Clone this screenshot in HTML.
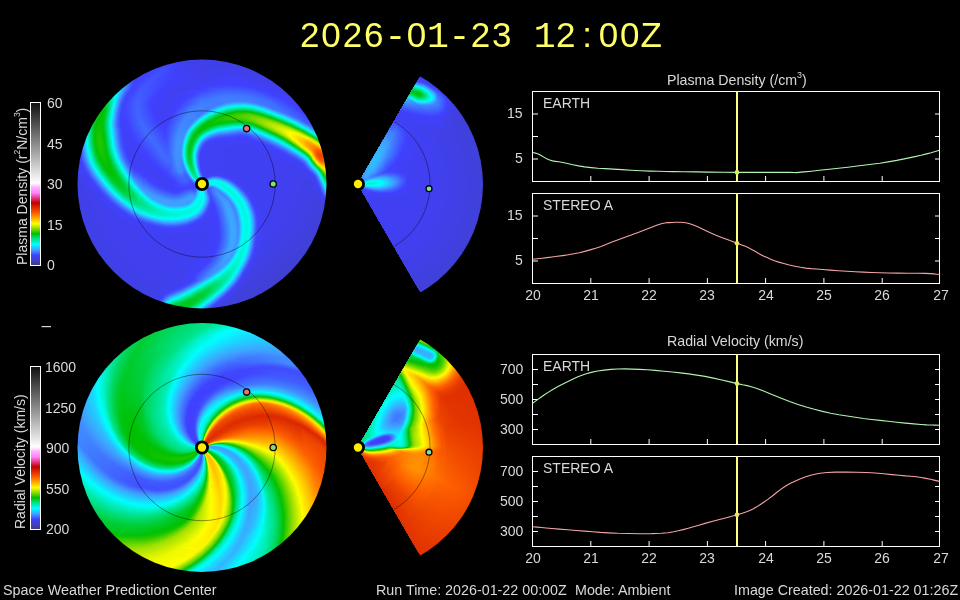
<!DOCTYPE html><html><head><meta charset="utf-8"><style>
*{margin:0;padding:0;box-sizing:border-box}
html,body{width:960px;height:600px;background:#000;overflow:hidden}
body{position:relative;font-family:"Liberation Sans",sans-serif;color:#d8d8d8}
.t{position:absolute;white-space:nowrap;line-height:1;will-change:transform}
.disc{position:absolute;left:0;top:0;width:960px;height:600px}
.rc{position:absolute}
.rc i{position:absolute;border-radius:50%}
.blur{filter:blur(0.4px)}
</style></head><body><div class="t" style="left:298.5px;top:17px;font-size:35px;color:#ffff66"><span style="display:inline-block;width:21.35px;text-align:center">2</span><span style="display:inline-block;width:21.35px;text-align:center">0</span><span style="display:inline-block;width:21.35px;text-align:center">2</span><span style="display:inline-block;width:21.35px;text-align:center">6</span><span style="display:inline-block;width:21.35px;text-align:center;font-family:'Liberation Mono',monospace;font-size:36.5px">-</span><span style="display:inline-block;width:21.35px;text-align:center">0</span><span style="display:inline-block;width:21.35px;text-align:center;font-family:'Liberation Mono',monospace;font-size:36.5px">1</span><span style="display:inline-block;width:21.35px;text-align:center;font-family:'Liberation Mono',monospace;font-size:36.5px">-</span><span style="display:inline-block;width:21.35px;text-align:center">2</span><span style="display:inline-block;width:21.35px;text-align:center">3</span><span style="display:inline-block;width:21.35px;text-align:center">&nbsp;</span><span style="display:inline-block;width:21.35px;text-align:center;font-family:'Liberation Mono',monospace;font-size:36.5px">1</span><span style="display:inline-block;width:21.35px;text-align:center">2</span><span style="display:inline-block;width:21.35px;text-align:center">:</span><span style="display:inline-block;width:21.35px;text-align:center">0</span><span style="display:inline-block;width:21.35px;text-align:center">0</span><span style="display:inline-block;width:21.35px;text-align:center">Z</span></div>
<div class="disc" style="clip-path:circle(124.5px at 202px 184px)"><div class="disc blur" style="border-radius:0"><div class="rc" style="left:76px;top:58px;width:252px;height:252px"><i style="inset:0px;background:conic-gradient(#4040e8 0%,#4040eb 11.67%,#4040ff 16.11%,#4052ff 17.5%,#408aff 18.06%,#34b2ff 18.33%,#13e3ff 18.61%,#00f6dc 18.89%,#00e38c 19.17%,#00c71e 19.44%,#57d100 19.72%,#c6ec00 20%,#ffe900 20.28%,#ff9000 20.83%,#ff6800 21.39%,#ff7600 21.94%,#ffa700 22.5%,#fff500 23.06%,#37cb00 24.17%,#00c30d 24.44%,#00cf3c 24.72%,#00e182 25%,#00f7dd 25.56%,#0debff 25.83%,#4097ff 26.39%,#405fff 26.67%,#4040f6 26.94%,#4040db 27.78%,#4040cf 36.94%,#4040db 47.22%,#4040f3 48.89%,#4042ff 49.17%,#409eff 50%,#0befff 50.56%,#00f8e1 50.83%,#00d142 51.94%,#00cb2d 52.22%,#00c71c 52.78%,#00cc2f 53.61%,#00d555 53.89%,#00f8e2 54.44%,#1fd1ff 54.72%,#408fff 55%,#405bff 55.28%,#4040fa 55.56%,#4040e6 56.67%,#4040e8 75.28%,#4040eb 77.22%,#4040fd 78.61%,#4062ff 79.44%,#409eff 80.28%,#00fffe 81.39%,#00eaa9 82.22%,#00cc32 83.61%,#00c411 84.17%,#00c001 84.72%,#00c104 85.28%,#00cc30 86.11%,#00f7df 87.78%,#00fdf8 88.06%,#0af1ff 88.33%,#3ea2ff 89.44%,#4040fd 91.11%,#4042ff 95.56%,#4040ea 97.78%,#4040e8 100%)"></i><i style="inset:1px;background:conic-gradient(#4040e8 0%,#4040ea 10.83%,#4042ff 15.83%,#4053ff 17.22%,#4063ff 17.5%,#3ca6ff 18.06%,#1dd3ff 18.33%,#00fcf1 18.61%,#00e9a7 18.89%,#00d042 19.17%,#31ca00 19.44%,#a5e200 19.72%,#fffa00 20%,#ff9300 20.56%,#ff6f00 20.83%,#f75400 21.39%,#ff6200 21.94%,#ff7b00 22.22%,#fff700 23.06%,#1bc500 24.17%,#00cc2e 24.44%,#00e9a4 25%,#01fdff 25.56%,#38acff 26.11%,#4051ff 26.67%,#4040f2 26.94%,#4040dd 27.5%,#4040da 28.06%,#4040d0 38.89%,#4040db 47.22%,#4040e8 48.33%,#4040fb 48.89%,#4051ff 49.17%,#4090ff 49.72%,#15e0ff 50.28%,#00fcf1 50.56%,#00d34a 51.67%,#00c922 52.22%,#00c71b 52.78%,#00ca29 53.33%,#00d03e 53.61%,#00da67 53.89%,#00fbed 54.44%,#24caff 54.72%,#408aff 55%,#4058ff 55.28%,#4040f9 55.56%,#4040e6 56.67%,#4040e8 75.28%,#4040ed 77.22%,#4040fd 78.33%,#4061ff 79.17%,#409cff 80%,#11e6ff 80.83%,#00fffe 81.11%,#00d041 83.06%,#00c40f 83.89%,#02c000 84.44%,#00c104 85.28%,#00c820 85.83%,#00fbf0 87.78%,#06f6ff 88.06%,#4096ff 89.44%,#4062ff 90.28%,#4040fa 91.11%,#4048ff 95%,#4040ff 95.83%,#4040eb 97.78%,#4040e8 100%)"></i><i style="inset:2px;background:conic-gradient(#4040e8 0%,#4040eb 10.56%,#4040ff 15.28%,#405eff 17.22%,#409bff 17.78%,#04f8ff 18.33%,#00efbe 18.61%,#00da69 18.89%,#0cc200 19.17%,#e5f600 19.72%,#ffd600 20%,#ff7500 20.56%,#fa5900 20.83%,#f14a00 21.39%,#fb5a00 21.94%,#ff7500 22.22%,#fcfe00 23.06%,#6fd600 23.61%,#34ca00 23.89%,#00c512 24.17%,#00d85e 24.44%,#00f2cb 25%,#00fdf7 25.28%,#18dbff 25.56%,#408fff 26.11%,#4043ff 26.67%,#4040ed 26.94%,#4040da 28.06%,#4040d0 38.89%,#4040db 46.94%,#4040f7 48.61%,#4049ff 48.89%,#39aaff 49.72%,#02fcff 50.28%,#00e9a5 50.83%,#00ce37 51.67%,#00c925 51.94%,#00c61a 52.5%,#00c924 53.06%,#00d553 53.61%,#00edb5 54.17%,#00fefc 54.44%,#2ac0ff 54.72%,#4084ff 55%,#4055ff 55.28%,#4040f8 55.56%,#4040e6 56.67%,#4040e8 75%,#4040ec 76.94%,#4040fd 78.06%,#4061ff 78.89%,#409aff 79.72%,#00fffe 80.83%,#00cf3a 82.78%,#00c30d 83.61%,#03c100 84.17%,#00c105 85.28%,#00ca27 85.83%,#03fbff 87.78%,#409bff 89.17%,#4041ff 90.83%,#404aff 95%,#4042ff 95.83%,#4040eb 97.78%,#4040e8 100%)"></i><i style="inset:3px;background:conic-gradient(#4040e8 0%,#4040ec 10.56%,#4040ff 14.72%,#4059ff 16.94%,#4092ff 17.5%,#0eeaff 18.06%,#00f5d6 18.33%,#00e289 18.61%,#00c71b 18.89%,#55d100 19.17%,#c0eb00 19.44%,#ffec00 19.72%,#ffb800 20%,#ff6000 20.56%,#ed4400 21.11%,#ed4400 21.39%,#fa5800 21.94%,#ff7800 22.22%,#ffdc00 22.78%,#def400 23.06%,#00c000 23.89%,#00e594 24.44%,#00fdf8 25%,#13e3ff 25.28%,#4097ff 25.83%,#4040f9 26.67%,#4040e1 27.22%,#4040dc 27.78%,#4040d1 36.67%,#4040db 46.67%,#4040f4 48.33%,#4042ff 48.61%,#409fff 49.44%,#0aefff 50%,#00f8e1 50.28%,#00d03f 51.39%,#00ca28 51.67%,#00c619 52.22%,#00c81f 52.78%,#00d247 53.33%,#00e596 53.89%,#09f2ff 54.44%,#32b5ff 54.72%,#407dff 55%,#4051ff 55.28%,#4040f7 55.56%,#4040e6 56.67%,#4040e8 75%,#4040fc 77.78%,#4061ff 78.61%,#4099ff 79.44%,#00ffff 80.56%,#00cd35 82.5%,#00c513 83.06%,#04c100 83.89%,#00c000 85%,#00c30b 85.28%,#00cd34 85.83%,#00fefc 87.5%,#409aff 88.89%,#4052ff 90.28%,#4040fc 90.83%,#404cff 95%,#4044ff 95.83%,#4040eb 97.78%,#4040e8 100%)"></i><i style="inset:4px;background:conic-gradient(#4040e9 0%,#4040ec 9.72%,#4042ff 14.44%,#4059ff 16.67%,#408aff 17.22%,#36afff 17.5%,#18dbff 17.78%,#00faea 18.06%,#00e8a3 18.33%,#00d142 18.61%,#30ca00 18.89%,#fbfe00 19.44%,#ff7300 20.28%,#f95700 20.56%,#eb4100 21.11%,#f14b00 21.67%,#fc5c00 21.94%,#ff8200 22.22%,#fff300 22.78%,#b8e800 23.06%,#08c200 23.61%,#00d145 23.89%,#00e593 24.17%,#00f1c5 24.44%,#00fcf2 24.72%,#16deff 25%,#4096ff 25.56%,#4043ff 26.39%,#4040f2 26.67%,#4040dc 27.78%,#4040d2 39.44%,#4040dd 46.67%,#4040e4 47.5%,#4040fd 48.33%,#4053ff 48.61%,#4093ff 49.17%,#14e2ff 49.72%,#00fcf1 50%,#00dc6e 50.83%,#00cc2e 51.39%,#00c618 52.22%,#00ca28 52.78%,#00cf3d 53.06%,#00ecb1 53.89%,#00f8e4 54.17%,#15e0ff 54.44%,#3ba8ff 54.72%,#4074ff 55%,#404cff 55.28%,#4040f6 55.56%,#4040e7 56.67%,#4040e9 74.72%,#4040fb 77.5%,#4051ff 78.06%,#4099ff 79.17%,#01fdff 80.28%,#00d34b 81.94%,#00c71c 82.5%,#02c000 83.33%,#03c100 84.72%,#00c106 85%,#00cb2d 85.56%,#00fcf3 87.22%,#0cedff 87.5%,#409bff 88.61%,#4040ff 90.56%,#404eff 95%,#4040ff 96.11%,#4040ec 97.78%,#4040e9 100%)"></i><i style="inset:5px;background:conic-gradient(#4040e9 0%,#4040ed 9.44%,#4040fe 13.61%,#405bff 16.39%,#4069ff 16.67%,#3ca6ff 17.22%,#00fffe 17.78%,#00da67 18.33%,#08c200 18.61%,#77d800 18.89%,#d5f100 19.17%,#ffe200 19.44%,#ff6800 20.28%,#f75400 20.56%,#ec4200 21.11%,#f45000 21.67%,#ff6700 21.94%,#ffd100 22.5%,#e7f700 22.78%,#1bc500 23.33%,#00d042 23.61%,#00e48f 23.89%,#00f2cb 24.17%,#00fdf9 24.44%,#16deff 24.72%,#409aff 25.28%,#4045ff 26.11%,#4040f8 26.39%,#4040e5 26.94%,#4040dd 27.78%,#4040d3 37.78%,#4040dd 46.39%,#4040fa 48.06%,#4068ff 48.61%,#37adff 49.17%,#01feff 49.72%,#00e9a4 50.28%,#00ce37 51.11%,#00c924 51.39%,#00c618 51.94%,#00c923 52.5%,#00cd35 52.78%,#00e8a1 53.61%,#00feff 54.17%,#4099ff 54.72%,#4047ff 55.28%,#4040f5 55.56%,#4040e7 56.67%,#4040e9 75%,#4042ff 77.5%,#4099ff 78.89%,#02fbff 80%,#00cc2f 81.94%,#01c000 82.78%,#04c100 84.44%,#00c411 85%,#00d040 85.56%,#00faeb 86.94%,#09f2ff 87.22%,#4099ff 88.33%,#4042ff 90.28%,#404fff 95%,#4040ff 96.11%,#4040ec 97.78%,#4040e9 100%)"></i><i style="inset:6px;background:conic-gradient(#4040e9 0%,#4040ed 8.61%,#4040fe 13.06%,#405dff 16.11%,#4065ff 16.39%,#409fff 16.94%,#08f3ff 17.5%,#00f3ce 17.78%,#00e186 18.06%,#00c71d 18.33%,#4dcf00 18.61%,#b3e600 18.89%,#fff900 19.17%,#ffa000 19.72%,#ff6500 20.28%,#f04800 21.11%,#fb5a00 21.67%,#ff7e00 21.94%,#fff000 22.5%,#b0e500 22.78%,#3ccc00 23.06%,#00cd33 23.33%,#00e48f 23.61%,#03fbff 24.17%,#4094ff 25%,#405dff 25.56%,#4040f8 26.11%,#4040de 27.5%,#4040d4 37.5%,#4040dd 46.11%,#4040f8 47.78%,#4048ff 48.06%,#3ea3ff 48.89%,#09f1ff 49.44%,#00f7de 49.72%,#00d040 50.83%,#00c81e 51.39%,#00c619 51.94%,#00cc2f 52.5%,#00d249 52.78%,#00faec 53.89%,#11e5ff 54.17%,#408aff 54.72%,#4042ff 55.28%,#4040ec 55.83%,#4040e7 56.67%,#4040ea 75%,#4040fe 77.22%,#405bff 77.78%,#4097ff 78.61%,#04f9ff 79.72%,#00cb2d 81.67%,#04c100 82.5%,#0cc200 83.06%,#04c100 84.17%,#00c410 84.72%,#00cf3b 85.28%,#05f8ff 86.94%,#4096ff 88.06%,#406aff 88.89%,#4044ff 90%,#4050ff 94.44%,#4040fc 96.39%,#4040e9 100%)"></i><i style="inset:7px;background:conic-gradient(#4040ea 0%,#4040ee 8.61%,#4041ff 12.78%,#4063ff 16.11%,#4098ff 16.67%,#10e7ff 17.22%,#00f7e0 17.5%,#00e79c 17.78%,#00d041 18.06%,#2ac800 18.33%,#e6f700 18.89%,#ffdc00 19.17%,#ff9100 19.72%,#ff6800 20.28%,#f75400 20.83%,#fb5a00 21.39%,#ff7100 21.67%,#ffd600 22.22%,#daf300 22.5%,#67d500 22.78%,#00c514 23.06%,#00e286 23.33%,#00f3ce 23.61%,#06f7ff 23.89%,#36afff 24.44%,#408eff 24.72%,#4049ff 25.56%,#4040fa 25.83%,#4040df 27.5%,#4040d5 36.67%,#4040dc 45.56%,#4040f6 47.5%,#4044ff 47.78%,#409aff 48.61%,#11e6ff 49.17%,#00fbee 49.44%,#00d34c 50.56%,#00c923 51.11%,#00c61a 51.67%,#00cb2a 52.22%,#00d041 52.5%,#00f6dc 53.61%,#07f5ff 53.89%,#3da4ff 54.44%,#4057ff 55%,#4040fc 55.28%,#4040ec 55.83%,#4040e8 56.67%,#4040ea 75%,#4040fc 76.94%,#4057ff 77.5%,#4094ff 78.33%,#05f8ff 79.44%,#00cb2c 81.39%,#00c105 81.94%,#06c100 82.22%,#0fc300 83.06%,#03c100 83.89%,#00c410 84.44%,#00ce39 85%,#01fdff 86.67%,#38abff 87.5%,#4095ff 87.78%,#4066ff 88.61%,#4043ff 89.72%,#4051ff 94.17%,#4040fc 96.39%,#4040ea 100%)"></i><i style="inset:8px;background:conic-gradient(#4040ea 0%,#4040ef 8.33%,#4040ff 12.22%,#4061ff 15.83%,#4093ff 16.39%,#17ddff 16.94%,#00fbf0 17.22%,#00d860 17.78%,#06c100 18.06%,#c5ec00 18.61%,#fff200 18.89%,#ffc400 19.17%,#ff8a00 19.72%,#ff6600 20.56%,#ff6500 21.11%,#ff7400 21.39%,#ff9400 21.67%,#feff00 22.22%,#92dd00 22.5%,#12c400 22.78%,#00dc6e 23.06%,#00f1c7 23.33%,#07f5ff 23.61%,#3ca6ff 24.17%,#406dff 24.72%,#4040fa 25.56%,#4040e0 27.5%,#4040d6 38.33%,#4040df 45.83%,#4041ff 47.5%,#4090ff 48.33%,#19daff 48.89%,#00fefc 49.17%,#00e9a4 49.72%,#00cf3b 50.56%,#00c71c 51.39%,#00ca27 51.94%,#00cf3b 52.22%,#00e9a5 53.06%,#00fefb 53.61%,#18dbff 53.89%,#408fff 54.44%,#404dff 55%,#4040f9 55.28%,#4040e8 56.67%,#4040ea 74.72%,#4040fb 76.67%,#4053ff 77.22%,#3aa9ff 78.33%,#05f7ff 79.17%,#00fae9 79.44%,#00cb2d 81.11%,#00c104 81.67%,#13c400 82.5%,#05c100 83.61%,#00c410 84.17%,#00ce38 84.72%,#00fefb 86.39%,#4095ff 87.5%,#4062ff 88.33%,#4041ff 89.44%,#4052ff 93.61%,#4040fc 96.39%,#4040ea 100%)"></i><i style="inset:9px;background:conic-gradient(#4040ea 0%,#4040ef 7.5%,#4040ff 11.67%,#4063ff 15.56%,#36afff 16.39%,#00fefc 16.94%,#00df7c 17.5%,#00c619 17.78%,#47ce00 18.06%,#a5e200 18.33%,#f3fb00 18.61%,#ff9a00 19.44%,#ff8800 19.72%,#ff7700 20.56%,#ff8400 21.11%,#ff9900 21.39%,#fff300 21.94%,#b4e700 22.22%,#3acc00 22.5%,#00d24a 22.78%,#00ecb1 23.06%,#01feff 23.33%,#40a0ff 23.89%,#4054ff 24.72%,#4040f9 25.28%,#4040e1 27.22%,#4040d7 38.33%,#4040df 45.56%,#4040fd 47.22%,#406bff 47.78%,#38abff 48.33%,#05f7ff 48.89%,#00d145 50.28%,#00c924 50.83%,#00c81e 51.39%,#00cd35 51.94%,#00d451 52.22%,#00fbee 53.33%,#10e7ff 53.61%,#409dff 54.17%,#4044ff 55%,#4040f6 55.28%,#4040e8 56.39%,#4040ea 73.61%,#4040f9 76.39%,#404eff 76.94%,#3ea3ff 78.06%,#07f5ff 78.89%,#00faea 79.17%,#00cb2e 80.83%,#00c103 81.39%,#16c400 82.22%,#09c200 83.33%,#00c410 83.89%,#00ce38 84.44%,#00fdf7 86.11%,#10e7ff 86.39%,#4097ff 87.22%,#406dff 87.78%,#4053ff 88.33%,#4040ff 89.17%,#4054ff 93.06%,#4041ff 96.11%,#4040ee 97.78%,#4040ea 100%)"></i><i style="inset:10px;background:conic-gradient(#4040ea 0%,#4040ef 7.22%,#4040fe 11.11%,#4065ff 15.28%,#4073ff 15.56%,#39abff 16.11%,#05f8ff 16.67%,#00e48f 17.22%,#00ce38 17.5%,#29c800 17.78%,#d5f100 18.33%,#ffeb00 18.61%,#ffa900 19.17%,#ff9600 19.44%,#ff8600 20%,#ff9200 20.56%,#ffad00 21.11%,#fff200 21.67%,#c6ec00 21.94%,#5cd200 22.22%,#00c822 22.5%,#00e594 22.78%,#00fae9 23.06%,#1ed3ff 23.33%,#3ea3ff 23.61%,#407eff 23.89%,#4041ff 24.72%,#4040e2 26.94%,#4040d8 36.94%,#4040de 45%,#4040e7 46.11%,#4040fc 46.94%,#4066ff 47.5%,#3da4ff 48.06%,#0cedff 48.61%,#00f9e7 48.89%,#00d44f 50%,#00ca2a 50.56%,#00c821 51.11%,#00cc32 51.67%,#00d249 51.94%,#00f8e2 53.06%,#08f3ff 53.33%,#3aa9ff 53.89%,#4069ff 54.44%,#4040fd 55%,#4040ee 55.56%,#4040e9 56.67%,#4040eb 74.44%,#4040fd 76.39%,#405aff 76.94%,#409dff 77.78%,#09f1ff 78.61%,#00fbee 78.89%,#00cc30 80.56%,#00c103 81.11%,#0bc200 81.39%,#19c500 82.22%,#02c000 83.33%,#00c40e 83.61%,#00d554 84.44%,#00fdf5 85.83%,#0eeaff 86.11%,#4099ff 86.94%,#405dff 87.78%,#4040ff 88.61%,#4055ff 92.5%,#4040ff 96.11%,#4040ee 97.78%,#4040ea 100%)"></i><i style="inset:11px;background:conic-gradient(#4040eb 0%,#4040fe 10.56%,#4067ff 15%,#4072ff 15.28%,#3ba7ff 15.83%,#0af0ff 16.39%,#00f6db 16.67%,#00e89f 16.94%,#00d451 17.22%,#0bc200 17.5%,#b8e800 18.06%,#feff00 18.33%,#ffb900 18.89%,#ff9400 19.44%,#ff9000 20%,#ff9e00 20.28%,#fffd00 21.39%,#c1eb00 21.67%,#6dd600 21.94%,#00c104 22.22%,#00de77 22.5%,#00f3cf 22.78%,#12e4ff 23.06%,#38adff 23.33%,#4081ff 23.61%,#4062ff 23.89%,#4040fe 24.44%,#4040e3 26.67%,#4040d9 36.94%,#4040df 45%,#4040fb 46.67%,#404cff 46.94%,#409fff 47.78%,#11e5ff 48.33%,#00fcf3 48.61%,#00e8a1 49.17%,#00d041 50%,#00c923 50.83%,#00cc2f 51.39%,#00d144 51.67%,#02fdff 53.06%,#4092ff 53.89%,#405aff 54.44%,#4040f8 55%,#4040e9 56.39%,#4040eb 73.33%,#4040fb 76.11%,#4054ff 76.67%,#4096ff 77.5%,#0decff 78.33%,#00fcf3 78.61%,#00c618 80.56%,#00c104 80.83%,#0bc200 81.11%,#1bc500 82.22%,#00c20a 83.33%,#00d554 84.17%,#00fcf3 85.56%,#0cedff 85.83%,#409cff 86.67%,#405dff 87.5%,#4040fd 88.33%,#4057ff 91.94%,#4040fe 96.11%,#4040eb 100%)"></i><i style="inset:12px;background:conic-gradient(#4040eb 0%,#4040fe 10%,#4068ff 14.72%,#4071ff 15%,#3da5ff 15.56%,#0eeaff 16.11%,#00f9e5 16.39%,#00ebac 16.67%,#00da68 16.94%,#00c30e 17.22%,#48ce00 17.5%,#e3f600 18.06%,#ffea00 18.33%,#ffb100 18.89%,#ffa200 19.17%,#ff9700 19.44%,#ffa200 20%,#fff600 20.83%,#ade400 21.39%,#66d400 21.67%,#0dc300 21.94%,#00d861 22.22%,#05f8ff 22.78%,#2cbdff 23.06%,#408dff 23.33%,#404cff 23.89%,#4040fd 24.17%,#4040e4 26.39%,#4040da 36.94%,#4040e0 44.72%,#4040fa 46.39%,#405fff 46.94%,#4098ff 47.5%,#17dcff 48.06%,#00fefc 48.33%,#00ebab 48.89%,#00d24a 49.72%,#00cb2c 50.28%,#00ca26 50.83%,#00d03f 51.39%,#00d75b 51.67%,#00fdf7 52.78%,#14e2ff 53.06%,#409dff 53.61%,#4063ff 54.17%,#4040fd 54.72%,#4040e9 56.39%,#4040eb 73.89%,#4040f9 75.83%,#4041ff 76.11%,#4060ff 76.67%,#3aa9ff 77.5%,#12e4ff 78.06%,#00fefb 78.33%,#00d553 79.72%,#00c105 80.56%,#1dc600 81.67%,#0cc200 82.78%,#00c103 83.06%,#00c619 83.33%,#00fcf1 85.28%,#0beeff 85.56%,#409eff 86.39%,#405fff 87.22%,#4040fc 88.06%,#4058ff 91.67%,#4040fd 96.11%,#4040eb 100%)"></i><i style="inset:13px;background:conic-gradient(#4040eb 0%,#4040fe 9.44%,#406aff 14.44%,#4070ff 14.72%,#3fa2ff 15.28%,#11e5ff 15.83%,#00fbee 16.11%,#00df7b 16.67%,#00c926 16.94%,#31ca00 17.22%,#c9ed00 17.78%,#fff900 18.06%,#ffab00 18.89%,#ffa000 19.44%,#ffb800 20%,#fffc00 20.56%,#05c100 21.67%,#00d658 21.94%,#00fcf2 22.5%,#20cfff 22.78%,#409eff 23.06%,#4053ff 23.61%,#4040fd 23.89%,#4040e5 26.11%,#4040db 36.67%,#4040e0 44.44%,#4040fa 46.11%,#4048ff 46.39%,#4094ff 47.22%,#04f9ff 48.06%,#00d554 49.44%,#00cd33 50%,#00ca2a 50.56%,#00cf3c 51.11%,#00d555 51.39%,#00faec 52.5%,#0debff 52.78%,#3ca6ff 53.33%,#4054ff 54.17%,#4040f8 54.72%,#4040ea 56.11%,#4040eb 73.33%,#4040fe 75.83%,#405aff 76.39%,#3fa1ff 77.22%,#03fbff 78.06%,#00ce37 79.72%,#00c207 80.28%,#1ec600 81.39%,#19c500 82.22%,#03c100 82.78%,#00cb2d 83.33%,#00fbef 85%,#0af0ff 85.28%,#409fff 86.11%,#4060ff 86.94%,#4040fc 87.78%,#4059ff 91.11%,#4040ff 95.83%,#4040eb 100%)"></i><i style="inset:14px;background:conic-gradient(#4040ec 0%,#4040fe 8.89%,#406bff 14.17%,#4070ff 14.44%,#3fa1ff 15%,#14e1ff 15.56%,#00fcf4 15.83%,#00e288 16.39%,#00ce3a 16.67%,#19c500 16.94%,#b1e600 17.5%,#eef900 17.78%,#ffe700 18.06%,#ffba00 18.61%,#ffa900 19.17%,#ffb700 19.72%,#fff800 20.28%,#c5ec00 20.56%,#27c800 21.11%,#00c619 21.39%,#00f9e5 22.22%,#17ddff 22.5%,#37adff 22.78%,#405dff 23.33%,#4044ff 23.61%,#4040f6 23.89%,#4040e5 26.11%,#4040dc 38.06%,#4040e0 44.17%,#4040f8 45.83%,#405bff 46.39%,#4090ff 46.94%,#36afff 47.22%,#09f2ff 47.78%,#00f9e4 48.06%,#00d75d 49.17%,#00ce38 49.72%,#00cb2e 50.28%,#00cf3b 50.83%,#00d450 51.11%,#00f8e1 52.22%,#07f4ff 52.5%,#36afff 53.06%,#408fff 53.33%,#405bff 53.89%,#4040fb 54.44%,#4040ea 56.39%,#4040ec 73.61%,#4040fb 75.56%,#4055ff 76.11%,#4097ff 76.94%,#09f2ff 77.78%,#00faea 78.06%,#00cf3b 79.44%,#00c209 80%,#08c200 80.28%,#1bc500 80.83%,#1ec600 81.67%,#00c30a 82.78%,#00fbee 84.72%,#09f2ff 85%,#3fa1ff 85.83%,#4062ff 86.67%,#4040fc 87.5%,#405bff 90.83%,#4040fe 95.83%,#4040ec 100%)"></i><i style="inset:15px;background:conic-gradient(#4040ec 0%,#4040ff 8.33%,#4070ff 14.17%,#409fff 14.72%,#16deff 15.28%,#00fefa 15.56%,#00e492 16.11%,#00d34b 16.39%,#06c100 16.67%,#9bdf00 17.22%,#d7f200 17.5%,#fff700 17.78%,#ffb900 18.61%,#ffb000 19.17%,#ffbb00 19.44%,#fff100 20%,#d2f000 20.28%,#21c700 20.83%,#00ce38 21.11%,#00df7d 21.39%,#00f9e5 21.94%,#10e7ff 22.22%,#408eff 22.78%,#404dff 23.33%,#4040fa 23.61%,#4040e6 25.56%,#4040dd 36.94%,#4040e1 43.89%,#4040f8 45.56%,#4045ff 45.83%,#408cff 46.67%,#38acff 46.94%,#0cedff 47.5%,#00fbee 47.78%,#00e9a4 48.33%,#00d44f 49.17%,#00cd32 50%,#00cf3a 50.56%,#00d34d 50.83%,#00ebaf 51.67%,#01fdff 52.22%,#4097ff 53.06%,#4062ff 53.61%,#4040fe 54.17%,#4040ee 55%,#4040ea 56.39%,#4040ec 73.61%,#4041ff 75.56%,#408fff 76.67%,#39abff 76.94%,#0fe8ff 77.5%,#00fcf4 77.78%,#00d040 79.17%,#00c30c 79.72%,#05c100 80%,#1ac500 80.56%,#1fc600 81.39%,#00c104 82.5%,#00ce3a 83.06%,#00faec 84.44%,#08f4ff 84.72%,#3ea4ff 85.56%,#4063ff 86.39%,#4040fd 87.22%,#405cff 90.56%,#4040ff 95.56%,#4040ec 100%)"></i><i style="inset:16px;background:conic-gradient(#4040ed 0%,#4040ff 7.78%,#4070ff 13.89%,#409fff 14.44%,#00fffd 15.28%,#00e69a 15.83%,#00c30c 16.39%,#85db00 16.94%,#f8fd00 17.5%,#ffc200 18.33%,#ffbd00 19.17%,#ffeb00 19.72%,#e1f500 20%,#96de00 20.28%,#35cb00 20.56%,#00cc2f 20.83%,#00e38c 21.11%,#00f0c1 21.39%,#00fbef 21.67%,#11e6ff 21.94%,#4098ff 22.5%,#4041ff 23.33%,#4040e8 24.72%,#4040de 35.56%,#4040e1 43.61%,#4040f7 45.28%,#4043ff 45.56%,#4057ff 45.83%,#3ca7ff 46.67%,#10e7ff 47.22%,#00fcf4 47.5%,#00ebac 48.06%,#00d659 48.89%,#00cf3d 49.44%,#00cd36 50%,#00d34c 50.56%,#00d965 50.83%,#00fdf6 51.94%,#13e3ff 52.22%,#409fff 52.78%,#4053ff 53.61%,#4040f9 54.17%,#4040eb 55.83%,#4040ec 72.5%,#4040fd 75.28%,#405aff 75.83%,#40a0ff 76.67%,#00ffff 77.5%,#00d247 78.89%,#03c100 79.72%,#18c500 80.28%,#20c600 81.11%,#18c500 81.67%,#00c000 82.22%,#00cc31 82.78%,#00fae9 84.17%,#06f5ff 84.44%,#3ca6ff 85.28%,#4065ff 86.11%,#4040fe 86.94%,#405dff 90.28%,#4040ff 95.28%,#4040ed 100%)"></i><i style="inset:17px;background:conic-gradient(#4040ed 0%,#4040ff 7.22%,#406bff 11.67%,#4071ff 13.61%,#409eff 14.17%,#01fdff 15%,#00e8a1 15.56%,#00c71a 16.11%,#2dc900 16.39%,#b0e500 16.94%,#e3f600 17.22%,#fff400 17.5%,#ffcf00 18.06%,#ffc100 18.61%,#ffd000 19.17%,#ffe800 19.44%,#edf900 19.72%,#a8e300 20%,#4fd000 20.28%,#00c515 20.56%,#00e07f 20.83%,#00f1c7 21.11%,#00fffd 21.39%,#16deff 21.67%,#409aff 22.22%,#405fff 22.78%,#4040f9 23.33%,#4040e8 24.72%,#4040de 36.39%,#4040e1 43.33%,#4040f6 45%,#4041ff 45.28%,#4053ff 45.56%,#3da4ff 46.39%,#13e2ff 46.94%,#00fefb 47.22%,#00edb4 47.78%,#00d962 48.61%,#00d145 49.17%,#00cf3b 49.72%,#00d34c 50.28%,#00d962 50.56%,#00fbed 51.67%,#0debff 51.94%,#3ba8ff 52.5%,#4059ff 53.33%,#4040fb 53.89%,#4040eb 56.11%,#4040ed 73.06%,#4040fb 75%,#4053ff 75.56%,#4098ff 76.39%,#07f4ff 77.22%,#00f9e5 77.5%,#00cc30 78.89%,#00c001 79.44%,#0dc300 79.72%,#20c600 80.83%,#19c500 81.39%,#03c100 81.94%,#00ca2a 82.5%,#04f9ff 84.17%,#3aa9ff 85%,#4068ff 85.83%,#4040ff 86.67%,#405eff 90%,#4041ff 95%,#4040ed 100%)"></i><i style="inset:18px;background:conic-gradient(#4040ee 0%,#4040ff 6.67%,#406cff 11.39%,#4072ff 13.33%,#409fff 13.89%,#02fbff 14.72%,#00e9a6 15.28%,#00ca27 15.83%,#20c600 16.11%,#9fe000 16.67%,#fcfe00 17.22%,#ffda00 17.78%,#ffc900 18.33%,#ffc900 18.61%,#ffe700 19.17%,#f7fc00 19.44%,#b9e800 19.72%,#08c200 20.28%,#00edb5 20.83%,#00fdf9 21.11%,#1cd5ff 21.39%,#409aff 21.94%,#4065ff 22.5%,#4040fd 23.06%,#4040e9 24.44%,#4040df 37.5%,#4040e3 43.61%,#4040fd 45%,#4067ff 45.56%,#40a0ff 46.11%,#01fdff 46.94%,#00e79d 47.78%,#00db6a 48.33%,#00d34a 48.89%,#00d03f 49.44%,#00d34d 50%,#00d861 50.28%,#00f9e4 51.39%,#08f3ff 51.67%,#36b0ff 52.22%,#4091ff 52.5%,#405eff 53.06%,#4040fe 53.61%,#4040eb 55.83%,#4040ed 73.06%,#4041ff 75%,#405fff 75.56%,#3aa9ff 76.39%,#10e8ff 76.94%,#00fcf1 77.22%,#00ce39 78.61%,#00c206 79.17%,#09c200 79.44%,#1ac500 80%,#1ec600 80.83%,#05c100 81.67%,#00c30e 81.94%,#00d143 82.5%,#00fefd 83.89%,#38abff 84.72%,#4093ff 85%,#4059ff 85.83%,#4041ff 86.39%,#405fff 90%,#4041ff 94.72%,#4040ee 100%)"></i><i style="inset:19px;background:conic-gradient(#4040ee 0%,#4040ff 6.11%,#406cff 10.83%,#4074ff 13.06%,#40a0ff 13.61%,#04f9ff 14.44%,#00eaab 15%,#00de76 15.28%,#00cc31 15.56%,#13c400 15.83%,#8fdd00 16.39%,#edf900 16.94%,#fff600 17.22%,#ffd300 18.06%,#ffd600 18.61%,#ffe700 18.89%,#fcfe00 19.17%,#c4ec00 19.44%,#7cd900 19.72%,#23c700 20%,#00d041 20.28%,#00e79d 20.56%,#00f9e5 20.83%,#16dfff 21.11%,#34b2ff 21.39%,#407cff 21.94%,#4042ff 22.78%,#4040f8 23.06%,#4040e8 24.72%,#4040e0 38.89%,#4040e4 43.33%,#4040fc 44.72%,#404dff 45%,#409bff 45.83%,#03faff 46.67%,#00e9a5 47.5%,#00d860 48.33%,#00d247 49.17%,#00d44f 49.72%,#00d861 50%,#00e698 50.56%,#03faff 51.39%,#4098ff 52.22%,#4064ff 52.78%,#4042ff 53.33%,#4040eb 55.56%,#4040ed 72.78%,#4040fe 74.72%,#4059ff 75.28%,#40a0ff 76.11%,#00ffff 76.94%,#00d143 78.33%,#00c30d 78.89%,#05c100 79.17%,#18c500 79.72%,#1dc600 80.56%,#06c100 81.39%,#00c30b 81.67%,#00d03e 82.22%,#00fbf0 83.61%,#0eebff 83.89%,#4096ff 84.72%,#405cff 85.56%,#4043ff 86.11%,#4042ff 87.22%,#405fff 89.72%,#4041ff 94.44%,#4040ee 100%)"></i><i style="inset:20px;background:conic-gradient(#4040ef 0%,#4040ff 5.56%,#406eff 10.56%,#4073ff 12.5%,#4077ff 12.78%,#3fa1ff 13.33%,#04f9ff 14.17%,#00f6dc 14.44%,#00df7d 15%,#0ac200 15.56%,#b3e600 16.39%,#ffff00 16.94%,#ffd900 17.78%,#ffd900 18.06%,#ffdd00 18.33%,#feff00 18.89%,#ceef00 19.17%,#8ddc00 19.44%,#3acc00 19.72%,#00c923 20%,#00e186 20.28%,#00f3cf 20.56%,#0af0ff 20.83%,#4096ff 21.39%,#4078ff 21.67%,#4045ff 22.5%,#4040fa 22.78%,#4040e9 24.44%,#4040e1 37.5%,#4040e4 43.06%,#4040fa 44.44%,#4061ff 45%,#4099ff 45.56%,#08f4ff 46.39%,#00f9e8 46.67%,#00ebab 47.22%,#00db6c 48.06%,#00d75c 48.33%,#00d34c 49.17%,#00d862 49.72%,#00edb4 50.56%,#00fffe 51.11%,#409fff 51.94%,#4055ff 52.78%,#4040fb 53.33%,#4040ec 55.56%,#4040ed 72.5%,#4040fc 74.44%,#4054ff 75%,#4095ff 75.83%,#09f2ff 76.67%,#00f9e4 76.94%,#00cc2e 78.33%,#00c000 78.89%,#0dc300 79.17%,#1cc600 80.28%,#00c209 81.39%,#00cf3a 81.94%,#00f8e3 83.33%,#06f6ff 83.61%,#409bff 84.44%,#405eff 85.28%,#4040fc 86.11%,#4040ff 86.94%,#4060ff 89.44%,#4040ff 94.17%,#4040ef 100%)"></i><i style="inset:21px;background:conic-gradient(#4040f0 0%,#4040ff 5%,#406eff 10%,#4073ff 12.22%,#407bff 12.5%,#3da4ff 13.06%,#04f9ff 13.89%,#00e081 14.72%,#00c000 15.28%,#a7e200 16.11%,#effa00 16.67%,#fff800 16.94%,#ffe000 17.78%,#feff00 18.61%,#d5f100 18.89%,#9bdf00 19.17%,#00c20a 19.72%,#00db6a 20%,#00fefc 20.56%,#21cfff 20.83%,#3ea3ff 21.11%,#4062ff 21.67%,#4040fb 22.5%,#4040ea 24.17%,#4040e1 36.67%,#4040e4 42.78%,#4040f9 44.17%,#4047ff 44.44%,#4092ff 45.28%,#0af0ff 46.11%,#00fbef 46.39%,#00ecb3 46.94%,#00de76 47.78%,#00d75d 48.33%,#00d554 48.89%,#00d657 49.17%,#00df7c 49.72%,#00ecb1 50.28%,#00fdf8 50.83%,#12e5ff 51.11%,#3ca6ff 51.67%,#405aff 52.5%,#4040fd 53.06%,#4040ec 55.28%,#4040ee 72.22%,#4040fa 74.17%,#4042ff 74.44%,#4073ff 75.28%,#3aa9ff 75.83%,#10e8ff 76.39%,#00fcf4 76.67%,#00ce37 78.06%,#00c207 78.61%,#08c200 78.89%,#1ac500 80%,#00c208 81.11%,#00ce38 81.67%,#00fffe 83.33%,#3da4ff 84.17%,#4061ff 85%,#4040fd 85.83%,#4061ff 89.44%,#4040ff 93.89%,#4040f0 100%)"></i><i style="inset:22px;background:conic-gradient(#4040f1 0%,#4040ff 4.44%,#4070ff 9.72%,#4074ff 11.94%,#3aa8ff 12.78%,#03fbff 13.61%,#00e184 14.44%,#00c206 15%,#33ca00 15.28%,#9bdf00 15.83%,#e4f600 16.39%,#fbfe00 16.67%,#ffe900 17.5%,#fff000 18.06%,#fbfe00 18.33%,#d6f200 18.61%,#a3e100 18.89%,#0dc300 19.44%,#00e8a2 20%,#00f9e5 20.28%,#15e0ff 20.56%,#34b1ff 20.83%,#406aff 21.39%,#4044ff 21.94%,#4040fb 22.22%,#4040ea 24.17%,#4040e2 35.83%,#4040e4 42.5%,#4040f7 43.89%,#4043ff 44.17%,#408fff 45%,#38acff 45.28%,#0debff 45.83%,#00fdf5 46.11%,#00e8a1 46.94%,#00e07e 47.5%,#00d75a 48.61%,#00e07e 49.44%,#00ebaf 50%,#00fcf3 50.56%,#0fe9ff 50.83%,#39abff 51.39%,#408eff 51.67%,#405fff 52.22%,#4040ff 52.78%,#4040f0 53.61%,#4040ec 55.28%,#4040ee 71.94%,#4040ff 74.17%,#4059ff 74.72%,#409dff 75.56%,#01fdff 76.39%,#00d042 77.78%,#00c30d 78.33%,#03c100 78.61%,#18c500 79.72%,#00c207 80.83%,#00cd35 81.39%,#00fdf5 83.06%,#0fe9ff 83.33%,#4092ff 84.17%,#4065ff 84.72%,#4040fe 85.56%,#4040ff 86.67%,#4062ff 89.17%,#4040ff 93.61%,#4040f1 100%)"></i><i style="inset:23px;background:conic-gradient(#4040f2 0%,#4040ff 3.89%,#4072ff 9.44%,#4076ff 11.67%,#37adff 12.5%,#01fdff 13.33%,#00e185 14.17%,#00c30d 14.72%,#2cc900 15%,#b8e800 15.83%,#f0fa00 16.39%,#fffe00 16.67%,#ffef00 17.22%,#fff700 17.78%,#f7fc00 18.06%,#a9e300 18.61%,#1fc600 19.17%,#00ce38 19.44%,#00e38e 19.72%,#00f4d1 20%,#0af1ff 20.28%,#4098ff 20.83%,#405bff 21.39%,#4040fb 21.94%,#4040eb 23.89%,#4040e3 38.61%,#4040e7 42.78%,#4040ff 43.89%,#3ba7ff 45%,#00fef9 45.83%,#00efbe 46.39%,#00e594 46.94%,#00de79 47.5%,#00d966 48.33%,#00dc71 48.89%,#00e595 49.44%,#00fbf0 50.28%,#0cedff 50.56%,#4094ff 51.39%,#4051ff 52.22%,#4040fa 52.78%,#4040ec 54.44%,#4040ee 71.11%,#4040fd 73.89%,#4066ff 74.72%,#4096ff 75.28%,#09f1ff 76.11%,#00f9e8 76.39%,#00cb2e 77.78%,#00c002 78.33%,#09c200 78.61%,#15c400 79.44%,#00c207 80.56%,#00cd33 81.11%,#00fbef 82.78%,#0af0ff 83.06%,#409cff 83.89%,#4059ff 84.72%,#4041ff 85.28%,#4040fd 86.39%,#4062ff 89.17%,#4041ff 93.06%,#4040f2 100%)"></i><i style="inset:24px;background:conic-gradient(#4040f3 0%,#4040ff 3.33%,#4071ff 8.61%,#4077ff 11.11%,#409fff 11.94%,#00fefd 13.06%,#00e184 13.89%,#00c410 14.44%,#26c800 14.72%,#afe500 15.56%,#e4f600 16.11%,#fffd00 16.67%,#fffd00 17.5%,#f1fb00 17.78%,#ade400 18.33%,#2cc900 18.89%,#00c924 19.17%,#00df7c 19.44%,#00fefc 20%,#1fd1ff 20.28%,#3ba7ff 20.56%,#4064ff 21.11%,#4040fe 21.67%,#4040eb 23.61%,#4040e4 36.67%,#4040e6 42.22%,#4040fc 43.61%,#4066ff 44.17%,#3fa2ff 44.72%,#01fdff 45.56%,#00f1c6 46.11%,#00e79d 46.67%,#00de79 47.5%,#00dc6f 48.06%,#00e186 48.89%,#00ecb0 49.44%,#00fbee 50%,#0befff 50.28%,#4097ff 51.11%,#4055ff 51.94%,#4040fb 52.5%,#4040ec 55%,#4040ee 71.67%,#4040fc 73.61%,#4062ff 74.44%,#3aa8ff 75.28%,#12e5ff 75.83%,#00fdf5 76.11%,#00ce38 77.5%,#00c208 78.06%,#05c100 78.33%,#13c400 79.17%,#00c207 80.28%,#00cc31 80.83%,#00faea 82.5%,#06f5ff 82.78%,#3ca5ff 83.61%,#4060ff 84.44%,#4040fb 85.28%,#4040ff 86.39%,#4063ff 88.89%,#4040ff 92.78%,#4040f3 100%)"></i><i style="inset:25px;background:conic-gradient(#4040f4 0%,#4040ff 2.78%,#4074ff 8.61%,#4077ff 10.83%,#3ba7ff 11.67%,#0eeaff 12.5%,#00fdf6 12.78%,#00ebab 13.33%,#00e183 13.61%,#00c513 14.17%,#23c700 14.44%,#81da00 15%,#c4ec00 15.56%,#ebf800 16.11%,#ffff00 16.94%,#ecf900 17.5%,#d1f000 17.78%,#ace400 18.06%,#36cb00 18.61%,#00c514 18.89%,#00da67 19.17%,#00faea 19.72%,#15e0ff 20%,#32b4ff 20.28%,#406fff 20.83%,#4045ff 21.39%,#4040fa 21.67%,#4040ec 23.61%,#4040e4 37.78%,#4040e7 42.22%,#4040fa 43.33%,#4060ff 43.89%,#4099ff 44.44%,#04f8ff 45.28%,#00e9a3 46.39%,#00de79 47.78%,#00e080 48.33%,#00e79c 48.89%,#00fbee 49.72%,#0af1ff 50%,#409bff 50.83%,#4058ff 51.67%,#4040fd 52.22%,#4040ed 54.44%,#4040ee 71.39%,#4040fb 73.33%,#405cff 74.17%,#409fff 75%,#03fbff 75.83%,#00d145 77.22%,#00ca26 77.5%,#01c000 78.06%,#11c300 78.89%,#00c207 80%,#00cc30 80.56%,#04f9ff 82.5%,#4094ff 83.61%,#4057ff 84.44%,#4040fd 85%,#4042ff 86.39%,#4063ff 88.89%,#4040fe 92.5%,#4040ef 97.22%,#4040f4 100%)"></i><i style="inset:26px;background:conic-gradient(#4040f5 0%,#4040ff 2.22%,#4071ff 7.5%,#4079ff 10.28%,#409eff 11.11%,#09f2ff 12.22%,#00fbef 12.5%,#00e080 13.33%,#00c513 13.89%,#20c600 14.17%,#7bd900 14.72%,#bde900 15.28%,#e2f600 15.83%,#f6fc00 16.67%,#e3f600 17.22%,#aae300 17.78%,#7ad800 18.06%,#00c207 18.61%,#00e79e 19.17%,#00f6da 19.44%,#0ceeff 19.72%,#409cff 20.28%,#4060ff 20.83%,#4040fd 21.39%,#4040ec 23.33%,#4040e5 35.83%,#4040e7 41.67%,#4040f9 43.06%,#4045ff 43.33%,#4095ff 44.17%,#09f2ff 45%,#00fbee 45.28%,#00eaa8 46.11%,#00e185 47.22%,#00e182 47.78%,#00e9a3 48.61%,#00fbef 49.44%,#09f1ff 49.72%,#409dff 50.56%,#405aff 51.39%,#4040fe 51.94%,#4040ed 54.44%,#4040ef 71.11%,#4040ff 73.33%,#406aff 74.17%,#4099ff 74.72%,#0af1ff 75.56%,#00fae9 75.83%,#00cc31 77.22%,#00c105 77.78%,#06c100 78.06%,#0fc300 78.89%,#00c106 79.72%,#00d24a 80.56%,#02fcff 82.22%,#4099ff 83.33%,#4042ff 84.72%,#4040f6 85.28%,#4040ff 86.11%,#4064ff 88.61%,#4040ff 91.94%,#4040f0 96.94%,#4040f5 100%)"></i><i style="inset:27px;background:conic-gradient(#4040f7 0%,#4041ff 1.94%,#4075ff 7.5%,#407bff 10%,#3ba7ff 10.83%,#03fbff 11.94%,#00de7a 13.06%,#00c411 13.61%,#1fc600 13.89%,#4dcf00 14.17%,#9bdf00 14.72%,#cbee00 15.28%,#ecf900 16.11%,#e8f700 16.67%,#dcf300 16.94%,#a7e200 17.5%,#7bd900 17.78%,#02c000 18.33%,#00e492 18.89%,#03fbff 19.44%,#3ba8ff 20%,#4069ff 20.56%,#4043ff 21.11%,#4040f9 21.39%,#4040ed 23.06%,#4040e6 36.67%,#4040e7 41.39%,#4040f7 42.78%,#4043ff 43.06%,#408eff 43.89%,#38acff 44.17%,#0eebff 44.72%,#00fcf4 45%,#00f0c0 45.56%,#00e8a1 46.11%,#00e28a 47.22%,#00e79b 48.06%,#00efbd 48.61%,#00fcf1 49.17%,#0af0ff 49.44%,#409fff 50.28%,#406fff 50.83%,#4041ff 51.67%,#4040ed 54.17%,#4040ef 71.11%,#4040fe 73.06%,#4055ff 73.61%,#4090ff 74.44%,#38abff 74.72%,#11e6ff 75.28%,#00fdf6 75.56%,#00cf3d 76.94%,#00c820 77.22%,#02c000 77.78%,#0dc300 78.33%,#06c100 79.17%,#00c515 79.72%,#00d247 80.28%,#01feff 81.94%,#409eff 83.06%,#4063ff 83.89%,#4040fd 84.72%,#4042ff 86.11%,#4064ff 88.61%,#4040ff 91.67%,#4040f0 96.67%,#4040f7 100%)"></i><i style="inset:28px;background:conic-gradient(#4040f9 0%,#4041ff 1.39%,#4077ff 7.22%,#407bff 9.44%,#3fa1ff 10.28%,#0cedff 11.39%,#00fdf8 11.67%,#00e698 12.5%,#00c40e 13.33%,#20c600 13.61%,#74d700 14.17%,#b1e600 14.72%,#d4f100 15.28%,#e4f600 16.11%,#d4f100 16.67%,#a2e100 17.22%,#78d800 17.5%,#07c100 18.06%,#00e287 18.61%,#00fdf7 19.17%,#19dbff 19.44%,#33b3ff 19.72%,#4073ff 20.28%,#4049ff 20.83%,#4040fc 21.11%,#4040ed 22.78%,#4040e6 38.61%,#4040ea 41.67%,#4041ff 42.78%,#406bff 43.33%,#3ba8ff 43.89%,#00fefd 44.72%,#00edb5 45.56%,#00e79f 46.11%,#00e593 46.94%,#00e699 47.5%,#00ecb1 48.06%,#00fdf7 48.89%,#0ceeff 49.17%,#409fff 50%,#405eff 50.83%,#4040fa 51.67%,#4040ed 53.61%,#4040ef 69.72%,#4040fd 72.78%,#4061ff 73.61%,#3da4ff 74.44%,#01fdff 75.28%,#00cb2b 76.94%,#00c104 77.5%,#05c100 77.78%,#0bc200 78.61%,#00c103 79.17%,#00c513 79.44%,#00d143 80%,#00fefd 81.67%,#3fa1ff 82.78%,#4067ff 83.61%,#4041ff 84.44%,#4040f6 85%,#4040fe 85.83%,#4065ff 88.61%,#4040ff 91.39%,#4040f0 96.39%,#4040f9 100%)"></i><i style="inset:29px;background:conic-gradient(#4040fb 0%,#4075ff 6.39%,#4080ff 9.17%,#38acff 10%,#04f9ff 11.11%,#00faeb 11.39%,#00e48f 12.22%,#00c209 13.06%,#23c700 13.33%,#71d700 13.89%,#ade400 14.44%,#ceef00 15%,#ddf400 15.83%,#cdef00 16.39%,#9ddf00 16.94%,#44ce00 17.5%,#0bc200 17.78%,#00e07f 18.33%,#00faeb 18.89%,#12e5ff 19.17%,#409bff 19.72%,#4063ff 20.28%,#4041ff 20.83%,#4040ee 22.5%,#4040e7 36.94%,#4040e9 41.11%,#4040fe 42.5%,#4066ff 43.06%,#40a0ff 43.61%,#03fbff 44.44%,#00eebb 45.28%,#00e9a5 45.83%,#00e69a 46.67%,#00eaaa 47.5%,#00fefc 48.61%,#409fff 49.72%,#4077ff 50.28%,#4040ff 51.39%,#4040ee 53.61%,#4040ef 70.56%,#4040fc 72.5%,#405fff 73.33%,#409fff 74.17%,#08f4ff 75%,#00f9e6 75.28%,#00ce36 76.67%,#02c000 77.5%,#0ac200 78.06%,#00c002 78.89%,#00c410 79.17%,#00cf3e 79.72%,#00fdf9 81.39%,#0eeaff 81.67%,#3ea3ff 82.5%,#405cff 83.61%,#4040fc 84.44%,#4041ff 85.83%,#4065ff 88.33%,#4040fd 91.39%,#4040f0 96.11%,#4040fb 100%)"></i><i style="inset:30px;background:conic-gradient(#4040fd 0%,#4075ff 5.83%,#407dff 8.61%,#3ba7ff 9.44%,#0af0ff 10.56%,#00fdf9 10.83%,#00e184 11.94%,#00c102 12.78%,#71d700 13.61%,#a9e300 14.17%,#d1f000 15%,#d6f200 15.56%,#c6ec00 16.11%,#98de00 16.67%,#71d700 16.94%,#0cc200 17.5%,#00cd33 17.78%,#00de78 18.06%,#00f8e1 18.61%,#0beeff 18.89%,#3da4ff 19.44%,#4056ff 20.28%,#4040fb 20.83%,#4040ee 22.5%,#4040e8 38.33%,#4040ea 41.11%,#4040fd 42.22%,#4063ff 42.78%,#409bff 43.33%,#06f6ff 44.17%,#00ecb3 45.28%,#00e89f 46.39%,#00edb4 47.22%,#03fbff 48.33%,#409eff 49.44%,#4086ff 49.72%,#4040ff 51.39%,#4040ee 53.61%,#4040ef 70.28%,#4040fb 72.22%,#405aff 73.06%,#4097ff 73.89%,#0decff 74.72%,#00fcf1 75%,#00ca26 76.67%,#00c104 77.22%,#04c100 77.5%,#00c001 78.61%,#00c40e 78.89%,#00ce39 79.44%,#00fdf5 81.11%,#0cedff 81.39%,#3ca5ff 82.22%,#405fff 83.33%,#4040fe 84.17%,#4040fe 85.56%,#4066ff 88.33%,#4040fe 91.11%,#4040f1 95.83%,#4040fd 100%)"></i><i style="inset:31px;background:conic-gradient(#4041ff 0%,#4075ff 5.28%,#4083ff 8.33%,#3fa1ff 8.89%,#02fcff 10.28%,#00e596 11.39%,#06c100 12.5%,#70d600 13.33%,#b7e700 14.17%,#cfef00 15%,#c1eb00 15.83%,#93dd00 16.39%,#0cc200 17.22%,#00eaa7 18.06%,#06f6ff 18.61%,#38acff 19.17%,#408dff 19.44%,#405cff 20%,#4040fe 20.56%,#4040ee 22.22%,#4040e8 36.94%,#4040ea 40.56%,#4040fd 41.94%,#4061ff 42.5%,#4097ff 43.06%,#0af0ff 43.89%,#00fcf3 44.17%,#00eeba 45%,#00e9a7 45.83%,#00ecb1 46.67%,#00fcf3 47.78%,#07f5ff 48.06%,#409bff 49.17%,#4040fe 51.39%,#4040ee 53.61%,#4040f0 70%,#4040fa 71.94%,#4041ff 72.22%,#4068ff 73.06%,#38acff 73.89%,#12e5ff 74.44%,#00fefa 74.72%,#00cc2f 76.39%,#00c30a 76.94%,#04c100 77.5%,#00c000 78.33%,#00c71d 78.89%,#00d451 79.44%,#00fbf0 80.83%,#0af1ff 81.11%,#3aa8ff 81.94%,#4093ff 82.22%,#4061ff 83.06%,#4041ff 83.89%,#4040f7 84.72%,#4040ff 85.56%,#4066ff 88.06%,#4040fd 91.11%,#4040f1 95.56%,#4041ff 100%)"></i><i style="inset:32px;background:conic-gradient(#4046ff 0%,#4078ff 5.28%,#407eff 7.78%,#39abff 8.61%,#07f4ff 9.72%,#00fcf3 10%,#00e289 11.11%,#00c616 11.94%,#0ec300 12.22%,#8cdc00 13.33%,#bfea00 14.17%,#caee00 15%,#bbe900 15.56%,#8ddc00 16.11%,#0bc200 16.94%,#00e9a3 17.78%,#02fcff 18.33%,#4095ff 19.17%,#4051ff 20%,#4040fa 20.56%,#4040ee 22.22%,#4040e9 38.61%,#4040eb 40.56%,#4040fc 41.67%,#405fff 42.22%,#4093ff 42.78%,#00fdf9 43.89%,#00efbf 44.72%,#00ebad 45.83%,#00f0c2 46.67%,#00fefb 47.5%,#4098ff 48.89%,#4040fd 51.39%,#4040ee 53.89%,#4040f0 70%,#4040ff 71.94%,#4066ff 72.78%,#3ba7ff 73.61%,#03fbff 74.44%,#00ce3a 76.11%,#00c411 76.67%,#01c000 77.22%,#00c001 78.06%,#00c71a 78.61%,#00d34c 79.17%,#00faea 80.56%,#07f5ff 80.83%,#4096ff 81.94%,#4056ff 83.06%,#4040fc 83.89%,#4042ff 85.56%,#4067ff 88.06%,#4040ff 90.83%,#4040f1 95.28%,#4046ff 100%)"></i><i style="inset:33px;background:conic-gradient(#404aff 0%,#4076ff 4.44%,#4081ff 7.5%,#3ea2ff 8.06%,#00fefc 9.44%,#00de78 10.83%,#00c30a 11.67%,#18c500 11.94%,#72d700 12.78%,#a1e000 13.33%,#c1eb00 14.17%,#c0ea00 15%,#a3e100 15.56%,#65d400 16.11%,#09c200 16.67%,#00e8a0 17.5%,#00fefd 18.06%,#17dcff 18.33%,#409cff 18.89%,#4056ff 19.72%,#4040fd 20.28%,#4040ee 22.22%,#4040e9 37.22%,#4040eb 40.28%,#4040fc 41.39%,#405eff 41.94%,#4090ff 42.5%,#00ffff 43.61%,#00f0c3 44.44%,#00ecb1 45.56%,#00f2ca 46.39%,#02fcff 47.22%,#4093ff 48.61%,#4040fc 51.39%,#4040ef 53.33%,#4040f0 68.61%,#4040fe 71.67%,#4062ff 72.5%,#3fa1ff 73.33%,#07f4ff 74.17%,#00fae8 74.44%,#00cb2a 76.11%,#00c30a 76.67%,#00c000 77.22%,#00c209 78.06%,#00cb2c 78.61%,#03fbff 80.56%,#4099ff 81.67%,#4064ff 82.5%,#4040fd 83.61%,#4040fe 85.28%,#4067ff 88.06%,#4040fe 90.83%,#4040f1 95%,#404aff 100%)"></i><i style="inset:34px;background:conic-gradient(#404fff 0%,#407aff 4.44%,#407fff 6.94%,#3aa9ff 7.78%,#04f8ff 8.89%,#00e186 10.28%,#00c81f 11.11%,#03c100 11.39%,#5bd200 12.22%,#9ddf00 13.06%,#bfea00 14.17%,#bae900 14.72%,#9ee000 15.28%,#60d300 15.83%,#07c100 16.39%,#00e79e 17.22%,#00fdf9 17.78%,#14e1ff 18.06%,#3fa1ff 18.61%,#406eff 19.17%,#4040ff 20%,#4040ef 21.94%,#4040ea 35.56%,#4040eb 39.72%,#4040fc 41.11%,#405dff 41.67%,#39aaff 42.5%,#02fcff 43.33%,#00f2c9 44.17%,#00eeb7 45%,#00f0c4 45.83%,#00fdf5 46.67%,#07f5ff 46.94%,#3ea3ff 48.06%,#4042ff 51.11%,#4040ef 53.61%,#4040f0 69.17%,#4040fd 71.39%,#4060ff 72.22%,#409eff 73.06%,#0befff 73.89%,#00fbef 74.17%,#00cd32 75.83%,#00c410 76.39%,#00c002 77.22%,#00c209 77.78%,#00ca27 78.33%,#00fffd 80.28%,#409dff 81.39%,#4059ff 82.5%,#4040fe 83.33%,#4040f6 84.17%,#4040ff 85.28%,#4067ff 87.78%,#4040fd 90.83%,#4040f1 94.72%,#4040ff 98.61%,#404fff 100%)"></i><i style="inset:35px;background:conic-gradient(#4054ff 0%,#4079ff 3.89%,#407fff 6.67%,#409dff 7.22%,#00fef9 8.61%,#00dd75 10%,#00c40f 10.83%,#0fc300 11.11%,#5fd300 11.94%,#9bdf00 12.78%,#b0e500 13.33%,#b9e800 14.17%,#97de00 15%,#5bd200 15.56%,#05c100 16.11%,#00e79d 16.94%,#00fcf5 17.5%,#12e4ff 17.78%,#3ca6ff 18.33%,#4073ff 18.89%,#4050ff 19.44%,#4040fb 20%,#4040ef 21.94%,#4040ea 37.78%,#4040ec 39.72%,#4040fb 40.83%,#405bff 41.39%,#3ba8ff 42.22%,#04f8ff 43.06%,#00f3cd 43.89%,#00efbc 44.72%,#00f2c9 45.56%,#00fefb 46.39%,#409cff 47.78%,#4040fe 51.11%,#4040ef 53.61%,#4040f0 69.17%,#4040fc 71.11%,#404fff 71.67%,#4098ff 72.78%,#10e8ff 73.61%,#00fdf8 73.89%,#00d555 75.28%,#00c925 75.83%,#00c30c 76.39%,#00c104 76.94%,#00c209 77.5%,#00c924 78.06%,#00fdf8 80%,#0debff 80.28%,#3fa1ff 81.11%,#4069ff 81.94%,#4040fe 83.06%,#4040f5 83.89%,#4042ff 85.28%,#4068ff 87.78%,#4040ff 90.56%,#4040f1 94.44%,#4040fe 98.06%,#4054ff 100%)"></i><i style="inset:36px;background:conic-gradient(#4059ff 0%,#4079ff 3.33%,#4080ff 6.39%,#3fa2ff 6.94%,#06f7ff 8.06%,#00fbed 8.33%,#00e183 9.44%,#00c002 10.56%,#64d400 11.67%,#97de00 12.5%,#afe500 13.33%,#ade400 14.17%,#76d800 15%,#01c000 15.83%,#00db6c 16.39%,#00fcf3 17.22%,#10e7ff 17.5%,#3aaaff 18.06%,#408fff 18.33%,#4053ff 19.17%,#4040fd 19.72%,#4040ef 21.67%,#4040eb 36.39%,#4040ec 39.44%,#4040fb 40.56%,#405aff 41.11%,#3ca6ff 41.94%,#07f5ff 42.78%,#00fcf2 43.06%,#00f2c8 43.89%,#00f0c1 44.72%,#00f3cf 45.28%,#02fbff 46.11%,#4097ff 47.5%,#4087ff 48.61%,#4040fc 51.11%,#4040ef 53.61%,#4040f0 68.89%,#4040fc 70.83%,#4059ff 71.67%,#4094ff 72.5%,#38acff 72.78%,#00ffff 73.61%,#00d85e 75%,#00cb2c 75.56%,#00c410 76.11%,#00c207 76.94%,#00c512 77.5%,#00cd36 78.06%,#00fcf2 79.72%,#0af0ff 80%,#3ca7ff 80.83%,#406cff 81.67%,#4040ff 82.78%,#4040f5 83.89%,#4040fe 85%,#4068ff 87.78%,#4040ff 90.56%,#4040f1 93.89%,#4040ff 97.78%,#4059ff 100%)"></i><i style="inset:37px;background:conic-gradient(#405eff 0%,#407cff 3.33%,#4084ff 6.11%,#3ba7ff 6.67%,#01feff 7.78%,#00dd73 9.17%,#00c412 10%,#0bc200 10.28%,#67d500 11.39%,#95de00 12.22%,#abe400 13.61%,#87db00 14.44%,#4fd000 15%,#00c103 15.56%,#00db6d 16.11%,#00f1c7 16.67%,#00fbf0 16.94%,#0eeaff 17.22%,#4093ff 18.06%,#4067ff 18.61%,#4040ff 19.44%,#4040f0 21.39%,#4040ec 34.17%,#4040ec 38.89%,#4040fb 40.28%,#4059ff 40.83%,#3ea4ff 41.67%,#08f3ff 42.5%,#00fdf5 42.78%,#00f5d4 43.33%,#00f1c5 44.17%,#00f4d3 45%,#00fcf4 45.56%,#06f6ff 45.83%,#3da5ff 46.94%,#4097ff 47.22%,#4082ff 48.61%,#4040fe 50.83%,#4040ef 53.61%,#4040f1 68.61%,#4040fb 70.56%,#4041ff 70.83%,#4067ff 71.67%,#3aa9ff 72.5%,#03fbff 73.33%,#00cd33 75.28%,#00c516 75.83%,#00c209 76.67%,#00c411 77.22%,#00cc31 77.78%,#00faeb 79.44%,#07f5ff 79.72%,#4095ff 80.83%,#4060ff 81.67%,#4041ff 82.5%,#4040f4 83.61%,#4041ff 85%,#4068ff 87.5%,#4062ff 88.61%,#4040fe 90.56%,#4040f1 93.61%,#4040ff 97.5%,#405eff 100%)"></i><i style="inset:38px;background:conic-gradient(#4063ff 0%,#407dff 3.06%,#4080ff 5.56%,#38acff 6.39%,#0cedff 7.22%,#00fdf8 7.5%,#00c104 9.72%,#2ec900 10.28%,#87db00 11.67%,#a5e100 13.06%,#9bdf00 13.61%,#7dd900 14.17%,#00c209 15.28%,#00dc70 15.83%,#00fbef 16.67%,#0debff 16.94%,#4096ff 17.78%,#406aff 18.33%,#404cff 18.89%,#4040fb 19.44%,#4040f0 21.39%,#4040ec 36.67%,#4040ed 38.89%,#4040fa 40%,#4056ff 40.56%,#3fa1ff 41.39%,#0af1ff 42.22%,#00fdf8 42.5%,#00f5d7 43.06%,#00f2c8 43.89%,#00f3ce 44.44%,#00fefa 45.28%,#40a0ff 46.67%,#408aff 48.06%,#4041ff 50.56%,#4040f0 53.33%,#4040f1 68.33%,#4040fb 70.28%,#4056ff 71.11%,#3ea3ff 72.22%,#08f4ff 73.06%,#00faeb 73.33%,#00ce39 75%,#00c61a 75.56%,#00c30c 76.39%,#00c512 76.94%,#00cb2e 77.5%,#03faff 79.44%,#409aff 80.56%,#4057ff 81.67%,#4040fd 82.5%,#4040f5 83.61%,#4042ff 85%,#4069ff 87.5%,#4040fd 90.56%,#4040f1 93.33%,#4041ff 97.22%,#4063ff 100%)"></i><i style="inset:39px;background:conic-gradient(#4068ff 0%,#407eff 2.78%,#407fff 5.28%,#409fff 5.83%,#08f3ff 6.94%,#00fbf0 7.22%,#00c514 9.17%,#08c200 9.44%,#4acf00 10.28%,#8ddc00 11.67%,#98de00 13.06%,#72d700 13.89%,#19c500 14.72%,#00c411 15%,#00dd74 15.56%,#00f1c7 16.11%,#00fbef 16.39%,#0decff 16.67%,#4098ff 17.5%,#405cff 18.33%,#4040fc 19.17%,#4040f0 21.11%,#4040ed 34.44%,#4040ed 38.61%,#4040f9 39.72%,#4055ff 40.28%,#409fff 41.11%,#0beeff 41.94%,#00fefa 42.22%,#00f6da 42.78%,#00f2cc 43.61%,#00f4d2 44.17%,#00ffff 45%,#4099ff 46.39%,#408bff 47.78%,#4040fd 50.56%,#4040f0 52.78%,#4040f0 66.94%,#4040ff 70.28%,#4061ff 71.11%,#409fff 71.94%,#0af0ff 72.78%,#00fcf1 73.06%,#00d03f 74.72%,#00c616 75.56%,#00c40f 76.39%,#00c71d 76.94%,#00d041 77.5%,#00fffd 79.17%,#409dff 80.28%,#4059ff 81.39%,#4040fe 82.22%,#4040f4 83.33%,#4040fe 84.72%,#4069ff 87.5%,#4040fd 90.56%,#4040f1 93.06%,#4040fe 96.67%,#4068ff 100%)"></i><i style="inset:40px;background:conic-gradient(#406dff 0%,#407fff 2.5%,#4081ff 5%,#3ea3ff 5.56%,#04f9ff 6.67%,#00e490 7.78%,#00c20a 8.89%,#5ed300 10.28%,#81da00 11.11%,#92dd00 12.5%,#84da00 13.06%,#65d400 13.61%,#0ec300 14.44%,#00c71a 14.72%,#00df7a 15.28%,#00fbef 16.11%,#0cedff 16.39%,#409aff 17.22%,#405fff 18.06%,#4040fd 18.89%,#4040f0 20.83%,#4040ed 37.22%,#4040f0 38.89%,#4042ff 39.72%,#409bff 40.83%,#00fefd 41.94%,#00f6dc 42.5%,#00f3ce 43.33%,#00f5d5 43.89%,#03fbff 44.72%,#4099ff 46.11%,#408dff 47.5%,#4040ff 50.28%,#4040f0 53.61%,#4040f1 67.78%,#4040fe 70%,#4070ff 71.11%,#409cff 71.67%,#0fe9ff 72.5%,#00fdf6 72.78%,#00d860 74.17%,#00cd33 74.72%,#00c412 75.83%,#00c515 76.39%,#00cb2a 76.94%,#00d658 77.5%,#00fdf6 78.89%,#0decff 79.17%,#3fa1ff 80%,#405cff 81.11%,#4040ff 81.94%,#4040f4 83.06%,#4040ff 84.72%,#4069ff 87.5%,#4041ff 90.28%,#4040f2 92.78%,#4040fe 96.39%,#406dff 100%)"></i><i style="inset:41px;background:conic-gradient(#4072ff 0%,#4084ff 4.72%,#3ba8ff 5.28%,#00feff 6.39%,#00e28a 7.5%,#00c001 8.61%,#42cd00 9.44%,#6bd500 10.28%,#88db00 11.67%,#80da00 12.5%,#56d100 13.33%,#01c000 14.17%,#00e081 15%,#00fcf1 15.83%,#0decff 16.11%,#409cff 16.94%,#4061ff 17.78%,#4040fe 18.61%,#4040f0 20.83%,#4040ed 36.94%,#4040f0 38.61%,#4040ff 39.44%,#4064ff 40%,#4099ff 40.56%,#00feff 41.67%,#00f7de 42.22%,#00f4d0 43.06%,#00f5d7 43.61%,#05f8ff 44.44%,#3fa2ff 45.56%,#408eff 47.22%,#4041ff 50%,#4040f0 53.33%,#4040f1 67.5%,#4040fe 69.72%,#4050ff 70.28%,#4096ff 71.39%,#00fffe 72.5%,#00da67 73.89%,#00ce39 74.44%,#00c81f 75%,#00c515 75.83%,#00c71e 76.39%,#00cf3b 76.94%,#00fbed 78.61%,#09f2ff 78.89%,#3ca6ff 79.72%,#406dff 80.56%,#4041ff 81.67%,#4040f4 83.06%,#4042ff 84.72%,#406aff 87.5%,#4040ff 90.28%,#4040f2 92.78%,#4040fe 96.11%,#4072ff 100%)"></i><i style="inset:42px;background:conic-gradient(#4076ff 0%,#407eff 4.17%,#38acff 5%,#00fefa 6.11%,#05c100 8.33%,#45ce00 9.17%,#71d700 10.28%,#80da00 11.39%,#7bd900 11.94%,#59d200 12.78%,#12c400 13.61%,#00c40e 13.89%,#00fcf4 15.56%,#0debff 15.83%,#409cff 16.67%,#4062ff 17.5%,#4041ff 18.33%,#4040f1 20.56%,#4040ee 36.11%,#4040f0 38.33%,#4040fe 39.17%,#4060ff 39.72%,#4094ff 40.28%,#02fcff 41.39%,#00f7e0 41.94%,#00f4d2 42.78%,#00f6da 43.33%,#00fdf5 43.89%,#06f5ff 44.17%,#409dff 45.28%,#4096ff 46.67%,#4040fd 50%,#4040f0 53.61%,#4040f1 67.22%,#4040fe 69.44%,#405cff 70.28%,#4095ff 71.11%,#39abff 71.39%,#02fcff 72.22%,#00cf3e 74.17%,#00c71d 75%,#00c618 75.56%,#00c81f 76.11%,#00cf3a 76.67%,#04f9ff 78.61%,#4094ff 79.72%,#4061ff 80.56%,#4040fd 81.67%,#4040f4 82.78%,#4040fe 84.44%,#406aff 87.5%,#4040ff 90.28%,#4040f2 92.5%,#4040ff 95.83%,#4076ff 100%)"></i><i style="inset:43px;background:conic-gradient(#4079ff 0%,#407dff 3.89%,#409cff 4.44%,#0af0ff 5.56%,#00fcf4 5.83%,#00df7e 6.94%,#00c514 7.78%,#09c200 8.06%,#47ce00 8.89%,#72d700 10.28%,#76d800 11.11%,#64d400 11.94%,#35cb00 12.78%,#01c000 13.33%,#00fdf8 15.28%,#0fe9ff 15.56%,#409dff 16.39%,#4056ff 17.5%,#4040fc 18.33%,#4040f1 20.56%,#4040ee 36.67%,#4040fd 38.89%,#405dff 39.44%,#408fff 40%,#04f9ff 41.11%,#00f6d9 41.94%,#00f4d4 42.5%,#00f6db 43.06%,#00fdf7 43.61%,#08f3ff 43.89%,#409aff 45%,#4097ff 46.39%,#4040fe 49.72%,#4040f0 53.33%,#4040f1 66.94%,#4040fe 69.17%,#405cff 70%,#4091ff 70.83%,#3aa9ff 71.11%,#07f5ff 71.94%,#00f9e8 72.22%,#00d146 73.89%,#00ca29 74.44%,#00c71b 75.28%,#00c821 75.83%,#00ce39 76.39%,#00da69 76.94%,#00fffe 78.33%,#4099ff 79.44%,#4063ff 80.28%,#4040fe 81.39%,#4040f4 82.78%,#4040ff 84.44%,#406aff 87.22%,#4040fe 90.28%,#4040f3 92.5%,#4040ff 95.56%,#4079ff 100%)"></i><i style="inset:44px;background:conic-gradient(#407dff 0%,#407cff 3.61%,#40a0ff 4.17%,#07f5ff 5.28%,#00fbee 5.56%,#00e697 6.39%,#00c410 7.5%,#0cc200 7.78%,#54d100 8.89%,#6ed600 10.28%,#54d100 11.67%,#09c200 12.78%,#00c513 13.06%,#00fffe 15%,#11e5ff 15.28%,#409cff 16.11%,#4057ff 17.22%,#4040fc 18.06%,#4040f1 20.28%,#4040ee 35.83%,#4040fc 38.61%,#4059ff 39.17%,#3ba7ff 40%,#06f6ff 40.83%,#00f6db 41.67%,#00f5d5 42.22%,#00f7dc 42.78%,#00fdf8 43.33%,#09f2ff 43.61%,#4097ff 44.72%,#4099ff 46.11%,#4040ff 49.44%,#4040f1 53.06%,#4040f1 66.67%,#4040fe 68.89%,#405aff 69.72%,#3da4ff 70.83%,#0af1ff 71.67%,#00fbf0 71.94%,#00d34c 73.61%,#00c926 74.44%,#00c820 75.28%,#00cb2c 75.83%,#00d34d 76.39%,#00fdf8 78.06%,#0eebff 78.33%,#40a0ff 79.17%,#4066ff 80%,#4040fe 81.11%,#4040f3 82.5%,#4041ff 84.44%,#406aff 87.22%,#4040fe 90.28%,#4040f3 92.22%,#4040ff 95.28%,#407dff 100%)"></i><i style="inset:45px;background:conic-gradient(#407fff 0%,#407eff 3.33%,#3fa1ff 3.89%,#04f9ff 5%,#00e492 6.11%,#00c30c 7.22%,#25c700 7.78%,#52d000 8.61%,#64d400 10%,#4fd000 11.11%,#0dc300 12.22%,#00c30c 12.5%,#03faff 14.72%,#409bff 15.83%,#4058ff 16.94%,#4040fd 17.78%,#4040f1 20%,#4040ef 34.17%,#4040f0 37.22%,#4040fb 38.33%,#4057ff 38.89%,#3ea3ff 39.72%,#09f2ff 40.56%,#00fdf8 40.83%,#00f7dd 41.39%,#00f5d7 41.94%,#00f7dd 42.5%,#00fef9 43.06%,#09f2ff 43.33%,#4096ff 44.44%,#409fff 45.28%,#4096ff 46.11%,#4041ff 49.17%,#4040f1 52.78%,#4040f2 66.39%,#4040fd 68.61%,#4067ff 69.72%,#3ea3ff 70.56%,#0beeff 71.39%,#00fdf5 71.67%,#00e79c 72.5%,#00d03f 73.61%,#00c925 74.44%,#00c923 75%,#00cb2e 75.56%,#00d34d 76.11%,#00fcf2 77.78%,#0befff 78.06%,#3da4ff 78.89%,#4069ff 79.72%,#4040ff 80.83%,#4040f4 82.22%,#4040fe 84.17%,#406aff 87.22%,#4040fd 90.28%,#4040f3 92.22%,#4040ff 95%,#407fff 100%)"></i><i style="inset:46px;background:conic-gradient(#4081ff 0%,#4080ff 3.06%,#3ca5ff 3.61%,#01fdff 4.72%,#00e38e 5.83%,#00c30a 6.94%,#37cb00 7.78%,#56d100 8.61%,#58d200 10%,#3ecc00 10.83%,#00c20a 11.94%,#00fcf1 14.17%,#08f3ff 14.44%,#4099ff 15.56%,#4058ff 16.67%,#4040fd 17.5%,#4040f1 20.83%,#4040ef 36.39%,#4040fa 38.06%,#4054ff 38.61%,#409dff 39.44%,#0beeff 40.28%,#00fefb 40.56%,#00f7df 41.11%,#00f5d8 41.67%,#00f7de 42.22%,#00fef9 42.78%,#09f2ff 43.06%,#4096ff 44.17%,#40a0ff 45%,#4099ff 45.83%,#4041ff 48.89%,#4040f1 52.78%,#4040f2 66.11%,#4040fe 68.33%,#405aff 69.17%,#3fa1ff 70.28%,#0fe9ff 71.11%,#00fef9 71.39%,#00dc70 72.78%,#00d248 73.33%,#00cc31 73.89%,#00ca26 74.72%,#00cc30 75.28%,#00d34d 75.83%,#00fbed 77.5%,#07f5ff 77.78%,#4094ff 78.89%,#405fff 79.72%,#4041ff 80.56%,#4040f3 82.22%,#4040ff 84.17%,#406bff 87.22%,#4040fd 90.28%,#4040f3 91.94%,#4040ff 94.72%,#4081ff 100%)"></i><i style="inset:47px;background:conic-gradient(#4083ff 0%,#4081ff 2.78%,#3ba7ff 3.33%,#00fefc 4.44%,#00c208 6.67%,#11c300 6.94%,#42cd00 7.78%,#58d200 8.89%,#44ce00 10%,#0bc200 11.11%,#00c922 11.67%,#00fefc 13.89%,#0eeaff 14.17%,#4096ff 15.28%,#4058ff 16.39%,#4040fe 17.22%,#4040f1 20.56%,#4040f0 36.11%,#4040fa 37.78%,#4052ff 38.33%,#4099ff 39.17%,#00ffff 40.28%,#00f8e1 40.83%,#00f6d9 41.39%,#00f7de 41.94%,#00fdf9 42.5%,#09f2ff 42.78%,#4096ff 43.89%,#3fa1ff 44.72%,#409bff 45.56%,#404fff 48.06%,#4040fd 48.89%,#4040f1 53.06%,#4040f2 65.83%,#4040fe 68.06%,#4059ff 68.89%,#409eff 70%,#00ffff 71.11%,#00d85f 72.78%,#00ce36 73.61%,#00cb2c 74.44%,#00cd33 75%,#00d44e 75.56%,#05f8ff 77.5%,#4098ff 78.61%,#4062ff 79.44%,#4040fd 80.56%,#4040f3 81.94%,#4041ff 84.17%,#406bff 87.22%,#4041ff 90%,#4040f4 91.94%,#4040ff 94.44%,#4079ff 98.33%,#4083ff 100%)"></i><i style="inset:48px;background:conic-gradient(#4083ff 0%,#4079ff 2.22%,#39aaff 3.06%,#00fdf9 4.17%,#00c206 6.39%,#25c700 6.94%,#4ed000 8.06%,#50d000 8.89%,#37cb00 9.72%,#09c200 10.56%,#00c922 11.11%,#00fbef 13.33%,#06f7ff 13.61%,#3da5ff 14.72%,#4063ff 15.83%,#4040fe 16.94%,#4040f2 19.17%,#4040f0 35%,#4042ff 37.78%,#4062ff 38.33%,#4094ff 38.89%,#02fbff 40%,#00f8e3 40.56%,#00f6da 41.11%,#00f7df 41.67%,#00fdf8 42.22%,#08f3ff 42.5%,#4095ff 43.61%,#3fa2ff 44.44%,#409dff 45.28%,#4040fe 48.61%,#4040f1 53.06%,#4040f2 65.56%,#4040fe 67.78%,#4068ff 68.89%,#409fff 69.72%,#01feff 70.83%,#00e594 71.94%,#00d555 72.78%,#00cf3d 73.33%,#00cc30 74.17%,#00ce37 74.72%,#00d450 75.28%,#02fcff 77.22%,#409dff 78.33%,#4058ff 79.44%,#4040fd 80.28%,#4040f3 81.94%,#4040fe 83.89%,#406bff 86.94%,#4041ff 90%,#4040f4 91.67%,#4040ff 94.17%,#4079ff 98.06%,#4083ff 100%)"></i><i style="inset:49px;background:conic-gradient(#4083ff 0%,#4078ff 1.94%,#38acff 2.78%,#0af0ff 3.61%,#00fcf5 3.89%,#00c106 6.11%,#32ca00 6.94%,#49cf00 7.78%,#49cf00 8.61%,#38cb00 9.17%,#08c200 10%,#00c923 10.56%,#00fffe 13.06%,#0debff 13.33%,#409fff 14.44%,#4062ff 15.56%,#4040fe 16.67%,#4040f2 19.17%,#4040f0 34.72%,#4041ff 37.5%,#4060ff 38.06%,#4090ff 38.61%,#05f8ff 39.72%,#00f6db 40.83%,#00f7df 41.39%,#00fdf7 41.94%,#07f4ff 42.22%,#4095ff 43.33%,#3ea3ff 44.17%,#409fff 45%,#4040ff 48.33%,#4040f1 52.78%,#4040f2 65.28%,#4040ff 67.5%,#405aff 68.33%,#409dff 69.44%,#04faff 70.56%,#00d75c 72.5%,#00d041 73.06%,#00cd35 74.17%,#00d144 74.72%,#00d965 75.28%,#01feff 76.94%,#409fff 78.06%,#4068ff 78.89%,#4040ff 80%,#4040f3 81.67%,#4040fe 83.89%,#406bff 86.94%,#4041ff 90%,#4040f5 91.67%,#4041ff 93.89%,#407aff 97.78%,#4083ff 100%)"></i><i style="inset:50px;background:conic-gradient(#4083ff 0%,#4077ff 1.67%,#37aeff 2.5%,#08f3ff 3.33%,#00fbef 3.61%,#00c105 5.83%,#3acc00 6.94%,#48ce00 7.78%,#43cd00 8.33%,#00c209 9.72%,#00e288 11.11%,#00fdf7 12.5%,#08f3ff 12.78%,#4098ff 14.17%,#4060ff 15.28%,#4040fe 16.39%,#4040f2 18.89%,#4040f0 34.44%,#4041ff 37.22%,#405fff 37.78%,#3aa8ff 38.61%,#07f4ff 39.44%,#00fdf6 39.72%,#00f7df 40.28%,#00f6dc 40.83%,#00fdf6 41.67%,#06f6ff 41.94%,#4096ff 43.06%,#3da4ff 44.17%,#409cff 45%,#4041ff 48.06%,#4040f1 52.5%,#4040f2 65%,#4040ff 67.22%,#4068ff 68.33%,#409eff 69.17%,#05f8ff 70.28%,#00d861 72.22%,#00d041 73.06%,#00cf3b 73.61%,#00d03f 74.17%,#00d555 74.72%,#00ebac 75.83%,#00fffe 76.67%,#3ea3ff 77.78%,#405dff 78.89%,#4041ff 79.72%,#4040f3 81.67%,#4040ff 83.89%,#406bff 86.94%,#4040ff 90%,#4040f5 91.39%,#4041ff 93.61%,#407dff 97.78%,#4083ff 100%)"></i><i style="inset:51px;background:conic-gradient(#4081ff 0%,#4078ff 1.39%,#409cff 1.94%,#05f7ff 3.06%,#00fbee 3.33%,#00c104 5.56%,#2dc900 6.39%,#3dcc00 6.94%,#3bcc00 8.06%,#01c000 9.17%,#00e185 10.56%,#05f8ff 12.22%,#3fa1ff 13.61%,#405dff 15%,#4040fe 16.11%,#4040f2 18.61%,#4040f1 34.17%,#4042ff 36.94%,#405eff 37.5%,#3ca5ff 38.33%,#09f1ff 39.17%,#00fefa 39.44%,#00f8e1 40%,#00f7dc 40.56%,#05f7ff 41.67%,#4098ff 42.78%,#3da5ff 43.89%,#409eff 44.72%,#4040fd 48.06%,#4040f2 50.83%,#4040f2 63.61%,#4041ff 66.94%,#405cff 67.78%,#409fff 68.89%,#05f7ff 70%,#00e8a2 71.11%,#00d659 72.22%,#00d03e 73.33%,#00d658 74.44%,#00ebac 75.56%,#00fefd 76.39%,#0eeaff 76.67%,#3ca5ff 77.5%,#4060ff 78.61%,#4040fd 79.72%,#4040f3 81.39%,#4041ff 83.89%,#406bff 86.94%,#4040ff 90%,#4040f6 91.39%,#4041ff 93.33%,#407eff 97.5%,#4081ff 100%)"></i><i style="inset:52px;background:conic-gradient(#4080ff 0%,#407aff 1.11%,#40a0ff 1.67%,#05f8ff 2.78%,#00c103 5.28%,#2bc900 6.11%,#3dcc00 6.94%,#35cb00 7.78%,#00c30a 8.89%,#00e07f 10%,#03fbff 11.67%,#4099ff 13.33%,#405aff 14.72%,#4040fe 15.83%,#4040f2 19.72%,#4040f1 34.44%,#4040fc 36.39%,#405fff 37.22%,#3ea3ff 38.06%,#00fffd 39.17%,#00f8e3 39.72%,#00f7dd 40.28%,#00f9e6 40.83%,#04faff 41.39%,#409aff 42.5%,#40a1ff 44.44%,#4040fe 47.78%,#4040f2 50.28%,#4040f2 62.78%,#4040ff 66.67%,#406aff 67.78%,#409eff 68.61%,#06f5ff 69.72%,#00fbf0 70%,#00e9a7 70.83%,#00d861 71.94%,#00d34c 72.5%,#00d146 73.33%,#00d75c 74.17%,#00ebac 75.28%,#00fefc 76.11%,#0eeaff 76.39%,#4093ff 77.5%,#4061ff 78.33%,#4040fd 79.44%,#4040f3 81.11%,#4040fe 83.61%,#406bff 86.94%,#4040ff 90%,#4040fe 92.78%,#4081ff 97.5%,#4080ff 100%)"></i><i style="inset:53px;background:conic-gradient(#407dff 0%,#407cff 0.83%,#3fa1ff 1.39%,#01feff 2.5%,#00c002 5%,#29c800 5.83%,#38cb00 6.94%,#24c700 7.78%,#02c000 8.33%,#00e38c 9.72%,#01feff 11.11%,#409eff 12.78%,#4060ff 14.17%,#4040fd 15.56%,#4040f2 18.06%,#4040f1 32.78%,#4040fd 36.11%,#4060ff 36.94%,#3fa2ff 37.78%,#00feff 38.89%,#00f8e4 39.44%,#00f7de 40%,#00f9e5 40.56%,#02fbff 41.11%,#409dff 42.22%,#3ea2ff 44.17%,#4041ff 47.5%,#4040f2 51.11%,#4040f2 63.89%,#4040fc 66.11%,#4052ff 66.94%,#3fa1ff 68.33%,#06f7ff 69.44%,#00fbf1 69.72%,#00eaa8 70.56%,#00d965 71.67%,#00d34b 72.78%,#00d85f 73.89%,#00ebad 75%,#00fefb 75.83%,#0debff 76.11%,#4095ff 77.22%,#4057ff 78.33%,#4040fe 79.17%,#4040f3 81.11%,#4040ff 83.61%,#406cff 86.94%,#4040ff 90%,#4040fe 92.5%,#4082ff 97.22%,#407dff 100%)"></i><i style="inset:54px;background:conic-gradient(#407bff 0%,#407fff 0.56%,#3da5ff 1.11%,#00fefc 2.22%,#00cb2e 4.17%,#00c000 4.72%,#2dc900 5.83%,#30ca00 6.94%,#00c206 8.06%,#00f2cb 10%,#00fefa 10.56%,#0af0ff 10.83%,#3fa2ff 12.22%,#405cff 13.89%,#4040fc 15.28%,#4040f2 17.78%,#4040f1 33.06%,#4040fe 35.83%,#4062ff 36.67%,#3fa2ff 37.5%,#02fcff 38.61%,#00f9e6 39.17%,#00f7de 39.72%,#00f8e4 40.28%,#01feff 40.83%,#40a0ff 41.94%,#4096ff 42.22%,#3ba7ff 43.33%,#40a0ff 44.17%,#4040fe 47.5%,#4040f2 51.39%,#4040f2 63.89%,#4040fc 65.83%,#405eff 66.94%,#40a1ff 68.06%,#07f5ff 69.17%,#00fbf0 69.44%,#00e698 70.56%,#00db6d 71.39%,#00d450 72.78%,#00d65a 73.33%,#00dd74 73.89%,#00ebae 74.72%,#00fefb 75.56%,#0debff 75.83%,#4096ff 76.94%,#4064ff 77.78%,#4040ff 78.89%,#4040f3 80.83%,#4041ff 83.61%,#406cff 86.67%,#4040ff 90%,#4040fe 92.22%,#4084ff 97.22%,#407bff 100%)"></i><i style="inset:55px;background:conic-gradient(#4077ff 0%,#3aa9ff 0.83%,#00fdf8 1.94%,#00d145 3.61%,#01c000 4.44%,#24c700 5.28%,#30ca00 6.11%,#22c700 6.94%,#07c100 7.5%,#00c40e 7.78%,#00e185 8.89%,#00fbef 10%,#05f7ff 10.28%,#3da5ff 11.67%,#4060ff 13.33%,#4040fe 14.72%,#4040f2 17.5%,#4040f1 32.5%,#4040ff 35.56%,#4064ff 36.39%,#3ea2ff 37.22%,#03fbff 38.33%,#00f7df 39.44%,#00f8e4 40%,#00fffe 40.56%,#3ea3ff 41.67%,#4095ff 41.94%,#3ba8ff 43.06%,#3fa2ff 43.89%,#4040ff 47.22%,#4040f2 52.22%,#4040f2 63.61%,#4042ff 65.83%,#406eff 66.94%,#3ea4ff 67.78%,#06f7ff 68.89%,#00fcf1 69.17%,#00f0c1 69.72%,#00e07f 70.83%,#00d860 71.67%,#00d658 72.5%,#00d85e 73.06%,#00de79 73.61%,#00ecb0 74.44%,#00fefb 75.28%,#0debff 75.56%,#4097ff 76.67%,#4059ff 77.78%,#4040ff 78.61%,#4040f3 80.56%,#4040fe 83.33%,#406cff 86.67%,#4040fe 90%,#4040fe 91.94%,#4085ff 96.94%,#4077ff 100%)"></i><i style="inset:56px;background:conic-gradient(#4085ff 0%,#38abff 0.56%,#09f1ff 1.39%,#00fbf0 1.67%,#00ca27 3.61%,#02c000 4.17%,#11c300 4.44%,#27c800 5.28%,#29c800 6.11%,#00c000 7.22%,#00fdf8 9.72%,#0befff 10%,#409bff 11.39%,#4063ff 12.78%,#4040fd 14.44%,#4040f2 18.61%,#4040f2 33.06%,#4040fb 35%,#4057ff 35.83%,#3da4ff 36.94%,#04faff 38.06%,#00f7df 39.17%,#00f8e3 39.72%,#00fefc 40.28%,#4092ff 41.67%,#3ba8ff 42.78%,#3da4ff 43.61%,#404eff 46.39%,#4040fd 47.22%,#4040f2 49.72%,#4040f2 62.22%,#4042ff 65.56%,#405fff 66.39%,#3ea3ff 67.5%,#06f6ff 68.61%,#00e491 70.28%,#00dc6e 71.11%,#00d75d 71.94%,#00d966 72.78%,#00df7d 73.33%,#00ecb2 74.17%,#00fefc 75%,#0debff 75.28%,#4098ff 76.39%,#405bff 77.5%,#4040fc 78.61%,#4040f3 80.56%,#4040ff 83.33%,#406cff 86.67%,#4040fe 90%,#4040fe 91.67%,#4085ff 96.67%,#4088ff 98.06%,#4078ff 99.72%,#4085ff 100%)"></i><i style="inset:57px;background:conic-gradient(#409cff 0%,#05f8ff 1.11%,#00faec 1.39%,#00c922 3.33%,#04c100 3.89%,#1ac500 4.44%,#25c700 5.83%,#00c208 6.94%,#01feff 9.44%,#409fff 10.83%,#4066ff 12.22%,#4040ff 13.89%,#4040f2 18.06%,#4040f2 32.78%,#4040fc 34.72%,#405aff 35.56%,#3ca6ff 36.67%,#04f9ff 37.78%,#00fdf5 38.06%,#00f8e2 38.61%,#00f7e0 39.17%,#00fef9 40%,#17ddff 40.56%,#4091ff 41.39%,#3ba8ff 42.5%,#3ca6ff 43.33%,#4040fe 46.94%,#4040f2 50.83%,#4040f2 62.78%,#4040fd 65%,#4061ff 66.11%,#3ca5ff 67.22%,#05f7ff 68.33%,#00e492 70%,#00db6c 71.11%,#00d965 71.94%,#00db6c 72.5%,#00e490 73.33%,#00fefc 74.72%,#4097ff 76.11%,#4068ff 76.94%,#4040fd 78.33%,#4040f3 80.28%,#4040ff 83.33%,#406cff 86.67%,#4040fe 90%,#4040fe 91.39%,#4086ff 96.39%,#4088ff 97.78%,#4078ff 99.44%,#409cff 100%)"></i><i style="inset:58px;background:conic-gradient(#32b5ff 0%,#02fbff 0.83%,#00ce36 2.78%,#00c30b 3.33%,#04c100 3.61%,#1ec600 4.44%,#1ec600 5.56%,#01c000 6.39%,#00ca26 6.94%,#04f9ff 9.17%,#3ba8ff 10.28%,#407dff 11.11%,#4058ff 12.22%,#4040fd 13.61%,#4040f3 16.67%,#4040f2 31.11%,#4040fd 34.44%,#405cff 35.28%,#4093ff 36.11%,#10e8ff 37.22%,#00fdf5 37.78%,#00f7e0 38.89%,#07f5ff 40%,#4095ff 41.11%,#3aa9ff 42.5%,#3ea3ff 43.33%,#4054ff 45.83%,#4040fc 46.94%,#4040f2 60.83%,#4040fd 64.72%,#4061ff 65.83%,#3da5ff 66.94%,#04f8ff 68.06%,#00e596 69.72%,#00db6b 71.39%,#00dd73 72.22%,#00e594 73.06%,#00fffe 74.44%,#4099ff 75.83%,#405cff 77.22%,#4040fd 78.33%,#4040f3 80.28%,#4040fe 83.06%,#406cff 86.67%,#4040fe 90%,#4041ff 91.39%,#4086ff 96.11%,#4089ff 97.5%,#407aff 99.17%,#3fa1ff 99.72%,#32b5ff 100%)"></i><i style="inset:59px;background:conic-gradient(#1ed3ff 0%,#00fefa 0.56%,#00d34c 2.22%,#00c209 3.06%,#1dc600 4.44%,#18c500 5.28%,#00c207 6.11%,#00d249 6.94%,#00fbef 8.61%,#07f5ff 8.89%,#3ea3ff 10%,#4076ff 10.83%,#4053ff 11.94%,#4040fe 13.06%,#4040f2 18.61%,#4040f2 32.22%,#4040fe 34.17%,#405fff 35%,#4096ff 35.83%,#0fe9ff 36.94%,#00fdf5 37.5%,#00f7e0 38.61%,#05f8ff 39.72%,#4099ff 40.83%,#4094ff 41.11%,#3aa9ff 42.22%,#3da5ff 43.06%,#404fff 45.83%,#4040fd 46.67%,#4040f2 51.67%,#4040f3 62.22%,#4040fd 64.44%,#4062ff 65.56%,#3ca6ff 66.67%,#05f7ff 67.78%,#00e697 69.44%,#00e07e 70.28%,#00dc71 71.39%,#00e698 72.78%,#01feff 74.17%,#38abff 75.28%,#4087ff 75.83%,#4040fd 78.33%,#4040f3 80.28%,#4040fe 83.06%,#406cff 86.39%,#4066ff 87.5%,#4042ff 89.72%,#4041ff 91.11%,#4087ff 95.83%,#407fff 98.89%,#3da4ff 99.44%,#1ed3ff 100%)"></i><i style="inset:60px;background:conic-gradient(#09f1ff 0%,#00fcf3 0.28%,#00d246 1.94%,#00c206 2.78%,#15c400 3.61%,#1ac500 4.44%,#00c102 5.56%,#00c411 5.83%,#00ce39 6.39%,#00fcf4 8.33%,#09f2ff 8.61%,#40a0ff 9.72%,#4072ff 10.56%,#404fff 11.67%,#4040fd 12.78%,#4040f3 16.11%,#4040f2 31.11%,#4040ff 33.89%,#4061ff 34.72%,#4098ff 35.56%,#0eeaff 36.67%,#00fdf5 37.22%,#00f7e0 38.33%,#04faff 39.44%,#409dff 40.56%,#4091ff 40.83%,#3aa9ff 41.94%,#3ba7ff 42.78%,#4040ff 46.39%,#4040f2 51.11%,#4040f3 61.94%,#4040fe 64.17%,#4063ff 65.28%,#3ca6ff 66.39%,#04f9ff 67.5%,#00edb5 68.61%,#00e490 69.44%,#00de7a 71.11%,#00e080 71.67%,#00e79e 72.5%,#02fcff 73.89%,#4099ff 75.28%,#4041ff 78.06%,#4040f3 80%,#4040ff 83.06%,#406cff 86.39%,#4040fe 90.56%,#4087ff 95.56%,#4082ff 98.61%,#39abff 99.17%,#09f1ff 100%)"></i><i style="inset:61px;background:conic-gradient(#00faec 0%,#00d03f 1.67%,#00c514 2.22%,#07c100 2.78%,#17c500 3.89%,#01c000 5%,#00c30c 5.28%,#00d146 6.11%,#00fdf8 8.06%,#0befff 8.33%,#409dff 9.44%,#406fff 10.28%,#4052ff 11.11%,#4040fe 12.22%,#4040f3 15.56%,#4040f2 30.83%,#4040ff 33.61%,#4062ff 34.44%,#409bff 35.28%,#0debff 36.39%,#00fcf4 36.94%,#00f7e0 38.06%,#00f9e7 38.61%,#02fcff 39.17%,#3fa1ff 40.28%,#408eff 40.56%,#3ba8ff 41.67%,#3aa9ff 42.5%,#404eff 45.56%,#4040fd 46.39%,#4040f3 48.89%,#4040f2 60.28%,#4040ff 63.89%,#4058ff 64.72%,#4094ff 65.83%,#05f7ff 67.22%,#00fcf1 67.5%,#00e79d 68.89%,#00e07f 70.56%,#00e596 71.94%,#04f9ff 73.61%,#4097ff 75%,#4040ff 78.06%,#4040f3 80%,#4041ff 83.06%,#406cff 86.39%,#4040fe 90.28%,#4088ff 95.28%,#407fff 98.06%,#409aff 98.61%,#06f6ff 99.72%,#00faec 100%)"></i><i style="inset:62px;background:conic-gradient(#00f1c5 0%,#00ce38 1.39%,#00c410 1.94%,#00c102 2.22%,#13c400 3.33%,#02c000 4.44%,#00c617 5%,#00d553 5.83%,#00fefd 7.78%,#0debff 8.06%,#409cff 9.17%,#4062ff 10.28%,#4040fe 11.67%,#4040f3 15%,#4040f2 30.28%,#4040ff 33.33%,#4064ff 34.17%,#409cff 35%,#02fcff 36.39%,#00f8e3 37.22%,#00f7e0 37.78%,#00f9e7 38.33%,#01feff 38.89%,#3da5ff 40%,#408cff 40.28%,#3ba7ff 41.39%,#3ca7ff 42.5%,#4040fe 46.11%,#4040f2 50%,#4040f3 60.83%,#4040fd 63.33%,#405bff 64.44%,#4096ff 65.56%,#05f8ff 66.94%,#00e8a1 68.61%,#00e186 70%,#00e287 70.83%,#00e79d 71.67%,#00fcf3 73.06%,#05f7ff 73.33%,#4097ff 74.72%,#4043ff 77.78%,#4040f3 80%,#4040fe 82.78%,#406cff 86.39%,#4040fe 90%,#4089ff 95%,#4080ff 97.78%,#409dff 98.33%,#01feff 99.44%,#00f1c5 100%)"></i><i style="inset:63px;background:conic-gradient(#00e8a0 0%,#00cc31 1.11%,#00c000 1.94%,#10c300 3.06%,#03c100 3.89%,#00ce36 5%,#02fcff 7.5%,#409aff 8.89%,#406cff 9.72%,#404eff 10.56%,#4040fd 11.39%,#4040f3 14.17%,#4040f2 31.11%,#4040ff 33.06%,#4063ff 33.89%,#409eff 34.72%,#01fdff 36.11%,#00fae9 36.67%,#00f7e0 37.5%,#00f9e6 38.06%,#00fffe 38.61%,#4090ff 40%,#3aa9ff 41.39%,#3aa8ff 42.22%,#4041ff 45.83%,#4040f2 50.28%,#4040f3 60.56%,#4040fe 63.06%,#405dff 64.17%,#4097ff 65.28%,#05f7ff 66.67%,#00e8a2 68.33%,#00e289 70%,#00e9a3 71.39%,#00fdf8 72.78%,#4097ff 74.44%,#4040ff 77.78%,#4040f3 80%,#4040ff 82.78%,#406cff 86.39%,#4041ff 90%,#4089ff 94.72%,#4081ff 97.5%,#3ea3ff 98.06%,#0debff 98.89%,#00fdf9 99.17%,#00e8a0 100%)"></i><i style="inset:64px;background:conic-gradient(#00df7c 0%,#00ca2a 0.83%,#00c209 1.39%,#0dc300 2.5%,#04c100 3.33%,#00cc31 4.44%,#00fcf3 6.94%,#07f5ff 7.22%,#4098ff 8.61%,#404dff 10.28%,#4041ff 10.83%,#4040f3 14.17%,#4040f3 30.83%,#4040ff 32.78%,#4064ff 33.61%,#409eff 34.44%,#01feff 35.83%,#00f9e8 36.39%,#00f7df 37.22%,#00f9e5 37.78%,#00fefc 38.33%,#17ddff 38.89%,#4094ff 39.72%,#408eff 40%,#39abff 41.39%,#3ca6ff 42.22%,#4040fe 45.83%,#4040f3 48.33%,#4040f2 58.61%,#4040ff 62.78%,#4061ff 63.89%,#409bff 65%,#05f7ff 66.39%,#00e9a6 68.06%,#00e48f 69.44%,#00e8a0 70.83%,#00edb6 71.39%,#00fffd 72.5%,#3da5ff 73.89%,#4040fe 77.78%,#4040f3 79.72%,#4040fe 82.5%,#406cff 86.39%,#4041ff 89.72%,#4089ff 94.44%,#4081ff 97.22%,#3da5ff 97.78%,#0befff 98.61%,#00fcf2 98.89%,#00df7c 100%)"></i><i style="inset:65px;background:conic-gradient(#00d554 0%,#00c924 0.56%,#00c105 1.11%,#0bc200 2.22%,#00c103 3.06%,#00d03f 4.17%,#00ffff 6.67%,#18dbff 7.22%,#4096ff 8.33%,#4060ff 9.44%,#4040ff 10.56%,#4040f3 13.61%,#4040f2 27.78%,#4040ff 32.5%,#4063ff 33.33%,#409eff 34.17%,#01feff 35.56%,#00f7df 36.67%,#00f9e5 37.5%,#00fefb 38.06%,#15e0ff 38.61%,#4099ff 39.44%,#408cff 39.72%,#3ba7ff 40.83%,#3ba8ff 41.94%,#4040ff 45.56%,#4040f2 49.44%,#4040f3 59.72%,#4040fd 62.22%,#405aff 63.33%,#409eff 64.72%,#04f8ff 66.11%,#00eaa8 67.78%,#00e593 69.44%,#00e9a6 70.56%,#00fbf0 71.94%,#03faff 72.22%,#3fa2ff 73.61%,#4041ff 77.5%,#4040f3 79.72%,#4040fe 82.5%,#406cff 86.11%,#4044ff 89.72%,#408aff 94.17%,#4082ff 96.94%,#39abff 97.5%,#06f6ff 98.33%,#00fae9 98.61%,#00d554 100%)"></i><i style="inset:66px;background:conic-gradient(#00cd32 0%,#00c103 0.83%,#09c200 1.67%,#00c001 2.5%,#00ca27 3.33%,#00fdf6 6.11%,#07f5ff 6.39%,#3fa2ff 7.78%,#405fff 9.17%,#4040ff 10.28%,#4040f2 16.94%,#4040f3 30.28%,#4040ff 32.22%,#4063ff 33.06%,#409eff 33.89%,#01feff 35.28%,#00f7df 36.39%,#00f8e4 37.22%,#00fef9 37.78%,#13e3ff 38.33%,#409dff 39.17%,#4089ff 39.44%,#3ca5ff 40.56%,#3aaaff 41.67%,#4040fe 45.56%,#4040f3 48.06%,#4040f2 57.78%,#4040ff 61.94%,#4068ff 63.33%,#3ea3ff 64.44%,#04f9ff 65.83%,#00edb5 67.22%,#00e698 68.89%,#00ebad 70.28%,#00fdf7 71.67%,#409eff 73.33%,#4043ff 77.22%,#4040f4 79.44%,#4040fd 82.22%,#406cff 86.11%,#4045ff 89.44%,#408aff 93.89%,#4083ff 96.67%,#36aeff 97.22%,#02fcff 98.06%,#00cd32 100%)"></i><i style="inset:67px;background:conic-gradient(#00c619 0%,#00c001 0.56%,#00c207 2.22%,#00cd33 3.06%,#03faff 5.83%,#409dff 7.5%,#4068ff 8.61%,#4040ff 10%,#4040f2 17.78%,#4040f3 30%,#4040ff 31.94%,#4063ff 32.78%,#409dff 33.61%,#01fdff 35%,#00f7df 36.11%,#00f8e4 36.94%,#00fdf8 37.5%,#11e6ff 38.06%,#3fa2ff 38.89%,#408aff 39.17%,#3ba8ff 40.56%,#3ba8ff 41.67%,#4041ff 45.28%,#4040f2 49.17%,#4040f3 58.89%,#4040fd 61.39%,#4058ff 62.5%,#4098ff 63.89%,#03fbff 65.56%,#00ebae 67.22%,#00e79d 68.89%,#00ecb3 70%,#00ffff 71.39%,#409fff 73.06%,#4040ff 77.22%,#4040f3 79.44%,#4040fe 82.22%,#406cff 86.11%,#4047ff 89.44%,#408aff 93.61%,#4086ff 96.39%,#409aff 96.67%,#11e5ff 97.5%,#00fffe 97.78%,#00d144 99.44%,#00c619 100%)"></i><i style="inset:68px;background:conic-gradient(#00c207 0%,#02c000 1.39%,#00c40f 1.94%,#00d040 2.78%,#01feff 5.28%,#3da4ff 6.94%,#405dff 8.61%,#4040fc 10%,#4040f3 12.78%,#4040f2 28.89%,#4040ff 31.67%,#4062ff 32.5%,#409dff 33.33%,#01fdff 34.72%,#00f8e2 35.56%,#00f7df 36.11%,#00f8e3 36.67%,#04f9ff 37.5%,#408fff 38.89%,#3aaaff 40.56%,#3aa9ff 41.39%,#4040fe 45.28%,#4040f3 47.5%,#4040f2 56.39%,#4040ff 61.11%,#4066ff 62.5%,#409cff 63.61%,#01fdff 65.28%,#00eeba 66.67%,#00e8a1 68.33%,#00ecb1 69.44%,#04f9ff 71.11%,#3ca6ff 72.5%,#40a0ff 72.78%,#4040fe 77.22%,#4040f4 79.44%,#4040ff 82.22%,#406cff 86.11%,#4048ff 89.17%,#408bff 93.33%,#4088ff 96.11%,#409fff 96.39%,#0eeaff 97.22%,#00fdf6 97.5%,#00cf3d 99.17%,#00c207 100%)"></i><i style="inset:69px;background:conic-gradient(#01c000 0%,#00c103 1.11%,#00c618 1.67%,#00ce39 2.22%,#00fffe 4.72%,#09f1ff 5%,#409aff 6.67%,#405aff 8.33%,#4040fc 9.72%,#4040f3 12.5%,#4040f2 28.61%,#4040ff 31.39%,#4062ff 32.22%,#409bff 33.06%,#0decff 34.17%,#00fcf4 34.72%,#00f8e3 35.28%,#00f7df 36.11%,#03fbff 37.22%,#39abff 38.33%,#4089ff 38.89%,#3aa8ff 40.28%,#3ba7ff 41.39%,#404eff 44.44%,#4040fd 45.28%,#4040f2 56.94%,#4041ff 60.83%,#4060ff 61.94%,#3ea3ff 63.33%,#00fffe 65%,#00efbc 66.39%,#00e9a6 67.78%,#00edb7 69.17%,#00fefc 70.56%,#3fa2ff 72.22%,#408fff 73.61%,#4040ff 76.94%,#4040f3 79.17%,#4041ff 82.22%,#406cff 85.83%,#404cff 89.17%,#408bff 93.06%,#408bff 95.83%,#40a1ff 96.11%,#0aefff 96.94%,#00fcf2 97.22%,#00ce38 98.89%,#00c411 99.44%,#01c000 100%)"></i><i style="inset:70px;background:conic-gradient(#02c000 0%,#00c001 0.56%,#00c821 1.39%,#00fdf9 4.17%,#08f4ff 4.44%,#409dff 6.11%,#4068ff 7.5%,#4040ff 9.17%,#4040f3 11.94%,#4040f2 27.5%,#4040ff 31.11%,#4062ff 31.94%,#409bff 32.78%,#0decff 33.89%,#00fcf5 34.44%,#00f8e3 35%,#00f7df 35.83%,#02fcff 36.94%,#36afff 38.06%,#4087ff 38.61%,#3ba7ff 40%,#3aa9ff 41.11%,#4040ff 45%,#4040f2 49.44%,#4040f3 58.06%,#4040fe 60.28%,#4065ff 61.67%,#4099ff 62.78%,#00fefb 64.72%,#00efbd 66.11%,#00eaaa 67.78%,#00efbc 68.89%,#03faff 70.28%,#3ea3ff 71.94%,#4090ff 73.33%,#4041ff 76.67%,#4040f4 79.17%,#4040fe 81.94%,#406cff 85.83%,#404cff 88.89%,#408bff 92.78%,#408bff 95.56%,#3da4ff 95.83%,#09f2ff 96.67%,#00faeb 96.94%,#00cd33 98.61%,#00c40f 99.17%,#02c000 100%)"></i><i style="inset:71px;background:conic-gradient(#00c001 0%,#00cb2c 1.11%,#00fcf2 3.61%,#05f7ff 3.89%,#409eff 5.56%,#406aff 6.94%,#4040fe 8.89%,#4040f3 11.94%,#4040f2 27.78%,#4040ff 30.83%,#4062ff 31.67%,#409aff 32.5%,#03faff 33.89%,#00f8e3 34.72%,#00f7df 35.28%,#00f9e8 36.11%,#01feff 36.67%,#409cff 38.06%,#4086ff 38.33%,#3ca6ff 39.72%,#39aaff 40.83%,#4040fe 45%,#4040f3 47.22%,#4040f2 55.83%,#4041ff 60%,#405fff 61.11%,#409fff 62.5%,#04f8ff 64.17%,#00f1c6 65.56%,#00ebae 67.22%,#00eeb9 68.33%,#00fefa 69.72%,#3da5ff 71.39%,#4096ff 72.78%,#4043ff 76.39%,#4040f4 78.89%,#4040ff 81.94%,#406bff 85.56%,#4050ff 88.89%,#408cff 92.5%,#408aff 95%,#408eff 95.28%,#3da4ff 95.56%,#06f7ff 96.39%,#00f9e8 96.67%,#00cc2f 98.33%,#00c105 99.17%,#00c001 100%)"></i><i style="inset:72px;background:conic-gradient(#00c30b 0%,#00ce38 0.83%,#02fbff 3.33%,#409fff 5%,#406cff 6.39%,#4046ff 8.06%,#4040f3 11.11%,#4040f2 20.83%,#4040f3 28.89%,#4040ff 30.56%,#4062ff 31.39%,#409aff 32.22%,#04faff 33.61%,#00f8e4 34.44%,#00f7df 35%,#00f9e7 35.83%,#00fffe 36.39%,#40a1ff 37.78%,#408aff 38.06%,#3ba8ff 39.72%,#3ba8ff 40.83%,#4041ff 44.72%,#4040f2 49.17%,#4040f3 57.22%,#4040fe 59.44%,#4064ff 60.83%,#3da5ff 62.22%,#01fdff 63.89%,#00f1c7 65.28%,#00ecb3 66.67%,#00efbf 68.06%,#00ffff 69.44%,#3da5ff 71.11%,#4097ff 72.5%,#4044ff 76.11%,#4040f4 78.61%,#4040fe 81.67%,#406bff 85.56%,#4051ff 88.61%,#408cff 92.22%,#408dff 95%,#3ca6ff 95.28%,#05f7ff 96.11%,#00d144 97.78%,#00c619 98.33%,#00c002 99.17%,#00c30b 100%)"></i><i style="inset:73px;background:conic-gradient(#00c71d 0%,#00fffe 2.78%,#0befff 3.06%,#3fa1ff 4.44%,#406cff 5.83%,#4040fe 8.06%,#4040f3 11.39%,#4040f2 26.94%,#4040ff 30.28%,#4063ff 31.11%,#409aff 31.94%,#04f9ff 33.33%,#00f7df 34.72%,#00f9e6 35.56%,#00fefd 36.11%,#3da4ff 37.5%,#4088ff 38.06%,#3ba7ff 39.44%,#3aa9ff 40.56%,#4040ff 44.72%,#4040f3 46.94%,#4040f2 54.17%,#4040ff 59.17%,#405dff 60.28%,#409cff 61.67%,#00fffe 63.61%,#00f1c7 65%,#00edb6 66.67%,#00f1c4 67.78%,#04f9ff 69.17%,#39aaff 70.56%,#3ca5ff 70.83%,#4097ff 72.22%,#4041ff 76.11%,#4040f4 78.61%,#4040fd 81.39%,#406bff 85.56%,#4053ff 88.33%,#408fff 92.22%,#408eff 94.72%,#3ca5ff 95%,#03faff 95.83%,#00d041 97.5%,#00c617 98.06%,#00c106 98.61%,#00c104 99.17%,#00c71d 100%)"></i><i style="inset:74px;background:conic-gradient(#00ce39 0%,#00fef9 2.22%,#09f2ff 2.5%,#3ea3ff 3.89%,#406bff 5.28%,#4040ff 7.5%,#4040f3 10.56%,#4040f2 20.28%,#4040f3 28.33%,#4041ff 30%,#4063ff 30.83%,#409aff 31.67%,#04f8ff 33.06%,#00f7df 34.44%,#00f9e6 35.28%,#00fefb 35.83%,#12e4ff 36.39%,#3ba8ff 37.22%,#4086ff 37.78%,#3ca5ff 39.17%,#3ba7ff 40.56%,#4040fe 44.72%,#4040f2 53.06%,#4040fe 58.61%,#4062ff 60%,#3ea2ff 61.39%,#00fef9 63.33%,#00f3ce 64.44%,#00eeb9 66.11%,#00f0c2 67.22%,#00fefb 68.61%,#3ca5ff 70.28%,#4098ff 71.94%,#4042ff 75.83%,#4040f4 78.33%,#4040fe 81.39%,#4069ff 85%,#4056ff 88.33%,#408fff 91.94%,#408dff 94.44%,#3ca6ff 94.72%,#04f9ff 95.56%,#00cf3e 97.22%,#00c617 97.78%,#00c207 98.33%,#00c207 98.89%,#00c616 99.44%,#00ce39 100%)"></i><i style="inset:75px;background:conic-gradient(#00d75c 0%,#00fcf3 1.67%,#06f6ff 1.94%,#1ed2ff 2.5%,#3da5ff 3.33%,#4075ff 4.44%,#4041ff 6.94%,#4040f3 10.28%,#4040f2 20%,#4040f3 28.06%,#4041ff 29.72%,#4064ff 30.56%,#409aff 31.39%,#05f8ff 32.78%,#00f7df 34.17%,#00f9e5 35%,#00fef9 35.56%,#10e7ff 36.11%,#39abff 36.94%,#4084ff 37.5%,#3da4ff 38.89%,#3aa8ff 40.28%,#4041ff 44.44%,#4040f2 48.33%,#4040fd 58.06%,#405dff 59.44%,#4099ff 60.83%,#02fbff 62.78%,#00f2c8 64.44%,#00efbd 65.83%,#00f2c8 66.94%,#01fdff 68.33%,#3ca6ff 70%,#4099ff 71.67%,#4043ff 75.56%,#4040f4 78.33%,#4040ff 81.39%,#406aff 85%,#4057ff 88.06%,#4090ff 91.67%,#408dff 94.17%,#3da4ff 94.44%,#03faff 95.28%,#00cf3e 96.94%,#00c30c 97.78%,#00c410 98.89%,#00cb2d 99.44%,#00d75c 100%)"></i><i style="inset:76px;background:conic-gradient(#00e184 0%,#02fcff 1.39%,#3ca6ff 2.78%,#4063ff 4.44%,#4043ff 6.11%,#4040f9 7.5%,#4040f2 26.94%,#4042ff 29.44%,#4064ff 30.28%,#409aff 31.11%,#0fe8ff 32.22%,#00fdf9 32.78%,#00f9e5 33.33%,#00f7df 34.17%,#04f9ff 35.56%,#36afff 36.67%,#4085ff 37.22%,#3ca6ff 38.89%,#3aa9ff 40%,#4040ff 44.44%,#4040f2 49.72%,#4040fe 57.78%,#4062ff 59.17%,#40a0ff 60.56%,#00ffff 62.5%,#00f3ce 63.89%,#00f0c0 65.56%,#00f3cd 66.67%,#00fdf8 67.78%,#3ca6ff 69.72%,#4099ff 71.39%,#4040ff 75.56%,#4040f4 78.06%,#4040fe 81.11%,#406bff 85.28%,#4059ff 87.78%,#4090ff 91.39%,#408cff 93.89%,#3da5ff 94.17%,#05f8ff 95%,#00cf3d 96.67%,#00c617 97.22%,#00c209 97.78%,#00c30c 98.33%,#00c922 98.89%,#00e184 100%)"></i><i style="inset:77px;background:conic-gradient(#00eaa7 0%,#00fdf7 0.83%,#0af1ff 1.11%,#409aff 2.5%,#4064ff 3.89%,#4042ff 5.56%,#4040f7 7.5%,#4040f2 26.67%,#4042ff 29.17%,#4064ff 30%,#409bff 30.83%,#10e8ff 31.94%,#00fdf9 32.5%,#00f9e5 33.06%,#00f7df 33.89%,#03faff 35.28%,#409dff 36.67%,#4089ff 36.94%,#3ba8ff 38.89%,#3ba7ff 40%,#4040fe 44.44%,#4040f2 49.44%,#4040fd 57.22%,#405dff 58.61%,#3ca5ff 60.28%,#00fefb 62.22%,#00f3cf 63.61%,#00f0c3 65%,#00f3cd 66.11%,#00feff 67.5%,#3ba8ff 69.17%,#409aff 71.11%,#4041ff 75.28%,#4040f4 77.78%,#4040ff 81.11%,#406aff 85%,#405dff 87.78%,#4093ff 91.39%,#408dff 93.61%,#3fa2ff 93.89%,#05f8ff 94.72%,#00d03e 96.39%,#00c618 96.94%,#00c30b 97.5%,#00c40f 98.06%,#00ca27 98.61%,#00eaa7 100%)"></i><i style="inset:78px;background:conic-gradient(#00f3cc 0%,#02fbff 0.56%,#409dff 1.94%,#4076ff 2.78%,#404fff 4.17%,#4040fe 5.28%,#4040f2 11.39%,#4040f3 26.67%,#4040fc 28.61%,#4057ff 29.44%,#409bff 30.56%,#0fe8ff 31.67%,#00fef9 32.22%,#00f9e5 32.78%,#00f7df 33.61%,#02fbff 35%,#40a0ff 36.39%,#4086ff 36.94%,#3ea4ff 38.33%,#3ba8ff 39.72%,#4041ff 44.17%,#4040f2 50.56%,#4041ff 56.94%,#4063ff 58.33%,#409eff 59.72%,#03fbff 61.67%,#00f5d4 63.06%,#00f1c7 64.44%,#00f4d2 65.83%,#00fef9 66.94%,#3da5ff 68.89%,#409aff 70.83%,#4041ff 75%,#4040f4 77.78%,#4040fe 80.83%,#4069ff 84.72%,#405eff 87.5%,#4093ff 91.11%,#408eff 93.33%,#3ea2ff 93.61%,#07f5ff 94.44%,#00f9e7 94.72%,#00d040 96.11%,#00c619 96.67%,#00c30c 97.22%,#00c411 97.78%,#00cb2c 98.33%,#00f3cc 100%)"></i><i style="inset:79px;background:conic-gradient(#00fcf2 0%,#09f2ff 0.28%,#3fa2ff 1.39%,#405cff 3.06%,#4040fe 4.72%,#4040f2 11.11%,#4040f3 26.39%,#4040fc 28.33%,#4057ff 29.17%,#409cff 30.28%,#10e8ff 31.39%,#00fdf9 31.94%,#00f9e6 32.5%,#00f7df 33.33%,#00f8e3 33.89%,#02fcff 34.72%,#3ea3ff 36.11%,#4084ff 36.67%,#3ca6ff 38.33%,#3ca6ff 39.72%,#4040ff 44.17%,#4040f2 50%,#4040fe 56.39%,#405fff 57.78%,#3da5ff 59.44%,#00ffff 61.39%,#00f4d4 62.78%,#00f2c9 64.44%,#00f5d8 65.56%,#01feff 66.67%,#3da5ff 68.61%,#409aff 70.56%,#4042ff 74.72%,#4040f4 77.5%,#4040ff 80.83%,#406aff 84.72%,#405fff 87.22%,#4093ff 90.83%,#408eff 93.06%,#40a0ff 93.33%,#07f4ff 94.17%,#00fae9 94.44%,#00d042 95.83%,#00c71b 96.39%,#00c30e 96.94%,#00c513 97.5%,#00cc30 98.06%,#00fcf2 100%)"></i><i style="inset:80px;background:conic-gradient(#0eebff 0%,#409aff 1.11%,#406fff 1.94%,#404eff 3.06%,#4040fe 4.17%,#4040f2 11.11%,#4040f3 26.11%,#4040fc 28.06%,#4057ff 28.89%,#409bff 30%,#05f7ff 31.39%,#00f9e6 32.22%,#00f7df 33.06%,#00fae9 33.89%,#01feff 34.44%,#3ca6ff 35.83%,#4083ff 36.39%,#3fa1ff 37.78%,#3aa9ff 39.17%,#409aff 40.28%,#4040fe 44.17%,#4040f2 50.28%,#4040fe 55.83%,#405dff 57.22%,#409fff 58.89%,#00fefc 61.11%,#00f4d4 62.5%,#00f2cb 63.89%,#00f5d7 65%,#00fefb 66.11%,#3ba7ff 68.06%,#409bff 70.28%,#4040fe 74.72%,#4040f4 77.22%,#4040fe 80.56%,#4069ff 84.44%,#4061ff 86.94%,#4094ff 90.56%,#408fff 92.78%,#40a0ff 93.06%,#09f1ff 93.89%,#00faeb 94.17%,#00d964 95.28%,#00cb2d 95.83%,#00c40f 96.67%,#00c515 97.22%,#00cc31 97.78%,#00fefb 99.72%,#0eebff 100%)"></i><i style="inset:81px;background:conic-gradient(#22cdff 0%,#3ea3ff 0.56%,#4068ff 1.67%,#4040ff 3.33%,#4040f2 10%,#4040f3 25.83%,#4040fd 27.78%,#4058ff 28.61%,#409bff 29.72%,#06f7ff 31.11%,#00f9e6 31.94%,#00f7df 32.78%,#00fae9 33.61%,#00ffff 34.17%,#3aa8ff 35.56%,#4082ff 36.11%,#3ea3ff 37.78%,#3aa9ff 38.89%,#4096ff 40.28%,#4040ff 43.89%,#4040f2 48.61%,#4040fe 55.28%,#4063ff 56.94%,#409aff 58.33%,#02fcff 60.56%,#00f5d8 61.94%,#00f3ce 63.06%,#00f5d6 64.44%,#00fdf6 65.56%,#02fcff 65.83%,#3ea3ff 67.78%,#409bff 70%,#4040ff 74.44%,#4040f4 77.22%,#4040fe 80.28%,#4069ff 84.44%,#4063ff 86.67%,#4094ff 90.28%,#408fff 92.5%,#409eff 92.78%,#09f1ff 93.61%,#00fbed 93.89%,#00d247 95.28%,#00c81e 95.83%,#00c410 96.39%,#00c516 96.94%,#00cd32 97.5%,#01feff 99.44%,#22cdff 100%)"></i><i style="inset:82px;background:conic-gradient(#33b3ff 0%,#409eff 0.28%,#4062ff 1.39%,#4040ff 2.78%,#4040f2 9.44%,#4040f2 25.28%,#4040fd 27.5%,#4058ff 28.33%,#409aff 29.44%,#06f6ff 30.83%,#00f9e6 31.67%,#00f7df 32.5%,#00f9e8 33.33%,#00fffe 33.89%,#39abff 35.28%,#4084ff 35.83%,#3fa2ff 37.5%,#3aa8ff 38.61%,#4098ff 40%,#4040fe 43.89%,#4040f2 48.61%,#4040fd 54.72%,#4061ff 56.39%,#3ea2ff 58.06%,#00fffe 60.28%,#00f5d7 61.67%,#00f3d0 63.06%,#00f6da 64.17%,#00fefd 65.28%,#3ea4ff 67.5%,#409bff 69.72%,#4041ff 74.17%,#4040f4 76.94%,#4040fe 80.28%,#4068ff 84.17%,#4067ff 86.67%,#4093ff 89.72%,#4090ff 92.22%,#409eff 92.5%,#0beeff 93.33%,#00fbef 93.61%,#00cc32 95.28%,#00c516 95.83%,#00c412 96.39%,#00cd33 97.22%,#03faff 99.17%,#33b3ff 100%)"></i><i style="inset:83px;background:conic-gradient(#409aff 0%,#405eff 1.11%,#4041ff 2.22%,#4040f2 9.17%,#4040f2 25%,#4040fd 27.22%,#4058ff 28.06%,#409bff 29.17%,#11e5ff 30.28%,#00fefb 30.83%,#00f9e7 31.39%,#00f7df 32.22%,#00f9e8 33.06%,#00fefd 33.61%,#37adff 35%,#4087ff 35.56%,#3da4ff 37.5%,#3ba7ff 38.61%,#409aff 39.72%,#4041ff 43.61%,#4040f2 48.33%,#4040fd 54.17%,#4060ff 55.83%,#409eff 57.5%,#03fbff 59.72%,#00f6db 61.11%,#00f4d1 62.5%,#00f6d9 63.61%,#00fdf8 64.72%,#0af1ff 65.28%,#3ea3ff 66.94%,#409fff 69.17%,#4042ff 73.89%,#4040f4 76.67%,#4040fe 80%,#4067ff 83.89%,#4067ff 86.39%,#4095ff 89.72%,#4090ff 91.94%,#409eff 92.22%,#0cedff 93.06%,#00fcf1 93.33%,#00cd34 95%,#00c617 95.56%,#00c513 96.11%,#00cc32 96.94%,#04f9ff 98.89%,#409aff 100%)"></i><i style="inset:84px;background:conic-gradient(#4086ff 0%,#405bff 0.83%,#4040fe 1.94%,#4040f2 10%,#4040f3 24.72%,#4040fd 26.94%,#4059ff 27.78%,#409aff 28.89%,#00fefd 30.56%,#00f9e8 31.11%,#00f7df 31.94%,#00f9e7 32.78%,#00fefb 33.33%,#10e7ff 33.89%,#409dff 35%,#4082ff 35.56%,#409fff 36.94%,#3ba7ff 38.33%,#4096ff 39.72%,#4040ff 43.61%,#4040f2 48.06%,#4040fd 53.61%,#405eff 55.28%,#409bff 56.94%,#00fffe 59.44%,#00f6da 60.83%,#00f4d3 62.22%,#00f6dc 63.33%,#00fffd 64.44%,#3fa2ff 66.67%,#409eff 68.89%,#4042ff 73.61%,#4040f4 76.39%,#4040ff 80%,#4067ff 83.89%,#4068ff 86.11%,#4093ff 89.17%,#4090ff 91.67%,#409cff 91.94%,#0decff 92.78%,#00fcf2 93.06%,#00ce37 94.72%,#00c619 95.28%,#00c513 95.83%,#00c821 96.39%,#00d248 96.94%,#03fbff 98.61%,#36aeff 99.44%,#4086ff 100%)"></i><i style="inset:85px;background:conic-gradient(#4074ff 0%,#404fff 0.83%,#4040fd 1.67%,#4040f3 5%,#4040f2 23.33%,#4040fe 26.67%,#4059ff 27.5%,#409aff 28.61%,#00fffe 30.28%,#00f9e8 30.83%,#00f7df 31.67%,#00f9e6 32.5%,#00fef9 33.06%,#0fe9ff 33.61%,#40a0ff 34.72%,#4081ff 35.28%,#3fa1ff 36.94%,#3ba7ff 38.06%,#4098ff 39.44%,#4040fe 43.61%,#4040f2 48.33%,#4040fd 53.06%,#4056ff 54.44%,#4099ff 56.39%,#02fcff 58.89%,#00f7dd 60.28%,#00f5d4 61.39%,#00f6da 62.78%,#00fdf8 63.89%,#02fcff 64.17%,#3ea2ff 66.39%,#409eff 68.61%,#4043ff 73.33%,#4040f4 76.39%,#4040fe 79.72%,#4066ff 83.61%,#406aff 85.83%,#4094ff 88.89%,#408fff 91.39%,#409dff 91.67%,#0eeaff 92.5%,#00fdf5 92.78%,#00ce39 94.44%,#00c71b 95%,#00c514 95.56%,#00c820 96.11%,#00d146 96.67%,#01fdff 98.33%,#36afff 99.17%,#4074ff 100%)"></i><i style="inset:86px;background:conic-gradient(#4065ff 0%,#4040ff 1.11%,#4040f2 8.89%,#4040f3 24.17%,#4040ff 26.39%,#405aff 27.22%,#409aff 28.33%,#00ffff 30%,#00fae9 30.56%,#00f7df 31.39%,#00f9e5 32.22%,#00fdf7 32.78%,#0decff 33.33%,#3ea3ff 34.44%,#407fff 35%,#40a0ff 36.67%,#3ca6ff 38.06%,#4095ff 39.44%,#4041ff 43.33%,#4040f2 48.33%,#4041ff 52.78%,#4065ff 54.44%,#3ea2ff 56.11%,#00fefc 58.61%,#00f6db 60%,#00f5d5 61.39%,#00f7dd 62.5%,#00fefc 63.61%,#3fa1ff 65.83%,#409dff 68.33%,#4040ff 73.33%,#4040f4 76.11%,#4040fe 79.44%,#4065ff 83.33%,#406aff 85.56%,#4094ff 88.61%,#408fff 91.11%,#409bff 91.39%,#0eeaff 92.22%,#00fdf5 92.5%,#00cf3c 94.17%,#00c71d 94.72%,#00c515 95.28%,#00c820 95.83%,#00d144 96.39%,#00fffe 98.06%,#409bff 99.17%,#4065ff 100%)"></i><i style="inset:87px;background:conic-gradient(#405aff 0%,#4040ff 0.83%,#4040f3 3.33%,#4040f2 20.56%,#4041ff 26.11%,#4069ff 27.22%,#409bff 28.06%,#00feff 29.72%,#00faea 30.28%,#00f7df 31.11%,#00f8e4 31.94%,#02fdff 32.78%,#3ba7ff 34.17%,#4082ff 34.72%,#409eff 36.39%,#3ca6ff 37.78%,#4096ff 39.17%,#4040ff 43.33%,#4040f2 48.06%,#4041ff 52.22%,#405dff 53.61%,#3fa1ff 55.56%,#00ffff 58.06%,#00f7de 59.44%,#00f5d6 60.83%,#00f7e0 62.22%,#01fdff 63.33%,#3fa1ff 65.56%,#409dff 68.06%,#4041ff 73.06%,#4040f4 75.83%,#4040ff 79.44%,#4063ff 83.06%,#406aff 85.28%,#4094ff 88.33%,#408fff 90.83%,#409cff 91.11%,#10e7ff 91.94%,#00fefa 92.22%,#00d03f 93.89%,#00c81f 94.44%,#00c617 95%,#00c820 95.56%,#00d042 96.11%,#00fdf9 97.78%,#409eff 98.89%,#405aff 100%)"></i><i style="inset:88px;background:conic-gradient(#4050ff 0%,#4040fc 0.83%,#4040f2 21.94%,#4040fd 25.56%,#405eff 26.67%,#409cff 27.78%,#01feff 29.44%,#00f8e4 30.28%,#00f7df 31.11%,#00fae9 31.94%,#00ffff 32.5%,#4099ff 34.17%,#4082ff 34.72%,#40a0ff 36.39%,#3da4ff 37.78%,#4093ff 39.17%,#4042ff 43.06%,#4040f3 47.5%,#4041ff 51.67%,#4064ff 53.33%,#409fff 55%,#02fcff 57.5%,#00f7e0 58.89%,#00f5d6 60.28%,#00f7df 61.67%,#00fefb 62.78%,#3fa2ff 65.28%,#409cff 67.78%,#4041ff 72.78%,#4040f4 75.56%,#4040ff 79.17%,#406cff 85%,#4092ff 87.78%,#408eff 90.56%,#34b2ff 91.11%,#10e7ff 91.67%,#00fefa 91.94%,#00d143 93.61%,#00c821 94.17%,#00c618 94.72%,#00c820 95.28%,#00d040 95.83%,#00fcf4 97.5%,#0cedff 97.78%,#3fa2ff 98.61%,#4050ff 100%)"></i><i style="inset:89px;background:conic-gradient(#4049ff 0%,#4040fc 0.56%,#4040f2 4.72%,#4040f3 22.78%,#4040fe 25.28%,#4061ff 26.39%,#409eff 27.5%,#01feff 29.17%,#00f7df 30.56%,#00f8e2 31.39%,#00fefc 32.22%,#10e7ff 32.78%,#409fff 33.89%,#4081ff 34.44%,#409fff 36.11%,#3da4ff 37.5%,#4094ff 38.89%,#4041ff 43.06%,#4040f3 47.22%,#4040ff 51.11%,#4063ff 52.78%,#409eff 54.44%,#03faff 56.94%,#00f7de 58.61%,#00f5d7 60%,#00f8e2 61.39%,#01feff 62.5%,#3fa2ff 64.72%,#409eff 67.22%,#4042ff 72.5%,#4040f4 75.28%,#4040ff 78.89%,#406aff 84.44%,#4093ff 87.78%,#408dff 90.28%,#36afff 90.83%,#00ffff 91.67%,#00d247 93.33%,#00c924 93.89%,#00c619 94.44%,#00c820 95%,#00cf3e 95.56%,#00fbee 97.22%,#09f2ff 97.5%,#3ca6ff 98.33%,#406cff 99.17%,#4049ff 100%)"></i><i style="inset:90px;background:conic-gradient(#4043ff 0%,#4040f3 2.5%,#4040f2 15.28%,#4040f3 23.06%,#4040ff 25%,#4064ff 26.11%,#3fa1ff 27.22%,#01feff 28.89%,#00f7df 30.28%,#00f8e2 31.11%,#00fef9 31.94%,#0eeaff 32.5%,#3da4ff 33.61%,#4080ff 34.17%,#409dff 35.83%,#3da4ff 37.22%,#4096ff 38.61%,#4040ff 43.06%,#4040f3 46.94%,#4040ff 50.56%,#4064ff 52.22%,#409eff 53.89%,#00fffe 56.67%,#00f7df 58.06%,#00f5d8 59.44%,#00f7e0 60.83%,#00fefb 61.94%,#40a1ff 64.44%,#409eff 66.94%,#4042ff 72.22%,#4040f5 75%,#4040fe 78.61%,#406aff 84.17%,#4091ff 87.22%,#408dff 90%,#36afff 90.56%,#02fdff 91.39%,#00d34b 93.06%,#00ca27 93.61%,#00c71c 94.17%,#00c821 94.72%,#00cf3d 95.28%,#00fae9 96.94%,#06f6ff 97.22%,#4095ff 98.33%,#4061ff 99.17%,#4043ff 100%)"></i><i style="inset:91px;background:conic-gradient(#4040fe 0%,#4040f2 3.61%,#4040f3 21.94%,#4040fd 24.44%,#405cff 25.56%,#3da4ff 26.94%,#01feff 28.61%,#00f9e5 29.44%,#00f7df 30.28%,#00f9e6 31.11%,#03fbff 31.94%,#39aaff 33.33%,#4086ff 33.89%,#409fff 35.83%,#3ea2ff 37.22%,#4092ff 38.61%,#4042ff 42.78%,#4040f3 46.67%,#4040ff 50%,#4062ff 51.67%,#409cff 53.33%,#00feff 56.11%,#00f8e1 57.5%,#00f6d9 59.17%,#00f8e4 60.56%,#01feff 61.67%,#3fa1ff 64.17%,#409dff 66.67%,#4040ff 72.22%,#4040f5 74.72%,#4040fe 78.33%,#4068ff 83.61%,#4091ff 86.94%,#408cff 89.72%,#38acff 90.28%,#03faff 91.11%,#00cf3b 93.06%,#00c822 93.61%,#00c71e 94.17%,#00cb2b 94.72%,#00d450 95.28%,#02fcff 96.94%,#409aff 98.06%,#4064ff 98.89%,#4040fe 100%)"></i><i style="inset:92px;background:conic-gradient(#4040fb 0%,#4040f2 20.56%,#4040fe 24.17%,#405fff 25.28%,#4098ff 26.39%,#00ffff 28.33%,#00f9e5 29.17%,#00f7df 30%,#00f9e5 30.83%,#01fdff 31.67%,#409eff 33.33%,#4083ff 33.89%,#409dff 35.56%,#40a1ff 37.22%,#4041ff 42.78%,#4040f3 46.39%,#4040ff 49.44%,#405bff 50.83%,#409cff 52.78%,#01fdff 55.56%,#00f8e2 56.94%,#00f6da 58.61%,#00f8e3 60%,#00fefd 61.11%,#3fa2ff 63.61%,#409cff 66.39%,#4043ff 71.67%,#4040f5 74.44%,#4040ff 78.06%,#4091ff 86.67%,#408bff 89.44%,#38acff 90%,#06f6ff 90.83%,#00fae9 91.11%,#00d03f 92.78%,#00c925 93.33%,#00c820 93.89%,#00cb2b 94.44%,#00d44e 95%,#00fefc 96.67%,#409fff 97.78%,#405bff 98.89%,#4040fb 100%)"></i><i style="inset:93px;background:conic-gradient(#4040fa 0%,#4040f2 20.56%,#4041ff 23.89%,#4063ff 25%,#409bff 26.11%,#00fffe 28.06%,#00f9e5 28.89%,#00f7df 29.72%,#00f8e4 30.56%,#00ffff 31.39%,#3ea3ff 33.06%,#4082ff 33.61%,#409fff 35.56%,#409eff 37.22%,#4040ff 42.78%,#4040f3 46.11%,#4043ff 49.17%,#4069ff 50.83%,#409aff 52.22%,#13e2ff 54.17%,#00fefb 55.28%,#00f7e0 56.67%,#00f6db 58.33%,#00f8e2 59.44%,#02fcff 60.83%,#40a0ff 63.33%,#409bff 66.11%,#4040ff 71.67%,#4040f5 74.17%,#4040ff 77.78%,#408fff 86.11%,#408aff 89.17%,#3aa9ff 89.72%,#07f5ff 90.56%,#00faec 90.83%,#00d146 92.5%,#00ca29 93.06%,#00c822 93.61%,#00cb2b 94.17%,#00d34a 94.72%,#00fdf5 96.39%,#0cedff 96.67%,#3da4ff 97.5%,#406dff 98.33%,#4049ff 99.17%,#4040fa 100%)"></i><i style="inset:94px;background:conic-gradient(#4040f8 0%,#4040f2 20.28%,#4040fe 23.33%,#405cff 24.44%,#40a0ff 25.83%,#00fefc 27.78%,#00f8e4 28.61%,#00f7de 29.44%,#00f8e4 30.28%,#00fefd 31.11%,#3aa8ff 32.78%,#4086ff 33.33%,#409eff 35.28%,#40a0ff 36.67%,#4042ff 42.5%,#4040f4 45.83%,#4040fe 48.33%,#4060ff 50%,#3ea3ff 51.94%,#00fefd 54.72%,#00f8e2 56.11%,#00f6db 57.78%,#00f9e6 59.17%,#00feff 60.28%,#40a0ff 63.06%,#409eff 65.56%,#4040ff 71.39%,#4040f5 73.89%,#4040ff 77.5%,#408fff 85.83%,#4089ff 88.89%,#3ba8ff 89.44%,#0af0ff 90.28%,#00fcf2 90.56%,#00d34b 92.22%,#00cb2d 92.78%,#00c924 93.33%,#00cb2b 93.89%,#00d247 94.44%,#00faec 96.11%,#07f4ff 96.39%,#38abff 97.22%,#4062ff 98.33%,#4045ff 99.17%,#4040f8 100%)"></i><i style="inset:95px;background:conic-gradient(#4040f7 0%,#4040f2 20%,#4040ff 23.06%,#4061ff 24.17%,#3da4ff 25.56%,#04f9ff 27.22%,#00f8e4 28.33%,#00f7de 29.17%,#00f8e3 30%,#00fefb 30.83%,#0debff 31.39%,#409cff 32.78%,#4083ff 33.33%,#409cff 35%,#40a0ff 36.39%,#4092ff 37.78%,#4041ff 42.5%,#4040f4 45.56%,#4040fd 47.78%,#405eff 49.44%,#3fa1ff 51.39%,#00ffff 54.17%,#00f8e3 55.56%,#00f6dc 56.94%,#00f8e2 58.33%,#00fffd 59.72%,#409fff 62.5%,#409eff 65.28%,#4040ff 71.11%,#4040f6 73.61%,#4040ff 77.22%,#408dff 85.28%,#4087ff 88.61%,#3ba7ff 89.17%,#0befff 90%,#00fdf5 90.28%,#00d552 91.94%,#00cc32 92.5%,#00ca27 93.06%,#00cb2b 93.61%,#00d144 94.17%,#02fdff 96.11%,#409dff 97.22%,#4068ff 98.06%,#4040ff 99.17%,#4040f7 100%)"></i><i style="inset:96px;background:conic-gradient(#4040f6 0%,#4040f2 19.44%,#4040fe 22.5%,#405aff 23.61%,#409aff 25%,#03faff 26.94%,#00f7df 28.61%,#00f8e3 29.72%,#00fef9 30.56%,#0beeff 31.11%,#3fa1ff 32.5%,#4082ff 33.06%,#409aff 34.72%,#409eff 36.39%,#4040ff 42.5%,#4040f4 45.28%,#4040ff 47.5%,#4065ff 49.17%,#409eff 50.83%,#01feff 53.61%,#00f8e4 55%,#00f7dc 56.39%,#00f8e1 57.78%,#00fefb 59.17%,#409dff 62.22%,#409eff 65%,#4041ff 70.83%,#4040f6 73.06%,#4040ff 76.67%,#408cff 84.72%,#4086ff 88.33%,#3da5ff 88.89%,#0eeaff 89.72%,#00fefa 90%,#00e9a3 90.83%,#00d145 91.94%,#00cc2e 92.5%,#00ca2a 93.06%,#00cd34 93.61%,#00d554 94.17%,#00fdf6 95.83%,#0cedff 96.11%,#3ca6ff 96.94%,#4060ff 98.06%,#4043ff 98.89%,#4040f6 100%)"></i><i style="inset:97px;background:conic-gradient(#4040f6 0%,#4040f3 19.17%,#4040ff 22.22%,#405fff 23.33%,#409fff 24.72%,#02fcff 26.67%,#00f7de 28.33%,#00f8e3 29.44%,#00fdf8 30.28%,#13e3ff 31.11%,#3ca6ff 32.22%,#4086ff 32.78%,#409dff 36.11%,#4042ff 42.22%,#4040f5 45%,#4040ff 46.94%,#405aff 48.33%,#409cff 50.28%,#12e4ff 52.22%,#00fefb 53.33%,#00f8e2 54.72%,#00f7dd 56.39%,#01fdff 58.89%,#409fff 61.67%,#409fff 64.72%,#4041ff 70.56%,#4040f6 72.78%,#4040ff 76.39%,#4053ff 79.17%,#408aff 83.89%,#408fff 86.11%,#4085ff 88.06%,#3ca6ff 88.61%,#0fe8ff 89.44%,#00fffe 89.72%,#00d34b 91.67%,#00cd32 92.22%,#00cb2c 92.78%,#00cd34 93.33%,#00d44f 93.89%,#05f8ff 95.83%,#409bff 96.94%,#405aff 98.06%,#4041ff 98.89%,#4040f6 100%)"></i><i style="inset:98px;background:conic-gradient(#4040f5 0%,#4040f3 18.61%,#4040fe 21.67%,#4062ff 23.06%,#3da5ff 24.44%,#01feff 26.39%,#00f9e7 27.22%,#00f7de 28.33%,#00f9e7 29.44%,#01fdff 30.28%,#409bff 32.22%,#4083ff 32.78%,#4099ff 34.44%,#409bff 36.11%,#4041ff 42.22%,#4040f5 44.72%,#4040fe 46.39%,#4060ff 48.06%,#3ea2ff 50%,#00fffe 52.78%,#00f8e4 54.17%,#00f7de 55.56%,#00f8e4 56.94%,#00ffff 58.33%,#4099ff 61.39%,#3ca6ff 63.06%,#409fff 64.44%,#4041ff 70.28%,#4040ff 75.83%,#4054ff 78.89%,#4088ff 83.06%,#408fff 85.56%,#4083ff 87.78%,#3da4ff 88.33%,#01feff 89.44%,#00d552 91.39%,#00ce38 91.94%,#00cc2f 92.5%,#00cd34 93.06%,#00d34b 93.61%,#00e9a7 94.72%,#00fefa 95.56%,#3ca6ff 96.67%,#4062ff 97.78%,#4040fe 98.89%,#4040f5 100%)"></i><i style="inset:99px;background:conic-gradient(#4040f5 0%,#4040f3 18.33%,#4040ff 21.39%,#405eff 22.5%,#409aff 23.89%,#00fffe 26.11%,#00f9e6 26.94%,#00f7de 28.06%,#00f9e6 29.17%,#00ffff 30%,#40a1ff 31.94%,#4082ff 32.5%,#409aff 34.44%,#4099ff 36.11%,#4040ff 42.22%,#4040f6 44.44%,#4040fe 45.83%,#4050ff 46.94%,#409eff 49.44%,#02fdff 52.22%,#00f9e5 53.61%,#00f7de 55%,#00f8e3 56.39%,#00fefc 57.78%,#409aff 61.11%,#3ca5ff 62.78%,#40a0ff 64.17%,#4040ff 70.28%,#4040ff 75.28%,#4056ff 78.89%,#408aff 83.06%,#4082ff 87.5%,#3ca6ff 88.06%,#03fbff 89.17%,#00d659 91.11%,#00cf3c 91.67%,#00cd32 92.5%,#00cf3c 93.06%,#00d659 93.61%,#00fbed 95.28%,#06f6ff 95.56%,#409eff 96.67%,#405dff 97.78%,#4042ff 98.61%,#4040f5 100%)"></i><i style="inset:100px;background:conic-gradient(#4040f5 0%,#4040f3 17.78%,#4040fe 20.83%,#4062ff 22.22%,#3fa1ff 23.61%,#04f9ff 25.56%,#00f9e6 26.67%,#00f7de 27.78%,#00f9e6 28.89%,#00fffe 29.72%,#3ca6ff 31.67%,#4084ff 32.5%,#4098ff 34.17%,#4099ff 35.83%,#4040fe 42.22%,#4041ff 45.56%,#404fff 46.39%,#3da4ff 49.17%,#00fffe 51.94%,#00f8e4 53.33%,#00f7df 54.72%,#00f9e5 56.11%,#01feff 57.5%,#409aff 60.56%,#40a1ff 63.89%,#4042ff 70%,#4040ff 74.72%,#405aff 79.17%,#408aff 83.06%,#4080ff 87.22%,#3da4ff 87.78%,#03faff 88.89%,#00d44f 91.11%,#00cd36 92.22%,#00cf3d 92.78%,#00d555 93.33%,#00ebac 94.44%,#00fefb 95.28%,#3aaaff 96.39%,#405aff 97.78%,#4042ff 98.61%,#4040f5 100%)"></i><i style="inset:101px;background:conic-gradient(#4040f5 0%,#4040f3 17.22%,#4041ff 20.56%,#4069ff 21.94%,#3ca5ff 23.33%,#03fbff 25.28%,#00f9e5 26.39%,#00f7de 27.5%,#00f9e6 28.61%,#00fefc 29.44%,#409cff 31.67%,#4082ff 32.22%,#4096ff 33.89%,#4098ff 35.56%,#4041ff 41.94%,#4041ff 45%,#4060ff 46.67%,#409fff 48.61%,#02fcff 51.39%,#00f9e6 52.78%,#00f7df 54.17%,#00f9e5 55.56%,#00fffd 56.94%,#4096ff 60.28%,#3da5ff 61.94%,#3fa1ff 63.61%,#4040fe 70.28%,#404aff 76.11%,#405eff 79.44%,#4089ff 83.33%,#407dff 86.67%,#3ca5ff 87.5%,#06f7ff 88.61%,#00fbef 88.89%,#00d555 90.83%,#00ce39 91.94%,#00d552 93.06%,#00e8a2 94.17%,#00fbee 95%,#05f7ff 95.28%,#3ea3ff 96.39%,#4058ff 97.78%,#4040ff 98.61%,#4040f5 100%)"></i><i style="inset:102px;background:conic-gradient(#4040f5 0%,#4040f3 16.94%,#4041ff 20%,#406dff 21.67%,#409fff 22.78%,#01fdff 25%,#00f7df 26.94%,#00f8e2 28.06%,#00fefc 29.17%,#13e3ff 30%,#3fa1ff 31.39%,#4085ff 31.94%,#4098ff 34.17%,#4096ff 35.56%,#4042ff 41.67%,#4040ff 44.44%,#4066ff 46.39%,#409cff 48.06%,#00feff 51.11%,#00f9e6 52.5%,#00f7e0 53.89%,#00f9e6 55.28%,#01fdff 56.67%,#4097ff 60%,#3ca5ff 61.94%,#40a0ff 63.61%,#4040fe 70.28%,#404aff 75.56%,#4061ff 79.72%,#4085ff 83.33%,#407aff 86.39%,#3ba7ff 87.22%,#05f8ff 88.33%,#00d75c 90.56%,#00cf3d 91.67%,#00d246 92.5%,#00d85f 93.06%,#00fefa 95%,#409cff 96.39%,#4060ff 97.5%,#4040ff 98.61%,#4040f5 100%)"></i><i style="inset:103px;background:conic-gradient(#4040f5 0%,#4040f3 16.11%,#4040fe 19.44%,#4062ff 20.83%,#3da5ff 22.5%,#00fffe 24.72%,#00fae9 25.56%,#00f7df 26.67%,#00f8e3 27.78%,#00fefb 28.89%,#11e5ff 29.72%,#3da5ff 31.11%,#4083ff 31.94%,#4096ff 33.89%,#4094ff 35.56%,#4040ff 41.94%,#4041ff 43.89%,#4057ff 45.28%,#3fa2ff 47.78%,#00fffd 50.83%,#00f9e5 52.22%,#00f8e0 53.61%,#00f9e7 55%,#02fcff 56.39%,#409aff 59.44%,#40a0ff 63.33%,#4040fe 70.28%,#4042ff 73.33%,#407eff 83.33%,#4078ff 86.11%,#3ca6ff 86.94%,#07f4ff 88.06%,#00fcf3 88.33%,#00d862 90.28%,#00d34b 90.83%,#00d041 91.67%,#00d75d 92.78%,#04f8ff 95%,#3aa9ff 96.11%,#405fff 97.5%,#4040ff 98.61%,#4040f5 100%)"></i><i style="inset:104px;background:conic-gradient(#4040f5 0%,#4040f3 15.83%,#4040ff 18.89%,#4067ff 20.56%,#3fa1ff 21.94%,#10e8ff 23.61%,#00fefc 24.44%,#00f8e4 25.56%,#00f7e0 26.67%,#03faff 28.89%,#3aa8ff 30.83%,#4082ff 31.67%,#4095ff 33.61%,#4093ff 35.28%,#4046ff 41.11%,#4041ff 43.33%,#4064ff 45.28%,#409fff 47.22%,#02fcff 50.28%,#00f9e8 51.67%,#00f8e1 53.06%,#00f9e5 54.44%,#00fefc 55.83%,#12e4ff 56.94%,#4098ff 59.17%,#3ca5ff 61.39%,#40a1ff 63.06%,#4040ff 70.28%,#4041ff 72.5%,#4076ff 83.06%,#4073ff 85.56%,#39aaff 86.67%,#07f4ff 87.78%,#00fdf5 88.06%,#00da6a 90%,#00d452 90.56%,#00d146 91.39%,#00d451 92.22%,#00db6a 92.78%,#00fefa 94.72%,#3fa2ff 96.11%,#405cff 97.5%,#4040ff 98.61%,#4040f5 100%)"></i><i style="inset:105px;background:conic-gradient(#4040f5 0%,#4040f3 15%,#4040fe 18.33%,#405eff 19.72%,#409dff 21.39%,#01feff 23.89%,#00f9e7 25%,#00f8e1 26.11%,#00f9e5 27.22%,#00fefc 28.33%,#10e7ff 29.17%,#409eff 30.83%,#4086ff 31.39%,#4093ff 35%,#4049ff 40.83%,#4040fe 42.5%,#4064ff 44.72%,#409dff 46.67%,#00ffff 50%,#00f9e8 51.39%,#00f8e1 52.78%,#00f9e6 54.17%,#00fefc 55.56%,#11e5ff 56.67%,#409aff 58.89%,#3ca5ff 61.11%,#409fff 63.06%,#4040ff 70.28%,#4063ff 79.17%,#406dff 85.28%,#3aa9ff 86.39%,#08f4ff 87.5%,#00fdf5 87.78%,#00e8a1 88.89%,#00d963 90%,#00d34b 91.11%,#00d553 91.94%,#00da69 92.5%,#03faff 94.72%,#409eff 96.11%,#405cff 97.5%,#4040ff 98.61%,#4040f5 100%)"></i><i style="inset:106px;background:conic-gradient(#4040f6 0%,#4040f3 14.44%,#4040fe 17.78%,#4063ff 19.44%,#4099ff 20.83%,#16deff 22.5%,#00fffd 23.61%,#00f9e7 24.72%,#00f8e1 25.83%,#00f9e7 26.94%,#00fffe 28.06%,#3fa1ff 30.56%,#4083ff 31.39%,#4093ff 33.33%,#4090ff 35%,#4040fe 41.94%,#405eff 43.89%,#3ea3ff 46.39%,#00fffd 49.72%,#00f9e7 51.11%,#00f8e2 52.78%,#02fcff 55.56%,#409eff 58.61%,#409fff 62.78%,#4040fe 70.56%,#4064ff 78.89%,#4065ff 84.44%,#409dff 85.83%,#09f2ff 87.22%,#00fdf8 87.5%,#00e9a7 88.61%,#00da6a 89.72%,#00d657 90.28%,#00d44f 91.11%,#00da68 92.22%,#00e9a5 93.33%,#00fdf8 94.44%,#4098ff 96.11%,#405aff 97.5%,#4040ff 98.61%,#4040f6 100%)"></i><i style="inset:107px;background:conic-gradient(#4040f6 0%,#4040f3 13.89%,#4040fe 17.22%,#405cff 18.61%,#3fa2ff 20.56%,#01fdff 23.06%,#00fae9 24.17%,#00f8e3 25.56%,#00fae9 26.67%,#01feff 27.78%,#3fa2ff 30.28%,#4083ff 31.11%,#4092ff 33.06%,#408fff 34.72%,#4041ff 41.39%,#4064ff 43.61%,#3ea3ff 45.83%,#01feff 49.17%,#00f8e3 51.94%,#00f9e7 53.61%,#00fefb 55%,#0fe9ff 56.11%,#409fff 58.61%,#409cff 62.78%,#4040fe 70.56%,#4065ff 78.89%,#4061ff 84.17%,#40a0ff 85.56%,#07f5ff 86.94%,#00fdf6 87.22%,#00eaaa 88.33%,#00dc71 89.44%,#00d75e 90%,#00d555 90.83%,#00d85f 91.67%,#00dd74 92.22%,#00ecb0 93.33%,#02fcff 94.44%,#3ca7ff 95.83%,#405bff 97.5%,#4040ff 98.61%,#4040f6 100%)"></i><i style="inset:108px;background:conic-gradient(#4040f6 0%,#4040f3 13.33%,#4040ff 16.67%,#4061ff 18.33%,#40a0ff 20%,#14e1ff 21.67%,#00fffe 22.78%,#00fae9 23.89%,#00f8e4 25.28%,#02fcff 27.5%,#3ea3ff 30%,#4083ff 30.83%,#4091ff 32.78%,#408dff 34.72%,#4043ff 41.11%,#4064ff 43.06%,#3fa1ff 45.28%,#00fffe 48.89%,#00fae9 50.28%,#00f8e3 51.94%,#00faea 53.61%,#01fdff 55%,#40a0ff 58.33%,#409cff 62.5%,#4040ff 70.56%,#4064ff 78.61%,#4060ff 83.61%,#3fa1ff 85.28%,#08f3ff 86.67%,#00fef9 86.94%,#00ebae 88.06%,#00de78 89.17%,#00d65a 90.56%,#00dd74 91.94%,#00eaa9 93.06%,#00fdf5 94.17%,#06f6ff 94.44%,#3fa2ff 95.83%,#4062ff 97.22%,#4041ff 98.61%,#4040f6 100%)"></i><i style="inset:109px;background:conic-gradient(#4040f7 0%,#4040f3 12.5%,#4040ff 16.11%,#4064ff 17.78%,#409eff 19.44%,#01fdff 22.22%,#00faeb 23.33%,#00f9e5 24.72%,#00fffe 26.94%,#3ea2ff 29.72%,#4084ff 30.56%,#4090ff 32.5%,#408cff 34.44%,#4045ff 40.83%,#4068ff 42.78%,#409eff 44.72%,#02fdff 48.33%,#00fae9 50%,#00f8e4 51.67%,#01feff 54.72%,#40a0ff 58.33%,#409aff 62.22%,#4040ff 70.56%,#4063ff 78.33%,#4062ff 83.33%,#409cff 84.72%,#06f6ff 86.39%,#00fdf7 86.67%,#00e289 88.61%,#00d966 89.72%,#00d860 90.56%,#00db6b 91.39%,#00e28a 92.22%,#00fefc 94.17%,#3ea3ff 95.83%,#4065ff 97.22%,#4043ff 98.61%,#4040f7 100%)"></i><i style="inset:110px;background:conic-gradient(#4040f7 0%,#4040f3 11.67%,#4040ff 15.56%,#4062ff 17.22%,#409dff 18.89%,#18dbff 20.56%,#00fffe 21.94%,#00faeb 23.06%,#00f9e6 24.44%,#01feff 26.67%,#3ea3ff 29.44%,#4085ff 30.28%,#408aff 34.17%,#4048ff 40.28%,#4060ff 41.94%,#3fa2ff 44.44%,#01feff 48.06%,#00faea 49.72%,#00f9e5 51.39%,#01feff 54.44%,#409cff 58.33%,#4099ff 61.94%,#4040ff 70.56%,#4060ff 78.06%,#4060ff 82.78%,#409eff 84.44%,#05f7ff 86.11%,#00fdf6 86.39%,#00e38c 88.33%,#00db6c 89.44%,#00da66 90.28%,#00dc6e 91.11%,#00e593 92.22%,#02fcff 94.17%,#40a0ff 95.83%,#4065ff 97.22%,#4044ff 98.61%,#4040f7 100%)"></i><i style="inset:111px;background:conic-gradient(#4040f8 0%,#4040f3 10.83%,#4040fe 14.72%,#405eff 16.39%,#409aff 18.33%,#01fdff 21.39%,#00f9e7 23.61%,#00fefc 26.11%,#11e6ff 27.22%,#3ea3ff 29.17%,#4086ff 30%,#4088ff 33.89%,#404aff 40%,#4062ff 41.67%,#409bff 43.89%,#01fdff 47.78%,#00f9e7 50.83%,#00fefc 53.89%,#14e1ff 55.56%,#4097ff 58.33%,#4090ff 62.22%,#4041ff 70.56%,#405cff 77.78%,#405fff 82.22%,#409cff 83.89%,#03faff 85.83%,#00e491 88.06%,#00dd73 89.17%,#00db6c 90%,#00dd72 90.83%,#00e491 91.94%,#00fdf5 93.89%,#04f9ff 94.17%,#3ea2ff 95.83%,#4061ff 97.5%,#4042ff 98.89%,#4040f8 100%)"></i><i style="inset:112px;background:conic-gradient(#4040f9 0%,#4040f3 10%,#4042ff 14.44%,#4065ff 16.11%,#409cff 17.78%,#16deff 19.72%,#00ffff 21.11%,#00fae9 23.61%,#00ffff 25.83%,#3ea3ff 28.89%,#4085ff 29.72%,#4088ff 33.33%,#404aff 39.72%,#4064ff 41.39%,#409cff 43.61%,#00ffff 47.78%,#00fae9 50.83%,#01feff 53.89%,#3ea4ff 57.78%,#408dff 58.61%,#4087ff 62.22%,#4041ff 70.83%,#405eff 81.67%,#3fa2ff 83.61%,#00fffe 85.56%,#00e593 87.78%,#00dd73 89.72%,#00de77 90.56%,#00e490 91.67%,#00efbd 92.78%,#00fefb 93.89%,#3fa2ff 95.83%,#406aff 97.22%,#4044ff 98.89%,#4040f9 100%)"></i><i style="inset:113px;background:conic-gradient(#4040fc 0%,#4040f3 8.89%,#4041ff 13.61%,#4064ff 15.56%,#40a0ff 17.5%,#14e1ff 19.44%,#00fefd 20.83%,#00faea 23.33%,#00ffff 25.56%,#3ca6ff 28.61%,#4081ff 29.72%,#4080ff 33.61%,#404aff 39.44%,#406aff 41.39%,#3fa1ff 43.61%,#00ffff 47.78%,#00faeb 50.83%,#01fdff 53.89%,#409eff 58.06%,#4082ff 59.17%,#407bff 62.5%,#4040ff 70.83%,#4057ff 80.56%,#3ea3ff 83.06%,#05f7ff 85%,#00fef9 85.28%,#00e697 87.5%,#00e080 88.61%,#00de79 89.72%,#00e698 91.67%,#00fffd 93.89%,#409bff 96.11%,#405aff 98.06%,#4040fc 100%)"></i><i style="inset:114px;background:conic-gradient(#4040fe 0%,#4040f2 7.78%,#4040fe 12.78%,#4060ff 14.72%,#3fa2ff 16.94%,#02fdff 20.28%,#00faeb 23.06%,#00ffff 25.28%,#3ea2ff 28.61%,#4076ff 30%,#4076ff 33.61%,#404bff 39.17%,#406aff 41.11%,#409fff 43.33%,#01feff 47.78%,#00fbed 50.83%,#00fffe 53.61%,#15dfff 55.56%,#3ea3ff 58.06%,#4075ff 60%,#4040ff 70.56%,#4054ff 79.72%,#4073ff 81.11%,#3ea3ff 82.5%,#00fffd 84.72%,#00efbe 86.11%,#00e699 87.22%,#00e07f 89.44%,#00e287 90.56%,#00e89f 91.67%,#01feff 93.89%,#409dff 96.11%,#405eff 98.06%,#4040fe 100%)"></i><i style="inset:115px;background:conic-gradient(#4044ff 0%,#4040f3 6.94%,#4040ff 12.22%,#405eff 14.17%,#409bff 16.39%,#02fdff 20%,#00faed 22.5%,#00fffe 25%,#12e5ff 26.39%,#3ea3ff 28.61%,#406bff 30.56%,#4069ff 33.89%,#404cff 38.61%,#4068ff 40.56%,#40a0ff 43.06%,#03faff 47.5%,#00fbf0 50.83%,#01feff 53.61%,#15e0ff 55.56%,#3fa1ff 58.33%,#4069ff 60.83%,#4040ff 70.28%,#404dff 78.33%,#406eff 80%,#40a0ff 81.67%,#02fcff 84.17%,#00e79c 86.94%,#00e185 89.17%,#00e89f 91.39%,#01feff 93.89%,#409bff 96.39%,#4067ff 98.06%,#4044ff 100%)"></i><i style="inset:116px;background:conic-gradient(#404bff 0%,#4040fe 1.11%,#4040f3 6.67%,#4040ff 11.39%,#4063ff 13.61%,#409dff 15.83%,#02fcff 19.72%,#00fbee 22.5%,#00ffff 25%,#15dfff 26.67%,#40a0ff 28.89%,#405fff 31.39%,#404bff 37.78%,#4069ff 40%,#409dff 42.5%,#05f8ff 47.22%,#00fcf3 50.56%,#00ffff 53.33%,#14e1ff 55.56%,#40a0ff 58.61%,#405dff 61.94%,#4040fe 69.72%,#4046ff 76.67%,#4050ff 77.5%,#4079ff 79.72%,#3da4ff 81.11%,#01fdff 83.61%,#00e9a3 86.39%,#00e28a 88.89%,#00e491 90.28%,#00e9a6 91.39%,#00feff 93.89%,#3fa2ff 96.39%,#406aff 98.33%,#404bff 100%)"></i><i style="inset:117px;background:conic-gradient(#4057ff 0%,#4040ff 1.94%,#4040f4 6.94%,#4040ff 10.56%,#405eff 12.78%,#3fa2ff 15.56%,#03fbff 19.44%,#00fbf0 22.5%,#00ffff 25%,#13e3ff 26.67%,#3ea3ff 29.17%,#4055ff 32.5%,#4049ff 36.67%,#4062ff 38.89%,#409cff 41.94%,#13e3ff 45.56%,#00fffe 48.06%,#00fdf6 50.56%,#03fbff 53.61%,#16deff 55.83%,#3fa2ff 58.89%,#4052ff 63.33%,#4040ff 68.61%,#4040ff 74.72%,#404dff 76.11%,#406eff 78.06%,#409eff 80%,#03fbff 83.06%,#00e9a6 86.11%,#00e48f 88.61%,#00e9a5 91.11%,#00fefb 93.89%,#409dff 96.94%,#4057ff 100%)"></i><i style="inset:118px;background:conic-gradient(#406cff 0%,#4041ff 3.89%,#4041ff 9.44%,#4061ff 11.94%,#409dff 14.72%,#04f9ff 19.17%,#00fcf1 22.22%,#00fffd 25%,#12e4ff 26.94%,#409fff 30%,#405eff 33.06%,#4045ff 35.28%,#4063ff 38.06%,#409eff 41.39%,#13e3ff 45.28%,#00fffe 48.33%,#00ffff 52.78%,#09f2ff 54.44%,#40a0ff 59.44%,#4060ff 63.06%,#4041ff 66.11%,#4040ff 73.06%,#4051ff 75%,#409dff 79.17%,#01feff 82.5%,#00ebac 85.56%,#00e594 88.33%,#00eaa9 91.11%,#00fefc 94.17%,#3fa1ff 97.5%,#406cff 100%)"></i><i style="inset:119px;background:conic-gradient(#408aff 0%,#405eff 3.06%,#4040ff 8.06%,#405eff 10.83%,#40a0ff 14.17%,#04f9ff 18.89%,#00fcf2 22.22%,#00fffe 25.28%,#13e3ff 27.5%,#409fff 30.83%,#4070ff 33.06%,#4052ff 35.28%,#409eff 40.56%,#0eeaff 45.56%,#01fdff 48.33%,#00ffff 51.67%,#11e6ff 55.56%,#3fa2ff 60%,#4060ff 64.17%,#4040fe 67.78%,#4040ff 71.11%,#405dff 74.44%,#409fff 78.06%,#01feff 81.94%,#00ecb2 85.28%,#00e79b 88.33%,#00ecaf 91.39%,#02fcff 95%,#3da5ff 98.61%,#408aff 100%)"></i><i style="inset:120px;background:conic-gradient(#34b2ff 0%,#3fa1ff 1.11%,#406dff 5.28%,#4059ff 8.61%,#409eff 13.06%,#05f8ff 18.61%,#00fcf4 22.22%,#00fffe 25.56%,#11e6ff 28.06%,#409fff 32.22%,#4068ff 35.56%,#409fff 39.44%,#10e8ff 45%,#03fbff 48.06%,#02fdff 51.67%,#10e8ff 55.56%,#409eff 61.11%,#4064ff 65.28%,#4044ff 69.17%,#4065ff 73.06%,#3fa1ff 76.94%,#01feff 81.39%,#00eeb7 85%,#00e8a2 88.33%,#00edb5 91.94%,#00fefd 95.83%,#34b2ff 100%)"></i><i style="inset:121px;background:conic-gradient(#14e1ff 0%,#40a1ff 5.56%,#4081ff 9.72%,#3ea3ff 11.94%,#04f9ff 18.33%,#00fdf5 22.5%,#00fffe 26.11%,#12e5ff 29.17%,#3fa2ff 33.89%,#4089ff 35.83%,#3fa1ff 37.78%,#0decff 45%,#04f9ff 52.22%,#13e3ff 56.39%,#3fa1ff 62.22%,#405aff 68.89%,#40a0ff 75.28%,#01fdff 80.56%,#00eeba 85%,#00eaa7 88.89%,#00efbc 93.06%,#00ffff 97.78%,#14e1ff 100%)"></i><i style="inset:122px;background:conic-gradient(#00fcf3 0%,#00ffff 1.11%,#20cfff 6.94%,#2dbcff 11.39%,#01feff 18.89%,#00ffff 26.94%,#14e1ff 31.39%,#3ba8ff 36.67%,#0cedff 44.72%,#06f6ff 52.5%,#1ad9ff 58.33%,#409fff 64.17%,#4079ff 67.78%,#3fa1ff 72.5%,#00feff 79.72%,#00f0c2 84.72%,#00ecb0 88.89%,#00eebb 93.89%,#00fcf3 100%)"></i><i style="inset:123px;background:conic-gradient(#00f3cf 0%,#00ffff 10.28%,#0af0ff 14.72%,#00ffff 18.61%,#00ffff 28.33%,#29c3ff 39.44%,#13e3ff 45.83%,#10e8ff 51.67%,#1cd5ff 57.5%,#3ea2ff 64.72%,#2ebbff 70%,#00fffd 78.33%,#00f3ce 83.61%,#00eeba 88.06%,#00eeba 93.89%,#00f3cf 100%)"></i><i style="inset:124px;background:conic-gradient(#00f0c2 0%,#00f4d4 11.67%,#00fefa 23.61%,#00ffff 31.39%,#1ed3ff 49.17%,#17ddff 61.67%,#00fffe 73.61%,#00f1c5 86.94%,#00f0c2 100%)"></i><i style="inset:125px;background:conic-gradient(#00f1c6 0%,#00faec 50%,#00f1c6 100%)"></i></div></div></div>
<div class="disc" style="clip-path:polygon(358px 184px, 433px 54.1px, 495px 54.1px, 495px 313.9px, 433px 313.9px)"><div class="rc" style="left:233.5px;top:59.5px;width:249.0px;height:249.0px"><i style="inset:0px;background:conic-gradient(from 26.0deg,#4040e7 0%,#4040fe 4.74%,#4040d9 8.59%,#4040d9 35.56%)"></i><i style="inset:1px;background:conic-gradient(from 26.0deg,#4040ea 0%,#4041ff 5.23%,#4040e2 7.11%,#4040da 8.59%,#4040d9 35.56%)"></i><i style="inset:1.99px;background:conic-gradient(from 26.0deg,#4040ee 0%,#4040ff 3.36%,#404fff 4.64%,#4042ff 5.53%,#4040e2 7.21%,#4040db 8.69%,#4040da 35.56%)"></i><i style="inset:2.99px;background:conic-gradient(from 26.0deg,#4040f2 0%,#4040ff 2.47%,#4057ff 4.64%,#4040ff 5.83%,#4040e4 7.21%,#4040db 8.79%,#4040db 35.56%)"></i><i style="inset:3.98px;background:conic-gradient(from 26.0deg,#4040f6 0%,#4044ff 1.88%,#405dff 2.77%,#4067ff 3.85%,#405dff 5.04%,#4040fe 6.02%,#4040e4 7.31%,#4040dc 8.89%,#4040db 35.56%)"></i><i style="inset:4.98px;background:conic-gradient(from 26.0deg,#4040fb 0%,#404bff 1.58%,#4075ff 2.57%,#4082ff 3.85%,#4066ff 4.44%,#4063ff 5.14%,#4040ff 6.12%,#4040e4 7.41%,#4040dd 8.89%,#4040dc 35.56%)"></i><i style="inset:5.98px;background:conic-gradient(from 26.0deg,#4042ff 0%,#4052ff 1.28%,#4094ff 2.47%,#40a0ff 3.36%,#409aff 4.05%,#406fff 4.54%,#4067ff 5.23%,#4040fd 6.32%,#4040e5 7.51%,#4040dd 8.99%,#4040dd 35.56%)"></i><i style="inset:6.97px;background:conic-gradient(from 26.0deg,#404aff 0%,#405cff 1.09%,#40a0ff 1.98%,#35b0ff 2.27%,#29c3ff 3.16%,#32b5ff 4.05%,#4076ff 4.64%,#406bff 5.33%,#4040ff 6.32%,#4040e6 7.51%,#4040de 8.99%,#4040dd 35.56%)"></i><i style="inset:7.97px;background:conic-gradient(from 26.0deg,#4052ff 0%,#4064ff 0.79%,#409cff 1.48%,#1bd7ff 2.27%,#11e7ff 2.96%,#22cdff 4.05%,#3ca6ff 4.44%,#407cff 4.74%,#4070ff 5.33%,#4040ff 6.42%,#4040e6 7.6%,#4040de 9.09%,#4040de 35.56%)"></i><i style="inset:8.96px;background:conic-gradient(from 26.0deg,#405aff 0%,#4069ff 0.49%,#409cff 1.09%,#00ffff 2.27%,#00fbf0 2.96%,#00ffff 3.46%,#19dbff 4.15%,#4086ff 4.74%,#4040fe 6.52%,#4040e7 7.6%,#4040df 9.09%,#4040df 35.56%)"></i><i style="inset:9.96px;background:conic-gradient(from 26.0deg,#4063ff 0%,#4074ff 0.4%,#409dff 0.69%,#01fdff 1.68%,#00f6db 2.07%,#00f1c4 2.67%,#00f4d3 3.26%,#00fffd 3.85%,#15e0ff 4.25%,#3da4ff 4.64%,#4085ff 4.84%,#4040fd 6.62%,#4040e7 7.7%,#4040e0 9.19%,#4040df 35.56%)"></i><i style="inset:10.96px;background:conic-gradient(from 26.0deg,#406bff 0%,#4073ff 0.2%,#3ea3ff 0.49%,#18dcff 0.89%,#00fffe 1.28%,#00edb4 1.98%,#00e79c 2.47%,#00eaa8 3.06%,#00fdf6 3.95%,#17ddff 4.35%,#38acff 4.64%,#4088ff 4.84%,#4078ff 5.43%,#4040fe 6.62%,#4040e7 7.7%,#4040e0 9.19%,#4040e0 35.56%)"></i><i style="inset:11.95px;background:conic-gradient(from 26.0deg,#4074ff 0%,#4078ff 0.1%,#409bff 0.3%,#04f9ff 0.79%,#00e48f 1.88%,#00dc72 2.47%,#00e594 3.16%,#00fefa 4.05%,#15e0ff 4.35%,#409cff 4.74%,#408aff 4.84%,#407aff 5.43%,#4040ff 6.62%,#4040e8 7.7%,#4040e1 9.19%,#4040e0 35.56%)"></i><i style="inset:12.95px;background:conic-gradient(from 26.0deg,#407cff 0%,#409eff 0.2%,#04faff 0.59%,#00edb7 0.99%,#00d85f 1.88%,#00d34c 2.17%,#00d249 2.47%,#00d85f 2.86%,#00e8a3 3.46%,#00fdf8 4.05%,#06f7ff 4.15%,#409bff 4.74%,#408aff 4.84%,#407bff 5.43%,#4040fd 6.72%,#4040e8 7.8%,#4040e1 9.28%,#4040e1 35.56%)"></i><i style="inset:13.94px;background:conic-gradient(from 26.0deg,#4084ff 0%,#409bff 0.1%,#00fffd 0.49%,#00ebad 0.79%,#00e38a 0.99%,#00cf3e 1.78%,#00ca28 2.27%,#00cc30 2.57%,#00d34a 2.86%,#00fffe 4.05%,#09f2ff 4.15%,#3ba7ff 4.64%,#408aff 4.84%,#407bff 5.43%,#4040fd 6.72%,#4040e8 7.8%,#4040e2 9.28%,#4040e2 35.56%)"></i><i style="inset:14.94px;background:conic-gradient(from 26.0deg,#4092ff 0%,#38abff 0.1%,#01fdff 0.4%,#00e9a4 0.69%,#00d451 1.09%,#00c81f 1.78%,#00c514 2.27%,#00c922 2.57%,#00d44e 2.96%,#00fdf6 3.95%,#07f5ff 4.05%,#409dff 4.64%,#408dff 4.74%,#4040fe 6.72%,#4040e9 7.8%,#4040e2 9.28%,#4040e2 35.56%)"></i><i style="inset:15.94px;background:conic-gradient(from 26.0deg,#409dff 0%,#0af0ff 0.3%,#00fbee 0.4%,#00d553 0.89%,#00cc31 1.09%,#00c20a 2.07%,#00c411 2.37%,#00ca28 2.67%,#00d452 2.96%,#03faff 3.95%,#39abff 4.44%,#4088ff 4.74%,#4040fd 6.72%,#4040e9 7.8%,#4040e3 9.28%,#4040e3 35.56%)"></i><i style="inset:16.93px;background:conic-gradient(from 26.0deg,#3ea3ff 0%,#04f8ff 0.3%,#00d143 0.89%,#00c822 1.09%,#00c20a 2.07%,#00c515 2.37%,#00cc32 2.67%,#00fcf2 3.75%,#05f7ff 3.85%,#3aa9ff 4.35%,#408cff 4.54%,#4040fd 6.72%,#4040ea 7.8%,#4040e4 9.28%,#4040e3 35.56%)"></i><i style="inset:17.93px;background:conic-gradient(from 26.0deg,#3da5ff 0%,#04faff 0.3%,#00d143 0.89%,#00c922 1.09%,#00c515 1.88%,#00ca27 2.37%,#00d248 2.67%,#00fef9 3.65%,#07f5ff 3.75%,#3da5ff 4.25%,#408aff 4.44%,#4040ff 6.62%,#4040ea 7.8%,#4040e4 9.28%,#4040e4 35.56%)"></i><i style="inset:18.92px;background:conic-gradient(from 26.0deg,#3fa2ff 0%,#07f4ff 0.3%,#00faea 0.4%,#00d554 0.89%,#00cb2c 1.19%,#00cb2d 1.88%,#00d246 2.37%,#00eaa8 3.06%,#01feff 3.56%,#40a0ff 4.15%,#4089ff 4.35%,#4040fe 6.62%,#4040ea 7.8%,#4040e5 9.28%,#4040e4 35.56%)"></i><i style="inset:19.92px;background:conic-gradient(from 26.0deg,#409eff 0%,#00fefb 0.4%,#00dd74 0.89%,#00d34c 1.19%,#00d862 2.17%,#00e79e 2.77%,#00ffff 3.36%,#3ba7ff 3.95%,#408aff 4.15%,#4040ff 6.52%,#4040ec 7.7%,#4040e5 9.28%,#4040e5 35.56%)"></i><i style="inset:20.92px;background:conic-gradient(from 26.0deg,#409eff 0%,#3ca6ff 0.1%,#00fdf6 0.49%,#00e699 0.89%,#00df7d 1.19%,#00e698 2.27%,#00f1c6 2.77%,#00ffff 3.16%,#409cff 3.85%,#4088ff 4.05%,#4040fe 6.52%,#4040e6 9.28%,#4040e5 35.56%)"></i><i style="inset:21.91px;background:conic-gradient(from 26.0deg,#409eff 0%,#39aaff 0.2%,#00ffff 0.59%,#00f1c4 0.89%,#00eaab 1.19%,#00efbf 2.17%,#00fefd 2.86%,#409fff 3.65%,#4088ff 3.85%,#4040fe 6.42%,#4040e6 9.28%,#4040e6 35.56%)"></i><i style="inset:22.91px;background:conic-gradient(from 26.0deg,#409cff 0%,#39aaff 0.3%,#02fcff 0.79%,#00f7de 1.19%,#00f9e6 1.88%,#00fefc 2.37%,#17ddff 2.86%,#409dff 3.46%,#4088ff 3.65%,#4040fe 6.32%,#4040e7 9.28%,#4040e6 35.56%)"></i><i style="inset:23.9px;background:conic-gradient(from 26.0deg,#4099ff 0%,#36aeff 0.49%,#16dfff 0.89%,#0beeff 1.19%,#13e3ff 2.17%,#1fd0ff 2.57%,#409fff 3.16%,#4087ff 3.46%,#4040ff 6.12%,#4040e7 9.19%,#4040e7 35.56%)"></i><i style="inset:24.9px;background:conic-gradient(from 26.0deg,#4096ff 0%,#29c2ff 1.09%,#29c2ff 1.88%,#40a0ff 2.77%,#4088ff 3.16%,#4040fe 6.02%,#4040e7 9.19%,#4040e7 35.56%)"></i><i style="inset:25.9px;background:conic-gradient(from 26.0deg,#4091ff 0%,#3aa9ff 0.69%,#37adff 1.28%,#4040fe 5.83%,#4040e8 9.09%,#4040e8 35.56%)"></i><i style="inset:26.89px;background:conic-gradient(from 26.0deg,#408bff 0%,#3ea2ff 0.69%,#3ca6ff 1.28%,#4040fe 5.63%,#4040e8 9.09%,#4040e8 35.56%)"></i><i style="inset:27.89px;background:conic-gradient(from 26.0deg,#4085ff 0%,#409bff 0.69%,#409dff 1.38%,#4040fe 5.43%,#4040e9 8.99%,#4040e8 35.56%)"></i><i style="inset:28.88px;background:conic-gradient(from 26.0deg,#407fff 0%,#4093ff 0.69%,#4095ff 1.38%,#4040fe 5.23%,#4040e9 8.99%,#4040e9 35.56%)"></i><i style="inset:29.88px;background:conic-gradient(from 26.0deg,#4078ff 0%,#408cff 1.38%,#4040ff 4.94%,#4040ea 8.89%,#4040e9 35.56%)"></i><i style="inset:30.88px;background:conic-gradient(from 26.0deg,#4071ff 0%,#4083ff 1.38%,#4040ff 4.74%,#4040ea 8.79%,#4040ea 35.56%)"></i><i style="inset:31.87px;background:conic-gradient(from 26.0deg,#406aff 0%,#407aff 1.38%,#4040fe 4.54%,#4040ea 8.69%,#4040ea 35.56%)"></i><i style="inset:32.87px;background:conic-gradient(from 26.0deg,#4063ff 0%,#4072ff 1.38%,#4040ff 4.25%,#4040eb 8.59%,#4040ea 35.56%)"></i><i style="inset:33.86px;background:conic-gradient(from 26.0deg,#405cff 0%,#4069ff 1.38%,#4040ff 3.95%,#4040eb 8.4%,#4040eb 35.56%)"></i><i style="inset:34.86px;background:conic-gradient(from 26.0deg,#4056ff 0%,#4061ff 1.38%,#4040ff 3.65%,#4040ec 8.3%,#4040eb 35.56%)"></i><i style="inset:35.86px;background:conic-gradient(from 26.0deg,#4050ff 0%,#405aff 1.19%,#4040ff 3.36%,#4040ec 8.2%,#4040ec 35.56%)"></i><i style="inset:36.85px;background:conic-gradient(from 26.0deg,#404bff 0%,#4053ff 1.19%,#4040ff 3.06%,#4040ec 8%,#4040ec 35.56%)"></i><i style="inset:37.85px;background:conic-gradient(from 26.0deg,#4046ff 0%,#404dff 1.19%,#4040ff 2.67%,#4040ed 7.7%,#4040ec 35.56%)"></i><i style="inset:38.84px;background:conic-gradient(from 26.0deg,#4041ff 0%,#4040ed 7.41%,#4040ed 35.56%)"></i><i style="inset:39.84px;background:conic-gradient(from 26.0deg,#4040fd 0%,#4040ed 7.21%,#4040ed 35.56%)"></i><i style="inset:40.84px;background:conic-gradient(from 26.0deg,#4040fb 0%,#4040ee 7.21%,#4040ed 35.56%)"></i><i style="inset:41.83px;background:conic-gradient(from 26.0deg,#4040f9 0%,#4040ee 7.31%,#4040ed 35.56%)"></i><i style="inset:42.83px;background:conic-gradient(from 26.0deg,#4040f7 0%,#4040ee 35.56%)"></i><i style="inset:43.82px;background:conic-gradient(from 26.0deg,#4040f6 0%,#4040ee 35.56%)"></i><i style="inset:44.82px;background:conic-gradient(from 26.0deg,#4040f4 0%,#4040ee 35.56%)"></i><i style="inset:45.82px;background:conic-gradient(from 26.0deg,#4040f4 0%,#4040ef 35.56%)"></i><i style="inset:46.81px;background:conic-gradient(from 26.0deg,#4040f6 0%,#4040ef 35.56%)"></i><i style="inset:47.81px;background:conic-gradient(from 26.0deg,#4040f7 0%,#4040ef 35.56%)"></i><i style="inset:48.8px;background:conic-gradient(from 26.0deg,#4040f9 0%,#4040ef 35.56%)"></i><i style="inset:49.8px;background:conic-gradient(from 26.0deg,#4040fb 0%,#4040f0 8.89%,#4040f0 35.56%)"></i><i style="inset:50.8px;background:conic-gradient(from 26.0deg,#4040fd 0%,#4040f0 8.89%,#4040f0 35.56%)"></i><i style="inset:51.79px;background:conic-gradient(from 26.0deg,#4041ff 0%,#404bff 1.98%,#4040f0 8.99%,#4040f0 35.56%)"></i><i style="inset:52.79px;background:conic-gradient(from 26.0deg,#4045ff 0%,#4050ff 1.98%,#4040ff 4.54%,#4040f1 9.09%,#4040f0 35.56%)"></i><i style="inset:53.78px;background:conic-gradient(from 26.0deg,#4049ff 0%,#4055ff 1.98%,#4040ff 4.84%,#4040f1 9.19%,#4040f0 35.56%)"></i><i style="inset:54.78px;background:conic-gradient(from 26.0deg,#404dff 0%,#405bff 2.07%,#4040ff 5.14%,#4040f1 9.38%,#4040f1 35.56%)"></i><i style="inset:55.78px;background:conic-gradient(from 26.0deg,#4052ff 0%,#4060ff 2.07%,#4040fe 5.43%,#4040f1 9.58%,#4040f1 35.56%)"></i><i style="inset:56.77px;background:conic-gradient(from 26.0deg,#4056ff 0%,#4065ff 2.37%,#4040ff 5.63%,#4040f1 9.68%,#4040f1 35.56%)"></i><i style="inset:57.77px;background:conic-gradient(from 26.0deg,#405aff 0%,#406aff 2.47%,#4040fe 5.83%,#4040f1 9.88%,#4040f1 35.56%)"></i><i style="inset:58.76px;background:conic-gradient(from 26.0deg,#405eff 0%,#406fff 2.47%,#4040fe 6.02%,#4040f2 9.98%,#4040f1 35.56%)"></i><i style="inset:59.76px;background:conic-gradient(from 26.0deg,#4062ff 0%,#4074ff 2.47%,#4040ff 6.12%,#4040f2 10.17%,#4040f1 35.56%)"></i><i style="inset:60.76px;background:conic-gradient(from 26.0deg,#4065ff 0%,#4078ff 2.47%,#4040ff 6.22%,#4040f2 10.27%,#4040f1 35.56%)"></i><i style="inset:61.75px;background:conic-gradient(from 26.0deg,#4068ff 0%,#407bff 1.38%,#407bff 2.57%,#4040fe 6.42%,#4040f2 10.47%,#4040f2 35.56%)"></i><i style="inset:62.75px;background:conic-gradient(from 26.0deg,#406bff 0%,#407eff 1.38%,#407eff 2.57%,#4040ff 6.52%,#4040f2 10.67%,#4040f2 35.56%)"></i><i style="inset:63.74px;background:conic-gradient(from 26.0deg,#406eff 0%,#4080ff 1.38%,#4080ff 2.57%,#4040fe 6.72%,#4040f2 10.86%,#4040f2 35.56%)"></i><i style="inset:64.74px;background:conic-gradient(from 26.0deg,#4071ff 0%,#4083ff 1.38%,#4083ff 2.57%,#4040ff 6.81%,#4040f2 10.96%,#4040f2 35.56%)"></i><i style="inset:65.74px;background:conic-gradient(from 26.0deg,#4074ff 0%,#4086ff 1.38%,#4086ff 2.57%,#4040fe 7.01%,#4040f2 11.26%,#4040f2 35.56%)"></i><i style="inset:66.73px;background:conic-gradient(from 26.0deg,#4077ff 0%,#4089ff 1.48%,#4088ff 2.67%,#4040ff 7.11%,#4040f3 11.36%,#4040f2 35.56%)"></i><i style="inset:67.73px;background:conic-gradient(from 26.0deg,#407aff 0%,#408cff 1.38%,#408bff 2.67%,#4040fe 7.31%,#4040f3 11.56%,#4040f2 35.56%)"></i><i style="inset:68.72px;background:conic-gradient(from 26.0deg,#407dff 0%,#408fff 1.38%,#408eff 2.67%,#4040ff 7.41%,#4040f3 11.75%,#4040f2 35.56%)"></i><i style="inset:69.72px;background:conic-gradient(from 26.0deg,#4080ff 0%,#4092ff 1.38%,#4091ff 2.67%,#4040ff 7.6%,#4040f3 11.95%,#4040f2 35.56%)"></i><i style="inset:70.72px;background:conic-gradient(from 26.0deg,#4084ff 0%,#4095ff 1.48%,#4093ff 2.77%,#4040ff 7.7%,#4040f3 12.15%,#4040f2 35.56%)"></i><i style="inset:71.71px;background:conic-gradient(from 26.0deg,#4087ff 0%,#4099ff 1.48%,#4096ff 2.77%,#4040ff 7.9%,#4040f3 12.35%,#4040f2 35.56%)"></i><i style="inset:72.71px;background:conic-gradient(from 26.0deg,#408aff 0%,#409cff 1.48%,#4099ff 2.77%,#4040ff 8.1%,#4040f3 12.44%,#4040f2 35.56%)"></i><i style="inset:73.7px;background:conic-gradient(from 26.0deg,#408dff 0%,#409dff 1.48%,#409aff 2.86%,#4040ff 8.2%,#4040f3 12.35%,#4040fd 16.69%,#4040f3 21.33%,#4040f2 35.56%)"></i><i style="inset:74.7px;background:conic-gradient(from 26.0deg,#4091ff 0%,#3fa1ff 1.48%,#409dff 2.86%,#4040ff 8.4%,#4040f3 12.25%,#4040ff 17.58%,#4040f3 21.43%,#4040f2 35.56%)"></i><i style="inset:75.7px;background:conic-gradient(from 26.0deg,#4093ff 0%,#3da4ff 1.48%,#40a0ff 2.86%,#4040ff 8.59%,#4040f3 12.25%,#4041ff 18.17%,#4040f3 21.63%,#4040f2 35.56%)"></i><i style="inset:76.69px;background:conic-gradient(from 26.0deg,#4095ff 0%,#3ca5ff 1.48%,#3fa1ff 2.96%,#4040ff 8.69%,#4040f4 12.15%,#404dff 16.69%,#4040ff 18.67%,#4040f3 21.83%,#4040f2 35.56%)"></i><i style="inset:77.69px;background:conic-gradient(from 26.0deg,#4099ff 0%,#3ba8ff 1.48%,#3ea4ff 2.96%,#4040ff 8.89%,#4040f4 12.15%,#4040ff 14.32%,#4054ff 16.69%,#4040ff 19.06%,#4040f3 22.12%,#4040f2 35.56%)"></i><i style="inset:78.68px;background:conic-gradient(from 26.0deg,#409cff 0%,#38abff 1.58%,#3ca6ff 3.06%,#4040ff 8.99%,#4040f4 12.05%,#4040ff 14.02%,#405aff 16.69%,#4040ff 19.36%,#4040f3 22.32%,#4040f2 35.56%)"></i><i style="inset:79.68px;background:conic-gradient(from 26.0deg,#409eff 0%,#37adff 1.58%,#3ba7ff 3.06%,#4040ff 9.19%,#4040f5 11.95%,#4040ff 13.73%,#4061ff 16.69%,#4040ff 19.65%,#4040f3 22.52%,#4040f2 35.56%)"></i><i style="inset:80.68px;background:conic-gradient(from 26.0deg,#409fff 0%,#37aeff 1.58%,#3ba8ff 3.16%,#4040ff 9.38%,#4040f5 11.95%,#4040ff 13.53%,#4068ff 16.69%,#4040ff 19.95%,#4040f3 22.81%,#4040f2 35.56%)"></i><i style="inset:81.67px;background:conic-gradient(from 26.0deg,#3fa2ff 0%,#35b1ff 1.58%,#39abff 3.16%,#4040ff 9.48%,#4040f6 11.85%,#4040ff 13.33%,#4070ff 16.69%,#4068ff 17.88%,#4040fe 20.25%,#4040f3 23.01%,#4040f2 35.56%)"></i><i style="inset:82.67px;background:conic-gradient(from 26.0deg,#3da4ff 0%,#33b3ff 1.58%,#38adff 3.16%,#4040ff 9.68%,#4040f6 11.85%,#4041ff 13.14%,#406dff 15.51%,#4077ff 16.69%,#406dff 17.98%,#4040ff 20.44%,#4040f3 23.21%,#4040f2 35.56%)"></i><i style="inset:83.66px;background:conic-gradient(from 26.0deg,#3da5ff 0%,#33b3ff 1.68%,#37adff 3.26%,#4040ff 9.88%,#4040f7 11.75%,#4041ff 12.94%,#4074ff 15.51%,#407fff 16.79%,#4074ff 18.07%,#4040ff 20.64%,#4040f3 23.41%,#4040f2 35.56%)"></i><i style="inset:84.66px;background:conic-gradient(from 26.0deg,#3ca6ff 0%,#32b5ff 1.68%,#36afff 3.26%,#40a0ff 4.35%,#405dff 7.8%,#4040ff 9.98%,#4040ff 12.74%,#4079ff 15.41%,#4086ff 16.79%,#407bff 18.07%,#4040ff 20.94%,#4040f3 23.7%,#4040f2 35.56%)"></i><i style="inset:85.66px;background:conic-gradient(from 26.0deg,#3ba8ff 0%,#31b7ff 1.68%,#35b1ff 3.26%,#409fff 4.54%,#405cff 8%,#4040ff 10.17%,#4040ff 12.54%,#4081ff 15.41%,#408fff 16.79%,#4082ff 18.17%,#4040ff 21.14%,#4040f3 23.9%,#4040f2 35.56%)"></i><i style="inset:86.65px;background:conic-gradient(from 26.0deg,#3aa9ff 0%,#30b7ff 1.68%,#35b1ff 3.36%,#409fff 4.64%,#405dff 8.1%,#4040ff 10.37%,#4040ff 12.35%,#4087ff 15.41%,#4096ff 16.89%,#4089ff 18.17%,#4040ff 21.33%,#4040f3 24.1%,#4040f2 35.56%)"></i><i style="inset:87.65px;background:conic-gradient(from 26.0deg,#39aaff 0%,#30b8ff 1.78%,#34b1ff 3.46%,#40a0ff 4.74%,#405cff 8.3%,#4040ff 10.57%,#4041ff 12.25%,#408fff 15.41%,#409eff 16.89%,#408fff 18.27%,#4040ff 21.53%,#4040f3 24.3%,#4040f2 35.56%)"></i><i style="inset:88.64px;background:conic-gradient(from 26.0deg,#39abff 0%,#2fbaff 1.78%,#33b3ff 3.46%,#409fff 4.94%,#405dff 8.4%,#4040ff 10.77%,#4042ff 12.15%,#4097ff 15.51%,#3ca5ff 16.89%,#4096ff 18.27%,#4040ff 21.73%,#4040f3 24.49%,#4040f2 35.56%)"></i><i style="inset:89.64px;background:conic-gradient(from 26.0deg,#38abff 0%,#2ebaff 1.78%,#33b3ff 3.56%,#409fff 5.04%,#405eff 8.49%,#4040ff 10.96%,#4046ff 12.15%,#409eff 15.41%,#36aeff 16.89%,#409eff 18.37%,#4040ff 21.93%,#4040f3 24.69%,#4040f2 35.56%)"></i><i style="inset:90.64px;background:conic-gradient(from 26.0deg,#38acff 0%,#2ebbff 1.88%,#33b4ff 3.65%,#409fff 5.14%,#405eff 8.69%,#4040ff 11.16%,#404fff 12.44%,#3ca6ff 15.51%,#32b4ff 16.89%,#3fa2ff 18.47%,#4040ff 22.12%,#4040f3 24.89%,#4040f2 35.56%)"></i><i style="inset:91.63px;background:conic-gradient(from 26.0deg,#38acff 0%,#2ebbff 1.88%,#32b5ff 3.65%,#40a0ff 5.23%,#405dff 8.89%,#4040ff 11.36%,#4059ff 12.64%,#37adff 15.41%,#2bbfff 16.89%,#38acff 18.47%,#4041ff 22.32%,#4040f3 25.09%,#4040f2 35.56%)"></i><i style="inset:92.63px;background:conic-gradient(from 26.0deg,#38acff 0%,#2dbcff 1.88%,#32b5ff 3.75%,#409fff 5.43%,#4060ff 8.89%,#4042ff 11.36%,#405eff 12.64%,#409fff 14.62%,#33b4ff 15.41%,#27c4ff 17.09%,#35b0ff 18.57%,#40a0ff 19.16%,#405fff 21.14%,#4040ff 22.62%,#4040f3 25.38%,#4040f2 35.56%)"></i><i style="inset:93.62px;background:conic-gradient(from 26.0deg,#38acff 0%,#2dbcff 1.98%,#32b5ff 3.85%,#409fff 5.53%,#4044ff 11.36%,#409fff 14.42%,#2dbcff 15.41%,#21ceff 17.19%,#2ac1ff 18.27%,#40a0ff 19.46%,#405eff 21.43%,#4040ff 22.81%,#4040f3 25.58%,#4040f2 35.56%)"></i><i style="inset:94.62px;background:conic-gradient(from 26.0deg,#38acff 0%,#2dbcff 1.98%,#31b6ff 3.95%,#40a0ff 5.63%,#4047ff 11.26%,#409dff 14.12%,#29c2ff 15.31%,#1cd6ff 17.19%,#26c7ff 18.37%,#409eff 19.75%,#4061ff 21.53%,#4040ff 23.01%,#4040f3 25.78%,#4040f2 35.56%)"></i><i style="inset:95.62px;background:conic-gradient(from 26.0deg,#38acff 0%,#2dbdff 1.98%,#31b7ff 3.95%,#40a0ff 5.73%,#4049ff 11.26%,#409fff 14.02%,#26c7ff 15.31%,#17dcff 17.19%,#23ccff 18.47%,#409eff 19.95%,#4061ff 21.73%,#4040ff 23.21%,#4040f3 25.98%,#4040f2 35.56%)"></i><i style="inset:96.61px;background:conic-gradient(from 26.0deg,#38acff 0%,#2dbdff 2.07%,#31b7ff 4.05%,#40a0ff 5.93%,#404dff 11.16%,#409dff 13.73%,#1fd1ff 15.31%,#11e6ff 17.19%,#1dd4ff 18.57%,#3fa1ff 20.15%,#4062ff 21.93%,#4041ff 23.41%,#4040f3 26.17%,#4040f2 35.56%)"></i><i style="inset:97.61px;background:conic-gradient(from 26.0deg,#39abff 0%,#2dbcff 2.07%,#30b7ff 4.15%,#40a0ff 6.02%,#4050ff 11.16%,#40a0ff 13.63%,#1dd4ff 15.21%,#0eeaff 17.28%,#1bd7ff 18.67%,#3fa1ff 20.35%,#405fff 22.22%,#4040ff 23.7%,#4040f3 26.47%,#4040f2 35.56%)"></i><i style="inset:98.6px;background:conic-gradient(from 26.0deg,#39abff 0%,#2dbcff 2.17%,#31b7ff 4.25%,#409fff 6.22%,#4054ff 11.16%,#40a0ff 13.43%,#17ddff 15.21%,#07f5ff 17.19%,#14e1ff 18.67%,#409fff 20.64%,#4063ff 22.32%,#4041ff 23.9%,#4040f3 26.77%,#4040f2 35.56%)"></i><i style="inset:99.6px;background:conic-gradient(from 26.0deg,#39aaff 0%,#2dbcff 2.17%,#31b7ff 4.35%,#409fff 6.42%,#4057ff 11.06%,#409fff 13.23%,#12e4ff 15.21%,#03faff 17.28%,#13e3ff 18.86%,#409fff 20.84%,#4060ff 22.62%,#4041ff 24.1%,#4040f3 26.96%,#4040f2 35.56%)"></i><i style="inset:100.6px;background:conic-gradient(from 26.0deg,#3aa9ff 0%,#2dbcff 2.27%,#30b8ff 4.35%,#409fff 6.52%,#405bff 11.06%,#409eff 13.04%,#0decff 15.31%,#00feff 16.4%,#00ffff 17.68%,#12e5ff 19.06%,#409fff 21.04%,#4061ff 22.81%,#4040ff 24.4%,#4040f3 27.26%,#4040f2 35.56%)"></i><i style="inset:101.59px;background:conic-gradient(from 26.0deg,#3aa9ff 0%,#2ebbff 2.27%,#30b7ff 4.44%,#40a0ff 6.62%,#4060ff 10.96%,#3fa1ff 12.94%,#07f5ff 15.41%,#00fdf5 17.09%,#00ffff 18.17%,#15e0ff 19.46%,#409fff 21.23%,#4061ff 23.01%,#4041ff 24.59%,#4040f3 27.46%,#4040f2 35.56%)"></i><i style="inset:102.59px;background:conic-gradient(from 26.0deg,#3ba8ff 0%,#2ebaff 2.37%,#31b7ff 4.54%,#40a0ff 6.81%,#4063ff 10.96%,#40a0ff 12.74%,#02fcff 15.51%,#00fbf0 17.09%,#00ffff 18.47%,#15e0ff 19.65%,#409eff 21.43%,#4061ff 23.21%,#4040ff 24.89%,#4040f4 27.75%,#4040f2 35.56%)"></i><i style="inset:103.58px;background:conic-gradient(from 26.0deg,#3ba7ff 0%,#2fb9ff 2.37%,#31b6ff 4.54%,#40a0ff 6.91%,#4068ff 10.96%,#409fff 12.54%,#01fdff 15.31%,#00faea 17.09%,#00ffff 18.77%,#409eff 21.63%,#4062ff 23.41%,#4041ff 25.09%,#4040f2 35.56%)"></i><i style="inset:104.58px;background:conic-gradient(from 26.0deg,#3da5ff 0%,#30b8ff 2.47%,#32b5ff 4.74%,#40a0ff 7.11%,#406cff 10.96%,#40a0ff 12.44%,#00ffff 15.21%,#00f9e5 17.09%,#00ffff 18.96%,#40a0ff 21.73%,#4064ff 23.51%,#4041ff 25.28%,#4040f2 35.56%)"></i><i style="inset:105.58px;background:conic-gradient(from 26.0deg,#3da4ff 0%,#31b6ff 2.47%,#32b5ff 4.74%,#409fff 7.21%,#4070ff 10.86%,#409fff 12.25%,#00ffff 15.01%,#00f9e8 16%,#00f8e1 17.09%,#00f9e8 18.17%,#00fffe 19.16%,#40a0ff 21.93%,#4062ff 23.8%,#4040ff 25.58%,#4040f2 35.56%)"></i><i style="inset:106.57px;background:conic-gradient(from 26.0deg,#3ea2ff 0%,#32b4ff 2.57%,#33b3ff 4.94%,#4074ff 10.86%,#40a0ff 12.15%,#01feff 14.81%,#00f8e4 16%,#00f7dd 17.09%,#00f9e6 18.27%,#00ffff 19.36%,#3fa1ff 22.02%,#4064ff 23.9%,#4040ff 25.78%,#4040f2 35.56%)"></i><i style="inset:107.57px;background:conic-gradient(from 26.0deg,#40a0ff 0%,#34b2ff 2.47%,#34b3ff 4.84%,#407aff 10.77%,#40a0ff 11.95%,#00ffff 14.72%,#00f8e2 15.9%,#00f6da 17.09%,#00f8e2 18.27%,#00fffe 19.46%,#40a0ff 22.22%,#4062ff 24.2%,#4040ff 26.07%,#4040f2 35.56%)"></i><i style="inset:108.56px;background:conic-gradient(from 26.0deg,#409eff 0%,#35b0ff 4.94%,#407dff 10.77%,#3fa2ff 11.85%,#01fdff 14.52%,#00f8e1 15.8%,#00f5d7 17.09%,#00f8e0 18.37%,#00fffd 19.56%,#409fff 22.42%,#4062ff 24.4%,#4041ff 26.27%,#4040f2 35.56%)"></i><i style="inset:109.56px;background:conic-gradient(from 26.0deg,#409cff 0%,#35b0ff 4.94%,#4082ff 10.77%,#40a0ff 11.65%,#01feff 14.42%,#00f7df 15.8%,#00f5d5 17.09%,#00f7de 18.37%,#00feff 19.75%,#40a1ff 22.52%,#4065ff 24.49%,#4042ff 26.47%,#4040f2 35.56%)"></i><i style="inset:110.56px;background:conic-gradient(from 26.0deg,#4099ff 0%,#37adff 5.14%,#4087ff 10.67%,#40a1ff 11.46%,#00feff 14.32%,#00f7de 15.7%,#00f4d4 17.09%,#00f7de 18.47%,#00ffff 19.85%,#409eff 22.81%,#4064ff 24.79%,#4043ff 26.67%,#4040f2 35.56%)"></i><i style="inset:111.55px;background:conic-gradient(from 26.0deg,#4097ff 0%,#38acff 5.04%,#408dff 10.67%,#3fa2ff 11.36%,#01feff 14.22%,#00f7dd 15.7%,#00f4d4 17.09%,#00f7de 18.57%,#00ffff 19.95%,#3fa1ff 22.91%,#4067ff 24.89%,#4044ff 26.86%,#4040f3 35.56%)"></i><i style="inset:112.55px;background:conic-gradient(from 26.0deg,#4095ff 0%,#39aaff 5.23%,#4092ff 10.57%,#40a0ff 11.06%,#00fffe 14.22%,#00f7de 15.7%,#00f5d4 17.19%,#00f7de 18.57%,#00ffff 20.05%,#409fff 23.21%,#4068ff 25.19%,#4046ff 27.16%,#4040f3 35.56%)"></i><i style="inset:113.54px;background:conic-gradient(from 26.0deg,#4092ff 0%,#3aa9ff 5.23%,#4094ff 10.37%,#00ffff 14.12%,#00f7e0 15.6%,#00f5d6 17.09%,#00f7e0 18.67%,#00fffe 20.15%,#409fff 23.51%,#406aff 25.48%,#4048ff 27.46%,#4040f3 35.56%)"></i><i style="inset:114.54px;background:conic-gradient(from 26.0deg,#4090ff 0%,#3da4ff 5.14%,#4093ff 10.17%,#00fffe 14.22%,#00f8e2 15.7%,#00f6da 17.19%,#00f8e2 18.67%,#00fffe 20.15%,#3fa1ff 23.7%,#406aff 25.88%,#4049ff 27.85%,#4040ff 28.74%,#4040f3 35.56%)"></i><i style="inset:115.54px;background:conic-gradient(from 26.0deg,#408bff 0%,#409cff 4.94%,#4090ff 9.78%,#3fa2ff 10.47%,#01feff 14.22%,#00f9e7 15.7%,#00f7df 17.19%,#00f9e6 18.67%,#00fffe 20.15%,#40a0ff 24%,#404dff 28.15%,#4040ff 29.43%,#4040f4 35.56%)"></i><i style="inset:116.53px;background:conic-gradient(from 26.0deg,#4083ff 0%,#4090ff 4.64%,#4089ff 9.09%,#40a0ff 10.07%,#00feff 14.32%,#00f8e4 17.28%,#00fffe 20.15%,#409fff 24.49%,#4050ff 28.64%,#4040ff 30.22%,#4040f4 35.56%)"></i><i style="inset:117.53px;background:conic-gradient(from 26.0deg,#407aff 0%,#4081ff 8.3%,#3fa1ff 9.78%,#00feff 14.52%,#00faeb 17.38%,#00ffff 20.15%,#3fa1ff 24.99%,#4054ff 29.23%,#4040ff 31.31%,#4040f5 35.56%)"></i><i style="inset:118.52px;background:conic-gradient(from 26.0deg,#406fff 0%,#4076ff 7.01%,#40a0ff 9.28%,#02fbff 14.62%,#00fcf2 17.48%,#00ffff 19.95%,#14e1ff 22.32%,#40a0ff 25.78%,#405bff 29.93%,#4040ff 32.89%,#4040f7 35.56%)"></i><i style="inset:119.52px;background:conic-gradient(from 26.0deg,#4064ff 0%,#406aff 5.04%,#40a1ff 8.69%,#15dfff 12.44%,#03fbff 14.91%,#00ffff 19.85%,#12e4ff 22.52%,#409fff 26.96%,#4060ff 31.41%,#4040ff 35.56%)"></i><i style="inset:120.52px;background:conic-gradient(from 26.0deg,#405aff 0%,#4060ff 2.17%,#40a0ff 7.41%,#0debff 13.43%,#00feff 17.98%,#0fe9ff 22.32%,#40a0ff 28.15%,#404eff 35.56%)"></i><i style="inset:121.51px;background:conic-gradient(from 26.0deg,#405bff 0%,#40a0ff 7.9%,#28c4ff 12.15%,#19d9ff 17.78%,#28c4ff 23.41%,#40a0ff 27.65%,#405bff 35.56%)"></i><i style="inset:122.51px;background:conic-gradient(from 26.0deg,#405dff 0%,#4090ff 11.36%,#409cff 17.78%,#4090ff 24.2%,#405dff 35.56%)"></i><i style="inset:123.5px;background:conic-gradient(from 26.0deg,#4055ff 0%,#4062ff 17.78%,#4055ff 35.56%)"></i></div></div>
<div class="disc" style="clip-path:circle(124.5px at 202px 447.5px)"><div class="disc blur" style="border-radius:0"><div class="rc" style="left:76px;top:321.5px;width:252px;height:252px"><i style="inset:0px;background:conic-gradient(#00e081 0%,#00e594 1.94%,#00fefd 4.72%,#40a0ff 11.39%,#408bff 12.5%,#408bff 13.61%,#4050ff 14.72%,#404eff 15%,#4060ff 17.5%,#409aff 20%,#3fa2ff 20.28%,#05f8ff 21.67%,#00f4d3 21.94%,#00e287 22.22%,#00c922 22.5%,#50d000 22.78%,#c3eb00 23.06%,#ffe000 23.33%,#f55000 24.17%,#df2f00 24.44%,#dd2b00 24.72%,#ef4700 25.83%,#f65200 28.33%,#ff7900 30.56%,#fffb00 35%,#94de00 37.22%,#61d300 38.06%,#09c200 39.17%,#00d554 40.28%,#00eeb8 42.5%,#01feff 45.83%,#32b5ff 48.61%,#19d9ff 50.28%,#01fdff 51.11%,#00f8e3 51.67%,#00e081 52.22%,#08c200 52.78%,#45ce00 53.06%,#9adf00 53.61%,#e6f700 54.17%,#feff00 54.44%,#ebf900 57.22%,#a1e000 60%,#00c105 63.06%,#00c71d 63.61%,#00cd33 65.28%,#00ecaf 69.72%,#01fdff 71.94%,#40a0ff 75%,#4081ff 76.11%,#408fff 78.89%,#3ea2ff 80%,#18dbff 83.33%,#01fdff 84.44%,#00d862 89.44%,#00cd33 92.78%,#00e081 100%)"></i><i style="inset:1px;background:conic-gradient(#00e183 0%,#00e592 1.67%,#00fcf4 4.17%,#01feff 4.72%,#3fa1ff 11.11%,#408bff 12.22%,#408bff 13.33%,#404dff 14.72%,#4063ff 17.5%,#409eff 20%,#09f2ff 21.39%,#00fbed 21.67%,#00d146 22.22%,#28c800 22.5%,#9fe000 22.78%,#fff900 23.06%,#ff6000 23.89%,#da2700 24.44%,#ee4600 25.56%,#f75400 28.33%,#ff7c00 30.56%,#fdfe00 35%,#9bdf00 36.94%,#55d100 38.06%,#12c400 38.89%,#00c105 39.17%,#00d34c 40%,#00df7c 40.83%,#00efbf 42.5%,#04f9ff 45.83%,#32b4ff 48.33%,#1bd7ff 50%,#00fdf8 51.11%,#00fae9 51.39%,#00f1c6 51.67%,#00e594 51.94%,#00c513 52.5%,#2fc900 52.78%,#fcfe00 54.17%,#fdfe00 54.44%,#edf900 56.94%,#9ddf00 60%,#01c000 62.78%,#00c71c 63.33%,#00ce38 65.28%,#00edb4 69.72%,#00fffd 71.67%,#05f8ff 71.94%,#3ea3ff 74.72%,#4081ff 75.83%,#408dff 78.61%,#3fa1ff 79.72%,#19daff 83.06%,#02fcff 84.17%,#00d862 89.17%,#00cd33 92.5%,#00e183 100%)"></i><i style="inset:2px;background:conic-gradient(#00e185 0%,#00e491 1.39%,#01feff 4.44%,#3ea2ff 10.83%,#408cff 11.94%,#408aff 13.33%,#404dff 14.44%,#4061ff 17.22%,#409cff 19.72%,#01fdff 21.39%,#00da69 21.94%,#00c001 22.22%,#e4f600 22.78%,#ffd300 23.06%,#f44f00 23.89%,#e03000 24.17%,#dc2b00 24.44%,#ef4700 25.56%,#f65200 28.06%,#ff7900 30.28%,#fffc00 34.72%,#a1e000 36.67%,#5ed300 37.78%,#04c100 38.89%,#00d657 40%,#00eebb 42.22%,#02fbff 45.56%,#31b6ff 48.06%,#18dbff 50%,#00fefd 50.83%,#00f6d9 51.39%,#00dc71 51.94%,#00cb2d 52.22%,#16c400 52.5%,#4dcf00 52.78%,#a2e100 53.33%,#ecf900 53.89%,#feff00 54.17%,#eaf800 56.94%,#a0e000 59.72%,#00c208 62.78%,#00c619 63.06%,#00cd35 65%,#00ecb1 69.44%,#03fbff 71.67%,#409dff 74.72%,#4081ff 75.83%,#408cff 78.33%,#40a0ff 79.44%,#19d9ff 82.78%,#03faff 83.89%,#00d862 88.89%,#00cd33 92.22%,#00e185 100%)"></i><i style="inset:3px;background:conic-gradient(#00e286 0%,#00e490 1.11%,#00ffff 4.17%,#409eff 10.83%,#408bff 11.94%,#408bff 13.06%,#4050ff 14.17%,#404eff 14.44%,#4060ff 16.94%,#409aff 19.44%,#3fa2ff 19.72%,#05f8ff 21.11%,#00f5d5 21.39%,#00e289 21.67%,#00c925 21.94%,#4dcf00 22.22%,#c0ea00 22.5%,#ffe400 22.78%,#fd5d00 23.61%,#da2700 24.17%,#ee4600 25.28%,#f75400 28.06%,#ff7c00 30.28%,#fcfe00 34.72%,#98de00 36.67%,#64d400 37.5%,#0dc300 38.61%,#00c20a 38.89%,#00d861 40%,#00eeb7 41.94%,#01feff 45.28%,#31b6ff 48.06%,#19d9ff 49.72%,#02fcff 50.56%,#00f9e5 51.11%,#00e288 51.67%,#00c104 52.22%,#3dcc00 52.5%,#ffff00 53.89%,#ecf900 56.67%,#9bdf00 59.72%,#00c002 62.5%,#00c71d 63.06%,#00cc32 64.72%,#00ebae 69.17%,#00feff 71.39%,#3fa1ff 74.44%,#4081ff 75.56%,#408bff 78.06%,#3ea3ff 79.44%,#1ad8ff 82.5%,#00fefc 83.89%,#00d962 88.61%,#00cd33 91.94%,#00e286 100%)"></i><i style="inset:4px;background:conic-gradient(#00e288 0%,#00e48f 0.83%,#00fffe 3.89%,#40a0ff 10.56%,#408bff 11.67%,#408bff 12.78%,#404dff 14.17%,#4063ff 16.94%,#409eff 19.44%,#09f2ff 20.83%,#00fbef 21.11%,#00d248 21.67%,#25c700 21.94%,#9bdf00 22.22%,#fffb00 22.5%,#ff6f00 23.33%,#e03100 23.89%,#dc2a00 24.17%,#ef4700 25.28%,#f65200 27.78%,#ff7900 30%,#fffd00 34.44%,#9fe000 36.39%,#5ad200 37.5%,#00c001 38.61%,#00d75b 39.72%,#00efbe 41.94%,#04f9ff 45.28%,#32b4ff 47.78%,#1bd7ff 49.44%,#00fdf9 50.56%,#00f2cc 51.11%,#00d861 51.67%,#00c71e 51.94%,#23c700 52.22%,#80da00 52.78%,#f2fb00 53.61%,#feff00 53.89%,#e9f800 56.67%,#9fe000 59.44%,#05c100 62.22%,#00c30c 62.5%,#00c71b 62.78%,#00ce36 64.72%,#00ecb3 69.17%,#04f9ff 71.39%,#3da4ff 74.17%,#4080ff 75.28%,#408eff 78.06%,#3fa2ff 79.17%,#17ddff 82.5%,#00fffe 83.61%,#00d962 88.33%,#00cd33 91.67%,#00e288 100%)"></i><i style="inset:5px;background:conic-gradient(#00e28a 0%,#00e38e 0.56%,#00fffe 3.61%,#3fa1ff 10.28%,#408bff 11.39%,#4088ff 12.78%,#404dff 13.89%,#4061ff 16.67%,#409cff 19.17%,#01fdff 20.83%,#00db6b 21.39%,#00c104 21.67%,#e1f500 22.22%,#ffd700 22.5%,#fc5b00 23.33%,#d92600 23.89%,#ee4600 25%,#f85400 27.78%,#ff7c00 30%,#fffa00 34.17%,#d2f000 35.28%,#95de00 36.39%,#61d300 37.22%,#08c200 38.33%,#00d555 39.44%,#00eeba 41.67%,#03fbff 45%,#32b5ff 47.5%,#18dbff 49.44%,#00fffe 50.28%,#00f7de 50.83%,#00df7b 51.39%,#00ce38 51.67%,#0ac200 51.94%,#45ce00 52.22%,#98de00 52.78%,#ffff00 53.61%,#ecf900 56.39%,#a2e100 59.17%,#00c105 62.22%,#00c71d 62.78%,#00cd33 64.44%,#00ecb0 68.89%,#02fcff 71.11%,#409eff 74.17%,#4081ff 75.28%,#408cff 77.78%,#3fa1ff 78.89%,#18dbff 82.22%,#00ffff 83.33%,#00d963 88.06%,#00cd33 91.39%,#00e28a 100%)"></i><i style="inset:6px;background:conic-gradient(#00e38c 0%,#00e697 0.56%,#00fdf6 3.06%,#01fdff 3.61%,#3fa2ff 10%,#408cff 11.11%,#408aff 12.5%,#404fff 13.61%,#404eff 13.89%,#4060ff 16.39%,#409aff 18.89%,#3fa2ff 19.17%,#04f9ff 20.56%,#00f5d5 20.83%,#00e28a 21.11%,#00c926 21.39%,#4bcf00 21.67%,#bde900 21.94%,#ffe700 22.22%,#ff6a00 23.06%,#e13100 23.61%,#dc2a00 23.89%,#ef4700 25%,#f65300 27.5%,#ff7a00 29.72%,#ffff00 34.17%,#9bdf00 36.11%,#55d100 37.22%,#11c300 38.06%,#00c106 38.33%,#00d34d 39.17%,#00df7d 40%,#00edb6 41.39%,#01fdff 44.72%,#31b6ff 47.5%,#19daff 49.17%,#02fcff 50%,#00f9e5 50.56%,#00efbe 50.83%,#00e38e 51.11%,#00c30e 51.67%,#32ca00 51.94%,#afe500 52.78%,#f8fd00 53.33%,#feff00 53.61%,#edf900 56.11%,#9ddf00 59.17%,#01c000 61.94%,#00c71c 62.5%,#00cc31 64.17%,#00ebae 68.61%,#00ffff 70.83%,#3fa1ff 73.89%,#4080ff 75%,#408aff 77.5%,#3da4ff 78.89%,#19daff 81.94%,#02fdff 83.06%,#00d962 87.78%,#00cc32 91.11%,#00e38c 100%)"></i><i style="inset:7px;background:conic-gradient(#00e38d 0%,#00ffff 3.33%,#3ea3ff 9.72%,#4089ff 11.11%,#4089ff 12.22%,#404dff 13.61%,#4063ff 16.39%,#409fff 18.89%,#07f5ff 20.28%,#00faec 20.56%,#00d247 21.11%,#24c700 21.39%,#fffd00 21.94%,#ff7b00 22.78%,#d92600 23.61%,#ed4500 24.72%,#ff6100 28.33%,#ff8500 30%,#fffb00 33.89%,#a2e100 35.83%,#5dd300 36.94%,#04c100 38.06%,#00d657 39.17%,#00efbc 41.39%,#01feff 44.44%,#33b4ff 47.22%,#00fdf7 50%,#00f3ce 50.56%,#00da67 51.11%,#00c925 51.39%,#1bc500 51.67%,#50d000 51.94%,#a2e100 52.5%,#eaf800 53.06%,#fffe00 53.33%,#ebf800 56.11%,#a1e000 58.89%,#00c209 61.94%,#00c619 62.22%,#00cd35 64.17%,#00edb4 68.61%,#00fefd 70.56%,#05f8ff 70.83%,#3ea3ff 73.61%,#407fff 74.72%,#408cff 77.5%,#3fa1ff 78.61%,#1ad8ff 81.67%,#03faff 82.78%,#00d862 87.5%,#00cc31 90.83%,#00e38d 100%)"></i><i style="inset:8px;background:conic-gradient(#00e594 0%,#00fbf0 2.5%,#01fdff 3.33%,#409eff 9.72%,#4088ff 10.83%,#4083ff 12.22%,#404cff 13.33%,#4061ff 16.11%,#4081ff 17.5%,#409eff 18.61%,#0af1ff 20%,#00fefa 20.28%,#00da67 20.83%,#00c001 21.11%,#def400 21.67%,#ffd900 21.94%,#ff6500 22.78%,#e13100 23.33%,#db2900 23.61%,#ee4600 24.72%,#f65300 27.22%,#ff6400 28.33%,#ff8200 29.72%,#fdfe00 33.89%,#97de00 35.83%,#0dc300 37.78%,#00c20a 38.06%,#00d450 38.89%,#00e07e 39.72%,#00edb7 41.11%,#00ffff 44.17%,#33b4ff 46.94%,#17ddff 48.89%,#00fefb 49.72%,#00f7dd 50.28%,#00df7d 50.83%,#05c100 51.39%,#42cd00 51.67%,#ffff00 53.06%,#edf900 55.83%,#9cdf00 58.89%,#00c102 61.67%,#00c71c 62.22%,#00cd32 63.89%,#03faff 70.56%,#3da4ff 73.33%,#407eff 74.72%,#4087ff 76.94%,#409fff 78.33%,#1cd6ff 81.39%,#00fffd 82.78%,#00d862 87.22%,#00cc2f 90.56%,#00e594 100%)"></i><i style="inset:9px;background:conic-gradient(#00e79d 0%,#00fbed 2.22%,#00ffff 3.06%,#409eff 9.44%,#4088ff 10.56%,#4086ff 11.94%,#404dff 13.06%,#404dff 13.33%,#4060ff 15.83%,#409cff 18.33%,#3da4ff 18.61%,#00ffff 20%,#00f3ce 20.28%,#00e185 20.56%,#00c821 20.83%,#4ccf00 21.11%,#bce900 21.39%,#ffe900 21.67%,#ff7400 22.5%,#da2700 23.33%,#ed4300 24.44%,#ff6100 28.06%,#ff8700 29.72%,#fffd00 33.61%,#9ee000 35.56%,#59d200 36.67%,#00c000 37.78%,#00d658 38.89%,#00ecb2 40.83%,#04f9ff 44.17%,#32b5ff 46.94%,#18dbff 48.61%,#00ffff 49.44%,#00f8e0 50%,#00efbd 50.28%,#00e38e 50.56%,#00c412 51.11%,#2cc900 51.39%,#84da00 51.94%,#f1fa00 52.78%,#ffff00 53.33%,#eaf800 55.83%,#9fe000 58.61%,#04c100 61.39%,#00c30c 61.67%,#00c71b 61.94%,#00ce38 63.89%,#00eeba 68.33%,#02fcff 70.28%,#3ca6ff 73.06%,#407dff 74.44%,#4087ff 76.94%,#3fa1ff 78.33%,#19d9ff 81.39%,#01feff 82.5%,#00d861 86.94%,#00cc2e 90.28%,#00e38c 99.44%,#00e79d 100%)"></i><i style="inset:10px;background:conic-gradient(#00e9a5 0%,#00fcf3 2.22%,#02fcff 3.06%,#409fff 9.17%,#4089ff 10.28%,#4084ff 11.67%,#404cff 13.06%,#4063ff 15.83%,#4083ff 17.22%,#3fa1ff 18.33%,#03fbff 19.72%,#00f8e4 20%,#00e79c 20.28%,#00d041 20.56%,#27c800 20.83%,#feff00 21.39%,#ffcb00 21.67%,#ff6000 22.5%,#e13200 23.06%,#db2800 23.33%,#ee4500 24.44%,#f75300 26.94%,#ff6500 28.06%,#ff8400 29.44%,#fff900 33.33%,#fafd00 33.61%,#a4e100 35.28%,#60d300 36.39%,#09c200 37.5%,#00d451 38.61%,#00e07f 39.44%,#00eeb8 40.83%,#03faff 43.89%,#33b3ff 46.67%,#1ad9ff 48.33%,#03fbff 49.17%,#00f3cd 50%,#00da69 50.56%,#00ca29 50.83%,#16c400 51.11%,#4ed000 51.39%,#e3f600 52.5%,#fffc00 52.78%,#ffff00 53.33%,#edf900 55.56%,#a3e100 58.33%,#00c106 61.39%,#00c71d 61.94%,#00cd35 63.61%,#00eeb8 68.06%,#01feff 70%,#409fff 73.06%,#407dff 74.44%,#4085ff 76.67%,#409eff 78.06%,#1bd6ff 81.11%,#03fbff 82.22%,#00d861 86.67%,#00cb2d 90%,#00e38c 99.17%,#00e9a5 100%)"></i><i style="inset:11px;background:conic-gradient(#00ebad 0%,#00fbf1 1.94%,#01feff 2.78%,#409fff 8.89%,#4085ff 10.28%,#4083ff 11.39%,#404bff 12.78%,#4061ff 15.56%,#4081ff 16.94%,#40a0ff 18.06%,#06f7ff 19.44%,#00fcf2 19.72%,#00ecb2 20%,#00d861 20.28%,#03c100 20.56%,#dcf400 21.11%,#ffda00 21.39%,#ff6d00 22.22%,#da2800 23.06%,#ec4200 24.17%,#ff6200 27.78%,#ff8800 29.44%,#ffff00 33.33%,#9adf00 35.28%,#12c400 37.22%,#00c104 37.5%,#00d65a 38.61%,#00ecb3 40.56%,#03fbff 43.61%,#34b2ff 46.39%,#16deff 48.33%,#00fdf8 49.17%,#00f6d8 49.72%,#00e07e 50.28%,#01c000 50.83%,#3ccc00 51.11%,#67d500 51.39%,#f9fd00 52.5%,#fffe00 53.06%,#e9f800 55.56%,#9ee000 58.33%,#00c000 61.11%,#00c71b 61.67%,#00ce3a 63.61%,#00f0c0 68.06%,#00fffe 69.72%,#40a1ff 72.78%,#407bff 74.17%,#4084ff 76.39%,#3fa1ff 78.06%,#1dd4ff 80.83%,#05f8ff 81.94%,#00d860 86.39%,#00cb2c 89.72%,#00e38b 98.89%,#00ebad 100%)"></i><i style="inset:12px;background:conic-gradient(#00edb4 0%,#00fbed 1.67%,#00fffe 2.5%,#40a0ff 8.61%,#4084ff 10%,#4081ff 11.39%,#404cff 12.5%,#4060ff 15.28%,#407eff 16.67%,#3ca6ff 18.06%,#09f2ff 19.17%,#00fdf7 19.44%,#00f1c8 19.72%,#00e080 20%,#00c71d 20.28%,#4ed000 20.56%,#bae900 20.83%,#ffec00 21.11%,#ffbd00 21.39%,#fd5d00 22.22%,#db2800 23.06%,#ed4400 24.17%,#ff6000 27.5%,#ff8500 29.17%,#fffb00 33.06%,#a1e000 35%,#5cd200 36.11%,#05c100 37.22%,#00d553 38.33%,#00e080 39.17%,#00eeb8 40.56%,#02fcff 43.33%,#33b4ff 46.11%,#17dcff 48.06%,#00fefc 48.89%,#00f6dc 49.44%,#00efbd 49.72%,#00e48e 50%,#00c515 50.56%,#27c800 50.83%,#59d200 51.11%,#ebf800 52.22%,#fffb00 52.5%,#fffe00 53.06%,#ecf900 55.28%,#a1e000 58.06%,#30ca00 60%,#00c209 61.11%,#00c618 61.39%,#00ce37 63.33%,#04f9ff 69.72%,#3ea2ff 72.5%,#407aff 73.89%,#4084ff 76.39%,#3ea4ff 78.06%,#1fd2ff 80.56%,#00ffff 81.94%,#00d860 86.11%,#00cb2b 89.44%,#00e38b 98.61%,#00edb4 100%)"></i><i style="inset:13px;background:conic-gradient(#00efbc 0%,#00faea 1.39%,#01fdff 2.5%,#40a0ff 8.33%,#4085ff 9.72%,#4080ff 11.11%,#404bff 12.5%,#405fff 15%,#407cff 16.39%,#3ea3ff 17.78%,#0cedff 18.89%,#00fefc 19.17%,#00f7dd 19.44%,#00e596 19.72%,#00cf3c 20%,#29c800 20.28%,#fbfe00 20.83%,#ffcc00 21.11%,#ff6800 21.94%,#db2800 22.78%,#ed4500 24.17%,#ff6300 27.5%,#fdfe00 33.06%,#96de00 35%,#00c208 37.22%,#00d34c 38.06%,#00e287 39.17%,#00edb3 40.28%,#00fefc 42.78%,#34b2ff 46.11%,#19daff 47.78%,#01feff 48.61%,#00f2cc 49.44%,#00db6a 50%,#00cb2b 50.28%,#12c400 50.56%,#4bcf00 50.83%,#fffe00 52.22%,#eefa00 55%,#a5e100 57.78%,#00c104 60.83%,#00c71c 61.39%,#00cd34 63.06%,#03fbff 69.44%,#3da4ff 72.22%,#4079ff 73.89%,#4082ff 76.11%,#3fa1ff 77.78%,#20cfff 80.28%,#02fcff 81.67%,#00d85f 85.83%,#00cb2a 89.17%,#00e38d 98.61%,#00efbc 100%)"></i><i style="inset:14px;background:conic-gradient(#00f0c3 0%,#00ffff 2.22%,#40a1ff 8.06%,#4085ff 9.44%,#407fff 10.83%,#404bff 12.22%,#4060ff 15%,#4080ff 16.39%,#3fa1ff 17.5%,#02fcff 18.89%,#00fae9 19.17%,#00ebac 19.44%,#00d75b 19.72%,#07c100 20%,#daf300 20.56%,#ffdc00 20.83%,#ffb000 21.11%,#fb5a00 21.94%,#da2700 22.78%,#ec4300 23.89%,#ff6000 27.22%,#ff8700 28.89%,#fffd00 32.78%,#9ddf00 34.72%,#58d200 35.83%,#01c000 36.94%,#00c516 37.22%,#00d143 37.78%,#00e081 38.89%,#00fefc 42.5%,#35b1ff 45.83%,#15e0ff 47.78%,#04faff 48.33%,#00f4d4 49.17%,#00e07f 49.72%,#00c103 50.28%,#37cb00 50.56%,#8bdc00 51.11%,#f2fb00 51.94%,#fffa00 52.22%,#ecf900 55%,#a0e000 57.78%,#2bc900 59.72%,#02c000 60.56%,#00c30d 60.83%,#00ce39 63.06%,#01fdff 69.17%,#409dff 72.22%,#4078ff 73.61%,#4081ff 75.83%,#409eff 77.5%,#22cdff 80%,#04f9ff 81.39%,#00d85f 85.56%,#00ca29 88.89%,#00e38c 98.33%,#00f0c3 100%)"></i><i style="inset:15px;background:conic-gradient(#00f2ca 0%,#03fbff 2.22%,#3fa1ff 7.78%,#4081ff 9.44%,#407bff 10.83%,#404bff 11.94%,#405fff 14.72%,#407eff 16.11%,#3aa8ff 17.5%,#05f7ff 18.61%,#00fbef 18.89%,#00f0c1 19.17%,#00de79 19.44%,#00c618 19.72%,#4fd000 20%,#b9e800 20.28%,#ffee00 20.56%,#ffbe00 20.83%,#ff6300 21.67%,#db2900 22.5%,#ed4400 23.89%,#ff6400 27.22%,#fff900 32.5%,#fafe00 32.78%,#a3e100 34.44%,#5fd300 35.56%,#0ac200 36.67%,#00c30c 36.94%,#00d34d 37.78%,#00e287 38.89%,#00fefb 42.22%,#34b2ff 45.56%,#17deff 47.5%,#06f6ff 48.06%,#00fef9 48.33%,#00f5d8 48.89%,#00efbb 49.17%,#00e48e 49.44%,#00c618 50%,#23c700 50.28%,#57d100 50.56%,#a2e100 51.11%,#fffa00 51.94%,#eefa00 54.72%,#a3e100 57.5%,#2fc900 59.44%,#00c207 60.56%,#00c71c 61.11%,#00ce36 62.78%,#00ffff 68.89%,#409fff 71.94%,#4077ff 73.33%,#4081ff 75.83%,#3fa1ff 77.5%,#1fd1ff 80%,#00fffe 81.39%,#00e69b 83.61%,#00d656 85.56%,#00ca28 88.61%,#00e38c 98.06%,#00f2ca 100%)"></i><i style="inset:16px;background:conic-gradient(#00f4d0 0%,#01fdff 1.94%,#3fa2ff 7.5%,#4081ff 9.17%,#407cff 10.56%,#404bff 11.94%,#405eff 14.44%,#407bff 15.83%,#3ca5ff 17.22%,#09f1ff 18.33%,#00fdf5 18.61%,#00f5d5 18.89%,#00e490 19.17%,#00ce37 19.44%,#2cc900 19.72%,#f8fd00 20.28%,#ffcd00 20.56%,#ffa500 20.83%,#ff6e00 21.39%,#da2700 22.5%,#ec4200 23.61%,#ff6100 26.94%,#fffe00 32.5%,#99df00 34.44%,#00c103 36.67%,#00d146 37.5%,#00e182 38.61%,#00fefa 41.94%,#34b1ff 45.56%,#09f2ff 47.78%,#00fffe 48.06%,#00f2ca 48.89%,#00db6b 49.44%,#00cb2e 49.72%,#0fc300 50%,#47ce00 50.28%,#b7e800 51.11%,#fafd00 51.67%,#fff900 51.94%,#f0fa00 54.44%,#9fe000 57.5%,#34ca00 59.17%,#00c002 60.28%,#00c71b 60.83%,#00cf3c 62.78%,#00fefd 68.61%,#05f8ff 68.89%,#40a1ff 71.67%,#4076ff 73.33%,#407fff 75.56%,#409eff 77.22%,#21ceff 79.72%,#01feff 81.11%,#00f2ca 82.5%,#00e69b 83.33%,#00d556 85.28%,#00ca27 88.33%,#00e38b 97.78%,#00f4d0 100%)"></i><i style="inset:17px;background:conic-gradient(#00f5d6 0%,#00ffff 1.67%,#3fa2ff 7.22%,#4081ff 8.89%,#407aff 10.28%,#404aff 11.67%,#4060ff 14.44%,#4080ff 15.83%,#3ea3ff 16.94%,#0decff 18.06%,#00fefc 18.33%,#00f8e1 18.61%,#00e9a5 18.89%,#00d555 19.17%,#0bc200 19.44%,#d8f200 20%,#ffdd00 20.28%,#ffaf00 20.56%,#fe5f00 21.39%,#dc2a00 22.22%,#dc2a00 22.5%,#ec4300 23.61%,#fe5f00 26.67%,#ff9d00 29.17%,#fffa00 32.22%,#a0e000 34.17%,#5bd200 35.28%,#06c100 36.39%,#00c410 36.67%,#00cf3c 37.22%,#00df7c 38.33%,#00fefa 41.67%,#35b0ff 45.28%,#14e1ff 47.22%,#02fcff 47.78%,#00f3cf 48.61%,#00ebac 48.89%,#00e07f 49.17%,#00c106 49.72%,#87db00 50.56%,#edf900 51.39%,#fff700 51.67%,#eef900 54.44%,#a2e100 57.22%,#2ac800 59.17%,#00c30a 60.28%,#00ce39 62.5%,#03faff 68.61%,#3ea3ff 71.39%,#4075ff 73.06%,#407dff 75.28%,#3fa1ff 77.22%,#23ccff 79.44%,#03fbff 80.83%,#00f3cd 82.22%,#00e69b 83.06%,#00d555 85%,#00ca26 88.06%,#00e38b 97.5%,#00f5d6 100%)"></i><i style="inset:18px;background:conic-gradient(#00f7dc 0%,#03fbff 1.67%,#3ea3ff 6.94%,#407eff 8.89%,#4076ff 10.28%,#4049ff 11.39%,#405fff 14.17%,#407dff 15.56%,#39aaff 16.94%,#02fcff 18.06%,#00f9e7 18.33%,#00eeba 18.61%,#00dd73 18.89%,#00c513 19.17%,#51d000 19.44%,#b8e800 19.72%,#fff000 20%,#ff9c00 20.56%,#ff6900 21.11%,#da2700 22.22%,#eb4100 23.33%,#ff6200 26.67%,#feff00 32.22%,#95de00 34.17%,#00c206 36.39%,#00d247 37.22%,#00e183 38.33%,#00ffff 41.67%,#35b0ff 45%,#16dfff 46.94%,#05f8ff 47.5%,#00fdf6 47.78%,#00eeba 48.61%,#00e38e 48.89%,#00c71b 49.44%,#1fc600 49.72%,#54d100 50%,#fffe00 51.39%,#f0fa00 54.17%,#a5e200 56.94%,#8cdc00 57.5%,#2ec900 58.89%,#00c105 60%,#00c71b 60.56%,#00cd36 62.22%,#02fcff 68.33%,#3da4ff 71.11%,#4074ff 72.78%,#4083ff 75.56%,#3da4ff 77.22%,#24c9ff 79.17%,#05f8ff 80.56%,#00f4d0 81.94%,#00e69b 82.78%,#00d554 84.72%,#00c925 87.78%,#00e28a 97.22%,#00f7dc 100%)"></i><i style="inset:19px;background:conic-gradient(#00f8e2 0%,#02fdff 1.39%,#409eff 6.94%,#407dff 8.61%,#4077ff 10%,#404aff 11.39%,#405eff 13.89%,#407bff 15.28%,#3ba7ff 16.67%,#06f6ff 17.78%,#00f3ce 18.33%,#00e38b 18.61%,#00cc31 18.89%,#2fc900 19.17%,#f5fc00 19.72%,#ffcf00 20%,#ffa400 20.28%,#fc5c00 21.11%,#dc2a00 21.94%,#dc2900 22.22%,#ec4200 23.33%,#ff5f00 26.39%,#fffc00 31.94%,#9cdf00 33.89%,#03c100 36.11%,#00c514 36.39%,#00d03f 36.94%,#00df7d 38.06%,#00ffff 41.39%,#35b0ff 45%,#08f3ff 47.22%,#00fefb 47.5%,#00f1c7 48.33%,#00db6b 48.89%,#00cc30 49.17%,#0bc200 49.44%,#43cd00 49.72%,#91dd00 50.28%,#f4fb00 51.11%,#fff600 51.39%,#edf900 54.17%,#a1e000 56.94%,#34ca00 58.61%,#00c000 59.72%,#00c619 60.28%,#00cf3b 62.22%,#01feff 68.06%,#409dff 71.11%,#4073ff 72.78%,#407cff 75%,#3fa1ff 76.94%,#21ceff 79.17%,#00ffff 80.56%,#00f4d2 81.67%,#00e79b 82.5%,#00d553 84.44%,#00ce3a 85.56%,#00c924 87.5%,#00d555 92.78%,#00e28a 96.94%,#00f8e2 100%)"></i><i style="inset:20px;background:conic-gradient(#00f9e5 0%,#00ffff 1.11%,#409eff 6.67%,#407dff 8.33%,#4076ff 9.72%,#4049ff 11.11%,#4060ff 13.89%,#407fff 15.28%,#3da5ff 16.39%,#29c2ff 16.94%,#0af0ff 17.5%,#00fdf5 17.78%,#00f6d9 18.06%,#00e89f 18.33%,#00d44f 18.61%,#0fc300 18.89%,#d6f200 19.44%,#ffdf00 19.72%,#ffb000 20%,#ff6400 20.83%,#da2600 21.94%,#eb4000 23.06%,#ff6300 26.39%,#fbfe00 31.94%,#a2e100 33.61%,#0bc200 35.83%,#00c30a 36.11%,#00d248 36.94%,#00e184 38.06%,#00fffe 41.11%,#36afff 44.72%,#13e3ff 46.67%,#01feff 47.22%,#00f2cb 48.06%,#00eaab 48.33%,#00e07f 48.61%,#00c209 49.17%,#84da00 50%,#fff900 51.11%,#f0fa00 53.89%,#a4e100 56.67%,#9bdf00 56.94%,#29c800 58.61%,#00c208 59.72%,#00ce38 61.94%,#00fffe 67.78%,#409fff 70.83%,#4072ff 72.5%,#407aff 74.72%,#409fff 76.67%,#23cbff 78.89%,#02fcff 80.28%,#00f5d5 81.39%,#00e79b 82.22%,#00d553 84.17%,#00ce38 85.28%,#00c923 87.22%,#00d553 92.5%,#00e289 96.67%,#00f9e5 100%)"></i><i style="inset:21px;background:conic-gradient(#00f9e8 0%,#03faff 1.11%,#409fff 6.39%,#407eff 8.06%,#4070ff 9.72%,#4048ff 10.83%,#405eff 13.61%,#407cff 15%,#38adff 16.39%,#00fefc 17.5%,#00f7df 17.78%,#00ecb3 18.06%,#00db6c 18.33%,#00c40e 18.61%,#53d100 18.89%,#b7e800 19.17%,#fff300 19.44%,#ff9b00 20%,#ff6d00 20.56%,#dd2b00 21.67%,#db2900 21.94%,#eb4100 23.06%,#ff6000 26.11%,#fffe00 31.67%,#98de00 33.61%,#00c001 35.83%,#00d041 36.67%,#00e07f 37.78%,#00fefd 40.83%,#36aeff 44.44%,#31b6ff 45%,#04f9ff 46.94%,#00eeb9 48.06%,#00e38e 48.33%,#00c71d 48.89%,#1cc600 49.17%,#51d000 49.44%,#bce900 50.28%,#fbfe00 50.83%,#fff500 51.11%,#f1fb00 53.61%,#a0e000 56.67%,#2ec900 58.33%,#00c103 59.44%,#00c61a 60%,#00cf3e 61.94%,#04f9ff 67.78%,#3fa1ff 70.56%,#4071ff 72.22%,#407fff 75%,#3fa2ff 76.67%,#25c8ff 78.61%,#04faff 80%,#00f5d8 81.11%,#00e79b 81.94%,#00d452 83.89%,#00ce37 85%,#00c922 86.94%,#00d451 92.22%,#00e38c 96.67%,#00f9e8 100%)"></i><i style="inset:22px;background:conic-gradient(#00faec 0%,#02fcff 0.83%,#409fff 6.11%,#407aff 8.06%,#4072ff 9.44%,#4049ff 10.83%,#405dff 13.33%,#407aff 14.72%,#3aa9ff 16.11%,#24caff 16.67%,#03fbff 17.22%,#00f1c6 17.78%,#00e185 18.06%,#00cb2c 18.33%,#32ca00 18.61%,#f3fb00 19.17%,#ffd000 19.44%,#ffa200 19.72%,#ff5f00 20.56%,#da2600 21.67%,#ea3f00 22.78%,#ff6300 26.11%,#fffa00 31.39%,#9ee000 33.33%,#08c200 35.56%,#00c30e 35.83%,#00de78 37.5%,#00fefa 40.56%,#36afff 44.17%,#33b3ff 44.72%,#07f5ff 46.67%,#00fdf9 46.94%,#00f0c2 47.78%,#00db6b 48.33%,#09c200 48.89%,#3fcd00 49.17%,#8edc00 49.72%,#effa00 50.56%,#fff500 50.83%,#effa00 53.61%,#a3e100 56.39%,#34ca00 58.06%,#01c000 59.17%,#00c617 59.72%,#00cf3b 61.67%,#03fbff 67.5%,#3ea3ff 70.28%,#407dff 71.39%,#4070ff 72.22%,#4079ff 74.44%,#409fff 76.39%,#27c6ff 78.33%,#00fefd 80%,#00f2cb 81.11%,#00e79c 81.67%,#00d451 83.61%,#00cd35 84.72%,#00c821 86.67%,#00d450 91.94%,#00e38b 96.39%,#00faec 100%)"></i><i style="inset:23px;background:conic-gradient(#00fcf1 0%,#01feff 0.56%,#40a0ff 5.83%,#407aff 7.78%,#4071ff 9.17%,#4048ff 10.56%,#405fff 13.33%,#407fff 14.72%,#3ba7ff 15.83%,#28c4ff 16.39%,#07f4ff 16.94%,#00f4d0 17.5%,#00e699 17.78%,#00d249 18.06%,#13c400 18.33%,#d4f100 18.89%,#ffe100 19.17%,#ffb100 19.44%,#ff6800 20.28%,#dd2b00 21.39%,#db2800 21.67%,#ea4000 22.78%,#ff6000 25.83%,#feff00 31.39%,#94de00 33.33%,#00c105 35.56%,#00d143 36.39%,#00e080 37.5%,#02fcff 40.56%,#37aeff 44.17%,#0af0ff 46.39%,#00fffe 46.67%,#00f1c7 47.5%,#00eaa9 47.78%,#00e07f 48.06%,#00c30b 48.61%,#5ed300 49.17%,#fffd00 50.56%,#fff400 50.83%,#f1fb00 53.33%,#a6e200 56.11%,#8cdc00 56.67%,#28c800 58.06%,#00c206 59.17%,#00ce37 61.39%,#01fdff 67.22%,#3da5ff 70%,#406eff 71.94%,#4077ff 74.17%,#3fa2ff 76.39%,#28c3ff 78.06%,#00feff 79.72%,#00f3ce 80.83%,#00e79e 81.39%,#00d451 83.33%,#00cd34 84.44%,#00c820 86.39%,#00d34e 91.67%,#00e38a 96.11%,#00fcf1 100%)"></i><i style="inset:24px;background:conic-gradient(#00fdf6 0%,#40a0ff 5.56%,#407aff 7.5%,#4071ff 8.89%,#4048ff 10.28%,#405eff 13.06%,#407cff 14.44%,#3da4ff 15.56%,#2bbfff 16.11%,#0cedff 16.67%,#00fdf6 16.94%,#00ebac 17.5%,#00d965 17.78%,#00c209 18.06%,#b7e700 18.61%,#fff500 18.89%,#ff9a00 19.44%,#fd5d00 20.28%,#da2600 21.39%,#e93e00 22.5%,#fe5e00 25.56%,#fffc00 31.11%,#9adf00 33.06%,#04c100 35.28%,#00de79 37.22%,#00eeb8 38.89%,#01fdff 40.28%,#37adff 43.89%,#32b5ff 44.44%,#03fbff 46.39%,#00edb7 47.5%,#00e38d 47.78%,#00c81f 48.33%,#19c500 48.61%,#75d700 49.17%,#f6fc00 50.28%,#fff300 50.56%,#fffe00 51.94%,#effa00 53.33%,#a2e100 56.11%,#2ec900 57.78%,#00c002 58.89%,#00c619 59.44%,#00cf3d 61.39%,#00ffff 66.94%,#409eff 70%,#4079ff 71.11%,#406eff 71.94%,#4078ff 74.17%,#409fff 76.11%,#2ac1ff 77.78%,#02fcff 79.44%,#00f4d2 80.56%,#00e8a0 81.11%,#00d450 83.06%,#00cd32 84.17%,#00c81f 86.11%,#00d34c 91.39%,#00e28a 95.83%,#00fdf6 100%)"></i><i style="inset:25px;background:conic-gradient(#00fefc 0%,#40a0ff 5.28%,#407aff 7.22%,#406dff 8.89%,#4048ff 10.28%,#405dff 12.78%,#4079ff 14.17%,#38abff 15.56%,#23ccff 16.11%,#00fffe 16.67%,#00efbe 17.22%,#00e07f 17.5%,#00ca26 17.78%,#35cb00 18.06%,#f0fa00 18.61%,#ffd200 18.89%,#ffa200 19.17%,#ff6300 20%,#dd2c00 21.11%,#db2800 21.39%,#ff6100 25.56%,#fbfe00 31.11%,#a1e000 32.78%,#00c208 35.28%,#00e081 37.22%,#00edb4 38.61%,#00fffd 40%,#37aeff 43.61%,#34b2ff 44.17%,#06f7ff 46.11%,#00fdf6 46.39%,#00efbe 47.22%,#00db6b 47.78%,#06c100 48.33%,#68d500 48.89%,#eaf800 50%,#fff800 50.28%,#fffe00 51.94%,#f1fa00 53.06%,#a5e200 55.83%,#9bdf00 56.11%,#23c700 57.78%,#00c209 58.89%,#00ce3a 61.11%,#00fffd 66.67%,#05f8ff 66.94%,#40a0ff 69.72%,#4079ff 70.83%,#406cff 71.67%,#4076ff 73.89%,#3ea2ff 76.11%,#27c6ff 77.78%,#04f9ff 79.17%,#00f5d7 80.28%,#00e492 81.11%,#00d44f 82.78%,#00cb2c 84.17%,#00c81e 85.83%,#00d34e 91.39%,#00e289 95.56%,#00fefc 100%)"></i><i style="inset:26px;background:conic-gradient(#01fdff 0%,#3fa1ff 5%,#4076ff 7.22%,#406dff 8.61%,#4048ff 10%,#405bff 12.5%,#407eff 14.17%,#3aa9ff 15.28%,#27c6ff 15.83%,#05f8ff 16.39%,#00f2c8 16.94%,#00e492 17.22%,#00d143 17.5%,#18c500 17.78%,#d3f100 18.33%,#ffe300 18.61%,#ffb200 18.89%,#ff7e00 19.44%,#fb5a00 20%,#da2600 21.11%,#fe5e00 25.28%,#fffd00 30.83%,#96de00 32.78%,#01c000 35%,#00cf3d 35.83%,#00df7a 36.94%,#04f9ff 40%,#37adff 43.61%,#00fefc 46.11%,#00eaa8 47.22%,#00df7e 47.5%,#00c30d 48.06%,#5bd200 48.61%,#a1e000 49.17%,#fdfe00 50%,#fff200 50.28%,#f3fb00 52.78%,#a0e000 55.83%,#27c800 57.5%,#00c105 58.61%,#00d03f 61.11%,#03faff 66.67%,#3fa2ff 69.44%,#406bff 71.39%,#4074ff 73.61%,#40a0ff 75.83%,#29c2ff 77.5%,#00fffd 79.17%,#00f6da 80%,#00e492 80.83%,#00d44f 82.5%,#00cb2b 83.89%,#00c71d 85.56%,#00d34c 91.11%,#00e289 95.28%,#01fdff 100%)"></i><i style="inset:27px;background:conic-gradient(#05f8ff 0%,#3fa1ff 4.72%,#4076ff 6.94%,#406cff 8.33%,#4047ff 9.72%,#404fff 11.39%,#407bff 13.89%,#3ca6ff 15%,#2ac1ff 15.56%,#0af1ff 16.11%,#00fbf0 16.39%,#00e9a4 16.94%,#00d75d 17.22%,#00c104 17.5%,#b6e700 18.06%,#fff700 18.33%,#ff9800 18.89%,#ff7200 19.44%,#da2800 21.11%,#ff6200 25.28%,#fff900 30.56%,#9ddf00 32.5%,#09c200 34.72%,#00c30c 35%,#00e082 36.94%,#00edb5 38.33%,#03faff 39.72%,#38acff 43.33%,#32b5ff 43.89%,#01fdff 45.83%,#00edb4 46.94%,#00e38c 47.22%,#00c820 47.78%,#17c500 48.06%,#4bcf00 48.33%,#95de00 48.89%,#f1fb00 49.72%,#fff400 50%,#f5fc00 52.5%,#a4e100 55.56%,#1ec600 57.5%,#00c001 58.33%,#00c617 58.89%,#00cf3c 60.83%,#02fcff 66.39%,#3ea4ff 69.17%,#4075ff 70.56%,#406bff 71.39%,#4075ff 73.61%,#3ea3ff 75.83%,#2bc0ff 77.22%,#01feff 78.89%,#00f7dd 79.72%,#00e492 80.56%,#00d44e 82.22%,#00ca29 83.61%,#00c71c 85.28%,#00d34a 90.83%,#00e288 95%,#00ffff 99.72%,#05f8ff 100%)"></i><i style="inset:28px;background:conic-gradient(#08f3ff 0%,#3fa2ff 4.44%,#4076ff 6.67%,#4068ff 8.33%,#4047ff 9.72%,#404dff 11.11%,#4079ff 13.61%,#3ea3ff 14.72%,#21ceff 15.56%,#0fe9ff 15.83%,#00fef9 16.11%,#00edb6 16.67%,#00de77 16.94%,#00c820 17.22%,#38cb00 17.5%,#eefa00 18.06%,#ffd400 18.33%,#ffa300 18.61%,#ff6600 19.44%,#da2700 20.83%,#f55100 24.17%,#ffa200 27.5%,#ffff00 30.56%,#60d300 33.33%,#00c103 34.72%,#00df7b 36.67%,#00ecb0 38.06%,#01fdff 39.44%,#24c9ff 41.39%,#38acff 43.06%,#34b1ff 43.61%,#05f8ff 45.56%,#00eeba 46.67%,#00db6a 47.22%,#04c100 47.78%,#67d500 48.33%,#fffc00 49.72%,#fff100 50%,#f3fb00 52.5%,#9fe000 55.56%,#21c700 57.22%,#00c208 58.33%,#00ce39 60.56%,#01feff 66.11%,#409cff 69.17%,#4075ff 70.28%,#4069ff 71.11%,#4073ff 73.33%,#40a0ff 75.56%,#2cbdff 76.94%,#03fbff 78.61%,#00f7e0 79.44%,#00e593 80.28%,#00d34e 81.94%,#00cb2c 83.06%,#00c71b 84.72%,#00d248 90.56%,#00e38c 95%,#00fffd 99.44%,#08f3ff 100%)"></i><i style="inset:29px;background:conic-gradient(#0befff 0%,#3fa2ff 4.17%,#4077ff 6.39%,#4068ff 8.06%,#4047ff 9.44%,#404cff 10.83%,#407dff 13.61%,#39aaff 14.72%,#25c8ff 15.28%,#02fcff 15.83%,#00f0c0 16.39%,#00e38b 16.67%,#00cf3d 16.94%,#1cc600 17.22%,#d2f000 17.78%,#ffe500 18.06%,#ff9000 18.61%,#fd5c00 19.44%,#da2700 20.83%,#f65300 24.17%,#ff9f00 27.22%,#fffb00 30.28%,#99df00 32.22%,#05c100 34.44%,#00c40f 34.72%,#00dd74 36.39%,#00eeb8 38.06%,#00fefc 39.17%,#24caff 41.11%,#38acff 43.06%,#08f3ff 45.28%,#00fefa 45.56%,#00e9a6 46.67%,#00df7d 46.94%,#00c40e 47.5%,#27c800 47.78%,#58d200 48.06%,#9fe000 48.61%,#f8fd00 49.44%,#fff000 49.72%,#f5fc00 52.22%,#a2e100 55.28%,#28c800 56.94%,#00c104 58.06%,#00d03f 60.56%,#00ffff 65.83%,#409eff 68.89%,#4077ff 70%,#4068ff 70.83%,#4079ff 73.61%,#3ea4ff 75.56%,#28c3ff 76.94%,#05f8ff 78.33%,#00f8e2 79.17%,#00e593 80%,#00d34d 81.67%,#00cb2b 82.78%,#00c71a 84.44%,#00d247 90.28%,#00e38b 94.72%,#00fefb 99.17%,#0befff 100%)"></i><i style="inset:30px;background:conic-gradient(#0eeaff 0%,#409dff 4.17%,#4072ff 6.39%,#4068ff 7.78%,#4046ff 9.17%,#404eff 10.83%,#407aff 13.33%,#3ba7ff 14.44%,#28c3ff 15%,#07f4ff 15.56%,#00faea 15.83%,#00e79d 16.39%,#01c000 16.94%,#b5e700 17.5%,#fff900 17.78%,#ff9500 18.33%,#f85500 19.44%,#da2700 20.56%,#f85500 24.17%,#fcfe00 30.28%,#a0e000 31.94%,#00c206 34.44%,#00df7d 36.39%,#00ecb1 37.78%,#00fdf7 38.89%,#06f7ff 39.17%,#27c5ff 41.11%,#39abff 42.78%,#33b4ff 43.33%,#00ffff 45.28%,#00ecb1 46.39%,#00e38a 46.67%,#00c821 47.22%,#15c400 47.5%,#48ce00 47.78%,#93dd00 48.33%,#edf900 49.17%,#fff800 49.44%,#fff000 49.72%,#f8fd00 51.94%,#a6e200 55%,#9cdf00 55.28%,#1dc600 56.94%,#00c000 57.78%,#00cf3b 60.28%,#00dc72 61.94%,#00f1c4 63.89%,#04f9ff 65.83%,#40a0ff 68.61%,#4070ff 70%,#4067ff 70.83%,#4072ff 73.06%,#3fa1ff 75.28%,#2ac0ff 76.67%,#00fffe 78.33%,#00f4d0 79.17%,#00e593 79.72%,#00d34d 81.39%,#00ca2a 82.5%,#00c619 84.17%,#00d145 90%,#00da67 91.67%,#00e28a 94.44%,#00fdf8 98.89%,#0eeaff 100%)"></i><i style="inset:31px;background:conic-gradient(#11e5ff 0%,#409eff 3.89%,#4046ff 9.17%,#404cff 10.56%,#4078ff 13.06%,#3da4ff 14.17%,#20d0ff 15%,#0decff 15.28%,#00fcf4 15.56%,#00ebae 16.11%,#00dc6f 16.39%,#00c71b 16.67%,#3ccc00 16.94%,#ecf900 17.5%,#ffd600 17.78%,#ffa500 18.06%,#ff8900 18.33%,#f44e00 19.44%,#da2700 20.56%,#f65300 23.89%,#fffd00 30%,#95de00 31.94%,#02c000 34.17%,#00c512 34.44%,#00dd76 36.11%,#00ebad 37.5%,#03faff 38.89%,#27c5ff 40.83%,#39aaff 42.5%,#35b0ff 43.06%,#04faff 45%,#00edb6 46.11%,#00e697 46.39%,#03c100 47.22%,#65d400 47.78%,#ffff00 49.17%,#ffee00 49.44%,#fafd00 51.67%,#a1e000 55%,#21c700 56.67%,#00c207 57.78%,#00d041 60.28%,#00f3cc 63.89%,#03fbff 65.56%,#3ea2ff 68.33%,#4071ff 69.72%,#4066ff 70.56%,#4073ff 73.06%,#3da4ff 75.28%,#2dbdff 76.39%,#01fdff 78.06%,#00f5d5 78.89%,#00e593 79.44%,#00d34d 81.11%,#00ca28 82.22%,#00c618 83.89%,#00d143 89.72%,#00d966 91.39%,#00e289 94.17%,#00ffff 98.89%,#11e5ff 100%)"></i><i style="inset:32px;background:conic-gradient(#15e0ff 0%,#409eff 3.61%,#4046ff 8.89%,#404aff 10.28%,#407dff 13.06%,#38acff 14.17%,#24caff 14.72%,#00fffd 15.28%,#00eeb8 15.83%,#00e185 16.11%,#00ce36 16.39%,#20c600 16.67%,#d0f000 17.22%,#ffe700 17.5%,#ff8e00 18.06%,#ef4800 19.44%,#da2800 20.28%,#f85500 23.89%,#fff900 29.72%,#f9fd00 30%,#9cdf00 31.67%,#0ac200 33.89%,#00c20a 34.17%,#00df7e 36.11%,#00edb4 37.5%,#00ffff 38.61%,#27c6ff 40.56%,#39abff 42.5%,#07f5ff 44.72%,#00fdf7 45%,#00e9a4 46.11%,#00df7b 46.39%,#00c40f 46.94%,#25c700 47.22%,#56d100 47.5%,#9cdf00 48.06%,#f4fb00 48.89%,#fff300 49.17%,#f8fd00 51.67%,#a4e100 54.72%,#99df00 55%,#18c500 56.67%,#00c103 57.5%,#00d03e 60%,#02fcff 65.28%,#3da5ff 68.06%,#4073ff 69.44%,#4065ff 70.28%,#4076ff 73.06%,#3fa2ff 75%,#2fbaff 76.11%,#03fbff 77.78%,#00f6da 78.61%,#00e594 79.17%,#00d34c 80.83%,#00ca27 81.94%,#00c617 83.61%,#00d041 89.44%,#00d965 91.11%,#00e288 93.89%,#00f6d9 97.5%,#00fefc 98.61%,#15e0ff 100%)"></i><i style="inset:33px;background:conic-gradient(#18dcff 0%,#409fff 3.33%,#4045ff 8.61%,#404dff 10.28%,#407aff 12.78%,#3aa9ff 13.89%,#27c5ff 14.44%,#05f8ff 15%,#00f8e4 15.28%,#00e596 15.83%,#00d44f 16.11%,#06c100 16.39%,#b5e700 16.94%,#fffb00 17.22%,#ff9600 17.78%,#ff6300 18.61%,#eb4200 19.44%,#da2700 20.28%,#fa5800 23.89%,#ffff00 29.72%,#5ed300 32.5%,#00c001 33.89%,#00de77 35.83%,#00ebad 37.22%,#00fefa 38.33%,#26c7ff 40.28%,#39aaff 42.22%,#33b3ff 42.78%,#0af1ff 44.44%,#00fffd 44.72%,#00ebac 45.83%,#00e289 46.11%,#00c821 46.67%,#13c400 46.94%,#70d600 47.5%,#fffb00 48.89%,#ffed00 49.17%,#fafd00 51.39%,#a0e000 54.72%,#1bc500 56.39%,#00c000 57.22%,#00cf3b 59.72%,#01feff 65%,#409dff 68.06%,#406cff 69.44%,#4064ff 70.28%,#4073ff 72.78%,#409fff 74.72%,#30b7ff 75.83%,#05f8ff 77.5%,#00f7df 78.33%,#00e697 78.89%,#00d34c 80.56%,#00c925 81.67%,#00c516 83.33%,#00d040 89.17%,#00d964 90.83%,#00e287 93.61%,#00f5d6 97.22%,#00fefa 98.33%,#18dcff 100%)"></i><i style="inset:34px;background:conic-gradient(#1bd7ff 0%,#409fff 3.06%,#4073ff 5.28%,#4046ff 8.61%,#404bff 10%,#4077ff 12.5%,#3ca5ff 13.61%,#1fd2ff 14.44%,#0befff 14.72%,#00fbee 15%,#00e9a6 15.56%,#00da66 15.83%,#00c515 16.11%,#3fcd00 16.39%,#eaf800 16.94%,#ffd700 17.22%,#ffa600 17.5%,#ff8700 17.78%,#fc5b00 18.61%,#e83c00 19.44%,#db2900 20.28%,#f85500 23.61%,#fffa00 29.44%,#98de00 31.39%,#07c100 33.61%,#00e07f 35.83%,#00eaa9 36.94%,#05f8ff 38.33%,#2ac1ff 40.28%,#3aa9ff 41.94%,#36afff 42.5%,#03fbff 44.44%,#00e595 45.83%,#02c000 46.67%,#63d400 47.22%,#c2eb00 48.06%,#fbfe00 48.61%,#ffef00 48.89%,#fffe00 50.83%,#f2fb00 51.67%,#a3e100 54.44%,#22c700 56.11%,#03c100 56.94%,#00d041 59.72%,#00fffe 64.72%,#409fff 67.78%,#406dff 69.17%,#4063ff 70%,#4070ff 72.5%,#3ea3ff 74.72%,#2cbeff 75.83%,#00fffe 77.5%,#00f8e4 78.06%,#00e69a 78.61%,#00d34c 80.28%,#00c81e 81.67%,#00c514 83.06%,#00d03e 88.89%,#00d963 90.56%,#00e38c 93.61%,#00f4d3 96.94%,#01fdff 98.33%,#1bd7ff 100%)"></i><i style="inset:35px;background:conic-gradient(#1ed2ff 0%,#409fff 2.78%,#4073ff 5%,#4045ff 8.33%,#4049ff 9.72%,#407cff 12.5%,#3fa2ff 13.33%,#23cbff 14.17%,#11e6ff 14.44%,#00fdf8 14.72%,#00ecb0 15.28%,#00df7d 15.56%,#00cc30 15.83%,#25c700 16.11%,#cfef00 16.67%,#ffea00 16.94%,#ff8b00 17.5%,#fe5f00 18.33%,#e43700 19.44%,#d92600 20%,#fa5800 23.61%,#fdfe00 29.44%,#0fc300 33.33%,#00c104 33.61%,#00de78 35.56%,#00ecb1 36.94%,#02fcff 38.06%,#29c1ff 40%,#3aa9ff 41.94%,#06f6ff 44.17%,#00fdf5 44.44%,#00e8a2 45.56%,#00de79 45.83%,#00c410 46.39%,#23c700 46.67%,#7ad800 47.22%,#f0fa00 48.33%,#ffec00 48.89%,#fffd00 50.56%,#eef900 51.67%,#9ddf00 54.44%,#16c400 56.11%,#00c103 56.94%,#00cf3d 59.44%,#00dd75 61.11%,#00f3cd 63.06%,#04f9ff 64.72%,#3fa1ff 67.5%,#4068ff 69.17%,#4062ff 70%,#406dff 72.22%,#40a0ff 74.44%,#2ebbff 75.56%,#01fdff 77.22%,#00f9e8 77.78%,#00e79e 78.33%,#00e28a 78.61%,#00d34c 80%,#00c71d 81.39%,#00c513 82.78%,#00cf3c 88.61%,#00f3d0 96.67%,#00fffe 98.06%,#1ed2ff 100%)"></i><i style="inset:36px;background:conic-gradient(#21ceff 0%,#40a0ff 2.5%,#406fff 5%,#4045ff 8.06%,#4048ff 9.44%,#4079ff 12.22%,#39aaff 13.33%,#26c7ff 13.89%,#02fcff 14.44%,#00e48e 15.28%,#0bc200 15.83%,#fffc00 16.67%,#ff9700 17.22%,#ff8000 17.5%,#ff6300 18.06%,#e13200 19.44%,#db2800 20%,#fc5b00 23.61%,#fffc00 29.17%,#94de00 31.11%,#04c100 33.33%,#00e080 35.56%,#00eaaa 36.67%,#00fefc 37.78%,#0af0ff 38.06%,#29c3ff 39.72%,#3aa9ff 41.67%,#34b2ff 42.22%,#00fefb 44.17%,#00eaa8 45.28%,#00e287 45.56%,#00c821 46.11%,#12c400 46.39%,#43cd00 46.67%,#8fdd00 47.22%,#fffd00 48.33%,#ffeb00 48.61%,#fffe00 50.56%,#a2e100 54.17%,#1cc600 55.83%,#00c000 56.67%,#00ce3a 59.17%,#00dc72 60.83%,#00f5d5 63.06%,#03fbff 64.44%,#3ea4ff 67.22%,#4067ff 68.89%,#4061ff 69.72%,#4070ff 72.22%,#3ea4ff 74.44%,#30b7ff 75.28%,#03fbff 76.94%,#00faea 77.5%,#00e8a1 78.06%,#00e28a 78.33%,#00d34b 79.72%,#00c71b 81.11%,#00c512 82.5%,#00cf3b 88.33%,#00f3cd 96.39%,#00fefc 97.78%,#21ceff 100%)"></i><i style="inset:37px;background:conic-gradient(#24c9ff 0%,#40a0ff 2.22%,#406bff 5%,#4044ff 7.78%,#4047ff 9.17%,#4080ff 12.22%,#3ba7ff 13.06%,#1dd3ff 13.89%,#08f2ff 14.17%,#00fae9 14.44%,#00e79e 15%,#00c40f 15.56%,#43cd00 15.83%,#e8f800 16.39%,#ffd900 16.67%,#ff8400 17.22%,#fc5c00 18.06%,#de2d00 19.44%,#d92600 19.72%,#fe5e00 23.61%,#fff800 28.89%,#fafd00 29.17%,#9adf00 30.83%,#0cc200 33.06%,#00c208 33.33%,#00de79 35.28%,#00e9a5 36.39%,#00fdf6 37.5%,#07f5ff 37.78%,#2cbdff 39.72%,#3ba8ff 41.39%,#36afff 41.94%,#02fdff 43.89%,#00e593 45.28%,#01c000 46.11%,#61d300 46.67%,#84da00 46.94%,#f7fc00 48.06%,#fff200 48.33%,#ffeb00 48.61%,#fafd00 50.83%,#a5e200 53.89%,#9adf00 54.17%,#12c400 55.83%,#00c105 56.67%,#00d040 59.17%,#00de78 60.83%,#00f4d3 62.78%,#01fdff 64.17%,#409cff 67.22%,#4069ff 68.61%,#4060ff 69.44%,#406dff 71.94%,#3fa1ff 74.17%,#32b4ff 75%,#05f8ff 76.67%,#00fbed 77.22%,#00e28a 78.06%,#00d34b 79.44%,#00c61a 80.83%,#00c411 82.22%,#00ce39 88.06%,#00d85f 89.72%,#00e289 92.78%,#00f2cb 96.11%,#00fefa 97.5%,#24c9ff 100%)"></i><i style="inset:38px;background:conic-gradient(#27c5ff 0%,#40a1ff 1.94%,#406bff 4.72%,#4046ff 7.5%,#4047ff 8.89%,#407cff 11.94%,#3ea3ff 12.78%,#21cdff 13.61%,#0fe9ff 13.89%,#00fcf4 14.17%,#00eaa8 14.72%,#00dd74 15%,#00ca29 15.28%,#29c800 15.56%,#ceef00 16.11%,#ffec00 16.39%,#ff8800 16.94%,#ff5f00 17.78%,#db2900 19.44%,#fc5b00 23.33%,#fffe00 28.89%,#01c000 33.06%,#00e081 35.28%,#00ebad 36.39%,#03faff 37.5%,#2cbdff 39.44%,#3ba8ff 41.39%,#05f7ff 43.61%,#00e79f 45%,#00c410 45.83%,#21c700 46.11%,#79d800 46.67%,#ecf900 47.78%,#fff900 48.06%,#ffe900 48.33%,#fffe00 50.28%,#f0fa00 51.11%,#a0e000 53.89%,#15c400 55.56%,#00c103 56.39%,#00cf3c 58.89%,#00dd75 60.56%,#00f3d0 62.5%,#00ffff 63.89%,#409eff 66.94%,#4064ff 68.61%,#405fff 69.44%,#406aff 71.67%,#409eff 73.89%,#34b1ff 74.72%,#00fffd 76.67%,#00f4d4 77.22%,#00e38a 77.78%,#00d34b 79.17%,#00c618 80.56%,#00c410 81.94%,#00ce37 87.78%,#00d75e 89.44%,#00e289 92.5%,#00f2c8 95.83%,#01fdff 97.5%,#27c5ff 100%)"></i><i style="inset:39px;background:conic-gradient(#2ac0ff 0%,#3fa1ff 1.67%,#406bff 4.44%,#4044ff 7.5%,#4047ff 8.89%,#4078ff 11.67%,#409fff 12.5%,#25c9ff 13.33%,#00ffff 13.89%,#00e287 14.72%,#00d040 15%,#10c300 15.28%,#fffe00 16.11%,#ff9800 16.67%,#ff7e00 16.94%,#ff6300 17.5%,#d92600 19.44%,#fe5e00 23.33%,#fffa00 28.61%,#96de00 30.56%,#08c200 32.78%,#00df7b 35%,#00e9a6 36.11%,#00fffe 37.22%,#0cedff 37.5%,#2cbeff 39.17%,#3ba7ff 41.11%,#3ba8ff 41.39%,#00fefa 43.61%,#00e9a4 44.72%,#00e185 45%,#00c821 45.56%,#11c300 45.83%,#6dd600 46.39%,#8edc00 46.67%,#fdfe00 47.78%,#ffee00 48.06%,#ffff00 50.28%,#a4e100 53.61%,#96de00 53.89%,#1dc600 55.28%,#07c100 55.83%,#00ce39 58.61%,#00dc72 60.28%,#00f6d9 62.5%,#00fffe 63.61%,#40a1ff 66.67%,#4063ff 68.33%,#405eff 69.17%,#406dff 71.67%,#3fa2ff 73.89%,#2fb9ff 74.72%,#01feff 76.39%,#00f6da 76.94%,#00e38b 77.5%,#00d34a 78.89%,#00c616 80.28%,#00c40f 81.67%,#00cd36 87.5%,#00d75d 89.17%,#00f1c6 95.56%,#00ffff 97.22%,#2ac0ff 100%)"></i><i style="inset:40px;background:conic-gradient(#2dbcff 0%,#3fa2ff 1.39%,#4067ff 4.44%,#4044ff 7.22%,#4046ff 8.61%,#4076ff 11.39%,#3ba8ff 12.5%,#1cd5ff 13.33%,#06f6ff 13.61%,#00f8e3 13.89%,#00e596 14.44%,#00c209 15%,#e7f700 15.83%,#ffdb00 16.11%,#ff8100 16.67%,#fd5c00 17.5%,#da2800 19.44%,#fc5c00 23.06%,#feff00 28.61%,#00c102 32.78%,#00e182 35%,#00e8a2 35.83%,#00fdf7 36.94%,#09f2ff 37.22%,#2fb9ff 39.17%,#3ba7ff 41.11%,#01feff 43.33%,#00e491 44.72%,#01c000 45.56%,#61d300 46.11%,#a2e100 46.67%,#f3fb00 47.5%,#ffe800 48.06%,#fcfe00 50.28%,#a7e200 53.33%,#9ee000 53.61%,#10c300 55.28%,#00c105 56.11%,#00d03f 58.61%,#00de78 60.28%,#00f5d6 62.22%,#04faff 63.61%,#3ea3ff 66.39%,#4066ff 68.06%,#405dff 68.89%,#406aff 71.39%,#40a0ff 73.61%,#32b5ff 74.44%,#03fbff 76.11%,#00f7e0 76.67%,#00e38b 77.22%,#00cf3d 78.89%,#00c515 80%,#00c30e 81.39%,#00cd34 87.22%,#00d75b 88.89%,#00f2ca 95.56%,#00fefc 96.94%,#2dbcff 100%)"></i><i style="inset:41px;background:conic-gradient(#30b7ff 0%,#409dff 1.39%,#4067ff 4.17%,#4044ff 6.94%,#4046ff 8.61%,#407bff 11.39%,#3da4ff 12.22%,#20cfff 13.06%,#0decff 13.33%,#00fbef 13.61%,#00e8a0 14.17%,#00db6b 14.44%,#00c922 14.72%,#2ec900 15%,#ceef00 15.56%,#ffee00 15.83%,#ff8a00 16.39%,#ff7800 16.67%,#de2d00 18.89%,#dc2a00 19.44%,#fe5f00 23.06%,#fffc00 28.33%,#93dd00 30.28%,#05c100 32.5%,#00df7c 34.72%,#00eaa9 35.83%,#05f8ff 36.94%,#2fb9ff 38.89%,#3ca6ff 40.83%,#04f9ff 43.06%,#00e69b 44.44%,#00dd75 44.72%,#00c410 45.28%,#20c600 45.56%,#78d800 46.11%,#fffc00 47.5%,#ffea00 47.78%,#ffe900 48.06%,#ffff00 50%,#a3e100 53.33%,#16c400 55%,#00c103 55.83%,#00cf3c 58.33%,#00dd75 60%,#00f7de 62.22%,#02fbff 63.33%,#409bff 66.39%,#405fff 68.06%,#405cff 68.89%,#4067ff 71.11%,#3ea3ff 73.61%,#05f8ff 75.83%,#00f9e6 76.39%,#00e38b 76.94%,#00cf3d 78.61%,#00c513 79.72%,#00c30d 81.11%,#00cd32 86.94%,#00d85f 88.89%,#00f1c6 95.28%,#00fefa 96.67%,#30b7ff 100%)"></i><i style="inset:42px;background:conic-gradient(#34b3ff 0%,#409dff 1.11%,#4067ff 3.89%,#4045ff 6.67%,#4045ff 8.33%,#4078ff 11.11%,#40a0ff 11.94%,#14e2ff 13.06%,#00fefa 13.33%,#00eaab 13.89%,#00e07f 14.17%,#00ce38 14.44%,#15c400 14.72%,#feff00 15.56%,#ff9a00 16.11%,#ff7b00 16.39%,#dc2a00 18.89%,#dd2b00 19.44%,#fc5c00 22.78%,#fbfe00 28.33%,#0dc300 32.22%,#00c105 32.5%,#00dd75 34.44%,#00e8a3 35.56%,#01feff 36.67%,#0eeaff 36.94%,#2ebaff 38.61%,#3ca6ff 40.56%,#3ca6ff 40.83%,#00fdf8 43.06%,#00e183 44.44%,#00c821 45%,#10c300 45.28%,#6cd600 45.83%,#8cdc00 46.11%,#fafd00 47.22%,#fff100 47.5%,#ffe700 47.78%,#fcfe00 50%,#a6e200 53.06%,#9bdf00 53.33%,#0cc200 55%,#00c001 55.56%,#00d042 58.33%,#00df7c 60%,#00f6dc 61.94%,#01fdff 63.06%,#409dff 66.11%,#4060ff 67.78%,#405aff 68.61%,#4064ff 70.83%,#3fa1ff 73.33%,#00fefc 75.83%,#00fbed 76.11%,#00e38d 76.67%,#00d24a 78.06%,#00c412 79.44%,#00c30c 80.83%,#00c410 82.78%,#00cd35 86.94%,#00d75e 88.61%,#00f0c4 95%,#01fdff 96.67%,#34b3ff 100%)"></i><i style="inset:43px;background:conic-gradient(#37aeff 0%,#4064ff 3.89%,#4043ff 6.67%,#4045ff 8.06%,#4076ff 10.83%,#3aaaff 11.94%,#1bd7ff 12.78%,#04f9ff 13.06%,#00e38e 13.89%,#00c103 14.44%,#e5f700 15.28%,#ffdd00 15.56%,#ff7e00 16.11%,#fd5c00 16.94%,#da2700 18.89%,#de2d00 19.44%,#fe5f00 22.78%,#fffd00 28.06%,#03c100 32.22%,#00df7d 34.44%,#00e79e 35.28%,#00fdf9 36.39%,#0af0ff 36.67%,#32b5ff 38.61%,#3ca5ff 40.56%,#00fffe 42.78%,#00e48f 44.17%,#01c000 45%,#2fc900 45.28%,#5ed300 45.56%,#a0e000 46.11%,#f0fa00 46.94%,#fff800 47.22%,#ffe600 47.5%,#ffff00 49.72%,#a1e000 53.06%,#0fc300 54.72%,#01c000 55.28%,#00d03e 58.06%,#00de78 59.72%,#00f6d9 61.67%,#00ffff 62.78%,#40a0ff 65.83%,#4062ff 67.5%,#4059ff 68.33%,#4067ff 70.83%,#3da5ff 73.33%,#00ffff 75.56%,#00fcf2 75.83%,#00e491 76.39%,#00cf3c 78.06%,#00c410 79.17%,#00c30b 80.56%,#00c40f 82.5%,#00cd33 86.67%,#00d75d 88.33%,#00f0c1 94.72%,#00ffff 96.39%,#37aeff 100%)"></i><i style="inset:44px;background:conic-gradient(#3aa9ff 0%,#406cff 3.06%,#404bff 5.56%,#4045ff 8.06%,#407bff 10.83%,#3ca5ff 11.67%,#1fd1ff 12.5%,#0beeff 12.78%,#00faea 13.06%,#00e698 13.61%,#00c71c 14.17%,#33ca00 14.44%,#cdef00 15%,#ffef00 15.28%,#ff8b00 15.83%,#ff7500 16.11%,#dc2a00 18.61%,#df2f00 19.44%,#fd5c00 22.5%,#fff900 27.78%,#f8fd00 28.06%,#0ac200 31.94%,#00c208 32.22%,#00de76 34.17%,#00e9a5 35.28%,#00fcf1 36.11%,#06f6ff 36.39%,#12e4ff 36.67%,#32b5ff 38.33%,#3da5ff 40.28%,#03faff 42.5%,#00e697 43.89%,#00dd72 44.17%,#00c410 44.72%,#20c600 45%,#77d800 45.56%,#fffe00 46.94%,#ffe700 47.5%,#fcfe00 49.72%,#a5e200 52.78%,#96de00 53.06%,#17c500 54.44%,#00c104 55.28%,#00cf3b 57.78%,#00dd75 59.44%,#00f8e2 61.67%,#05f8ff 62.78%,#3fa2ff 65.56%,#405aff 67.5%,#4059ff 68.33%,#4064ff 70.56%,#3fa2ff 73.06%,#02fcff 75.28%,#00fdf5 75.56%,#00e595 76.11%,#00cf3b 77.78%,#00c40f 78.89%,#00c20a 80.28%,#00c30e 82.22%,#00cc31 86.39%,#00d75c 88.06%,#00efbf 94.44%,#00fefc 96.11%,#3aa9ff 100%)"></i><i style="inset:45px;background:conic-gradient(#3da4ff 0%,#4068ff 3.06%,#404bff 5.28%,#4044ff 7.78%,#4077ff 10.56%,#3fa1ff 11.39%,#12e4ff 12.5%,#00fdf6 12.78%,#00e9a4 13.33%,#00dd75 13.61%,#00cc30 13.89%,#1bc500 14.17%,#fcfe00 15%,#ffce00 15.28%,#ff7800 15.83%,#da2700 18.61%,#ff6000 22.5%,#ffff00 27.78%,#00c000 31.94%,#00e07e 34.17%,#00e89f 35%,#02fcff 36.11%,#10e7ff 36.39%,#31b6ff 38.06%,#3da4ff 40%,#3da5ff 40.28%,#06f6ff 42.22%,#00fdf6 42.5%,#00e081 43.89%,#00c820 44.44%,#10c300 44.72%,#6cd600 45.28%,#8cdc00 45.56%,#f6fc00 46.67%,#fff400 46.94%,#ffe400 47.22%,#ffff00 49.44%,#9fe000 52.78%,#09c200 54.44%,#00c102 55%,#00c926 56.94%,#00d041 57.78%,#00df7b 59.44%,#00f7df 61.39%,#03faff 62.5%,#3da4ff 65.28%,#405cff 67.22%,#4057ff 68.06%,#4061ff 70.28%,#40a0ff 72.78%,#04f9ff 75%,#00fdf8 75.28%,#00e69a 75.83%,#00e082 76.11%,#00cf3b 77.5%,#00c30d 78.61%,#00c209 80%,#00c30c 81.94%,#00cc2f 86.11%,#00d75b 87.78%,#00efbd 94.17%,#00fefa 95.83%,#3da4ff 100%)"></i><i style="inset:46px;background:conic-gradient(#409fff 0%,#4068ff 2.78%,#4047ff 5.28%,#4043ff 7.5%,#4075ff 10.28%,#39abff 11.39%,#1ad9ff 12.22%,#02fcff 12.5%,#00e185 13.33%,#03c100 13.89%,#4fd000 14.17%,#e4f600 14.72%,#ffdf00 15%,#ff7c00 15.56%,#fc5c00 16.39%,#da2700 18.61%,#fd5d00 22.22%,#fffb00 27.5%,#07c100 31.67%,#00e69a 34.72%,#00fefa 35.83%,#0cedff 36.11%,#34b1ff 38.06%,#3ea4ff 40%,#00fefd 42.22%,#00e38c 43.61%,#01c000 44.44%,#81da00 45.28%,#fffa00 46.67%,#ffe600 47.22%,#fffe00 49.17%,#a3e100 52.5%,#10c300 54.17%,#05c100 54.44%,#00cb2b 56.94%,#00de78 59.17%,#00f6db 61.11%,#02fcff 62.22%,#409dff 65.28%,#405eff 66.94%,#4056ff 67.78%,#4064ff 70.28%,#3da4ff 72.78%,#06f6ff 74.72%,#00fefb 75%,#00f5d5 75.28%,#00e89f 75.56%,#00e082 75.83%,#00c514 78.06%,#00c208 79.44%,#00c30b 81.67%,#00cb2d 85.83%,#00d659 87.5%,#00eebb 93.89%,#00fdf7 95.56%,#409fff 100%)"></i><i style="inset:47px;background:conic-gradient(#409bff 0%,#4068ff 2.5%,#4047ff 5%,#4044ff 7.5%,#407aff 10.28%,#3ca7ff 11.11%,#1ed3ff 11.94%,#09f1ff 12.22%,#00f9e5 12.5%,#00e491 13.06%,#00c515 13.61%,#37cb00 13.89%,#85db00 14.17%,#ccef00 14.44%,#fff100 14.72%,#ff8c00 15.28%,#ff7200 15.56%,#da2700 18.33%,#ef4700 21.11%,#ff6000 22.22%,#fff700 27.22%,#fcfe00 27.5%,#00c103 31.67%,#00e080 33.89%,#00e8a1 34.72%,#00fcf1 35.56%,#08f4ff 35.83%,#15e0ff 36.11%,#35b1ff 37.78%,#3ea3ff 39.72%,#02fbff 41.94%,#00e593 43.33%,#00dc6f 43.61%,#00c40f 44.17%,#1fc600 44.44%,#77d800 45%,#fdfe00 46.39%,#ffe400 46.94%,#ffff00 49.17%,#b7e800 51.67%,#9cdf00 52.5%,#19c500 53.89%,#01c000 54.44%,#00c820 56.39%,#00ce3a 57.22%,#00e07f 59.17%,#00f9e5 61.11%,#01fdff 61.94%,#409fff 65%,#4056ff 66.94%,#4055ff 67.5%,#4061ff 70%,#3fa1ff 72.5%,#00fffe 74.72%,#00e082 75.56%,#00c512 77.78%,#00c207 79.44%,#00c209 81.39%,#00cb2b 85.56%,#00d658 87.22%,#00efbe 93.89%,#00feff 95.56%,#409bff 100%)"></i><i style="inset:48px;background:conic-gradient(#4096ff 0%,#4047ff 4.72%,#4042ff 7.22%,#4076ff 10%,#3fa2ff 10.83%,#11e6ff 11.94%,#00fcf2 12.22%,#00e79c 12.78%,#00ca28 13.33%,#20c600 13.61%,#b6e700 14.17%,#fafd00 14.44%,#ffd000 14.72%,#ff7400 15.28%,#da2600 18.33%,#fd5d00 21.94%,#fffd00 27.22%,#05c100 31.39%,#00e79b 34.44%,#03fbff 35.56%,#12e4ff 35.83%,#34b1ff 37.5%,#3ea3ff 39.44%,#3da4ff 39.72%,#05f8ff 41.67%,#00fcf4 41.94%,#00e07e 43.33%,#00c81f 43.89%,#10c300 44.17%,#6ad500 44.72%,#8bdc00 45%,#f3fb00 46.11%,#ffe500 46.94%,#fffe00 48.89%,#f4fb00 49.44%,#a2e100 52.22%,#09c200 53.89%,#00c104 54.44%,#00c923 56.39%,#00d040 57.22%,#00df7b 58.89%,#00f8e2 60.83%,#00ffff 61.67%,#3fa2ff 64.72%,#4054ff 66.94%,#405dff 69.72%,#3ca5ff 72.5%,#01fdff 74.44%,#00f8e4 74.72%,#00eaaa 75%,#00e182 75.28%,#00c208 77.78%,#00c106 79.17%,#00c208 81.11%,#00ca2a 85.28%,#00d657 86.94%,#00eeba 93.61%,#00fffd 95.28%,#4096ff 100%)"></i><i style="inset:49px;background:conic-gradient(#4091ff 0%,#4047ff 4.44%,#4042ff 6.94%,#4074ff 9.72%,#409dff 10.56%,#19dbff 11.67%,#00ffff 11.94%,#00df7c 12.78%,#09c200 13.33%,#e3f600 14.17%,#ffe100 14.44%,#ff7d00 15%,#ff6c00 15.28%,#da2700 18.06%,#f75300 21.39%,#f9fd00 27.22%,#00c105 31.39%,#00e9a7 34.44%,#00fefb 35.28%,#18dbff 35.83%,#33b3ff 37.22%,#3fa2ff 39.44%,#07f4ff 41.39%,#00fefb 41.67%,#00e289 43.06%,#01c000 43.89%,#81da00 44.72%,#fffc00 46.11%,#ffe300 46.67%,#feff00 48.89%,#a5e200 51.94%,#97de00 52.22%,#12c400 53.61%,#00c102 54.17%,#00ca29 56.39%,#00de78 58.61%,#00faeb 60.83%,#04f8ff 61.67%,#3da4ff 64.44%,#4053ff 66.67%,#4061ff 69.72%,#3ea3ff 72.22%,#03faff 74.17%,#00faec 74.44%,#00e182 75%,#00c207 77.5%,#00c105 78.89%,#00c206 80.83%,#00ca28 85%,#00d656 86.67%,#00eeb8 93.33%,#00fefa 95%,#3fa1ff 99.17%,#4091ff 100%)"></i><i style="inset:50px;background:conic-gradient(#408bff 0%,#4043ff 4.44%,#4042ff 6.94%,#407aff 9.72%,#3ba8ff 10.56%,#1cd5ff 11.39%,#08f4ff 11.67%,#00f8e1 11.94%,#00e289 12.5%,#00c30d 13.06%,#3ccc00 13.33%,#ccee00 13.89%,#fff300 14.17%,#ff8e00 14.72%,#ff6e00 15%,#d92600 18.06%,#fd5d00 21.67%,#fffe00 26.94%,#02c000 31.11%,#00c40e 31.39%,#00e79d 34.17%,#00fcf2 35%,#09f2ff 35.28%,#17ddff 35.56%,#37adff 37.22%,#3fa2ff 39.17%,#01fdff 41.39%,#00e48f 42.78%,#00c40e 43.61%,#1fc600 43.89%,#77d800 44.44%,#94de00 44.72%,#fafd00 45.83%,#fff200 46.11%,#ffe100 46.39%,#fbfe00 48.89%,#a1e000 51.94%,#03c100 53.61%,#00c002 53.89%,#00c925 56.11%,#00e07e 58.61%,#00f9e8 60.56%,#03faff 61.39%,#409cff 64.44%,#4052ff 66.39%,#4051ff 66.67%,#405eff 69.44%,#40a0ff 71.94%,#05f7ff 73.89%,#00fcf4 74.17%,#00e183 74.72%,#00c105 77.22%,#00c104 78.61%,#00c105 80.56%,#00c926 84.72%,#00d555 86.39%,#00edb6 93.06%,#00fdf8 94.72%,#3fa2ff 98.89%,#408bff 100%)"></i><i style="inset:51px;background:conic-gradient(#4086ff 0%,#4043ff 4.17%,#4041ff 6.67%,#4076ff 9.44%,#3ea3ff 10.28%,#0fe8ff 11.39%,#00fbee 11.67%,#00e595 12.22%,#00c820 12.78%,#25c700 13.06%,#f8fd00 13.89%,#ffd200 14.17%,#ff7000 14.72%,#da2800 18.06%,#fb5a00 21.39%,#fffa00 26.67%,#00c207 31.11%,#00e698 33.89%,#04f9ff 35%,#15e1ff 35.28%,#37adff 36.94%,#3fa1ff 38.89%,#3ea3ff 39.17%,#04f9ff 41.11%,#00fcf2 41.39%,#00df7a 42.78%,#00c71d 43.33%,#11c300 43.61%,#8bdc00 44.44%,#f1fa00 45.56%,#fff800 45.83%,#ffe200 46.39%,#feff00 48.61%,#a4e100 51.67%,#92dd00 51.94%,#0ac200 53.33%,#00c001 53.61%,#00c822 55.83%,#00df7b 58.33%,#00f8e4 60.28%,#02fcff 61.11%,#409fff 64.17%,#4050ff 66.39%,#405aff 69.17%,#409eff 71.67%,#00fefb 73.89%,#00e183 74.44%,#00c103 76.94%,#00c102 78.33%,#00c104 80.28%,#00c924 84.44%,#00d554 86.11%,#00edb3 92.78%,#01feff 94.72%,#3ea2ff 98.61%,#4086ff 100%)"></i><i style="inset:52px;background:conic-gradient(#4081ff 0%,#4043ff 3.89%,#4043ff 6.67%,#407fff 9.44%,#409eff 10%,#17dcff 11.11%,#00fefc 11.39%,#00dc71 12.22%,#00cd32 12.5%,#0fc300 12.78%,#e1f500 13.61%,#ffe300 13.89%,#ffb000 14.17%,#ff7f00 14.44%,#ff6900 14.72%,#d92600 17.78%,#f95700 21.11%,#fdfe00 26.67%,#00c001 30.83%,#00e8a2 33.89%,#00fefd 34.72%,#1ad8ff 35.28%,#36aeff 36.67%,#40a0ff 38.89%,#06f6ff 40.83%,#00fef9 41.11%,#00e185 42.5%,#02c000 43.33%,#81da00 44.17%,#fffe00 45.56%,#ffe000 46.11%,#fffe00 48.33%,#a7e200 51.39%,#9ddf00 51.67%,#00c001 53.33%,#00ca27 55.83%,#00e182 58.33%,#00fbee 60.28%,#01fdff 60.83%,#3fa1ff 63.89%,#404eff 66.11%,#4058ff 68.89%,#3ea4ff 71.67%,#00ffff 73.61%,#00e185 74.17%,#00c002 76.67%,#00c001 78.06%,#00c102 80%,#00c922 84.17%,#00d552 85.83%,#00ecb1 92.5%,#00fffe 94.44%,#3ea3ff 98.33%,#4081ff 100%)"></i><i style="inset:53px;background:conic-gradient(#407cff 0%,#4043ff 3.61%,#4041ff 6.39%,#407aff 9.17%,#39aaff 10%,#1bd7ff 10.83%,#06f6ff 11.11%,#00e182 11.94%,#00c208 12.5%,#caee00 13.33%,#fff700 13.61%,#ff9200 14.17%,#ff6c00 14.44%,#ff6300 14.72%,#da2700 17.78%,#fb5a00 21.11%,#fffb00 26.39%,#07c100 30.56%,#00c209 30.83%,#00e69a 33.61%,#00fcf4 34.44%,#0befff 34.72%,#19daff 35%,#3aaaff 36.67%,#40a0ff 38.61%,#00feff 40.83%,#00e38c 42.22%,#00c40f 43.06%,#1dc600 43.33%,#74d700 43.89%,#93dd00 44.17%,#f6fc00 45.28%,#fff500 45.56%,#ffe100 46.11%,#feff00 48.33%,#a4e100 51.39%,#04c100 53.06%,#00c103 53.33%,#00c924 55.56%,#00e07f 58.06%,#00faeb 60%,#00ffff 60.56%,#3ea3ff 63.61%,#404eff 65.83%,#404dff 66.11%,#405cff 68.89%,#40a1ff 71.39%,#02fdff 73.33%,#00e38c 73.89%,#00de76 74.17%,#00c001 76.39%,#00c000 77.78%,#00c001 79.72%,#00c821 83.89%,#00d656 85.83%,#00edb5 92.5%,#00fefc 94.17%,#3da4ff 98.06%,#407cff 100%)"></i><i style="inset:54px;background:conic-gradient(#4076ff 0%,#4042ff 3.33%,#4041ff 6.11%,#4079ff 8.89%,#3ba8ff 9.72%,#0decff 10.83%,#00faea 11.11%,#00e593 11.67%,#00c821 12.22%,#21c700 12.5%,#edf900 13.33%,#ffdb00 13.61%,#ff7a00 14.17%,#fe5f00 14.72%,#db2900 17.78%,#fd5c00 21.11%,#fffe00 26.39%,#00c001 30.56%,#00e697 33.33%,#00fbed 34.17%,#07f5ff 34.44%,#17ddff 34.72%,#39abff 36.39%,#40a0ff 38.33%,#02fbff 40.56%,#00df7b 42.22%,#09c200 43.06%,#85db00 43.89%,#fffe00 45.28%,#ffdf00 45.83%,#fdfe00 48.33%,#aae300 51.11%,#a0e000 51.39%,#01c000 53.06%,#00cb2b 55.56%,#00e28a 58.06%,#00fffe 60.28%,#3da5ff 63.33%,#404fff 65.56%,#404eff 65.83%,#405bff 68.61%,#40a0ff 71.11%,#02fcff 73.06%,#00f5d7 73.33%,#00e697 73.61%,#00de79 73.89%,#00c001 76.11%,#00c000 78.06%,#00c000 79.44%,#00c922 83.61%,#00d657 85.56%,#00edb5 92.22%,#00fefb 93.89%,#3da4ff 97.78%,#4076ff 100%)"></i><i style="inset:55px;background:conic-gradient(#4071ff 0%,#4042ff 3.06%,#4041ff 5.83%,#407aff 8.61%,#3ca6ff 9.44%,#14e2ff 10.56%,#00fdf8 10.83%,#00dd74 11.67%,#00ce38 11.94%,#04c100 12.22%,#d1f000 13.06%,#fff200 13.33%,#ff9100 13.89%,#ff6d00 14.17%,#dc2a00 17.22%,#e03000 18.33%,#fe5f00 21.11%,#fff700 26.11%,#fafe00 26.39%,#07c100 30.28%,#00c209 30.56%,#00e594 33.06%,#03fbff 34.17%,#14e1ff 34.44%,#38acff 36.11%,#40a0ff 38.06%,#05f8ff 40.28%,#00fdf6 40.56%,#00e184 41.94%,#00c30b 42.78%,#1dc600 43.06%,#94de00 43.89%,#f3fb00 45%,#fff800 45.28%,#ffde00 45.83%,#fbfe00 48.33%,#a8e300 51.11%,#08c200 52.78%,#01c000 53.06%,#00ca28 55.28%,#00e287 57.78%,#00fcf3 59.72%,#04f9ff 60.28%,#409bff 63.33%,#404eff 65.56%,#405bff 68.33%,#409fff 70.83%,#02fcff 72.78%,#00f7e0 73.06%,#00e8a2 73.33%,#00df7b 73.61%,#00c103 75.83%,#00c000 76.11%,#00c000 79.17%,#00c923 83.33%,#00d657 85.28%,#00edb4 91.94%,#00fefa 93.61%,#409eff 97.78%,#4071ff 100%)"></i><i style="inset:56px;background:conic-gradient(#406bff 0%,#4042ff 2.78%,#4040ff 5.56%,#407bff 8.33%,#3da5ff 9.17%,#17ddff 10.28%,#03faff 10.56%,#00e287 11.39%,#00c515 11.94%,#2cc900 12.22%,#f3fb00 13.06%,#ff7a00 13.89%,#ff6900 14.17%,#db2800 17.22%,#e13100 18.33%,#ff6100 21.11%,#fffa00 26.11%,#00c001 30.28%,#00e8a3 33.06%,#00fffd 33.89%,#19daff 34.44%,#36aeff 35.83%,#40a1ff 37.78%,#3ea3ff 38.06%,#07f5ff 40%,#00fefc 40.28%,#00e38b 41.67%,#0ac200 42.78%,#86db00 43.61%,#a2e100 43.89%,#fdfe00 45%,#fff200 45.28%,#ffde00 45.83%,#fffd00 48.06%,#b0e500 50.83%,#a5e200 51.11%,#18c500 52.5%,#00c000 53.06%,#00c926 55%,#00e185 57.5%,#00fcf1 59.44%,#03faff 60%,#409cff 63.06%,#404eff 65.28%,#405aff 68.06%,#409eff 70.56%,#03fbff 72.5%,#00fae9 72.78%,#00df7d 73.33%,#00c106 75.56%,#00c000 75.83%,#00c001 79.17%,#00c924 83.06%,#00d657 85%,#00edb4 91.67%,#00fdf9 93.33%,#409fff 97.5%,#406bff 100%)"></i><i style="inset:57px;background:conic-gradient(#4066ff 0%,#4042ff 2.5%,#4040ff 5.28%,#4085ff 8.33%,#3ea3ff 8.89%,#0af1ff 10.28%,#00f9e8 10.56%,#00e596 11.11%,#00cb2c 11.67%,#10c300 11.94%,#d8f200 12.78%,#ffee00 13.06%,#ff9100 13.61%,#ff6f00 13.89%,#ff6500 14.17%,#da2700 17.22%,#ed4400 19.72%,#ff6500 21.11%,#fffe00 26.11%,#07c100 30%,#00c30a 30.28%,#00e79c 32.78%,#00fdf6 33.61%,#0cedff 33.89%,#35b1ff 35.56%,#3fa1ff 37.5%,#3fa2ff 37.78%,#01feff 40%,#00df7c 41.67%,#00c208 42.5%,#1dc600 42.78%,#96de00 43.61%,#fffa00 45%,#ffde00 45.56%,#fffe00 48.06%,#b6e700 50.56%,#9bdf00 51.11%,#0cc200 52.5%,#00c001 53.06%,#00cb2e 55%,#00e490 57.5%,#00fbef 59.17%,#02fbff 59.72%,#409eff 62.78%,#404eff 65%,#405aff 67.78%,#409eff 70.28%,#03fbff 72.22%,#00fcf1 72.5%,#00e080 73.06%,#00c209 75.28%,#01c000 76.11%,#00c000 78.89%,#00ca28 83.06%,#00d658 84.72%,#00edb4 91.39%,#02fcff 93.33%,#409fff 97.22%,#4066ff 100%)"></i><i style="inset:58px;background:conic-gradient(#4060ff 0%,#4042ff 2.22%,#4040ff 5%,#4084ff 8.06%,#3ea2ff 8.61%,#10e8ff 10%,#00fcf4 10.28%,#00e9a4 10.83%,#00df7a 11.11%,#00c30a 11.67%,#36cb00 11.94%,#fafd00 12.78%,#ff7b00 13.61%,#ff6000 14.17%,#da2800 17.22%,#ed4500 19.72%,#ff6800 21.11%,#fff700 25.83%,#fafd00 26.11%,#00c102 30%,#00e698 32.5%,#00fbef 33.33%,#08f3ff 33.61%,#15e0ff 33.89%,#33b3ff 35.28%,#40a1ff 37.5%,#03fbff 39.72%,#00e184 41.39%,#00c71a 42.22%,#0bc200 42.5%,#86db00 43.33%,#a3e100 43.61%,#fbfe00 44.72%,#fff400 45%,#ffdc00 45.56%,#feff00 48.06%,#b5e700 50.56%,#aae300 50.83%,#1bc500 52.22%,#09c200 52.5%,#00c103 53.06%,#00cb2a 54.72%,#00e38d 57.22%,#00faeb 58.89%,#02fdff 59.44%,#409fff 62.5%,#404eff 64.72%,#4059ff 67.5%,#409dff 70%,#03faff 71.94%,#00fdf5 72.22%,#00e184 72.78%,#01c000 75.28%,#00c000 78.61%,#00ca29 82.78%,#00d658 84.44%,#00edb5 91.11%,#01fdff 93.06%,#409fff 96.94%,#4060ff 100%)"></i><i style="inset:59px;background:conic-gradient(#405dff 0%,#4040fe 2.22%,#4044ff 5%,#4083ff 7.78%,#3fa1ff 8.33%,#14e2ff 9.72%,#00feff 10%,#00e38b 10.83%,#00c821 11.39%,#1bc500 11.67%,#def400 12.5%,#ffea00 12.78%,#ff9100 13.33%,#ff7000 13.61%,#fd5c00 14.17%,#db2800 16.94%,#ec4200 19.44%,#ff6100 20.83%,#fffa00 25.83%,#06c100 29.72%,#00c30c 30%,#00e595 32.22%,#04f9ff 33.33%,#13e2ff 33.61%,#32b5ff 35%,#40a0ff 37.22%,#05f8ff 39.44%,#00fdf8 39.72%,#00dd73 41.39%,#00c106 42.22%,#1dc600 42.5%,#96de00 43.33%,#ddf400 44.17%,#fffb00 44.72%,#ffdc00 45.56%,#fdfe00 48.06%,#bce900 50.28%,#a0e000 50.83%,#0fc300 52.22%,#00c106 53.06%,#00ca28 54.44%,#00e38b 56.94%,#01feff 59.17%,#40a0ff 62.22%,#404eff 64.44%,#4059ff 67.22%,#409cff 69.72%,#04f9ff 71.67%,#00fdf6 71.94%,#00e38e 72.5%,#00dd75 72.78%,#00c000 75%,#01c000 75.28%,#00c001 78.61%,#00ca29 82.5%,#00d75d 84.44%,#00edb5 90.83%,#01feff 92.78%,#409fff 96.67%,#405dff 100%)"></i><i style="inset:60px;background:conic-gradient(#4059ff 0%,#4040fe 1.94%,#4044ff 4.72%,#4084ff 7.5%,#40a0ff 8.06%,#06f5ff 9.72%,#00f9e5 10%,#00e698 10.56%,#01c000 11.39%,#ffff00 12.5%,#ff7c00 13.33%,#fa5900 14.17%,#da2700 16.94%,#ec4300 19.44%,#ff6400 20.83%,#ffba00 23.89%,#fffe00 25.83%,#00c104 29.72%,#00e9a7 32.22%,#00feff 33.06%,#11e6ff 33.33%,#35b0ff 35%,#40a1ff 36.94%,#07f5ff 39.17%,#00fefd 39.44%,#00df7c 41.11%,#00c616 41.94%,#0cc200 42.22%,#a5e100 43.33%,#fafd00 44.44%,#fff600 44.72%,#ffdd00 45.28%,#ffdc00 45.56%,#fffc00 47.78%,#bae900 50.28%,#afe500 50.56%,#1fc600 51.94%,#00c001 52.78%,#00cc30 54.44%,#00e28a 56.67%,#00ffff 58.89%,#3fa1ff 61.94%,#404fff 64.17%,#4058ff 66.94%,#3da5ff 69.72%,#04f9ff 71.39%,#00fdf6 71.67%,#00f3d0 71.94%,#00e697 72.22%,#00de78 72.5%,#00c103 74.72%,#01c000 78.06%,#00cb2a 82.22%,#00d75d 84.17%,#00edb5 90.56%,#00feff 92.5%,#40a0ff 96.39%,#4059ff 100%)"></i><i style="inset:61px;background:conic-gradient(#4054ff 0%,#4040fe 1.67%,#4043ff 4.44%,#4084ff 7.22%,#409fff 7.78%,#0cedff 9.44%,#00fcf1 9.72%,#00e080 10.56%,#00c617 11.11%,#24c700 11.39%,#e5f600 12.22%,#ffe700 12.5%,#ff9100 13.06%,#ff7200 13.33%,#f85500 14.17%,#db2800 16.94%,#eb4100 19.17%,#ff6700 20.83%,#ffb300 23.61%,#fff700 25.56%,#f9fd00 25.83%,#a0e000 27.22%,#04c100 29.44%,#00c40f 29.72%,#00e8a0 31.94%,#00fdf9 32.78%,#15dfff 33.33%,#34b2ff 34.72%,#3fa1ff 36.67%,#01feff 39.17%,#00da69 41.11%,#00c104 41.94%,#1cc600 42.22%,#97de00 43.06%,#def400 43.89%,#fffc00 44.44%,#ffda00 45.28%,#fffd00 47.78%,#c1eb00 50%,#a6e200 50.56%,#13c400 51.94%,#00c104 52.78%,#00cb2c 54.17%,#00e593 56.67%,#00fcf2 58.33%,#05f8ff 58.89%,#3fa2ff 61.67%,#4057ff 63.61%,#404fff 64.44%,#405fff 66.94%,#3ea4ff 69.44%,#05f8ff 71.11%,#00fdf7 71.39%,#00f5d8 71.67%,#00e8a0 71.94%,#00df7a 72.22%,#00c81f 73.89%,#01c000 74.72%,#00c000 78.06%,#00cb2b 81.94%,#00d75d 83.89%,#00edb5 90.28%,#00ffff 92.22%,#40a0ff 96.11%,#4054ff 100%)"></i><i style="inset:62px;background:conic-gradient(#4050ff 0%,#4041ff 1.11%,#4040ff 3.89%,#4050ff 5%,#409dff 7.5%,#10e7ff 9.17%,#00fefb 9.44%,#00e38e 10.28%,#00cb2c 10.83%,#0bc200 11.11%,#caee00 11.94%,#fffa00 12.22%,#ff7c00 13.06%,#f65200 14.17%,#db2800 16.67%,#ec4200 19.17%,#ff6100 20.56%,#ffb500 23.61%,#fffb00 25.56%,#00c206 29.44%,#00e69a 31.67%,#00fcf2 32.5%,#09f1ff 32.78%,#33b3ff 34.44%,#3fa1ff 36.39%,#03fbff 38.89%,#00fcf4 39.17%,#00dd73 40.83%,#00c513 41.67%,#0dc300 41.94%,#a6e200 43.06%,#e8f700 43.89%,#fff700 44.44%,#ffda00 45.28%,#fffe00 47.78%,#bfea00 50%,#9bdf00 50.56%,#23c700 51.67%,#01c000 52.5%,#00ca2a 53.89%,#00e490 56.39%,#00fbef 58.06%,#04f9ff 58.61%,#3ea3ff 61.39%,#404fff 63.61%,#404fff 64.17%,#405eff 66.67%,#3ea3ff 69.17%,#05f7ff 70.83%,#00fdf8 71.11%,#00f7df 71.39%,#00df7d 71.94%,#00cc2f 73.33%,#02c000 74.44%,#04c100 75.56%,#00c001 78.06%,#00cb2c 81.67%,#00d75d 83.61%,#00edb6 90%,#00fffe 91.94%,#40a0ff 95.83%,#4050ff 100%)"></i><i style="inset:63px;background:conic-gradient(#404cff 0%,#4041ff 0.83%,#4040ff 3.61%,#4050ff 4.72%,#409cff 7.22%,#03faff 9.17%,#00dd73 10.28%,#00c30d 10.83%,#2dc900 11.11%,#ebf800 11.94%,#ffe300 12.22%,#ff9100 12.78%,#ff7400 13.06%,#f45000 14.17%,#db2800 16.67%,#ed4300 19.17%,#ff6400 20.56%,#ffaf00 23.33%,#feff00 25.56%,#02c000 29.17%,#00c512 29.44%,#00e596 31.39%,#05f7ff 32.5%,#32b5ff 34.17%,#3fa1ff 36.11%,#2bbfff 37.22%,#05f8ff 38.61%,#00fef9 38.89%,#00df7a 40.56%,#00c102 41.67%,#1cc600 41.94%,#98de00 42.78%,#dff500 43.61%,#fffd00 44.17%,#ffda00 45.28%,#ffff00 47.78%,#c6ec00 49.72%,#abe400 50.28%,#17c500 51.67%,#00c103 52.5%,#00cc31 53.89%,#00e48f 56.11%,#00fefa 58.06%,#03fbff 58.33%,#3da4ff 61.11%,#4050ff 63.33%,#404fff 63.89%,#405eff 66.39%,#3fa2ff 68.89%,#06f6ff 70.56%,#00f9e6 71.11%,#00e07f 71.67%,#00c30a 73.89%,#02c000 74.17%,#02c000 77.5%,#00cc30 81.67%,#00d75e 83.33%,#00edb6 89.72%,#00fefd 91.67%,#40a0ff 95.56%,#404cff 100%)"></i><i style="inset:64px;background:conic-gradient(#4048ff 0%,#4040ff 3.33%,#404fff 4.44%,#409bff 6.94%,#08f2ff 8.89%,#00fbee 9.17%,#00e184 10%,#00c822 10.56%,#15c400 10.83%,#d1f000 11.67%,#fff700 11.94%,#ff7d00 12.78%,#ff6200 13.33%,#f34d00 14.17%,#dc2a00 16.39%,#eb4100 18.89%,#fe5e00 20.28%,#ffa900 23.06%,#fff800 25.28%,#f7fc00 25.56%,#9cdf00 26.94%,#1ec600 28.61%,#00c20a 29.17%,#00e593 31.11%,#02fdff 32.22%,#0fe8ff 32.5%,#30b8ff 33.89%,#3fa1ff 35.56%,#3ea3ff 36.11%,#06f5ff 38.33%,#00fefd 38.61%,#00e081 40.28%,#00c410 41.39%,#0dc300 41.67%,#2ac800 41.94%,#86db00 42.5%,#a7e200 42.78%,#e9f800 43.61%,#fff800 44.17%,#ffd800 45%,#fdfe00 47.78%,#c4ec00 49.72%,#a0e000 50.28%,#26c800 51.39%,#00c207 52.5%,#00e699 56.11%,#02fcff 58.06%,#409bff 61.11%,#4050ff 63.06%,#404fff 63.61%,#405dff 66.11%,#3fa1ff 68.61%,#06f5ff 70.28%,#00fae9 70.83%,#00e186 71.39%,#00dd72 71.67%,#00c925 73.06%,#00c000 73.89%,#03c100 74.17%,#00c000 77.5%,#00cc31 81.39%,#00d963 83.33%,#00eeba 89.72%,#00fefc 91.39%,#40a1ff 95.28%,#4048ff 100%)"></i><i style="inset:65px;background:conic-gradient(#4043ff 0%,#4040ff 3.06%,#404fff 4.17%,#409aff 6.67%,#0decff 8.61%,#00fdf7 8.89%,#00e491 9.72%,#00c103 10.56%,#f1fa00 11.67%,#ffe100 11.94%,#ff9100 12.5%,#ff7500 12.78%,#f14b00 14.17%,#db2800 16.39%,#ec4200 18.89%,#ff6100 20.28%,#ffaa00 23.06%,#fffc00 25.28%,#93dd00 26.94%,#00c001 28.89%,#00e9a4 31.11%,#00fefb 31.94%,#0debff 32.22%,#2ebaff 33.61%,#3fa1ff 35.56%,#27c5ff 36.94%,#01feff 38.33%,#00dc72 40.28%,#00c001 41.39%,#41cd00 41.94%,#98de00 42.5%,#e0f500 43.33%,#fffd00 43.89%,#ffd800 45%,#fffc00 47.5%,#cbee00 49.44%,#b0e500 50%,#1cc600 51.39%,#00c102 52.22%,#00e596 55.83%,#01fdff 57.78%,#409cff 60.83%,#4051ff 62.78%,#404fff 63.33%,#405dff 65.83%,#40a0ff 68.33%,#07f5ff 70%,#00faea 70.56%,#00e38e 71.11%,#00dd74 71.39%,#00c102 73.61%,#03c100 74.17%,#00c001 77.5%,#00cc31 81.11%,#00d963 83.06%,#00eeba 89.44%,#00fefb 91.11%,#3fa1ff 95%,#4043ff 100%)"></i><i style="inset:66px;background:conic-gradient(#4040ff 0%,#4040ff 2.78%,#4053ff 4.17%,#4099ff 6.39%,#00feff 8.61%,#00de79 9.72%,#00c618 10.28%,#1dc600 10.56%,#d7f200 11.39%,#fff300 11.67%,#ff7e00 12.5%,#fa5900 13.33%,#f04800 14.17%,#db2900 16.39%,#ed4400 18.89%,#ff6300 20.28%,#ffa400 22.78%,#fbfe00 25.28%,#9fe000 26.67%,#07c100 28.61%,#00c40e 28.89%,#00e79d 30.83%,#00fcf4 31.67%,#0af0ff 31.94%,#32b6ff 33.61%,#3fa2ff 35.56%,#03fbff 38.06%,#00fdf5 38.33%,#00d962 40.28%,#00c40e 41.11%,#29c800 41.67%,#a9e300 42.5%,#ebf800 43.33%,#fff800 43.89%,#ffd700 45%,#fffd00 47.5%,#caee00 49.44%,#a5e200 50%,#2ac800 51.11%,#00c207 52.22%,#00e595 55.56%,#00ffff 57.5%,#409dff 60.56%,#4052ff 62.5%,#404fff 63.06%,#405cff 65.56%,#409fff 68.06%,#00fefb 70%,#00faea 70.28%,#00de77 71.11%,#00c71c 72.78%,#00c105 73.33%,#04c100 73.89%,#00c208 78.06%,#00cc32 80.83%,#00de7a 84.17%,#00eeba 89.17%,#00fefa 90.83%,#3fa1ff 94.72%,#4040ff 100%)"></i><i style="inset:67px;background:conic-gradient(#4040fe 0%,#4041ff 2.78%,#4052ff 3.89%,#4098ff 6.11%,#05f8ff 8.33%,#00faea 8.61%,#00e287 9.44%,#07c100 10.28%,#3fcd00 10.56%,#f7fc00 11.39%,#ffde00 11.67%,#ff7700 12.5%,#fd5e00 13.06%,#dc2a00 16.39%,#eb4100 18.61%,#fe5e00 20%,#ffa600 22.78%,#fff900 25%,#a9e300 26.39%,#00c106 28.61%,#00e697 30.56%,#00fbee 31.39%,#06f5ff 31.67%,#30b7ff 33.33%,#3fa1ff 35.28%,#00fef9 38.06%,#00da6a 40%,#01c000 41.11%,#1ac500 41.39%,#98de00 42.22%,#b4e700 42.5%,#fffd00 43.61%,#ffd600 44.72%,#fffe00 47.5%,#d0f000 49.17%,#b6e700 49.72%,#20c600 51.11%,#00c001 51.94%,#00de77 54.44%,#00e89f 55.56%,#00fffd 57.22%,#05f7ff 57.5%,#409fff 60.28%,#4053ff 62.22%,#404fff 62.78%,#405cff 65.28%,#409eff 67.78%,#00fefc 69.72%,#00f3cf 70.28%,#00de79 70.83%,#00c71e 72.5%,#03c100 73.33%,#00c000 76.94%,#00c30b 78.06%,#00cd32 80.56%,#00df7a 83.89%,#00eebb 88.89%,#00fdf9 90.56%,#3fa1ff 94.44%,#4061ff 97.5%,#4040fe 100%)"></i><i style="inset:68px;background:conic-gradient(#4040fd 0%,#4041ff 2.5%,#4051ff 3.61%,#4097ff 5.83%,#09f1ff 8.06%,#00fcf3 8.33%,#00e593 9.17%,#00c410 10%,#25c700 10.28%,#ddf400 11.11%,#fff000 11.39%,#ff7f00 12.22%,#ff6300 12.78%,#f55100 13.33%,#db2900 16.11%,#e93e00 18.33%,#ff6000 20%,#ffa800 22.78%,#ffff00 25%,#a1e000 26.39%,#03c100 28.33%,#00c513 28.61%,#00e594 30.28%,#03fbff 31.39%,#2fb9ff 33.06%,#3fa2ff 34.44%,#3fa2ff 35%,#2cbeff 36.11%,#06f6ff 37.5%,#00faec 38.06%,#00d75a 40%,#00c30c 40.83%,#27c800 41.39%,#aae300 42.22%,#ecf900 43.06%,#fff800 43.61%,#ffd500 44.72%,#ffff00 47.5%,#cfef00 49.17%,#abe300 49.72%,#2ec900 50.83%,#00c207 51.94%,#00da68 53.89%,#00e79c 55.28%,#00fefb 56.94%,#04f9ff 57.22%,#40a0ff 60%,#4054ff 61.94%,#404fff 62.78%,#405cff 65%,#4094ff 67.22%,#3ba8ff 67.78%,#00fffd 69.44%,#00f5d5 70%,#00df7c 70.56%,#00c81f 72.22%,#02c000 73.06%,#00c20a 77.78%,#00df7b 83.61%,#00eebb 88.61%,#02fcff 90.56%,#3fa1ff 94.17%,#4061ff 97.22%,#4040fd 100%)"></i><i style="inset:69px;background:conic-gradient(#4040fd 0%,#4041ff 2.22%,#4050ff 3.33%,#3da4ff 5.83%,#00fefb 8.06%,#00e07f 9.17%,#00c923 9.72%,#0fc300 10%,#fcfe00 11.11%,#ff9100 11.94%,#ff7800 12.22%,#f85500 13.06%,#dc2900 16.11%,#ea3f00 18.33%,#ff6200 20%,#ffa100 22.5%,#fff700 24.72%,#f7fc00 25%,#ace400 26.11%,#0cc200 28.06%,#00c30b 28.33%,#00eaa7 30.28%,#00fffd 31.11%,#2ebaff 32.78%,#3fa1ff 34.44%,#2dbdff 35.83%,#01feff 37.5%,#00d962 39.72%,#01c000 40.83%,#19c500 41.11%,#98de00 41.94%,#b6e700 42.22%,#f5fc00 43.06%,#fffc00 43.33%,#ffd500 44.72%,#fdfe00 47.5%,#cdef00 49.17%,#9fe000 49.72%,#24c700 50.83%,#00c001 51.67%,#03faff 56.94%,#3fa1ff 59.72%,#4055ff 61.67%,#404fff 62.5%,#405bff 64.72%,#4094ff 66.94%,#3ba7ff 67.5%,#00fffe 69.17%,#00f6db 69.72%,#00e07e 70.28%,#00c821 71.94%,#00c000 72.78%,#09c200 74.44%,#00c209 77.5%,#00df7b 83.33%,#00eebb 88.33%,#01fdff 90.28%,#3fa2ff 93.89%,#405dff 97.22%,#4042ff 98.89%,#4040fd 100%)"></i><i style="inset:70px;background:conic-gradient(#4040fd 0%,#4040ff 1.94%,#4050ff 3.06%,#3ea3ff 5.56%,#02fcff 7.78%,#00e38a 8.89%,#00c207 9.72%,#2dc900 10%,#e3f600 10.83%,#ffed00 11.11%,#ff8000 11.94%,#fb5900 12.78%,#f04800 13.61%,#dc2a00 15.83%,#eb4100 18.33%,#ff6500 20%,#ff9b00 22.22%,#fffc00 24.72%,#a3e100 26.11%,#00c002 28.06%,#00e8a1 30%,#00fdf6 30.83%,#0af1ff 31.11%,#2dbcff 32.5%,#3fa2ff 34.44%,#28c3ff 35.83%,#03fbff 37.22%,#00fdf6 37.5%,#00e593 38.89%,#00c30a 40.56%,#0dc300 40.83%,#26c800 41.11%,#aae300 41.94%,#edf900 42.78%,#fff800 43.33%,#ffd400 44.44%,#fffc00 47.22%,#d4f100 48.89%,#b0e500 49.44%,#31ca00 50.56%,#00c207 51.67%,#00dc70 53.61%,#00e9a5 55%,#02fcff 56.67%,#3fa2ff 59.44%,#4056ff 61.39%,#404fff 62.22%,#405bff 64.44%,#4093ff 66.67%,#3ca6ff 67.22%,#00ffff 68.89%,#00f7dd 69.44%,#00e287 70%,#00dc71 70.28%,#00c923 71.67%,#04c100 72.78%,#00c207 77.22%,#00ce38 80%,#00da69 81.94%,#00eebb 88.06%,#01feff 90%,#3fa2ff 93.61%,#4042ff 98.61%,#4040fd 100%)"></i><i style="inset:71px;background:conic-gradient(#4040fd 0%,#4040ff 1.67%,#404fff 2.78%,#3ea2ff 5.28%,#06f7ff 7.5%,#00fbef 7.78%,#00e595 8.61%,#00c71a 9.44%,#17c500 9.72%,#caee00 10.56%,#fffd00 10.83%,#ff9200 11.67%,#fe5e00 12.5%,#dc2900 15.83%,#e93e00 18.06%,#fe5f00 19.72%,#ff9d00 22.22%,#fff400 24.44%,#fbfe00 24.72%,#aee500 25.83%,#07c100 27.78%,#00e69a 29.72%,#00fbf0 30.56%,#07f4ff 30.83%,#2bbfff 32.22%,#3fa1ff 33.89%,#2ac1ff 35.56%,#00fefa 37.22%,#00e185 38.89%,#02c000 40.56%,#18c500 40.83%,#98de00 41.67%,#b7e800 41.94%,#f7fc00 42.78%,#fffc00 43.06%,#ffd300 44.44%,#fffd00 47.22%,#d3f100 48.89%,#c1eb00 49.17%,#28c800 50.56%,#00c001 51.39%,#00db6e 53.33%,#00e8a2 54.72%,#01fdff 56.39%,#3ea3ff 59.17%,#4057ff 61.11%,#404fff 61.94%,#405aff 64.17%,#4099ff 66.67%,#01feff 68.61%,#00f7dd 69.17%,#00e38e 69.72%,#00dd74 70%,#00c925 71.39%,#04c100 72.5%,#00c207 76.94%,#00da69 81.67%,#00efbb 87.78%,#00feff 89.72%,#3fa2ff 93.33%,#4042ff 98.33%,#4040fd 100%)"></i><i style="inset:72px;background:conic-gradient(#4040fd 0%,#4040ff 1.39%,#4055ff 2.78%,#3fa1ff 5%,#07f4ff 7.22%,#00fdf6 7.5%,#00e182 8.61%,#02c000 9.44%,#e9f800 10.56%,#ffea00 10.83%,#ff8200 11.67%,#fb5900 12.5%,#dc2a00 15.83%,#ea3f00 18.06%,#ff6100 19.72%,#ff8f00 21.67%,#ffc500 23.33%,#fffa00 24.44%,#b9e800 25.56%,#00c208 27.78%,#04faff 30.56%,#2ac1ff 31.94%,#3fa1ff 33.61%,#2bbfff 35.28%,#06f6ff 36.67%,#00fbed 37.22%,#00c209 40.28%,#24c700 40.83%,#aae300 41.67%,#ffff00 42.78%,#ffd300 44.44%,#fffe00 47.22%,#d9f300 48.61%,#b5e700 49.17%,#35cb00 50.28%,#00c208 51.39%,#00db6b 53.06%,#00e8a1 54.44%,#00fffe 56.11%,#3da4ff 58.89%,#4058ff 60.83%,#404fff 61.67%,#405aff 63.89%,#4099ff 66.39%,#01fdff 68.33%,#00f7de 68.89%,#00de76 69.72%,#00c61a 71.39%,#04c100 72.22%,#00c106 76.67%,#00da69 81.39%,#00efbc 87.5%,#00ffff 89.44%,#3ea2ff 93.06%,#4042ff 98.06%,#4040fd 100%)"></i><i style="inset:73px;background:conic-gradient(#4040fd 0%,#4040ff 1.11%,#4054ff 2.5%,#3fa1ff 4.72%,#00fefd 7.22%,#00e38d 8.33%,#00c512 9.17%,#1ec600 9.44%,#98de00 10%,#fffa00 10.56%,#ff9200 11.39%,#fe5e00 12.22%,#dc2a00 15.56%,#eb4100 18.06%,#ff6400 19.72%,#ff9100 21.67%,#ffc900 23.33%,#feff00 24.44%,#afe500 25.56%,#01c000 27.5%,#00c618 27.78%,#00ffff 30.28%,#28c4ff 31.67%,#3fa1ff 33.33%,#2cbdff 35%,#01feff 36.67%,#03c100 40.28%,#3bcc00 40.83%,#97de00 41.39%,#b9e800 41.67%,#f9fd00 42.5%,#fffa00 42.78%,#ffd300 44.17%,#ffff00 47.22%,#d8f200 48.61%,#c6ec00 48.89%,#2bc900 50.28%,#00c001 51.11%,#00dd76 53.06%,#00ebac 54.44%,#00fefb 55.83%,#05f7ff 56.11%,#409bff 58.89%,#405aff 60.56%,#404eff 61.39%,#405aff 63.61%,#4098ff 66.11%,#02fcff 68.06%,#00f1c6 68.89%,#00de79 69.44%,#00c71b 71.11%,#03c100 71.94%,#0bc200 73.61%,#00c209 76.67%,#00da6a 81.11%,#00f0c1 87.5%,#00fffe 89.17%,#409dff 93.06%,#4042ff 97.78%,#4040fd 100%)"></i><i style="inset:74px;background:conic-gradient(#4040fd 0%,#4053ff 2.22%,#3fa1ff 4.44%,#02fcff 6.94%,#00de79 8.33%,#0ac200 9.17%,#effa00 10.28%,#ffe700 10.56%,#ff8300 11.39%,#ff6500 11.94%,#f55000 12.5%,#e33400 14.44%,#dc2a00 15.56%,#e73b00 17.5%,#ff6e00 20%,#ff9b00 21.94%,#f6fc00 24.44%,#a3e100 25.56%,#0ac200 27.22%,#00c40f 27.5%,#00fdf8 30%,#2cbdff 31.67%,#3fa1ff 33.06%,#2dbcff 34.72%,#02fbff 36.39%,#00f8e4 36.94%,#00c207 40%,#23c700 40.56%,#aae300 41.39%,#fffe00 42.5%,#ffd100 44.17%,#feff00 47.22%,#def400 48.33%,#bae900 48.89%,#38cb00 50%,#00c209 51.11%,#00dd73 52.78%,#00eaa8 54.17%,#04f9ff 55.83%,#409cff 58.61%,#405bff 60.28%,#404eff 61.11%,#405aff 63.33%,#4097ff 65.83%,#03fbff 67.78%,#00f2cb 68.61%,#00df7b 69.17%,#00c71d 70.83%,#01c000 71.67%,#0cc200 73.33%,#00c208 76.39%,#00da6a 80.83%,#00f0c0 87.22%,#00fefd 88.89%,#3ea3ff 92.5%,#405dff 95.83%,#4041ff 97.5%,#4040fd 100%)"></i><i style="inset:75px;background:conic-gradient(#4040fd 0%,#4052ff 1.94%,#3fa1ff 4.17%,#26c7ff 5%,#04f9ff 6.67%,#00fcf2 6.94%,#00e185 8.06%,#00c30a 8.89%,#24c700 9.17%,#a0e000 9.72%,#fff700 10.28%,#ff7c00 11.39%,#f85500 12.22%,#ec4200 13.33%,#dd2b00 15.56%,#ea3f00 17.78%,#ff6000 19.44%,#ff9400 21.67%,#ffc500 23.06%,#fffd00 24.17%,#afe500 25.28%,#00c206 27.22%,#00fcf2 29.72%,#06f6ff 30%,#2bbfff 31.39%,#3fa1ff 32.78%,#2ebaff 34.44%,#04f9ff 36.11%,#00faea 36.67%,#03c100 40%,#16c400 40.28%,#3acc00 40.56%,#bae900 41.39%,#fafd00 42.22%,#fff900 42.5%,#ffd100 44.17%,#fffc00 46.94%,#ddf400 48.33%,#ccee00 48.61%,#2fc900 50%,#00c001 50.83%,#00dc70 52.5%,#00e9a6 53.89%,#03fbff 55.56%,#409dff 58.33%,#4053ff 60.28%,#404eff 60.83%,#405aff 63.06%,#4096ff 65.56%,#38adff 66.11%,#04faff 67.5%,#00f3d0 68.33%,#00e080 68.89%,#00db6e 69.17%,#00c81f 70.56%,#05c100 71.67%,#0cc200 73.06%,#00c206 76.11%,#00db6a 80.56%,#00f0c1 86.94%,#00fefc 88.61%,#409dff 92.5%,#4041ff 97.22%,#4040fd 100%)"></i><i style="inset:76px;background:conic-gradient(#4040fe 0%,#4050ff 1.67%,#3fa1ff 3.89%,#20cfff 5%,#00fdf8 6.67%,#00e48f 7.78%,#00c71c 8.61%,#10c300 8.89%,#f4fb00 10%,#ffe500 10.28%,#ff8500 11.11%,#f45000 12.22%,#dc2a00 15.28%,#e83c00 17.5%,#ff6200 19.44%,#ffa000 21.94%,#f9fd00 24.17%,#a2e100 25.28%,#03c100 26.94%,#00c618 27.22%,#04faff 29.72%,#2ac1ff 31.11%,#3fa1ff 32.5%,#2bbfff 34.44%,#06f6ff 35.83%,#00fbef 36.39%,#00c206 39.72%,#21c700 40.28%,#aae300 41.11%,#fffc00 42.22%,#ffd000 44.17%,#fffd00 46.94%,#e3f600 48.06%,#c0ea00 48.61%,#3bcc00 49.72%,#06c100 50.56%,#00c30a 50.83%,#00df7b 52.5%,#00ecb2 53.89%,#02fdff 55.28%,#409fff 58.06%,#4053ff 60%,#404eff 60.56%,#405eff 63.06%,#4096ff 65.28%,#39abff 65.83%,#04f9ff 67.22%,#00f4d1 68.06%,#00e287 68.61%,#00dc70 68.89%,#00c821 70.28%,#05c100 71.39%,#0cc200 73.06%,#00c105 75.83%,#00dc6f 80.56%,#00f0c1 86.67%,#00fefb 88.33%,#409dff 92.22%,#4041ff 96.94%,#4040fe 100%)"></i><i style="inset:77px;background:conic-gradient(#4040ff 0%,#4050ff 1.39%,#3fa1ff 3.61%,#20d0ff 4.72%,#00fefd 6.39%,#00df7e 7.78%,#00c103 8.61%,#2cc900 8.89%,#dcf400 9.72%,#fff400 10%,#ffb300 10.56%,#ff7e00 11.11%,#f85500 11.94%,#dc2b00 15.28%,#e93e00 17.5%,#fd5d00 19.17%,#ff8100 20.83%,#ffc100 22.78%,#fffb00 23.89%,#c7ed00 24.72%,#0dc300 26.67%,#00c40f 26.94%,#01feff 29.44%,#28c3ff 30.83%,#3fa1ff 32.22%,#2cbdff 34.17%,#01feff 35.83%,#03c100 39.72%,#15c400 40%,#38cb00 40.28%,#bce900 41.11%,#fafe00 41.94%,#fff800 42.22%,#ffcf00 43.89%,#fffd00 46.94%,#e2f600 48.06%,#d1f000 48.33%,#32ca00 49.72%,#00c102 50.56%,#00de78 52.22%,#00ebae 53.61%,#00fffe 55%,#40a0ff 57.78%,#4054ff 59.72%,#404eff 60.28%,#405eff 62.78%,#4095ff 65%,#39aaff 65.56%,#05f7ff 66.94%,#00fdf5 67.22%,#00f4d1 67.78%,#00dd73 68.61%,#00c924 70%,#00c104 70.83%,#0dc300 72.78%,#00c000 75%,#00c209 75.83%,#00dc6f 80.28%,#00f0c1 86.39%,#00fefa 88.06%,#409eff 91.94%,#4041ff 96.67%,#4040ff 100%)"></i><i style="inset:78px;background:conic-gradient(#4042ff 0%,#404fff 1.11%,#3fa1ff 3.33%,#20d0ff 4.44%,#01feff 6.11%,#00e288 7.5%,#00c515 8.33%,#16c400 8.61%,#f9fd00 9.72%,#ffc300 10.28%,#ff8600 10.83%,#f44f00 11.94%,#dd2b00 15.28%,#ea3f00 17.5%,#fe5f00 19.17%,#ff8200 20.83%,#ffb900 22.5%,#fcfe00 23.89%,#a1e000 25%,#00c105 26.67%,#00fefa 29.17%,#27c6ff 30.56%,#40a1ff 31.94%,#2dbcff 33.89%,#02fbff 35.56%,#00f9e6 36.11%,#00d65a 38.06%,#00c105 39.44%,#20c600 40%,#aae300 40.83%,#c7ed00 41.11%,#fffb00 41.94%,#ffcf00 43.89%,#fffe00 46.94%,#e9f800 47.78%,#c5ec00 48.33%,#3fcd00 49.44%,#06c100 50.28%,#00c30c 50.56%,#00dd73 51.94%,#00ebac 53.33%,#00fefb 54.72%,#06f6ff 55%,#3fa1ff 57.5%,#4054ff 59.44%,#404eff 60%,#405dff 62.5%,#4094ff 64.72%,#3aa9ff 65.28%,#00fdf7 66.94%,#00eeb8 67.78%,#00dd75 68.33%,#00c617 70%,#00c106 70.56%,#0ec300 72.5%,#01c000 74.72%,#00c208 75.56%,#00dc6f 80%,#00f0c1 86.11%,#00fdf9 87.78%,#409eff 91.67%,#4040ff 96.39%,#4042ff 100%)"></i><i style="inset:79px;background:conic-gradient(#4045ff 0%,#4056ff 1.11%,#40a1ff 3.06%,#1fd1ff 4.17%,#02fcff 5.83%,#00f7de 6.39%,#00e491 7.22%,#04c100 8.33%,#e1f500 9.44%,#fff100 9.72%,#ffb300 10.28%,#ff7f00 10.83%,#f85500 11.67%,#dd2b00 15%,#e83c00 17.22%,#ff6000 19.17%,#ff7c00 20.56%,#ffbd00 22.5%,#fff900 23.61%,#c6ed00 24.44%,#05c100 26.39%,#00c618 26.67%,#00fcf3 28.89%,#05f8ff 29.17%,#25c8ff 30.28%,#3fa1ff 31.67%,#2ebaff 33.61%,#04f9ff 35.28%,#00faeb 35.83%,#00d75e 37.78%,#03c100 39.44%,#14c400 39.72%,#37cb00 40%,#bce900 40.83%,#fbfe00 41.67%,#fff600 41.94%,#ffce00 43.89%,#ffff00 46.94%,#e7f700 47.78%,#d7f200 48.06%,#36cb00 49.44%,#00c103 50.28%,#00e080 51.94%,#00eaab 53.06%,#05f8ff 54.72%,#3fa2ff 57.22%,#4055ff 59.17%,#404eff 59.72%,#405dff 62.22%,#409aff 64.72%,#00fdf8 66.67%,#00efbc 67.5%,#00de78 68.06%,#00c619 69.72%,#01c000 70.56%,#0fc300 72.22%,#04c100 74.17%,#00c206 75.28%,#00df7e 80.56%,#00f0c1 85.83%,#02fcff 87.78%,#409eff 91.39%,#4040ff 96.11%,#4045ff 100%)"></i><i style="inset:80px;background:conic-gradient(#4048ff 0%,#4055ff 0.83%,#40a0ff 2.78%,#20d0ff 3.89%,#00fdf7 5.83%,#00e081 7.22%,#00c40e 8.06%,#1cc600 8.33%,#ffff00 9.44%,#ffa400 10.28%,#ff8800 10.56%,#f44f00 11.67%,#e23200 13.89%,#de2d00 15.28%,#e93e00 17.22%,#ff6200 19.17%,#ff7d00 20.56%,#ffb600 22.22%,#ffff00 23.61%,#9fe000 24.72%,#0ec300 26.11%,#00c40f 26.39%,#00e184 27.5%,#02fcff 28.89%,#29c2ff 30.28%,#3fa1ff 31.67%,#2fb9ff 33.33%,#06f6ff 35%,#00fbf0 35.56%,#00d553 37.78%,#00c104 39.17%,#1ec600 39.72%,#aae300 40.56%,#c8ed00 40.83%,#fffa00 41.67%,#ffcd00 43.61%,#fffb00 46.67%,#eef900 47.5%,#cbee00 48.06%,#42cd00 49.17%,#06c100 50%,#00c40e 50.28%,#00df7d 51.67%,#00edb5 53.06%,#03faff 54.44%,#3ea3ff 56.94%,#4057ff 58.89%,#404eff 59.44%,#405dff 61.94%,#409aff 64.44%,#00fef9 66.39%,#00f0c0 67.22%,#00df7a 67.78%,#00c411 69.72%,#00c000 70.28%,#0fc300 71.94%,#05c100 73.89%,#00c105 75%,#00e07e 80.28%,#00f0c1 85.56%,#01fdff 87.5%,#409eff 91.11%,#4040ff 95.83%,#4048ff 100%)"></i><i style="inset:81px;background:conic-gradient(#404aff 0%,#4054ff 0.56%,#40a0ff 2.5%,#1ad9ff 3.89%,#00fefb 5.56%,#00e38b 6.94%,#00c81f 7.78%,#0ac200 8.06%,#e7f700 9.17%,#ffef00 9.44%,#ff9600 10.28%,#ff6000 11.11%,#f34d00 11.67%,#dd2c00 14.72%,#e53800 16.67%,#fd5d00 18.89%,#ff7f00 20.56%,#ffba00 22.22%,#fff700 23.33%,#f5fc00 23.61%,#c6ec00 24.17%,#00c105 26.11%,#00e07f 27.22%,#00ffff 28.61%,#28c4ff 30%,#3fa1ff 31.39%,#2cbeff 33.33%,#00feff 35%,#00e185 36.94%,#00d556 37.5%,#03c100 39.17%,#12c400 39.44%,#36cb00 39.72%,#bce900 40.56%,#fdfe00 41.39%,#fff400 41.67%,#ffcd00 43.61%,#fffc00 46.67%,#ecf900 47.5%,#dcf400 47.78%,#39cb00 49.17%,#00c105 50%,#00de76 51.39%,#00ecb2 52.78%,#02fdff 54.17%,#3da4ff 56.67%,#4058ff 58.61%,#404eff 59.17%,#405dff 61.67%,#4099ff 64.17%,#00fefb 66.11%,#00f1c4 66.94%,#00e081 67.5%,#00db6d 67.78%,#00c412 69.44%,#00c001 70%,#0fc300 71.94%,#01c000 74.17%,#00c30a 75%,#00dc70 79.17%,#00f0c1 85.28%,#01feff 87.22%,#409fff 90.83%,#4040ff 95.56%,#404aff 100%)"></i><i style="inset:82px;background:conic-gradient(#404dff 0%,#409fff 2.22%,#19d9ff 3.61%,#00fefc 5.28%,#00f6db 5.83%,#00de79 6.94%,#00c207 7.78%,#23c700 8.06%,#9adf00 8.61%,#fffc00 9.17%,#ff8a00 10.28%,#fc5b00 11.11%,#f14b00 11.67%,#dd2b00 14.72%,#e63900 16.67%,#fe5e00 18.89%,#ff7900 20.28%,#ffb200 21.94%,#fffe00 23.33%,#9cdf00 24.44%,#06c100 25.83%,#00c619 26.11%,#00de77 26.94%,#00fefb 28.33%,#27c6ff 29.72%,#3fa1ff 31.11%,#2dbcff 33.06%,#02fcff 34.72%,#00f9e7 35.28%,#00d75c 37.22%,#00c104 38.89%,#0ac200 39.17%,#1dc600 39.44%,#a9e300 40.28%,#caee00 40.56%,#fffa00 41.39%,#ffcc00 43.61%,#fffd00 46.67%,#f3fb00 47.22%,#eaf800 47.5%,#d0f000 47.78%,#45ce00 48.89%,#05c100 49.72%,#00c411 50%,#00e184 51.39%,#00ecb0 52.5%,#00fffe 53.89%,#409bff 56.67%,#4059ff 58.33%,#404fff 58.89%,#405cff 61.39%,#4098ff 63.89%,#00fefc 65.83%,#00f1c5 66.67%,#00dc6f 67.5%,#00c513 69.17%,#05c100 70%,#10c300 71.67%,#02c000 73.89%,#00c209 74.72%,#00dd75 79.17%,#00f1c7 85.28%,#00ffff 86.94%,#409fff 90.56%,#4040ff 95.28%,#4041ff 98.89%,#404dff 100%)"></i><i style="inset:83px;background:conic-gradient(#4051ff 0%,#409eff 1.94%,#19daff 3.33%,#00fffd 5%,#00f8e1 5.56%,#00e184 6.67%,#00c619 7.5%,#0fc300 7.78%,#ecf900 8.89%,#ffec00 9.17%,#ff9600 10%,#f85500 11.11%,#dd2c00 14.72%,#e63a00 16.67%,#ff7300 20%,#ffaa00 21.67%,#fff600 23.06%,#e0f500 23.61%,#10c300 25.56%,#00c40f 25.83%,#00e38b 26.94%,#00fcf5 28.06%,#04faff 28.33%,#25c8ff 29.44%,#3fa1ff 30.83%,#2ebaff 32.78%,#04f9ff 34.44%,#00faec 35%,#00d44f 37.22%,#03c100 38.89%,#11c300 39.17%,#34ca00 39.44%,#bce900 40.28%,#feff00 41.11%,#fff200 41.39%,#ffcc00 43.61%,#fffe00 46.67%,#f2fb00 47.22%,#e1f500 47.5%,#3ccc00 48.89%,#00c207 49.72%,#00e081 51.11%,#00eebb 52.5%,#00fefb 53.61%,#07f5ff 53.89%,#409cff 56.39%,#405aff 58.06%,#404fff 58.89%,#405cff 61.11%,#4098ff 63.61%,#3fa1ff 63.89%,#00fffd 65.56%,#00f1c5 66.39%,#00dc72 67.22%,#00c513 68.89%,#04c100 69.72%,#11c300 71.39%,#00c207 74.44%,#00dd75 78.89%,#00f1c7 85%,#00ffff 86.67%,#409fff 90.28%,#4040ff 95%,#4040ff 98.61%,#4051ff 100%)"></i><i style="inset:84px;background:conic-gradient(#405aff 0%,#409eff 1.67%,#1ad9ff 3.06%,#00fdf5 5%,#00e38d 6.39%,#00c001 7.5%,#2bc900 7.78%,#a1e000 8.33%,#fffa00 8.89%,#ff8b00 10%,#f44f00 11.11%,#dd2c00 14.44%,#e73b00 16.67%,#ff7400 20%,#ffae00 21.67%,#fffd00 23.06%,#b5e700 23.89%,#00c105 25.56%,#00e185 26.67%,#01fdff 28.06%,#24caff 29.17%,#3fa1ff 30.56%,#2fb9ff 32.5%,#00fefd 34.44%,#00e183 36.39%,#00d452 36.94%,#00c103 38.61%,#1bc500 39.17%,#a9e300 40%,#cbee00 40.28%,#f4fb00 40.83%,#fff900 41.11%,#ffcb00 43.33%,#ffdd00 44.72%,#ffff00 46.67%,#f0fa00 47.22%,#49cf00 48.61%,#04c100 49.44%,#00c514 49.72%,#00e28a 51.11%,#00eeb8 52.22%,#00fdf8 53.33%,#05f7ff 53.61%,#409dff 56.11%,#405bff 57.78%,#404fff 58.61%,#405cff 60.83%,#4097ff 63.33%,#40a0ff 63.61%,#00ffff 65.28%,#00ebaf 66.39%,#00dd74 66.94%,#00c515 68.61%,#02c000 69.44%,#0bc200 70.28%,#10c300 71.39%,#00c105 74.17%,#00dc70 78.33%,#00eaa9 83.06%,#00f1c7 84.72%,#00fffe 86.39%,#409fff 90%,#4040fe 94.72%,#4040ff 98.33%,#405aff 100%)"></i><i style="inset:85px;background:conic-gradient(#4064ff 0%,#409dff 1.39%,#14e1ff 3.06%,#00fdf7 4.72%,#00f6d8 5.28%,#00df7d 6.39%,#00c512 7.22%,#14c400 7.5%,#4dcf00 7.78%,#f2fb00 8.61%,#ffea00 8.89%,#ff9700 9.72%,#f85500 10.83%,#dd2c00 14.44%,#e53800 16.39%,#ff6e00 19.72%,#ffa600 21.39%,#fff400 22.78%,#f8fd00 23.06%,#def400 23.33%,#06c100 25.28%,#00e080 26.39%,#00f9e8 27.5%,#00fffd 27.78%,#08f4ff 28.06%,#22cdff 28.89%,#3fa1ff 30.28%,#30b8ff 32.22%,#00feff 34.17%,#00f8e3 34.72%,#00d249 36.94%,#03c100 38.61%,#0fc300 38.89%,#33ca00 39.17%,#bce900 40%,#ffff00 40.83%,#ffcc00 43.06%,#ffdd00 44.72%,#f7fc00 46.94%,#e7f700 47.22%,#3ecc00 48.61%,#00c209 49.44%,#00e287 50.83%,#03faff 53.33%,#409fff 55.83%,#405cff 57.5%,#404fff 58.33%,#405cff 60.56%,#4096ff 63.06%,#38adff 63.61%,#01feff 65%,#00ecb2 66.11%,#00de77 66.67%,#00c617 68.33%,#01c000 69.17%,#11c300 71.11%,#00c104 73.89%,#00dd76 78.33%,#00eaa9 82.78%,#00f1c7 84.44%,#00fefd 86.11%,#40a0ff 89.72%,#4040fe 94.44%,#4040ff 98.06%,#404fff 99.44%,#4064ff 100%)"></i><i style="inset:86px;background:conic-gradient(#406dff 0%,#409cff 1.11%,#13e2ff 2.78%,#00fdf8 4.44%,#00f7de 5%,#00e287 6.11%,#04c100 7.22%,#6ed600 7.78%,#dbf300 8.33%,#fff700 8.61%,#ff8d00 9.72%,#f45000 10.83%,#de2d00 14.44%,#e63900 16.39%,#ff7000 19.72%,#ffab00 21.39%,#fffc00 22.78%,#b1e600 23.61%,#10c300 25%,#00c411 25.28%,#00de77 26.11%,#00ebae 26.67%,#00fdf9 27.5%,#05f7ff 27.78%,#40a1ff 30%,#2dbdff 32.22%,#02fcff 33.89%,#00f9e8 34.44%,#00d34b 36.67%,#09c200 38.61%,#1ac500 38.89%,#cdef00 40%,#fff800 40.83%,#ffc900 43.33%,#f6fc00 46.94%,#4ccf00 48.33%,#02c000 49.17%,#00c618 49.44%,#00e183 50.56%,#01fdff 53.06%,#40a0ff 55.56%,#405dff 57.22%,#404eff 58.06%,#4060ff 60.56%,#409cff 63.06%,#02fcff 64.72%,#00edb6 65.83%,#00df7a 66.39%,#00c61a 68.06%,#00c000 68.89%,#12c400 70.83%,#00c103 73.61%,#00de76 78.06%,#00eaa9 82.5%,#00f1c7 84.17%,#04f9ff 86.11%,#40a0ff 89.44%,#4040fe 94.17%,#4040ff 97.78%,#404eff 99.17%,#406dff 100%)"></i><i style="inset:87px;background:conic-gradient(#4077ff 0%,#3ba7ff 1.11%,#13e3ff 2.5%,#01feff 3.89%,#00fbf0 4.44%,#00e48f 5.83%,#00c30c 6.94%,#1ac500 7.22%,#8edc00 7.78%,#f7fc00 8.33%,#ffe900 8.61%,#ff8500 9.72%,#f24c00 10.83%,#de2c00 14.17%,#e53700 16.11%,#ff6a00 19.44%,#ffa200 21.11%,#fff300 22.5%,#f8fd00 22.78%,#dcf400 23.06%,#1bc500 24.72%,#00c206 25%,#00e38d 26.11%,#00fcf4 27.22%,#03fbff 27.5%,#40a1ff 29.72%,#2ebaff 31.94%,#00fef9 33.89%,#00e081 35.83%,#00d450 36.39%,#03c100 38.33%,#0ec300 38.61%,#31ca00 38.89%,#bce900 39.72%,#fffe00 40.56%,#ffe800 41.11%,#ffc900 43.06%,#fff700 46.11%,#fcfe00 46.67%,#edf900 46.94%,#41cd00 48.33%,#0dc300 48.89%,#00c30c 49.17%,#00e38e 50.56%,#00efbe 51.67%,#00fffe 52.78%,#3fa1ff 55.28%,#4055ff 57.22%,#404eff 57.78%,#4060ff 60.28%,#409cff 62.78%,#03fbff 64.44%,#00eeb8 65.56%,#00db6c 66.39%,#00c40f 68.06%,#00c001 68.61%,#13c400 70.56%,#00c000 73.06%,#00de76 77.78%,#00ebae 82.5%,#00f1c7 83.89%,#03faff 85.83%,#40a0ff 89.17%,#4040fe 93.89%,#4042ff 97.78%,#404eff 98.89%,#4077ff 100%)"></i><i style="inset:88px;background:conic-gradient(#4081ff 0%,#3ba7ff 0.83%,#13e3ff 2.22%,#01feff 3.61%,#00fcf1 4.17%,#00f5d5 4.72%,#00e081 5.83%,#09c200 6.94%,#e0f500 8.06%,#fff500 8.33%,#ff8e00 9.44%,#f45000 10.56%,#de2d00 14.17%,#e53800 16.11%,#ff6c00 19.44%,#ff9b00 20.83%,#fffb00 22.5%,#ade400 23.33%,#05c100 24.72%,#00c81f 25%,#00e287 25.83%,#00fbef 26.94%,#01feff 27.22%,#40a0ff 29.44%,#2fb9ff 31.67%,#06f7ff 33.33%,#00f7e0 34.17%,#00d145 36.39%,#08c200 38.33%,#19c500 38.61%,#cfef00 39.72%,#fff700 40.56%,#ffc800 43.06%,#fbfe00 46.67%,#e1f500 46.94%,#50d000 48.06%,#00c000 48.89%,#00e38b 50.28%,#00fefb 52.5%,#07f5ff 52.78%,#3fa2ff 55%,#4056ff 56.94%,#404eff 57.5%,#405fff 60%,#409bff 62.5%,#03faff 64.17%,#00eeb9 65.28%,#00dc6e 66.11%,#00c81e 67.5%,#04c100 68.61%,#13c400 70.28%,#00c106 73.33%,#00de76 77.5%,#00ebae 82.22%,#00f3ce 83.89%,#03fbff 85.56%,#40a0ff 88.89%,#4040fe 93.61%,#4040ff 97.22%,#404dff 98.61%,#4081ff 100%)"></i><i style="inset:89px;background:conic-gradient(#408dff 0%,#3ca6ff 0.56%,#0eeaff 2.22%,#01fdff 3.33%,#00fcf2 3.89%,#00f6da 4.44%,#00e289 5.56%,#00c207 6.67%,#22c700 6.94%,#fcfe00 8.06%,#ffe700 8.33%,#ff8600 9.44%,#f24b00 10.56%,#de2d00 14.17%,#e43600 15.83%,#ff6500 19.17%,#ff9f00 20.83%,#fff300 22.22%,#f8fd00 22.5%,#10c300 24.44%,#00c514 24.72%,#00e081 25.56%,#00fefc 26.94%,#40a0ff 29.17%,#30b8ff 31.39%,#00ffff 33.33%,#00e38b 35.28%,#00d146 36.11%,#00c208 37.78%,#0cc200 38.33%,#30ca00 38.61%,#bbe900 39.44%,#fffd00 40.28%,#ffe600 40.83%,#ffc700 43.06%,#fffe00 46.39%,#f3fb00 46.67%,#27c800 48.33%,#00c410 48.89%,#00e184 50%,#00fdf8 52.22%,#05f7ff 52.5%,#3ea3ff 54.72%,#4057ff 56.67%,#404eff 57.22%,#405fff 59.72%,#409aff 62.22%,#04f8ff 63.89%,#00eeb9 65%,#00dc71 65.83%,#00c411 67.5%,#03c100 68.33%,#14c400 70.28%,#00c104 73.06%,#00de76 77.22%,#00ebad 81.94%,#00f3cd 83.61%,#02fbff 85.28%,#40a1ff 88.61%,#4040fe 93.33%,#4040ff 96.94%,#404dff 98.33%,#408dff 100%)"></i><i style="inset:90px;background:conic-gradient(#4098ff 0%,#0debff 1.94%,#01fdff 3.06%,#00faea 3.89%,#00f3cd 4.44%,#00de79 5.56%,#00c616 6.39%,#0dc300 6.67%,#43cd00 6.94%,#e5f700 7.78%,#fff300 8.06%,#ff9000 9.17%,#f45000 10.28%,#de2d00 13.89%,#e43700 15.83%,#ff6000 18.89%,#ff9700 20.56%,#fffb00 22.22%,#a8e300 23.06%,#00c209 24.44%,#00e596 25.56%,#00f8e3 26.39%,#05f7ff 26.94%,#3fa1ff 28.89%,#31b7ff 31.11%,#02fcff 33.06%,#00fae9 33.61%,#00df7e 35.28%,#00d34d 35.83%,#00c103 37.78%,#17c500 38.33%,#78d800 38.89%,#cfef00 39.44%,#f8fd00 40%,#fff600 40.28%,#ffe300 40.83%,#ffc700 42.78%,#fffe00 46.39%,#e7f700 46.67%,#53d100 47.78%,#00c103 48.61%,#00e491 50%,#03faff 52.22%,#3da4ff 54.44%,#4057ff 56.39%,#404eff 56.94%,#405fff 59.44%,#409aff 61.94%,#05f7ff 63.61%,#00fcf4 63.89%,#00e9a6 65%,#00dd74 65.56%,#00c513 67.22%,#02c000 68.06%,#15c400 70%,#00c103 72.78%,#00de77 76.94%,#00ebad 81.67%,#00f3cd 83.33%,#02fcff 85%,#3fa1ff 88.33%,#4040fe 93.06%,#4040ff 96.67%,#404dff 98.06%,#4098ff 100%)"></i><i style="inset:91px;background:conic-gradient(#3da4ff 0%,#0cecff 1.67%,#01feff 2.78%,#00faec 3.61%,#00f4d3 4.17%,#00e183 5.28%,#00c002 6.39%,#63d400 6.94%,#fffe00 7.78%,#ff9b00 8.89%,#ff6300 9.72%,#f14b00 10.28%,#de2d00 13.89%,#e53800 15.83%,#ff6100 18.89%,#ff9c00 20.56%,#fff200 21.94%,#f6fc00 22.22%,#03c100 24.17%,#00e490 25.28%,#00f7dd 26.11%,#03fbff 26.67%,#3ea2ff 28.61%,#3fa1ff 28.89%,#2dbbff 31.11%,#00fef9 33.06%,#00e184 35%,#00d040 35.83%,#02c000 37.78%,#0bc200 38.06%,#2fc900 38.33%,#bbe900 39.17%,#effa00 39.72%,#fffd00 40%,#ffe400 40.56%,#ffc600 42.78%,#f9fd00 46.39%,#45ce00 47.78%,#0ac200 48.33%,#00c514 48.61%,#00e38d 49.72%,#01fdff 51.94%,#3ca5ff 54.17%,#4058ff 56.11%,#404eff 56.67%,#405fff 59.17%,#4099ff 61.67%,#06f6ff 63.33%,#00fdf6 63.61%,#00eaa8 64.72%,#00de76 65.28%,#00c516 66.94%,#02c000 67.78%,#11c300 69.17%,#00c102 72.5%,#00de77 76.67%,#00ebad 81.39%,#00f3cd 83.06%,#01fdff 84.72%,#3fa1ff 88.06%,#4040fd 92.78%,#4040fe 96.39%,#404cff 97.78%,#3da4ff 100%)"></i><i style="inset:92px;background:conic-gradient(#35b0ff 0%,#09f2ff 1.67%,#00feff 2.5%,#00f8e3 3.61%,#00e38b 5%,#00c411 6.11%,#11c300 6.39%,#83da00 6.94%,#eaf800 7.5%,#fff100 7.78%,#ff9100 8.89%,#f55000 10%,#df2e00 13.89%,#e43600 15.56%,#ff6300 18.89%,#ff9400 20.28%,#fffb00 21.94%,#a2e100 22.78%,#0ec300 23.89%,#00c618 24.17%,#00e289 25%,#00ffff 26.39%,#3ea3ff 28.33%,#3fa1ff 28.61%,#2fb9ff 30.83%,#00fefc 32.78%,#00e289 34.72%,#00d144 35.56%,#00c103 37.5%,#16c400 38.06%,#cfef00 39.17%,#f9fd00 39.72%,#fff600 40%,#ffe100 40.56%,#ffc500 42.78%,#fffb00 46.11%,#edf900 46.39%,#56d100 47.5%,#18c500 48.06%,#00c206 48.33%,#00e186 49.44%,#00fffe 51.67%,#409cff 54.17%,#404eff 56.39%,#405eff 58.89%,#4098ff 61.39%,#3fa1ff 61.67%,#00fdf8 63.33%,#00df7a 65%,#00c30b 66.94%,#01c000 67.5%,#16c400 69.44%,#02c000 71.94%,#00c206 72.5%,#00d85f 75.28%,#00de77 76.39%,#00ebad 81.11%,#00f3cd 82.78%,#01feff 84.44%,#3fa1ff 87.78%,#4040fd 92.5%,#4040fe 96.11%,#404fff 97.78%,#35b0ff 100%)"></i><i style="inset:93px;background:conic-gradient(#2dbcff 0%,#08f3ff 1.39%,#00ffff 2.22%,#00f6da 3.61%,#00df7e 5%,#02c000 6.11%,#a2e100 6.94%,#fffc00 7.5%,#ff9c00 8.61%,#ff6400 9.44%,#f14a00 10%,#de2e00 13.61%,#e43700 15.56%,#fe5e00 18.61%,#ff9a00 20.28%,#fff200 21.67%,#f3fb00 21.94%,#1ac500 23.61%,#00c30c 23.89%,#00e8a0 25%,#00fae9 25.83%,#08f4ff 26.39%,#3da5ff 28.06%,#3fa1ff 28.33%,#30b8ff 30.56%,#00ffff 32.5%,#00e38e 34.44%,#00cf3a 35.56%,#01c000 37.5%,#09c200 37.78%,#2dc900 38.06%,#8fdd00 38.61%,#ddf400 39.17%,#fffc00 39.72%,#ffe200 40.28%,#ffc500 42.78%,#ffff00 46.11%,#69d500 47.22%,#08c200 48.06%,#00e594 49.44%,#00fefb 51.39%,#07f5ff 51.67%,#409dff 53.89%,#404dff 56.11%,#405eff 58.61%,#4098ff 61.11%,#409fff 61.39%,#08f3ff 62.78%,#00fef9 63.06%,#00db6b 65%,#00c30b 66.67%,#09c200 67.78%,#16c400 69.44%,#00c104 72.22%,#00d966 75.28%,#00e081 76.67%,#00ebad 80.83%,#00f3cd 82.5%,#00ffff 84.17%,#3fa2ff 87.5%,#4040fd 92.22%,#4040fe 95.83%,#404eff 97.5%,#3ea2ff 99.44%,#2dbcff 100%)"></i><i style="inset:94px;background:conic-gradient(#26c6ff 0%,#07f4ff 1.11%,#00fffe 1.94%,#00f6dc 3.33%,#00e186 4.72%,#00c30c 5.83%,#19c500 6.11%,#beea00 6.94%,#effa00 7.22%,#ffef00 7.5%,#ff9300 8.61%,#f55000 9.72%,#df2e00 13.61%,#e33500 15.28%,#ff5f00 18.61%,#ff9000 20%,#fffd00 21.67%,#9adf00 22.5%,#00c000 23.61%,#00e69a 24.72%,#00f8e4 25.56%,#05f7ff 26.11%,#3fa1ff 28.06%,#31b7ff 30.28%,#02fcff 32.22%,#00faea 32.78%,#00e081 34.44%,#00cf3b 35.28%,#00c103 37.22%,#14c400 37.78%,#cfef00 38.89%,#fbfe00 39.44%,#fff500 39.72%,#ffde00 40.28%,#ffc400 42.5%,#fff800 45.83%,#f3fb00 46.11%,#16c400 47.78%,#00c20a 48.06%,#00e48f 49.17%,#00fdf7 51.11%,#05f8ff 51.39%,#409fff 53.61%,#404dff 55.83%,#405eff 58.33%,#409dff 61.11%,#00fefb 62.78%,#00db6e 64.72%,#00c30d 66.39%,#05c100 67.22%,#17c500 69.17%,#00c103 71.94%,#00d966 75%,#00e081 76.39%,#00ebad 80.56%,#00f3cd 82.22%,#00ffff 83.89%,#3fa2ff 87.22%,#4043ff 91.67%,#4040fe 95.56%,#404eff 97.22%,#3fa1ff 99.17%,#26c6ff 100%)"></i><i style="inset:95px;background:conic-gradient(#1fd1ff 0%,#06f6ff 0.83%,#01fdff 1.39%,#00f5d4 3.33%,#00dd76 4.72%,#06c100 5.83%,#d9f300 6.94%,#fffa00 7.22%,#ff9d00 8.33%,#ff6500 9.17%,#f14a00 9.72%,#df2e00 13.33%,#e33500 15.28%,#fc5b00 18.33%,#ff8900 19.72%,#fff300 21.39%,#eefa00 21.67%,#0cc200 23.33%,#00c71d 23.61%,#00e593 24.44%,#00f7de 25.28%,#03fbff 25.83%,#3fa1ff 27.78%,#31b6ff 30%,#00fef9 32.22%,#00e286 34.17%,#00d041 35%,#00c000 37.22%,#08c200 37.5%,#2cc900 37.78%,#8ddc00 38.33%,#def400 38.89%,#fffb00 39.44%,#ffdb00 40.28%,#ffc300 42.5%,#ffe500 44.72%,#fffa00 45.83%,#05c100 47.78%,#00c71d 48.06%,#00e186 48.89%,#00e79b 49.17%,#03faff 51.11%,#40a0ff 53.33%,#404dff 55.56%,#405eff 58.06%,#409dff 60.83%,#00fefd 62.5%,#00dc70 64.44%,#00c40f 66.11%,#04c100 66.94%,#18c500 68.89%,#00c002 71.67%,#00da66 74.72%,#00e081 76.11%,#00ebad 80.28%,#00f4d4 82.22%,#00fffe 83.61%,#3fa2ff 86.94%,#4043ff 91.39%,#4040fe 95.28%,#404dff 96.94%,#40a0ff 98.89%,#1fd1ff 100%)"></i><i style="inset:96px;background:conic-gradient(#17ddff 0%,#06f5ff 0.56%,#01feff 1.11%,#00f5d6 3.06%,#00e081 4.44%,#00c208 5.56%,#21c700 5.83%,#f4fc00 6.94%,#ffed00 7.22%,#ff9400 8.33%,#f55000 9.44%,#df2e00 13.33%,#e23300 15%,#fd5d00 18.33%,#ff8e00 19.72%,#feff00 21.39%,#18c500 23.06%,#00c411 23.33%,#00e38c 24.17%,#00ffff 25.56%,#40a1ff 27.5%,#2ebaff 30%,#05f7ff 31.67%,#00f8e2 32.5%,#00e38b 33.89%,#00cd35 35%,#03c100 37.22%,#13c400 37.5%,#ceef00 38.61%,#fcfe00 39.17%,#fff400 39.44%,#ffdc00 40%,#ffc200 42.5%,#f9fd00 45.83%,#37cb00 47.22%,#00c40e 47.78%,#00e698 48.89%,#01fdff 50.83%,#3fa1ff 53.06%,#404dff 55.28%,#4062ff 58.06%,#409cff 60.56%,#00fffe 62.22%,#00dd73 64.17%,#00c412 65.83%,#00c002 66.39%,#0bc200 67.22%,#18c500 68.61%,#00c001 71.39%,#00da67 74.44%,#00e081 75.83%,#00ecb2 80.28%,#00fefd 83.33%,#3ea2ff 86.67%,#4042ff 91.11%,#4040fe 95%,#4055ff 96.94%,#409fff 98.61%,#17ddff 100%)"></i><i style="inset:97px;background:conic-gradient(#0fe8ff 0%,#00ffff 0.83%,#00f3cd 3.06%,#00e288 4.17%,#09c200 5.56%,#ade400 6.39%,#def400 6.67%,#fff800 6.94%,#ff9f00 8.06%,#ff6500 8.89%,#f14a00 9.44%,#df2f00 13.33%,#e33400 15%,#fe5e00 18.33%,#ff8500 19.44%,#fff500 21.11%,#e9f800 21.39%,#00c105 23.06%,#00e185 23.89%,#00fefb 25.28%,#40a0ff 27.22%,#30b8ff 29.72%,#07f5ff 31.39%,#00ffff 31.67%,#00f9e6 32.22%,#00e07f 33.89%,#00ce38 34.72%,#06c100 37.22%,#e0f500 38.61%,#fffa00 39.17%,#ffd900 40%,#ffc200 42.22%,#fff600 45.56%,#e9f800 45.83%,#02c000 47.5%,#00c923 47.78%,#00e490 48.61%,#00fffe 50.56%,#3fa2ff 52.78%,#404dff 55%,#4062ff 57.78%,#409cff 60.28%,#01feff 61.94%,#00dd75 63.89%,#00c207 65.83%,#18c500 68.33%,#03c100 70.83%,#00c105 71.39%,#00da67 74.17%,#00e082 75.56%,#00ecb1 80%,#00fefc 83.06%,#3ea3ff 86.39%,#4042ff 90.83%,#4040ff 95%,#4054ff 96.67%,#409eff 98.33%,#0fe8ff 100%)"></i><i style="inset:98px;background:conic-gradient(#07f4ff 0%,#00fffd 0.56%,#00f4d1 2.78%,#00df7a 4.17%,#00c104 5.28%,#28c800 5.56%,#f9fd00 6.67%,#ffec00 6.94%,#ff9600 8.06%,#f55000 9.17%,#df2f00 13.06%,#e33500 15%,#fb5a00 18.06%,#ff8c00 19.44%,#ffeb00 20.83%,#f9fd00 21.11%,#08c200 22.78%,#00c924 23.06%,#00e79e 23.89%,#00f8e3 24.72%,#06f6ff 25.28%,#40a0ff 26.94%,#31b6ff 29.44%,#02fdff 31.39%,#00faea 31.94%,#00e184 33.61%,#00cc30 34.72%,#02c000 36.94%,#11c300 37.22%,#ceef00 38.33%,#feff00 38.89%,#fff300 39.17%,#ffd900 39.72%,#ffc100 42.22%,#fff100 45.28%,#ffff00 45.56%,#12c400 47.22%,#00c513 47.5%,#00e186 48.33%,#00e79f 48.61%,#00fefa 50.28%,#07f5ff 50.56%,#3ea3ff 52.5%,#404eff 54.72%,#4061ff 57.5%,#409bff 60%,#02fcff 61.67%,#00de79 63.61%,#00c207 65.56%,#10c300 67.22%,#19c500 68.33%,#00c103 71.11%,#00db6d 74.17%,#00ecb1 79.72%,#00fefb 82.78%,#3ea3ff 86.11%,#4042ff 90.56%,#4040ff 94.72%,#4052ff 96.39%,#409dff 98.06%,#07f4ff 100%)"></i><i style="inset:99px;background:conic-gradient(#00ffff 0%,#00f4d3 2.5%,#00e183 3.89%,#00c411 5%,#10c300 5.28%,#e3f600 6.39%,#fff600 6.67%,#ffe000 6.94%,#ff6600 8.61%,#f14a00 9.17%,#e02f00 13.33%,#e23300 14.72%,#fc5c00 18.06%,#ff8200 19.17%,#fff900 20.83%,#bde900 21.39%,#15c400 22.5%,#00c617 22.78%,#00e697 23.61%,#00f7de 24.44%,#03faff 25%,#40a0ff 26.67%,#32b5ff 29.17%,#03faff 31.11%,#00f7de 31.94%,#00e289 33.33%,#00cc2f 34.44%,#04c100 36.94%,#e2f500 38.33%,#fff900 38.89%,#ffd600 39.72%,#ffc000 42.22%,#fff200 45.28%,#eefa00 45.56%,#00c102 47.22%,#00e69a 48.33%,#05f8ff 50.28%,#3da4ff 52.22%,#404eff 54.44%,#4061ff 57.22%,#409aff 59.72%,#03fbff 61.39%,#00ecb0 62.5%,#00c209 65.28%,#12c400 67.22%,#1ac500 68.06%,#00c001 70.83%,#00db6d 73.89%,#00ecb1 79.44%,#00fefa 82.5%,#3ea3ff 85.83%,#4042ff 90.28%,#4040ff 94.44%,#4051ff 96.11%,#409bff 97.78%,#00ffff 100%)"></i><i style="inset:100px;background:conic-gradient(#00fefa 0%,#00f2ca 2.5%,#00dd73 3.89%,#00c001 5%,#feff00 6.39%,#ffea00 6.67%,#fe5e00 8.61%,#ef4800 9.17%,#df2f00 13.06%,#e23400 14.72%,#fd5e00 18.06%,#ff7a00 18.89%,#ffee00 20.56%,#f3fb00 20.83%,#22c700 22.22%,#00c30a 22.5%,#00e48f 23.33%,#01feff 24.72%,#40a0ff 26.39%,#32b4ff 28.89%,#05f8ff 30.83%,#00f8e3 31.67%,#00df7b 33.33%,#00cd35 34.17%,#01c000 36.67%,#10c300 36.94%,#cdef00 38.06%,#ffff00 38.61%,#ffd900 39.44%,#ffc000 41.94%,#ffee00 45%,#fffb00 45.28%,#0fc300 46.94%,#00c619 47.22%,#00e490 48.06%,#03fbff 50%,#409bff 52.22%,#4058ff 53.89%,#404eff 54.44%,#4060ff 56.94%,#409aff 59.44%,#3ea2ff 59.72%,#04f9ff 61.11%,#00c30b 65%,#01c000 65.56%,#1bc500 67.78%,#00c001 70.56%,#00db6e 73.61%,#00e594 76.11%,#00ecb1 79.17%,#00fdf9 82.22%,#3ea3ff 85.56%,#4042ff 90%,#4040ff 94.17%,#404fff 95.83%,#409aff 97.5%,#00ffff 99.72%,#00fefa 100%)"></i><i style="inset:101px;background:conic-gradient(#00fdf5 0%,#00f3ce 2.22%,#00df7e 3.61%,#00c30e 4.72%,#18c500 5%,#e8f800 6.11%,#fff400 6.39%,#ff6700 8.33%,#f14a00 8.89%,#df2f00 12.78%,#e13200 14.44%,#ff6000 18.06%,#ff8000 18.89%,#fffc00 20.56%,#b4e600 21.11%,#03c100 22.22%,#00cb2c 22.5%,#00e288 23.06%,#00fefc 24.44%,#3fa1ff 26.11%,#2fb9ff 28.89%,#00ffff 30.83%,#00e081 33.06%,#00cb2a 34.17%,#03c100 36.67%,#e2f600 38.06%,#fff800 38.61%,#ffd400 39.44%,#ffbf00 41.94%,#ffee00 45%,#f4fb00 45.28%,#00c207 46.94%,#00e185 47.78%,#00e8a2 48.06%,#01fdff 49.72%,#409cff 51.94%,#4059ff 53.61%,#404eff 54.17%,#4060ff 56.67%,#4099ff 59.17%,#40a0ff 59.44%,#05f8ff 60.83%,#00e8a0 62.22%,#00c30e 64.72%,#01c000 65.28%,#1ac500 67.5%,#00c000 70.28%,#00dc6e 73.33%,#00e697 76.11%,#00ecb0 78.89%,#02fcff 82.22%,#409dff 85.56%,#4042ff 89.72%,#4040ff 93.89%,#404dff 95.56%,#4099ff 97.22%,#01feff 99.44%,#00fdf5 100%)"></i><i style="inset:102px;background:conic-gradient(#00fbf0 0%,#00f0c3 2.22%,#00e185 3.33%,#02c000 4.72%,#a3e100 5.56%,#fffd00 6.11%,#f55100 8.61%,#e03000 11.67%,#e23300 14.44%,#f34e00 17.22%,#ff7700 18.61%,#fff100 20.28%,#ebf900 20.56%,#11c300 21.94%,#00c81f 22.22%,#00e080 22.78%,#00e8a0 23.06%,#00fdf7 24.17%,#07f5ff 24.44%,#3ea3ff 25.83%,#3fa1ff 26.11%,#31b6ff 28.61%,#01fdff 30.56%,#00f6db 31.39%,#00e286 32.78%,#00cb2c 33.89%,#00c001 36.39%,#0ec300 36.67%,#cdef00 37.78%,#fffe00 38.33%,#ffd100 39.44%,#ffbe00 41.94%,#fff700 45%,#e3f600 45.28%,#0bc200 46.67%,#00c820 46.94%,#00e69a 47.78%,#00fffd 49.44%,#08f2ff 49.72%,#409eff 51.67%,#4050ff 53.61%,#404eff 53.89%,#4060ff 56.39%,#409fff 59.17%,#06f6ff 60.56%,#00fcf4 60.83%,#00e8a0 61.94%,#00c410 64.44%,#01c000 65%,#1bc500 67.5%,#00c104 70.28%,#00dc6f 73.06%,#00e698 75.83%,#00ecb0 78.61%,#01fdff 81.94%,#409eff 85.28%,#4042ff 89.44%,#4040ff 93.61%,#404dff 95.28%,#3da5ff 97.22%,#01feff 99.17%,#00fbf0 100%)"></i><i style="inset:103px;background:conic-gradient(#00faec 0%,#00f1c7 1.94%,#00de77 3.33%,#00c30b 4.44%,#1fc600 4.72%,#edf900 5.83%,#fff300 6.11%,#ff6800 8.06%,#f14a00 8.61%,#e03000 11.39%,#e03000 12.78%,#e23300 14.44%,#f14a00 16.94%,#fd5d00 17.78%,#ff7f00 18.61%,#fcfe00 20.28%,#1ec600 21.67%,#00c411 21.94%,#00e79b 22.78%,#04f9ff 24.17%,#3da4ff 25.56%,#3fa1ff 25.83%,#32b4ff 28.33%,#03faff 30.28%,#00f7df 31.11%,#00e38b 32.5%,#00c925 33.89%,#01c000 36.39%,#e2f500 37.78%,#fff700 38.33%,#ffd100 39.17%,#ffbe00 41.94%,#ffeb00 44.72%,#fafd00 45%,#1fc600 46.39%,#00c30d 46.67%,#00e48f 47.5%,#00eaa9 47.78%,#00fefa 49.17%,#07f5ff 49.44%,#409fff 51.39%,#404eff 53.61%,#4060ff 56.11%,#409eff 58.89%,#07f5ff 60.28%,#00fdf6 60.56%,#00e8a1 61.67%,#00c103 64.44%,#01c000 64.72%,#1cc600 67.22%,#00c001 70%,#00dc6f 72.78%,#00e698 75.56%,#00ecb1 78.33%,#01feff 81.67%,#409eff 85%,#4041ff 89.17%,#4040ff 93.33%,#404cff 95%,#3da4ff 96.94%,#01fdff 98.89%,#00faec 100%)"></i><i style="inset:104px;background:conic-gradient(#00f9e8 0%,#00f2cb 1.67%,#00e081 3.06%,#07c100 4.44%,#a8e300 5.28%,#fffc00 5.83%,#fe5f00 8.06%,#ef4700 8.61%,#e03000 11.39%,#e13100 14.17%,#f14b00 16.94%,#ff7400 18.33%,#fff600 20%,#b9e800 20.56%,#00c103 21.67%,#00e594 22.5%,#02fcff 23.89%,#3ca6ff 25.28%,#3fa1ff 25.56%,#33b4ff 28.06%,#05f8ff 30%,#00f8e3 30.83%,#00e490 32.22%,#00c924 33.61%,#00c002 36.11%,#0dc300 36.39%,#ccee00 37.5%,#effa00 37.78%,#fffd00 38.06%,#ffcf00 39.17%,#ffbd00 41.67%,#fff200 44.72%,#e8f700 45%,#07c100 46.39%,#00ca27 46.67%,#00e184 47.22%,#00e9a5 47.5%,#05f8ff 49.17%,#40a0ff 51.11%,#404eff 53.33%,#4060ff 55.83%,#409dff 58.61%,#08f3ff 60%,#00fdf8 60.28%,#00e8a3 61.39%,#00c105 64.17%,#01c000 64.44%,#1dc600 66.94%,#00c000 69.72%,#00dd75 72.78%,#00ecb1 78.06%,#00ffff 81.39%,#409eff 84.72%,#4041ff 88.89%,#4040fe 93.06%,#4055ff 95%,#3ea3ff 96.67%,#02fcff 98.61%,#00f9e8 100%)"></i><i style="inset:105px;background:conic-gradient(#00f8e4 0%,#00f3cc 1.39%,#00e287 2.78%,#00c208 4.17%,#26c800 4.44%,#f2fb00 5.56%,#fff100 5.83%,#ff6800 7.78%,#f14a00 8.33%,#e03000 11.39%,#e03000 13.89%,#f34d00 16.94%,#ff6c00 18.06%,#ffea00 19.72%,#f4fb00 20%,#0bc200 21.39%,#00ca28 21.67%,#00e38b 22.22%,#00fffd 23.61%,#3ba8ff 25%,#40a1ff 25.28%,#33b3ff 27.78%,#06f6ff 29.72%,#00fffe 30%,#00f5d7 30.83%,#00e184 32.22%,#00ca29 33.33%,#00c001 36.11%,#25c700 36.39%,#e1f500 37.5%,#fafd00 37.78%,#fff600 38.06%,#ffd000 38.89%,#ffbc00 41.67%,#ffe800 44.44%,#fffe00 44.72%,#1bc500 46.11%,#00c513 46.39%,#00e69a 47.22%,#03fbff 48.89%,#3fa1ff 50.83%,#404eff 53.06%,#4060ff 55.56%,#409dff 58.33%,#09f1ff 59.72%,#00fefa 60%,#00e9a4 61.11%,#01c000 64.17%,#1dc600 66.67%,#01c000 69.44%,#00dd75 72.5%,#00edb5 78.06%,#00fffe 81.11%,#409eff 84.44%,#4041ff 88.61%,#4040fe 92.78%,#4053ff 94.72%,#3fa1ff 96.39%,#02fcff 98.33%,#00fbee 98.89%,#00f8e4 100%)"></i><i style="inset:106px;background:conic-gradient(#00f7e0 0%,#00f1c5 1.39%,#00e38c 2.5%,#00c513 3.89%,#0fc300 4.17%,#aee500 5%,#fffa00 5.56%,#fe5f00 7.78%,#ee4600 8.33%,#e03000 11.11%,#e03000 13.61%,#f04900 16.67%,#ff6600 17.78%,#ffb200 18.89%,#fffc00 19.72%,#ace400 20.28%,#18c500 21.11%,#00c71b 21.39%,#00e183 21.94%,#00e8a3 22.22%,#00fef9 23.33%,#40a1ff 25%,#30b8ff 27.78%,#01fdff 29.72%,#00f6dc 30.56%,#00e289 31.94%,#00c820 33.33%,#00c103 35.83%,#0cc200 36.11%,#cbee00 37.22%,#f0fa00 37.5%,#fffc00 37.78%,#ffcd00 38.89%,#ffbc00 41.67%,#ffee00 44.44%,#ecf900 44.72%,#02c000 46.11%,#00cc30 46.39%,#00e38d 46.94%,#00ebab 47.22%,#00feff 48.61%,#3ea3ff 50.56%,#404dff 52.78%,#4064ff 55.56%,#409cff 58.06%,#00fefd 59.72%,#00e595 61.11%,#01c000 63.89%,#1dc600 66.67%,#01c000 69.17%,#00dd75 72.22%,#00edb5 77.78%,#00fffd 80.83%,#409fff 84.17%,#4041ff 88.33%,#4040fe 92.5%,#4052ff 94.44%,#409fff 96.11%,#03faff 98.06%,#00fbed 98.61%,#00f7e0 100%)"></i><i style="inset:107px;background:conic-gradient(#00f7dd 0%,#00f2ca 1.11%,#00e183 2.5%,#00c104 3.89%,#f7fc00 5.28%,#fff000 5.56%,#ff6900 7.5%,#f14b00 8.06%,#e13100 10.83%,#e03000 13.61%,#ee4600 16.39%,#ff6200 17.5%,#ff8000 18.06%,#fff300 19.44%,#e5f700 19.72%,#25c700 20.83%,#00c30e 21.11%,#00de78 21.67%,#00e79e 21.94%,#00fdf6 23.06%,#07f4ff 23.33%,#40a0ff 24.72%,#31b6ff 27.5%,#03faff 29.44%,#00f8e1 30.28%,#00e48f 31.67%,#00c923 33.06%,#00c001 35.83%,#24c700 36.11%,#def400 37.22%,#f9fd00 37.5%,#ffcc00 38.89%,#ffbc00 41.39%,#ffe600 44.17%,#fffc00 44.44%,#aae300 45%,#16c400 45.83%,#00c71b 46.11%,#00e07f 46.67%,#00e9a4 46.94%,#00fefb 48.33%,#07f4ff 48.61%,#3da5ff 50.28%,#404dff 52.5%,#4064ff 55.28%,#409bff 57.78%,#00feff 59.44%,#00e697 60.83%,#00c000 63.61%,#1ec600 66.39%,#00c103 69.17%,#00dd74 71.94%,#00edb4 77.5%,#00fefc 80.56%,#409fff 83.89%,#4041ff 88.06%,#4040fe 92.22%,#4050ff 94.17%,#409dff 95.83%,#05f7ff 97.78%,#00fbed 98.33%,#00f7dd 100%)"></i><i style="inset:108px;background:conic-gradient(#00f6da 0%,#00f2cb 0.83%,#00e288 2.22%,#00c40e 3.61%,#18c500 3.89%,#e2f600 5%,#fff800 5.28%,#ff5f00 7.5%,#ee4600 8.06%,#e03000 10.83%,#e03000 13.61%,#f04900 16.39%,#ff7800 17.78%,#ffe900 19.17%,#f3fb00 19.44%,#00c001 20.83%,#00e699 21.67%,#00fcf2 22.78%,#05f7ff 23.06%,#40a0ff 24.44%,#33b4ff 27.22%,#00fefc 29.44%,#00e184 31.67%,#00c820 33.06%,#00c103 35.56%,#0cc200 35.83%,#c7ed00 36.94%,#effa00 37.22%,#fffe00 37.5%,#ffcd00 38.61%,#ffbc00 41.39%,#ffed00 44.17%,#eef900 44.44%,#00c105 45.83%,#00e596 46.67%,#00ecb0 46.94%,#05f8ff 48.33%,#409bff 50.28%,#404dff 52.22%,#4063ff 55%,#409bff 57.5%,#3ea3ff 57.78%,#02fcff 59.17%,#00e699 60.56%,#00c001 63.33%,#02c000 63.61%,#1ec600 66.11%,#00c001 68.89%,#00dd73 71.67%,#00edb3 77.22%,#00fefb 80.28%,#409fff 83.61%,#4041ff 87.78%,#4040fe 91.94%,#404fff 93.89%,#409aff 95.56%,#00fffd 97.78%,#00fbef 98.06%,#00f6da 100%)"></i><i style="inset:109px;background:conic-gradient(#00f5d6 0%,#00f1c5 0.83%,#00df7e 2.22%,#03c100 3.61%,#fbfe00 5%,#ffee00 5.28%,#ff6900 7.22%,#f24b00 7.78%,#e13100 10.56%,#e03000 13.33%,#ef4700 16.11%,#ff6400 17.22%,#ff9a00 18.06%,#fffe00 19.17%,#a6e200 19.72%,#0cc200 20.56%,#00ca29 20.83%,#00e490 21.39%,#03faff 22.78%,#40a0ff 24.17%,#33b3ff 26.94%,#00ffff 29.17%,#00e28a 31.39%,#00c821 32.78%,#00c001 35.56%,#dbf300 36.94%,#f7fc00 37.22%,#ffcc00 38.61%,#ffbb00 41.39%,#ffe600 43.89%,#fffb00 44.17%,#aae300 44.72%,#11c300 45.56%,#00c922 45.83%,#00e287 46.39%,#00eaaa 46.67%,#02fcff 48.06%,#409dff 50%,#404dff 51.94%,#4062ff 54.72%,#40a0ff 57.5%,#04f9ff 58.89%,#00e79c 60.28%,#00c104 63.06%,#02c000 63.33%,#1dc600 65.83%,#00c000 68.61%,#00dc71 71.39%,#00e69a 74.17%,#00ecb2 76.94%,#00fefa 80%,#40a0ff 83.33%,#4041ff 87.5%,#4040fe 91.67%,#404dff 93.61%,#3ca6ff 95.56%,#01feff 97.5%,#00faec 98.06%,#00f5d6 100%)"></i><i style="inset:110px;background:conic-gradient(#00f4d3 0%,#00f2ca 0.56%,#00e185 1.94%,#00c209 3.33%,#21c700 3.61%,#e7f700 4.72%,#fff600 5%,#ff6000 7.22%,#ef4700 7.78%,#e03000 10.83%,#e03000 13.33%,#f14a00 16.11%,#ff6b00 17.22%,#fff400 18.89%,#e2f500 19.17%,#1ac500 20.28%,#00c71c 20.56%,#00e288 21.11%,#01fdff 22.5%,#40a0ff 23.89%,#33b3ff 26.67%,#02fcff 28.89%,#00f7df 29.72%,#00e07f 31.39%,#00ca27 32.5%,#00c103 35.28%,#0cc200 35.56%,#edf900 36.94%,#ffff00 37.22%,#ffcf00 38.33%,#ffbc00 41.11%,#ffea00 43.89%,#effa00 44.17%,#27c800 45.28%,#00c30c 45.56%,#00e89f 46.39%,#00fefd 47.78%,#09f2ff 48.06%,#409fff 49.72%,#404dff 51.67%,#4062ff 54.44%,#409fff 57.22%,#06f7ff 58.61%,#00fcf4 58.89%,#00e8a0 60%,#01c000 63.06%,#1dc600 65.83%,#01c000 68.33%,#00de76 71.39%,#00ecb2 76.67%,#00fef9 79.72%,#40a0ff 83.06%,#4041ff 87.22%,#4040ff 91.67%,#404cff 93.33%,#3ea4ff 95.28%,#03fbff 97.22%,#00fbed 97.78%,#00f4d3 100%)"></i><i style="inset:111px;background:conic-gradient(#00f4d0 0%,#00e28a 1.67%,#00c513 3.06%,#0cc200 3.33%,#ffff00 4.72%,#ff6900 6.94%,#f24c00 7.5%,#e03000 10.56%,#e03100 13.33%,#ef4700 15.83%,#ff7500 17.22%,#ffea00 18.61%,#f0fa00 18.89%,#27c800 20%,#00c40e 20.28%,#00e07e 20.83%,#00e8a2 21.11%,#00fffe 22.22%,#0cedff 22.5%,#40a0ff 23.61%,#34b3ff 26.39%,#00fefa 28.89%,#00e185 31.11%,#00c820 32.5%,#00c001 35.28%,#24c700 35.56%,#d7f200 36.67%,#f5fc00 36.94%,#fffa00 37.22%,#ffcd00 38.33%,#ffbc00 41.11%,#ffe600 43.61%,#fff900 43.89%,#a9e300 44.44%,#0bc200 45.28%,#00cb2b 45.56%,#00e490 46.11%,#00ebae 46.39%,#00fdf8 47.5%,#06f6ff 47.78%,#3fa2ff 49.44%,#404dff 51.39%,#4061ff 54.17%,#409eff 56.94%,#07f4ff 58.33%,#00fdf7 58.61%,#00e9a3 59.72%,#01c000 62.78%,#1ec600 65.56%,#01c000 68.06%,#00dd75 71.11%,#00ecb2 76.39%,#00fdf8 79.44%,#40a1ff 82.78%,#4042ff 86.94%,#4040ff 91.39%,#404cff 93.06%,#3fa1ff 95%,#05f8ff 96.94%,#00fbed 97.5%,#00f4d0 100%)"></i><i style="inset:112px;background:conic-gradient(#00f3cd 0%,#00e080 1.67%,#00c105 3.06%,#ecf900 4.44%,#fff500 4.72%,#ff6000 6.94%,#ef4700 7.5%,#e13100 10.28%,#e03000 13.06%,#ee4600 15.56%,#ff6200 16.67%,#ff9800 17.5%,#ffff00 18.61%,#00c000 20%,#00dc72 20.56%,#00e79d 20.83%,#00fefa 21.94%,#0aefff 22.22%,#3fa1ff 23.33%,#3fa1ff 23.61%,#31b6ff 26.39%,#00fefd 28.61%,#00e28a 30.83%,#00c923 32.22%,#00c103 35%,#0cc200 35.28%,#eaf800 36.67%,#fdfe00 36.94%,#ffcc00 38.33%,#ffbb00 41.11%,#ffe800 43.61%,#f1fa00 43.89%,#21c700 45%,#00c514 45.28%,#00e081 45.83%,#00eaa7 46.11%,#03faff 47.5%,#3ea4ff 49.17%,#404dff 51.11%,#4061ff 53.89%,#409eff 56.67%,#00fefa 58.33%,#00e595 59.72%,#00c000 62.5%,#1ec600 65.28%,#00c002 68.06%,#00dd74 70.83%,#00ecb1 76.11%,#02fcff 79.44%,#3fa1ff 82.5%,#4042ff 86.67%,#4040ff 91.11%,#4055ff 93.06%,#409fff 94.72%,#00fefd 96.94%,#00fbef 97.22%,#00f3cd 100%)"></i><i style="inset:113px;background:conic-gradient(#00f2c9 0%,#00e186 1.39%,#00c40f 2.78%,#15c400 3.06%,#abe400 3.89%,#fffd00 4.44%,#ff6a00 6.67%,#f34d00 7.22%,#e03000 10.28%,#e03000 13.06%,#ef4700 15.56%,#ff7900 16.94%,#fff500 18.33%,#afe500 18.89%,#0dc300 19.72%,#00cb2b 20%,#00e596 20.56%,#00fdf7 21.67%,#09f2ff 21.94%,#3ea3ff 23.06%,#3fa1ff 23.33%,#32b4ff 26.11%,#00feff 28.33%,#00f7dd 29.17%,#00e080 30.83%,#00c820 32.22%,#00c001 35%,#d4f100 36.39%,#f3fb00 36.67%,#fffb00 36.94%,#ffcd00 38.06%,#ffbc00 40.83%,#ffe500 43.33%,#fff700 43.61%,#a8e300 44.17%,#04c100 45%,#00cd33 45.28%,#00e699 45.83%,#00ffff 47.22%,#3ca6ff 48.89%,#404dff 50.83%,#4061ff 53.61%,#409dff 56.39%,#00fffd 58.06%,#00e697 59.44%,#00c001 62.22%,#02c000 62.5%,#1dc600 65%,#00c000 67.78%,#00dd74 70.56%,#00edb5 76.11%,#01fdff 79.17%,#3fa1ff 82.22%,#4042ff 86.39%,#4040ff 90.83%,#4053ff 92.78%,#409cff 94.44%,#00feff 96.67%,#00faec 97.22%,#00f2c9 100%)"></i><i style="inset:114px;background:conic-gradient(#00f0c0 0%,#00df7a 1.39%,#00c000 2.78%,#f0fa00 4.17%,#fff300 4.44%,#ff6000 6.67%,#ef4700 7.22%,#e03000 10.28%,#e03000 12.78%,#f24c00 15.56%,#ff7100 16.67%,#ffeb00 18.06%,#edf900 18.33%,#1bc500 19.44%,#00c71d 19.72%,#00e38d 20.28%,#00fcf3 21.39%,#07f5ff 21.67%,#3da5ff 22.78%,#3fa1ff 23.06%,#33b3ff 25.83%,#02fcff 28.06%,#00f8e2 28.89%,#00e185 30.56%,#00c821 31.94%,#00c103 34.72%,#0dc300 35%,#e7f700 36.39%,#fbfe00 36.67%,#ffcc00 38.06%,#ffbc00 40.83%,#ffe700 43.33%,#f3fb00 43.61%,#1bc500 44.72%,#00c71c 45%,#00e28a 45.56%,#00ebac 45.83%,#00fefa 46.94%,#08f3ff 47.22%,#409bff 48.89%,#404dff 50.56%,#4061ff 53.33%,#409cff 56.11%,#01feff 57.78%,#00e699 59.17%,#00c104 61.94%,#02c000 62.22%,#1dc600 65%,#00c000 67.5%,#00dd72 70.28%,#00edb5 75.83%,#01feff 78.89%,#3fa2ff 81.94%,#4040fc 86.39%,#4040ff 90.56%,#404bff 92.22%,#409aff 94.17%,#02fcff 96.39%,#00fbed 96.94%,#00f8e2 98.33%,#00f0c0 100%)"></i><i style="inset:115px;background:conic-gradient(#00eeb7 0%,#00e182 1.11%,#00c30a 2.5%,#1ec600 2.78%,#b1e600 3.61%,#fffb00 4.17%,#ff6a00 6.39%,#ee4600 7.22%,#e03000 10%,#e03000 12.78%,#f04800 15.28%,#ff5f00 16.11%,#ff7e00 16.67%,#fdfe00 18.06%,#2ac800 19.17%,#00c40f 19.44%,#00e184 20%,#00e9a6 20.28%,#05f8ff 21.39%,#3ba7ff 22.5%,#3fa1ff 22.78%,#33b3ff 25.56%,#00fefb 28.06%,#00e38b 30.28%,#00ca26 31.67%,#00c001 34.72%,#d1f000 36.11%,#f2fb00 36.39%,#fffc00 36.67%,#ffcf00 37.78%,#ffbb00 40.83%,#ffe500 43.06%,#fff600 43.33%,#daf300 43.61%,#00c103 44.72%,#00de77 45.28%,#00e9a4 45.56%,#05f8ff 46.94%,#409dff 48.61%,#404dff 50.28%,#4061ff 53.06%,#409bff 55.83%,#03fbff 57.5%,#00e79c 58.89%,#01c000 61.94%,#1ec600 64.72%,#01c000 67.22%,#00de77 70.28%,#00edb4 75.56%,#00ffff 78.61%,#3fa2ff 81.67%,#4040fc 86.11%,#4040ff 90.28%,#404bff 91.94%,#3da5ff 94.17%,#04f9ff 96.11%,#00fbed 96.67%,#00f3cd 99.44%,#00eeb7 100%)"></i><i style="inset:116px;background:conic-gradient(#00ebaf 0%,#00dd74 1.11%,#09c200 2.5%,#f5fc00 3.89%,#fff200 4.17%,#ff6100 6.39%,#ef4700 6.94%,#e03000 10%,#e03000 12.5%,#ee4600 15%,#ff6600 16.11%,#ffa400 16.94%,#fff600 17.78%,#a9e300 18.33%,#00c000 19.17%,#00de78 19.72%,#00e8a1 20%,#02fbff 21.11%,#3aa9ff 22.22%,#40a1ff 22.5%,#33b3ff 25.28%,#00fffe 27.78%,#00e081 30.28%,#00c820 31.67%,#00c103 34.44%,#0dc300 34.72%,#bce900 35.83%,#e3f600 36.11%,#f9fd00 36.39%,#ffcd00 37.78%,#ffbc00 40.56%,#ffe700 43.06%,#f5fc00 43.33%,#15c400 44.44%,#00c925 44.72%,#00e593 45.28%,#00ecb2 45.56%,#02fdff 46.67%,#40a0ff 48.33%,#404dff 50%,#4060ff 52.78%,#409aff 55.56%,#3fa2ff 55.83%,#04f9ff 57.22%,#00e89f 58.61%,#00c000 61.67%,#1ec600 64.44%,#00c104 67.22%,#00dd76 70%,#00ecb3 75.28%,#00fffe 78.33%,#3ea2ff 81.39%,#4040fc 85.83%,#4040ff 90%,#404fff 91.94%,#3ea3ff 93.89%,#00fefc 96.11%,#00fbef 96.39%,#00f2c9 99.44%,#00ebaf 100%)"></i><i style="inset:117px;background:conic-gradient(#00e9a6 0%,#00df7d 0.83%,#00c106 2.22%,#e2f500 3.61%,#fff900 3.89%,#ff6b00 6.11%,#f34e00 6.67%,#e03000 10%,#e03000 12.5%,#f04900 15%,#ff6d00 16.11%,#ffeb00 17.5%,#eaf800 17.78%,#0ec300 18.89%,#00cb2d 19.17%,#00e79c 19.72%,#00ffff 20.83%,#39abff 21.94%,#40a0ff 22.22%,#31b6ff 25.28%,#01feff 27.5%,#00f7e0 28.33%,#00e186 30%,#00c822 31.39%,#00c001 34.44%,#ceef00 35.83%,#f0fa00 36.11%,#fffe00 36.39%,#ffcc00 37.78%,#ffbc00 40.56%,#ffe400 42.78%,#fff400 43.06%,#dbf300 43.33%,#2ec900 44.17%,#00c30b 44.44%,#00e182 45%,#00eaaa 45.28%,#00fefc 46.39%,#0af0ff 46.67%,#3fa2ff 48.06%,#404eff 49.72%,#4064ff 52.78%,#40a0ff 55.56%,#06f6ff 56.94%,#00fdf5 57.22%,#00e9a3 58.33%,#00c000 61.39%,#1dc600 64.17%,#00c001 66.94%,#00dd75 69.72%,#00ecb2 75%,#00fffd 78.06%,#05f7ff 78.33%,#3ea3ff 81.11%,#4040fc 85.56%,#4040ff 89.72%,#404eff 91.67%,#40a1ff 93.61%,#00ffff 95.83%,#00faec 96.39%,#00f2cb 99.17%,#00e9a6 100%)"></i><i style="inset:118px;background:conic-gradient(#00e8a2 0%,#00dd75 0.83%,#04c100 2.22%,#edf900 3.61%,#fff500 3.89%,#ff6600 6.11%,#f14b00 6.67%,#e03000 9.72%,#e03000 12.22%,#ee4600 14.72%,#ff6500 15.83%,#ffa300 16.67%,#fff700 17.5%,#a6e200 18.06%,#33ca00 18.61%,#00c207 18.89%,#00e081 19.44%,#00e9a5 19.72%,#00fcf1 20.56%,#06f6ff 20.83%,#3fa2ff 21.94%,#3fa1ff 22.22%,#33b3ff 25%,#00fefd 27.5%,#00e081 30%,#00c821 31.39%,#02c000 34.44%,#d7f200 35.83%,#f4fb00 36.11%,#fffb00 36.39%,#ffcf00 37.5%,#ffbc00 40.56%,#ffe500 42.78%,#fffc00 43.06%,#97de00 43.61%,#1ec600 44.17%,#00c71c 44.44%,#00e490 45%,#00ecb1 45.28%,#02fbff 46.39%,#409cff 48.06%,#404dff 49.72%,#4061ff 52.5%,#409cff 55.28%,#01fdff 56.94%,#00e69a 58.33%,#01c000 61.39%,#1ec600 64.17%,#01c000 66.67%,#00de77 69.72%,#00edb5 75%,#02fcff 78.06%,#40a0ff 81.11%,#4040fe 85.28%,#4040ff 89.72%,#404cff 91.39%,#3ca6ff 93.61%,#00fefa 95.83%,#00fbee 96.11%,#00f2c9 99.17%,#00e8a2 100%)"></i><i style="inset:119px;background:conic-gradient(#00e8a2 0%,#00dd75 0.83%,#04c100 2.22%,#edf900 3.61%,#fff500 3.89%,#ff6600 6.11%,#f14b00 6.67%,#e03000 9.72%,#e03000 12.22%,#ee4600 14.72%,#ff6500 15.83%,#ffa300 16.67%,#fff700 17.5%,#a6e200 18.06%,#33ca00 18.61%,#00c207 18.89%,#00e081 19.44%,#00e9a5 19.72%,#00fcf1 20.56%,#06f6ff 20.83%,#3fa2ff 21.94%,#3fa1ff 22.22%,#33b3ff 25%,#00fefd 27.5%,#00e081 30%,#00c821 31.39%,#02c000 34.44%,#d7f200 35.83%,#f4fb00 36.11%,#fffb00 36.39%,#ffcf00 37.5%,#ffbc00 40.56%,#ffe500 42.78%,#fffc00 43.06%,#97de00 43.61%,#1ec600 44.17%,#00c71c 44.44%,#00e490 45%,#00ecb1 45.28%,#02fbff 46.39%,#409cff 48.06%,#404dff 49.72%,#4061ff 52.5%,#409cff 55.28%,#01fdff 56.94%,#00e69a 58.33%,#01c000 61.39%,#1ec600 64.17%,#01c000 66.67%,#00de77 69.72%,#00edb5 75%,#02fcff 78.06%,#40a0ff 81.11%,#4040fe 85.28%,#4040ff 89.72%,#404cff 91.39%,#3ca6ff 93.61%,#00fefa 95.83%,#00fbee 96.11%,#00f2c9 99.17%,#00e8a2 100%)"></i><i style="inset:120px;background:conic-gradient(#00e8a2 0%,#00dd75 0.83%,#04c100 2.22%,#edf900 3.61%,#fff500 3.89%,#ff6600 6.11%,#f14b00 6.67%,#e03000 9.72%,#e03000 12.22%,#ee4600 14.72%,#ff6500 15.83%,#ffa300 16.67%,#fff700 17.5%,#a6e200 18.06%,#33ca00 18.61%,#00c207 18.89%,#00e081 19.44%,#00e9a5 19.72%,#00fcf1 20.56%,#06f6ff 20.83%,#3fa2ff 21.94%,#3fa1ff 22.22%,#33b3ff 25%,#00fefd 27.5%,#00e081 30%,#00c821 31.39%,#02c000 34.44%,#d7f200 35.83%,#f4fb00 36.11%,#fffb00 36.39%,#ffcf00 37.5%,#ffbc00 40.56%,#ffe500 42.78%,#fffc00 43.06%,#97de00 43.61%,#1ec600 44.17%,#00c71c 44.44%,#00e490 45%,#00ecb1 45.28%,#02fbff 46.39%,#409cff 48.06%,#404dff 49.72%,#4061ff 52.5%,#409cff 55.28%,#01fdff 56.94%,#00e69a 58.33%,#01c000 61.39%,#1ec600 64.17%,#01c000 66.67%,#00de77 69.72%,#00edb5 75%,#02fcff 78.06%,#40a0ff 81.11%,#4040fe 85.28%,#4040ff 89.72%,#404cff 91.39%,#3ca6ff 93.61%,#00fefa 95.83%,#00fbee 96.11%,#00f2c9 99.17%,#00e8a2 100%)"></i><i style="inset:121px;background:conic-gradient(#00e8a2 0%,#00dd75 0.83%,#04c100 2.22%,#edf900 3.61%,#fff500 3.89%,#ff6600 6.11%,#f14b00 6.67%,#e03000 9.72%,#e03000 12.22%,#ee4600 14.72%,#ff6500 15.83%,#ffa300 16.67%,#fff700 17.5%,#a6e200 18.06%,#33ca00 18.61%,#00c207 18.89%,#00e081 19.44%,#00e9a5 19.72%,#00fcf1 20.56%,#06f6ff 20.83%,#3fa2ff 21.94%,#3fa1ff 22.22%,#33b3ff 25%,#00fefd 27.5%,#00e081 30%,#00c821 31.39%,#02c000 34.44%,#d7f200 35.83%,#f4fb00 36.11%,#fffb00 36.39%,#ffcf00 37.5%,#ffbc00 40.56%,#ffe500 42.78%,#fffc00 43.06%,#97de00 43.61%,#1ec600 44.17%,#00c71c 44.44%,#00e490 45%,#00ecb1 45.28%,#02fbff 46.39%,#409cff 48.06%,#404dff 49.72%,#4061ff 52.5%,#409cff 55.28%,#01fdff 56.94%,#00e69a 58.33%,#01c000 61.39%,#1ec600 64.17%,#01c000 66.67%,#00de77 69.72%,#00edb5 75%,#02fcff 78.06%,#40a0ff 81.11%,#4040fe 85.28%,#4040ff 89.72%,#404cff 91.39%,#3ca6ff 93.61%,#00fefa 95.83%,#00fbee 96.11%,#00f2c9 99.17%,#00e8a2 100%)"></i><i style="inset:122px;background:conic-gradient(#00e8a2 0%,#00dd75 0.83%,#04c100 2.22%,#edf900 3.61%,#fff500 3.89%,#ff6600 6.11%,#f14b00 6.67%,#e03000 9.72%,#e03000 12.22%,#ee4600 14.72%,#ff6500 15.83%,#ffa300 16.67%,#fff700 17.5%,#a6e200 18.06%,#33ca00 18.61%,#00c207 18.89%,#00e081 19.44%,#00e9a5 19.72%,#00fcf1 20.56%,#06f6ff 20.83%,#3fa2ff 21.94%,#3fa1ff 22.22%,#33b3ff 25%,#00fefd 27.5%,#00e081 30%,#00c821 31.39%,#02c000 34.44%,#d7f200 35.83%,#f4fb00 36.11%,#fffb00 36.39%,#ffcf00 37.5%,#ffbc00 40.56%,#ffe500 42.78%,#fffc00 43.06%,#97de00 43.61%,#1ec600 44.17%,#00c71c 44.44%,#00e490 45%,#00ecb1 45.28%,#02fbff 46.39%,#409cff 48.06%,#404dff 49.72%,#4061ff 52.5%,#409cff 55.28%,#01fdff 56.94%,#00e69a 58.33%,#01c000 61.39%,#1ec600 64.17%,#01c000 66.67%,#00de77 69.72%,#00edb5 75%,#02fcff 78.06%,#40a0ff 81.11%,#4040fe 85.28%,#4040ff 89.72%,#404cff 91.39%,#3ca6ff 93.61%,#00fefa 95.83%,#00fbee 96.11%,#00f2c9 99.17%,#00e8a2 100%)"></i><i style="inset:123px;background:conic-gradient(#00e8a2 0%,#00dd75 0.83%,#04c100 2.22%,#edf900 3.61%,#fff500 3.89%,#ff6600 6.11%,#f14b00 6.67%,#e03000 9.72%,#e03000 12.22%,#ee4600 14.72%,#ff6500 15.83%,#ffa300 16.67%,#fff700 17.5%,#a6e200 18.06%,#33ca00 18.61%,#00c207 18.89%,#00e081 19.44%,#00e9a5 19.72%,#00fcf1 20.56%,#06f6ff 20.83%,#3fa2ff 21.94%,#3fa1ff 22.22%,#33b3ff 25%,#00fefd 27.5%,#00e081 30%,#00c821 31.39%,#02c000 34.44%,#d7f200 35.83%,#f4fb00 36.11%,#fffb00 36.39%,#ffcf00 37.5%,#ffbc00 40.56%,#ffe500 42.78%,#fffc00 43.06%,#97de00 43.61%,#1ec600 44.17%,#00c71c 44.44%,#00e490 45%,#00ecb1 45.28%,#02fbff 46.39%,#409cff 48.06%,#404dff 49.72%,#4061ff 52.5%,#409cff 55.28%,#01fdff 56.94%,#00e69a 58.33%,#01c000 61.39%,#1ec600 64.17%,#01c000 66.67%,#00de77 69.72%,#00edb5 75%,#02fcff 78.06%,#40a0ff 81.11%,#4040fe 85.28%,#4040ff 89.72%,#404cff 91.39%,#3ca6ff 93.61%,#00fefa 95.83%,#00fbee 96.11%,#00f2c9 99.17%,#00e8a2 100%)"></i><i style="inset:124px;background:conic-gradient(#00e8a2 0%,#00dd75 0.83%,#04c100 2.22%,#edf900 3.61%,#fff500 3.89%,#ff6600 6.11%,#f14b00 6.67%,#e03000 9.72%,#e03000 12.22%,#ee4600 14.72%,#ff6500 15.83%,#ffa300 16.67%,#fff700 17.5%,#a6e200 18.06%,#33ca00 18.61%,#00c207 18.89%,#00e081 19.44%,#00e9a5 19.72%,#00fcf1 20.56%,#06f6ff 20.83%,#3fa2ff 21.94%,#3fa1ff 22.22%,#33b3ff 25%,#00fefd 27.5%,#00e081 30%,#00c821 31.39%,#02c000 34.44%,#d7f200 35.83%,#f4fb00 36.11%,#fffb00 36.39%,#ffcf00 37.5%,#ffbc00 40.56%,#ffe500 42.78%,#fffc00 43.06%,#97de00 43.61%,#1ec600 44.17%,#00c71c 44.44%,#00e490 45%,#00ecb1 45.28%,#02fbff 46.39%,#409cff 48.06%,#404dff 49.72%,#4061ff 52.5%,#409cff 55.28%,#01fdff 56.94%,#00e69a 58.33%,#01c000 61.39%,#1ec600 64.17%,#01c000 66.67%,#00de77 69.72%,#00edb5 75%,#02fcff 78.06%,#40a0ff 81.11%,#4040fe 85.28%,#4040ff 89.72%,#404cff 91.39%,#3ca6ff 93.61%,#00fefa 95.83%,#00fbee 96.11%,#00f2c9 99.17%,#00e8a2 100%)"></i><i style="inset:125px;background:conic-gradient(#00e8a2 0%,#00dd75 0.83%,#04c100 2.22%,#edf900 3.61%,#fff500 3.89%,#ff6600 6.11%,#f14b00 6.67%,#e03000 9.72%,#e03000 12.22%,#ee4600 14.72%,#ff6500 15.83%,#ffa300 16.67%,#fff700 17.5%,#a6e200 18.06%,#33ca00 18.61%,#00c207 18.89%,#00e081 19.44%,#00e9a5 19.72%,#00fcf1 20.56%,#06f6ff 20.83%,#3fa2ff 21.94%,#3fa1ff 22.22%,#33b3ff 25%,#00fefd 27.5%,#00e081 30%,#00c821 31.39%,#02c000 34.44%,#d7f200 35.83%,#f4fb00 36.11%,#fffb00 36.39%,#ffcf00 37.5%,#ffbc00 40.56%,#ffe500 42.78%,#fffc00 43.06%,#97de00 43.61%,#1ec600 44.17%,#00c71c 44.44%,#00e490 45%,#00ecb1 45.28%,#02fbff 46.39%,#409cff 48.06%,#404dff 49.72%,#4061ff 52.5%,#409cff 55.28%,#01fdff 56.94%,#00e69a 58.33%,#01c000 61.39%,#1ec600 64.17%,#01c000 66.67%,#00de77 69.72%,#00edb5 75%,#02fcff 78.06%,#40a0ff 81.11%,#4040fe 85.28%,#4040ff 89.72%,#404cff 91.39%,#3ca6ff 93.61%,#00fefa 95.83%,#00fbee 96.11%,#00f2c9 99.17%,#00e8a2 100%)"></i></div></div></div>
<div class="disc" style="clip-path:polygon(358px 447.5px, 433px 317.6px, 495px 317.6px, 495px 577.4px, 433px 577.4px)"><div class="rc" style="left:233.5px;top:323.0px;width:249.0px;height:249.0px"><i style="inset:0px;background:conic-gradient(from 26.0deg,#e5f700 0%,#b9e800 0.4%,#96de00 0.89%,#79d800 2.07%,#00c105 2.96%,#00cf3b 3.36%,#00cc31 3.56%,#00c209 3.75%,#37cb00 3.95%,#43cd00 4.05%,#4bcf00 4.54%,#68d500 4.94%,#fffc00 6.02%,#ff9400 6.91%,#fd5d00 7.51%,#e93e00 8.3%,#e02f00 9.19%,#e03000 14.22%,#f44f00 24.3%,#df2e00 35.56%)"></i><i style="inset:1px;background:conic-gradient(from 26.0deg,#cbee00 0%,#83da00 0.69%,#6fd600 1.19%,#00c104 2.27%,#00e287 3.16%,#00e596 3.36%,#00e081 3.65%,#00c922 3.95%,#0ac200 4.05%,#2fc900 4.15%,#3dcc00 4.64%,#69d500 5.14%,#fffb00 6.12%,#ff9b00 6.91%,#ff6100 7.51%,#ea3f00 8.3%,#df2f00 9.28%,#e03100 14.32%,#f45000 24.3%,#df2e00 35.56%)"></i><i style="inset:1.99px;background:conic-gradient(from 26.0deg,#b2e600 0%,#77d800 0.49%,#59d200 0.89%,#21c700 1.09%,#00c001 1.28%,#00f5d5 3.36%,#00f3cd 3.56%,#00ebae 3.75%,#00de76 3.95%,#00c512 4.15%,#1fc600 4.25%,#33ca00 4.74%,#57d100 5.14%,#fff900 6.22%,#ff9700 7.01%,#fe5e00 7.6%,#e93e00 8.4%,#e03000 9.28%,#e13100 14.22%,#f55100 24.3%,#df2e00 35.56%)"></i><i style="inset:2.99px;background:conic-gradient(from 26.0deg,#9adf00 0%,#4acf00 0.69%,#00c000 0.89%,#00d041 1.09%,#00da67 1.28%,#04faff 3.26%,#02fcff 3.56%,#00f8e4 3.75%,#00e38b 4.05%,#00c71c 4.25%,#13c400 4.35%,#24c700 4.74%,#48ce00 5.14%,#7fd900 5.53%,#fafe00 6.22%,#fff500 6.32%,#ff9e00 7.01%,#ff6200 7.6%,#ea3f00 8.4%,#df2f00 9.38%,#e13100 14.32%,#f65100 24.3%,#df2e00 35.56%)"></i><i style="inset:3.98px;background:conic-gradient(from 26.0deg,#81da00 0%,#37cb00 0.59%,#04c100 0.69%,#00e07e 0.99%,#00e9a6 1.19%,#01fdff 2.57%,#1dd4ff 3.36%,#19daff 3.56%,#00fdf7 3.85%,#00e38e 4.15%,#00c513 4.35%,#0ac200 4.44%,#1fc600 4.84%,#46ce00 5.23%,#fffd00 6.32%,#ff9800 7.11%,#fe5e00 7.7%,#e93e00 8.49%,#e03000 9.38%,#e13100 14.22%,#f65200 24.3%,#df2f00 35.56%)"></i><i style="inset:4.98px;background:conic-gradient(from 26.0deg,#69d500 0%,#2bc900 0.49%,#00c40f 0.59%,#00df7b 0.79%,#00f3cf 1.09%,#00faec 1.28%,#03fbff 1.78%,#2dbdff 3.36%,#23cbff 3.65%,#00fefb 3.95%,#00e182 4.25%,#01c000 4.44%,#15c400 4.84%,#3bcc00 5.23%,#76d800 5.63%,#f7fd00 6.32%,#fff700 6.42%,#ff9d00 7.11%,#ff6100 7.7%,#ea3f00 8.49%,#e03000 9.38%,#e13200 14.22%,#f75300 24.3%,#df2f00 35.56%)"></i><i style="inset:5.98px;background:conic-gradient(from 26.0deg,#54d100 0%,#20c600 0.4%,#00c40f 0.49%,#00e287 0.69%,#00f3ce 0.89%,#00ffff 1.09%,#13e3ff 1.38%,#36afff 3.36%,#2ebbff 3.65%,#0af0ff 3.95%,#00fbef 4.05%,#00e69a 4.25%,#00c516 4.44%,#00c103 4.54%,#01c000 4.64%,#1dc600 5.04%,#4dcf00 5.43%,#fffd00 6.42%,#ff9600 7.21%,#fd5d00 7.8%,#e93d00 8.59%,#e03000 9.48%,#e13200 14.22%,#f75400 24.3%,#df2f00 35.56%)"></i><i style="inset:6.97px;background:conic-gradient(from 26.0deg,#41cd00 0%,#03c100 0.4%,#00e082 0.59%,#00ebad 0.69%,#00fcf4 0.89%,#09f2ff 0.99%,#1dd4ff 1.19%,#26c7ff 1.38%,#39aaff 3.46%,#2bbfff 3.75%,#00fefc 4.05%,#00e9a7 4.25%,#00dc71 4.35%,#00ca28 4.44%,#00c208 4.54%,#01c000 4.74%,#45ce00 5.43%,#fbfe00 6.42%,#fff400 6.52%,#ff9a00 7.21%,#fe5f00 7.8%,#e93e00 8.59%,#e03000 9.48%,#e13200 14.22%,#f85500 24.3%,#df2f00 35.56%)"></i><i style="inset:7.97px;background:conic-gradient(from 26.0deg,#31ca00 0%,#09c200 0.3%,#00c822 0.4%,#00da68 0.49%,#00f2c9 0.69%,#00fbef 0.79%,#09f2ff 0.89%,#23ccff 1.09%,#32b5ff 1.38%,#3aaaff 3.36%,#2cbeff 3.75%,#00fffe 4.05%,#00eaaa 4.25%,#00dd75 4.35%,#00cb2c 4.44%,#00c30b 4.54%,#03c100 4.84%,#4fd000 5.53%,#f6fc00 6.42%,#fff800 6.52%,#ff9d00 7.21%,#ff6100 7.8%,#ea3f00 8.59%,#e03000 9.48%,#e23200 14.22%,#f85500 24.3%,#df2f00 35.56%)"></i><i style="inset:8.96px;background:conic-gradient(from 26.0deg,#22c700 0%,#00c105 0.3%,#00cf3a 0.4%,#00e080 0.49%,#01feff 0.79%,#2bc0ff 1.09%,#38abff 1.48%,#36aeff 3.46%,#27c5ff 3.75%,#0decff 3.95%,#00fdf5 4.05%,#00f3cf 4.15%,#00db6c 4.35%,#00c924 4.44%,#00c30d 4.54%,#01c000 4.84%,#4ccf00 5.53%,#fffa00 6.52%,#ff9f00 7.21%,#ff6300 7.8%,#ea4000 8.59%,#e03000 9.58%,#e23300 14.22%,#f95600 24.3%,#df2f00 35.56%)"></i><i style="inset:9.96px;background:conic-gradient(from 26.0deg,#17c500 0%,#00c411 0.3%,#00e288 0.49%,#00f8e2 0.69%,#05f8ff 0.79%,#23caff 0.99%,#34b1ff 1.19%,#3aaaff 1.88%,#2fbaff 3.46%,#1ed3ff 3.75%,#03fbff 3.95%,#00f8e3 4.05%,#00e490 4.25%,#00c40f 4.44%,#01c000 4.84%,#4bcf00 5.53%,#fffc00 6.52%,#ff9600 7.31%,#fd5d00 7.9%,#e93e00 8.69%,#e03000 9.58%,#e23300 14.22%,#f95700 24.3%,#df2f00 35.56%)"></i><i style="inset:10.96px;background:conic-gradient(from 26.0deg,#0dc300 0%,#00c001 0.1%,#00c61a 0.3%,#00d143 0.4%,#00e286 0.49%,#00edb5 0.59%,#03fbff 0.79%,#2cbeff 1.09%,#39abff 1.48%,#28c3ff 3.16%,#1dd4ff 3.56%,#02fcff 3.85%,#00e89f 4.15%,#00dc70 4.25%,#00cc30 4.35%,#00c30e 4.44%,#02c000 4.84%,#4ccf00 5.53%,#fffc00 6.52%,#ff9700 7.31%,#fe5e00 7.9%,#e93e00 8.69%,#e03000 9.58%,#e23300 14.22%,#f95700 24.2%,#df2f00 35.56%)"></i><i style="inset:11.95px;background:conic-gradient(from 26.0deg,#06c100 0%,#00cd33 0.4%,#00de77 0.49%,#00f4d2 0.69%,#00fdf6 0.79%,#0cedff 0.89%,#2cbdff 1.19%,#33b3ff 1.48%,#22cdff 2.77%,#01fdff 3.65%,#00f6da 3.85%,#00e79e 4.05%,#00dd76 4.15%,#00c30d 4.35%,#00c000 4.74%,#41cd00 5.43%,#fffb00 6.52%,#ff9700 7.31%,#fe5e00 7.9%,#e93f00 8.69%,#e03000 9.58%,#e23400 14.22%,#fa5800 24.2%,#e02f00 35.56%)"></i><i style="inset:12.95px;background:conic-gradient(from 26.0deg,#01c000 0%,#00cc2f 0.4%,#00e491 0.59%,#00f7de 0.79%,#00fffd 0.89%,#0decff 0.99%,#20cfff 1.19%,#28c3ff 1.48%,#19daff 2.37%,#00fefc 3.16%,#00efbd 3.75%,#00e38d 3.95%,#00c30b 4.25%,#00c000 4.64%,#19c500 5.04%,#46ce00 5.43%,#fffa00 6.52%,#ff9600 7.31%,#fe5e00 7.9%,#ea3f00 8.69%,#e03000 9.68%,#e33400 14.32%,#fa5900 24.2%,#e02f00 35.56%)"></i><i style="inset:13.94px;background:conic-gradient(from 26.0deg,#00c001 0%,#00ce39 0.49%,#00eebb 0.79%,#00fcf4 0.99%,#05f7ff 1.09%,#13e2ff 1.28%,#16deff 1.48%,#01feff 2.37%,#00f3ce 3.06%,#00e491 3.65%,#00d964 3.85%,#00c618 4.05%,#00c20a 4.15%,#00c000 4.44%,#19c500 4.94%,#41cd00 5.33%,#7bd900 5.73%,#f8fd00 6.42%,#fff700 6.52%,#ffa000 7.21%,#fe5e00 7.9%,#ea3f00 8.69%,#e03000 9.68%,#e33400 14.32%,#fb5900 24.2%,#e02f00 35.56%)"></i><i style="inset:14.94px;background:conic-gradient(from 26.0deg,#00c001 0%,#00d040 0.59%,#00e48e 0.79%,#00f1c6 0.99%,#00faea 1.19%,#00fefa 1.48%,#00f5d7 2.17%,#00e8a2 2.86%,#00de79 3.26%,#00c40e 3.85%,#01c000 4.25%,#1bc500 4.84%,#3fcd00 5.23%,#75d700 5.63%,#ffff00 6.42%,#ff9e00 7.21%,#fe5e00 7.9%,#ea3f00 8.69%,#e03000 9.68%,#e33500 14.32%,#fb5a00 24.2%,#e02f00 35.56%)"></i><i style="inset:15.94px;background:conic-gradient(from 26.0deg,#01c000 0%,#00cc2e 0.4%,#00d24a 0.79%,#00dc72 0.89%,#00e8a3 1.09%,#00efbc 1.28%,#00f0c2 1.48%,#00e082 2.47%,#00c71c 3.26%,#00c102 3.95%,#1bc500 4.64%,#56d100 5.33%,#fffa00 6.42%,#ff9c00 7.21%,#fd5d00 7.9%,#ea3f00 8.69%,#e03000 9.68%,#e33500 14.32%,#fc5b00 24.2%,#e03000 35.56%)"></i><i style="inset:16.93px;background:conic-gradient(from 26.0deg,#05c100 0%,#00cc32 0.49%,#00d34a 0.99%,#00de78 1.28%,#00e07f 1.48%,#00ce37 2.27%,#04c100 3.85%,#2ec900 4.74%,#4ed000 5.14%,#7fd900 5.53%,#feff00 6.32%,#ff9800 7.21%,#ff6200 7.8%,#eb4100 8.59%,#e13100 9.58%,#e33500 14.22%,#fc5b00 24.2%,#e03000 35.56%)"></i><i style="inset:17.93px;background:conic-gradient(from 26.0deg,#0cc200 0%,#00c001 0.1%,#00ce39 0.69%,#00d249 1.28%,#03c100 3.56%,#55d100 5.04%,#8fdd00 5.53%,#f9fd00 6.22%,#fff800 6.32%,#ff9e00 7.11%,#ff6000 7.8%,#eb4100 8.59%,#e13100 9.58%,#e43500 14.22%,#fc5c00 24.2%,#e03000 35.56%)"></i><i style="inset:18.92px;background:conic-gradient(from 26.0deg,#15c400 0%,#00c104 0.2%,#00cc30 0.69%,#00d041 1.28%,#03c100 3.26%,#5fd300 4.94%,#88db00 5.33%,#fffa00 6.22%,#ff9900 7.11%,#fe5e00 7.8%,#eb4000 8.59%,#e13100 9.58%,#e43600 14.32%,#fd5c00 24.2%,#e03000 35.56%)"></i><i style="inset:19.92px;background:conic-gradient(from 26.0deg,#20c600 0%,#00c103 0.3%,#00ca2a 0.79%,#00ce36 1.28%,#00c000 2.86%,#74d700 4.94%,#fffb00 6.12%,#ff6100 7.7%,#ea4000 8.59%,#e13100 9.58%,#e43700 14.32%,#fd5d00 24.2%,#e03000 35.56%)"></i><i style="inset:20.92px;background:conic-gradient(from 26.0deg,#2ec900 0%,#01c000 0.4%,#00c821 0.89%,#00ca29 1.28%,#00c000 2.47%,#38cb00 3.65%,#84da00 4.84%,#fffa00 6.02%,#fe5f00 7.7%,#ea3f00 8.59%,#e13100 9.58%,#e53700 14.42%,#fd5e00 24.1%,#e02f00 35.56%)"></i><i style="inset:21.91px;background:conic-gradient(from 26.0deg,#3fcd00 0%,#01c000 0.59%,#00c618 1.28%,#01c000 2.07%,#73d700 4.25%,#bce900 5.23%,#ffff00 5.83%,#ff6100 7.6%,#eb4100 8.49%,#e13200 9.48%,#e53700 14.32%,#fe5e00 24.1%,#e02f00 35.56%)"></i><i style="inset:22.91px;background:conic-gradient(from 26.0deg,#51d000 0%,#24c700 0.4%,#08c200 0.79%,#01c000 1.58%,#65d400 3.65%,#c3eb00 5.04%,#fffa00 5.73%,#fe5e00 7.6%,#ea4000 8.49%,#e13100 9.48%,#e53800 14.42%,#fe5f00 24.1%,#e02f00 35.56%)"></i><i style="inset:23.9px;background:conic-gradient(from 26.0deg,#66d400 0%,#23c700 0.69%,#12c400 1.48%,#67d500 3.26%,#fffa00 5.53%,#fe5f00 7.51%,#eb4100 8.4%,#e13200 9.38%,#e53800 14.42%,#fe5f00 24.1%,#e02f00 35.56%)"></i><i style="inset:24.9px;background:conic-gradient(from 26.0deg,#7dd900 0%,#35cb00 0.79%,#2ac800 1.48%,#76d800 3.06%,#fcfe00 5.14%,#ffdd00 5.73%,#ff6000 7.41%,#eb4200 8.3%,#e23300 9.28%,#e63900 14.42%,#ff6000 24.1%,#df2f00 35.56%)"></i><i style="inset:25.9px;background:conic-gradient(from 26.0deg,#96de00 0%,#50d000 0.79%,#45ce00 1.48%,#81da00 2.77%,#fffe00 4.84%,#ffd400 5.63%,#ff6000 7.31%,#ec4200 8.2%,#e23300 9.19%,#e63900 14.42%,#ff6000 24%,#df2f00 35.56%)"></i><i style="inset:26.89px;background:conic-gradient(from 26.0deg,#afe500 0%,#6cd600 0.79%,#62d400 1.48%,#fffe00 4.44%,#ffcb00 5.53%,#ff5f00 7.21%,#e43600 8.89%,#e63900 14.22%,#ff6100 24%,#df2f00 35.56%)"></i><i style="inset:27.89px;background:conic-gradient(from 26.0deg,#c7ed00 0%,#8bdc00 0.79%,#80da00 1.48%,#fffd00 4.05%,#ffbb00 5.53%,#fe5e00 7.11%,#ea3f00 8.2%,#e53700 9.19%,#e73a00 14.32%,#ff6200 24%,#df2f00 35.56%)"></i><i style="inset:28.88px;background:conic-gradient(from 26.0deg,#e1f500 0%,#aee500 0.69%,#9fe000 1.38%,#bae800 2.17%,#fffe00 3.56%,#ffb000 5.43%,#fb5a00 7.11%,#e63900 9.38%,#e73b00 14.32%,#ff6300 24%,#df2f00 35.56%)"></i><i style="inset:29.88px;background:conic-gradient(from 26.0deg,#fcfe00 0%,#cbee00 0.69%,#bde900 1.28%,#c3eb00 1.68%,#fffd00 3.06%,#fe5f00 6.81%,#e73b00 9.48%,#e73b00 14.32%,#ff6300 24%,#df2e00 35.56%)"></i><i style="inset:30.88px;background:conic-gradient(from 26.0deg,#fff000 0%,#ffff00 0.3%,#e5f600 0.79%,#dbf300 1.28%,#fffd00 2.47%,#ff7500 6.12%,#f55000 8%,#e73b00 9.98%,#e83d00 14.52%,#ff6400 23.9%,#df2e00 35.56%)"></i><i style="inset:31.87px;background:conic-gradient(from 26.0deg,#feff00 0%,#fff500 0.49%,#ffff00 1.68%,#ff9a00 4.84%,#fe5e00 7.51%,#e93d00 10.17%,#e93e00 14.62%,#ff6500 23.9%,#df2e00 35.56%)"></i><i style="inset:32.87px;background:conic-gradient(from 26.0deg,#e0f500 0%,#fffe00 0.89%,#ff6000 7.8%,#e93e00 10.67%,#e93f00 14.72%,#ff6600 23.9%,#de2e00 35.56%)"></i><i style="inset:33.86px;background:conic-gradient(from 26.0deg,#bfea00 0%,#fffb00 1.38%,#ffe300 1.98%,#ff9400 6.12%,#ff6000 8.2%,#e93f00 11.06%,#ea4000 14.91%,#ff6700 23.8%,#de2d00 35.56%)"></i><i style="inset:34.86px;background:conic-gradient(from 26.0deg,#9cdf00 0%,#cbee00 1.09%,#fffd00 1.68%,#ffe500 2.27%,#ffa700 5.73%,#ff5f00 8.59%,#ea4000 11.46%,#eb4200 15.11%,#ff6800 23.8%,#de2d00 35.56%)"></i><i style="inset:35.86px;background:conic-gradient(from 26.0deg,#73d700 0%,#a8e300 1.09%,#fffe00 1.98%,#ffe700 2.57%,#ff9f00 6.62%,#fe5f00 8.99%,#ec4200 11.56%,#ec4300 15.11%,#ff6a00 23.7%,#de2d00 35.56%)"></i><i style="inset:36.85px;background:conic-gradient(from 26.0deg,#49cf00 0%,#81da00 1.09%,#daf300 1.88%,#fffb00 2.37%,#ffab00 6.62%,#fe5f00 9.38%,#ec4300 11.95%,#ee4500 15.21%,#ff6b00 23.7%,#de2c00 35.56%)"></i><i style="inset:37.85px;background:conic-gradient(from 26.0deg,#20c600 0%,#56d100 1.09%,#b8e800 1.88%,#fffe00 2.67%,#ffb700 6.62%,#ff6100 9.68%,#ee4500 12.15%,#ff6c00 23.7%,#dd2c00 35.56%)"></i><i style="inset:38.84px;background:conic-gradient(from 26.0deg,#00c208 0%,#2cc900 1.09%,#abe300 2.07%,#fffd00 3.06%,#ffc300 6.62%,#ff6000 10.17%,#f04900 12.15%,#f75400 18.17%,#ff6e00 23.6%,#ff6000 26.47%,#dd2c00 35.56%)"></i><i style="inset:39.84px;background:conic-gradient(from 26.0deg,#00cc2f 0%,#02c000 1.09%,#a7e200 2.37%,#e0f500 2.96%,#fffd00 3.46%,#ffcf00 6.62%,#ff6d00 10.07%,#f24c00 12.25%,#f85600 18.27%,#ff6f00 23.6%,#ff6000 26.57%,#dd2b00 35.56%)"></i><i style="inset:40.84px;background:conic-gradient(from 26.0deg,#00d451 0%,#00ca28 1.09%,#00c104 1.38%,#ace400 2.77%,#e2f600 3.36%,#ffff00 3.85%,#ffdb00 6.62%,#ff7700 10.07%,#f55100 12.25%,#f95700 18.37%,#ff7100 23.6%,#ff6000 26.67%,#dd2b00 35.56%)"></i><i style="inset:41.83px;background:conic-gradient(from 26.0deg,#00db6e 0%,#00d34e 1.09%,#05c100 1.78%,#9cdf00 2.96%,#ccee00 3.46%,#eef900 3.95%,#feff00 4.74%,#ffe500 6.72%,#ff8500 9.98%,#f95600 12.25%,#ff6100 17.68%,#fb5900 18.47%,#ff7200 23.6%,#ff6000 26.67%,#dc2b00 35.56%)"></i><i style="inset:42.83px;background:conic-gradient(from 26.0deg,#00e182 0%,#00dc6f 1.09%,#00c001 2.07%,#95de00 3.26%,#cdef00 3.85%,#ecf900 4.54%,#ffff00 5.83%,#ffea00 7.01%,#ff9e00 9.48%,#fc5c00 12.25%,#ff6800 17.58%,#fc5b00 18.57%,#ff7400 23.6%,#ff6000 26.77%,#dc2a00 35.56%)"></i><i style="inset:43.82px;background:conic-gradient(from 26.0deg,#00e38c 0%,#00e07e 1.28%,#00d450 1.78%,#00c207 2.37%,#98de00 3.65%,#c0ea00 4.15%,#e3f600 4.94%,#ffff00 6.62%,#ff6200 12.25%,#ff6000 14.72%,#ff6f00 17.48%,#fd5d00 18.67%,#ff7600 23.6%,#ff6000 26.86%,#dc2a00 35.56%)"></i><i style="inset:44.82px;background:conic-gradient(from 26.0deg,#00e48f 0%,#00e595 1.09%,#00e184 1.58%,#00d658 2.07%,#00c102 2.77%,#84da00 3.85%,#b8e800 4.54%,#d6f200 5.23%,#fffe00 7.21%,#ff6c00 12.25%,#ff6800 14.62%,#ff7700 17.38%,#fe5f00 18.67%,#ff7500 21.53%,#ff7700 23.7%,#ff6000 26.86%,#dc2900 35.56%)"></i><i style="inset:45.82px;background:conic-gradient(from 26.0deg,#00e491 0%,#00e79d 1.19%,#00e48f 1.78%,#00db6a 2.27%,#02c000 3.16%,#62d400 3.95%,#afe500 4.94%,#ccee00 5.63%,#def400 6.72%,#fffe00 7.7%,#ff7500 12.25%,#ff7100 14.62%,#ff7f00 17.38%,#ff6100 18.77%,#ff7700 21.53%,#ff7900 23.7%,#ff6000 26.96%,#db2900 35.56%)"></i><i style="inset:46.81px;background:conic-gradient(from 26.0deg,#00e492 0%,#00e9a4 1.48%,#00e69a 1.98%,#00df7e 2.47%,#00c208 3.46%,#69d500 4.54%,#aae300 5.43%,#fffd00 8.2%,#ff7f00 12.25%,#ff7a00 14.62%,#ff8700 17.38%,#ff6400 18.77%,#ff7a00 21.63%,#ff7b00 23.8%,#ff6000 27.06%,#db2900 35.56%)"></i><i style="inset:47.81px;background:conic-gradient(from 26.0deg,#00e594 0%,#00ebab 1.68%,#00e8a1 2.27%,#00e07e 2.86%,#00c206 3.85%,#a1e000 5.83%,#ffff00 8.59%,#ff8a00 12.25%,#ff8300 14.62%,#ff9000 17.38%,#ff6700 18.86%,#ff7c00 21.63%,#ff7d00 23.8%,#ff6000 27.06%,#db2800 35.56%)"></i><i style="inset:48.8px;background:conic-gradient(from 26.0deg,#00e596 0%,#00edb4 1.98%,#00ebad 2.47%,#00e080 3.26%,#00c207 4.35%,#9bdf00 6.32%,#ceef00 7.9%,#ffff00 8.99%,#ff9500 12.25%,#ff8d00 14.52%,#ff9900 17.38%,#ff6a00 18.86%,#ff7f00 21.73%,#ff7e00 23.9%,#ff6000 27.16%,#db2800 35.56%)"></i><i style="inset:49.8px;background:conic-gradient(from 26.0deg,#00e698 0%,#00efbd 2.27%,#00edb7 2.77%,#00e081 3.65%,#01c000 4.94%,#61d300 6.02%,#97de00 6.81%,#c6ec00 8.2%,#ffff00 9.38%,#ffa000 12.25%,#ff9700 14.62%,#ffa400 17.28%,#ff9d00 17.78%,#ff7900 18.37%,#ff6d00 18.86%,#ff8100 21.73%,#ff8100 23.7%,#ff6000 27.26%,#da2800 35.56%)"></i><i style="inset:50.8px;background:conic-gradient(from 26.0deg,#00e69b 0%,#00f1c6 2.47%,#00f1c4 2.96%,#00e080 4.15%,#00c002 5.43%,#8cdc00 7.11%,#fffc00 9.88%,#ffac00 12.25%,#ffa100 14.62%,#ffae00 17.28%,#ffa500 17.78%,#ff7e00 18.37%,#ff7000 18.96%,#ff8300 21.63%,#ff8300 23.6%,#ff6000 27.26%,#da2700 35.56%)"></i><i style="inset:51.79px;background:conic-gradient(from 26.0deg,#00e79d 0%,#00f4d1 2.77%,#00f3cf 3.26%,#00e184 4.64%,#00c104 5.93%,#81da00 7.41%,#fffc00 10.27%,#ffb800 12.25%,#ffac00 14.52%,#ffb700 17.38%,#ffae00 17.78%,#ff8000 18.47%,#ff7300 18.96%,#ff8500 23.6%,#ff6000 27.36%,#da2700 35.56%)"></i><i style="inset:52.79px;background:conic-gradient(from 26.0deg,#00e89f 0%,#00f7dd 3.06%,#00f6da 3.56%,#00eeb9 4.35%,#00e080 5.23%,#00c105 6.42%,#78d800 7.7%,#feff00 10.57%,#ffc700 12.15%,#ffc000 12.64%,#ffb700 14.62%,#ffc100 17.38%,#ffb700 17.78%,#ff8500 18.47%,#ff7600 19.06%,#ff8800 21.73%,#ff8700 23.6%,#ff6000 27.36%,#ea4000 30.91%,#da2700 35.56%)"></i><i style="inset:53.78px;background:conic-gradient(from 26.0deg,#00e8a1 0%,#00faea 3.36%,#00fae9 3.75%,#00f3cf 4.54%,#00e491 5.53%,#02c000 6.91%,#45ce00 7.51%,#6fd600 8%,#fffe00 10.96%,#ffd100 12.25%,#ffc900 13.04%,#ffcb00 17.38%,#ffc000 17.78%,#ff8b00 18.47%,#ff7900 19.06%,#ff8900 23.6%,#ff6100 27.36%,#eb4100 30.81%,#da2700 35.56%)"></i><i style="inset:54.78px;background:conic-gradient(from 26.0deg,#00e9a3 0%,#00fdf7 3.65%,#00fcf4 4.25%,#00f4d0 5.14%,#00e184 6.22%,#00c209 7.21%,#04c100 7.31%,#67d500 8.3%,#fffd00 11.36%,#ffdd00 12.25%,#ffd100 13.53%,#ffd700 17.28%,#ffc900 17.78%,#ff8b00 18.57%,#ff7b00 19.16%,#ff8c00 21.73%,#ff8a00 23.6%,#ff6000 27.46%,#eb4200 30.72%,#da2700 35.56%)"></i><i style="inset:55.78px;background:conic-gradient(from 26.0deg,#00e9a5 0%,#00fffe 3.65%,#00ffff 4.74%,#00f6db 5.53%,#00e38b 6.62%,#00c105 7.6%,#60d300 8.59%,#fffe00 11.65%,#ffe900 12.25%,#ffda00 13.93%,#ffe100 17.28%,#ffd200 17.78%,#ff9100 18.57%,#ff7e00 19.16%,#ff8c00 23.6%,#ff6100 27.46%,#ec4200 30.62%,#da2600 35.56%)"></i><i style="inset:56.77px;background:conic-gradient(from 26.0deg,#00eaa8 0%,#00ffff 3.46%,#0debff 4.54%,#01fdff 5.43%,#00eaaa 6.72%,#00e080 7.11%,#00c000 8%,#5ad200 8.89%,#ffff00 11.95%,#ffe400 14.22%,#ffeb00 17.28%,#ffdb00 17.78%,#ff9600 18.57%,#ff8000 19.26%,#ff9000 21.73%,#ff8e00 23.6%,#ff6000 27.56%,#ec4200 30.62%,#d92600 35.56%)"></i><i style="inset:57.77px;background:conic-gradient(from 26.0deg,#00eaaa 0%,#00ffff 3.26%,#16dfff 4.84%,#02fcff 6.02%,#00f6da 6.62%,#00eaa7 7.11%,#00df7a 7.51%,#00c207 8.3%,#5dd300 9.28%,#fffe00 12.44%,#ffed00 14.62%,#fff500 17.28%,#ffe300 17.78%,#ff9500 18.67%,#ff8300 19.26%,#ff8f00 23.6%,#ff6000 27.56%,#ec4300 30.52%,#d92600 35.56%)"></i><i style="inset:58.76px;background:conic-gradient(from 26.0deg,#00ebac 0%,#00fffe 3.06%,#1ed2ff 5.23%,#16dfff 5.93%,#00ffff 6.62%,#00e081 7.8%,#02c000 8.69%,#53d100 9.48%,#e6f700 12.15%,#ffff00 13.33%,#fffe00 17.28%,#ffeb00 17.78%,#ff9a00 18.67%,#ff8400 19.36%,#ff9300 21.83%,#ff9000 23.6%,#ff6100 27.56%,#ec4300 30.52%,#d92600 35.56%)"></i><i style="inset:59.76px;background:conic-gradient(from 26.0deg,#00ebae 0%,#01feff 2.96%,#27c5ff 5.53%,#1cd6ff 6.32%,#00ffff 7.01%,#00e186 8.1%,#00c001 8.99%,#4fd000 9.78%,#daf300 12.25%,#fbfe00 14.42%,#effa00 17.09%,#fffd00 17.58%,#ff9f00 18.67%,#ff8600 19.36%,#ff9100 23.6%,#ff6100 27.56%,#ed4400 30.42%,#d92600 35.56%)"></i><i style="inset:60.76px;background:conic-gradient(from 26.0deg,#00ecb0 0%,#00ffff 2.77%,#2fbaff 5.83%,#24caff 6.62%,#04f9ff 7.31%,#00e289 8.4%,#00c002 9.28%,#54d100 10.17%,#c9ee00 12.25%,#ecf900 14.42%,#e1f500 17.09%,#feff00 17.68%,#ffa300 18.67%,#ff8700 19.46%,#ff9500 21.83%,#ff9200 23.6%,#ff6000 27.65%,#ed4400 30.42%,#d92600 35.56%)"></i><i style="inset:61.75px;background:conic-gradient(from 26.0deg,#00ecb2 0%,#01feff 2.67%,#36afff 6.12%,#2cbdff 6.81%,#01feff 7.7%,#00df7e 8.79%,#00c410 9.48%,#07c100 9.68%,#5ad200 10.57%,#bae800 12.25%,#e0f500 14.62%,#d5f100 17.09%,#fcfe00 17.78%,#fff600 17.88%,#ffa100 18.77%,#ff8900 19.46%,#ff9200 23.6%,#ff6000 27.65%,#ed4400 30.42%,#d92600 35.56%)"></i><i style="inset:62.75px;background:conic-gradient(from 26.0deg,#00edb4 0%,#01feff 2.57%,#2bbfff 4.84%,#3da5ff 6.42%,#31b7ff 7.11%,#03faff 8%,#00e38b 8.99%,#00cf3d 9.48%,#04c100 9.98%,#5ad200 10.86%,#abe400 12.25%,#d3f100 14.62%,#c9ed00 17.09%,#d9f300 17.48%,#fffd00 17.88%,#ffa500 18.77%,#ff8a00 19.46%,#ff9300 23.6%,#ff6000 27.65%,#ed4400 30.42%,#d92600 35.56%)"></i><i style="inset:63.74px;background:conic-gradient(from 26.0deg,#00edb5 0%,#01fdff 2.47%,#31b6ff 5.04%,#409cff 6.72%,#34b2ff 7.41%,#04f9ff 8.3%,#00efbd 8.89%,#01c000 10.27%,#5cd200 11.16%,#9ddf00 12.25%,#c7ed00 14.62%,#beea00 17.09%,#d0f000 17.48%,#fff700 17.98%,#ffa800 18.77%,#ff8b00 19.46%,#ff9300 23.6%,#ff6000 27.65%,#ed4400 30.42%,#d92600 35.56%)"></i><i style="inset:64.74px;background:conic-gradient(from 26.0deg,#00edb7 0%,#01fdff 2.37%,#35b1ff 5.04%,#4095ff 6.91%,#37aeff 7.7%,#05f8ff 8.59%,#00fefb 8.69%,#00e07f 9.68%,#00c000 10.57%,#56d100 11.36%,#8fdd00 12.25%,#bbe900 14.52%,#b5e700 17.09%,#cfef00 17.58%,#fffd00 17.98%,#ffa400 18.86%,#ff8b00 19.56%,#ff9300 23.6%,#ff6000 27.65%,#ed4400 30.42%,#da2600 35.56%)"></i><i style="inset:65.74px;background:conic-gradient(from 26.0deg,#00eeb8 0%,#01feff 2.27%,#3fa2ff 5.53%,#408eff 7.21%,#40a0ff 7.8%,#04f9ff 8.89%,#00e081 9.98%,#00c000 10.86%,#4fd000 11.56%,#81da00 12.25%,#b1e600 14.52%,#ace400 17.09%,#c7ed00 17.58%,#fbfe00 17.98%,#fff600 18.07%,#ffa700 18.86%,#ff8b00 19.56%,#ff9200 23.6%,#ff6000 27.65%,#ed4400 30.42%,#da2700 35.56%)"></i><i style="inset:66.73px;background:conic-gradient(from 26.0deg,#00eeba 0%,#00feff 2.17%,#3fa2ff 5.33%,#4089ff 7.41%,#3da4ff 8.2%,#02fbff 9.19%,#00e182 10.27%,#02c000 11.16%,#48ce00 11.75%,#73d700 12.25%,#a6e200 14.52%,#a2e100 17.09%,#bfea00 17.58%,#fffa00 18.07%,#ffaa00 18.86%,#ff8b00 19.56%,#ff9100 23.6%,#ff6100 27.56%,#ed4400 30.42%,#da2700 35.56%)"></i><i style="inset:67.73px;background:conic-gradient(from 26.0deg,#00eebb 0%,#00fffe 2.07%,#40a0ff 5.23%,#4085ff 7.51%,#409eff 8.4%,#01feff 9.48%,#00e082 10.57%,#04c100 11.46%,#5ed300 12.25%,#7bd900 13.23%,#97de00 15.01%,#94de00 17.19%,#c6ec00 17.78%,#fffe00 18.07%,#ffa400 18.96%,#ff8a00 19.65%,#ff9000 23.6%,#ff6000 27.56%,#ed4400 30.42%,#da2700 35.56%)"></i><i style="inset:68.72px;background:conic-gradient(from 26.0deg,#00efbc 0%,#01feff 2.07%,#40a0ff 5.14%,#4081ff 7.51%,#4093ff 8.49%,#3ca6ff 8.79%,#01feff 9.78%,#00e081 10.86%,#06c100 11.75%,#42cd00 12.25%,#6ad500 13.63%,#7ed900 15.11%,#7cd900 17.19%,#b5e700 17.78%,#fcfe00 18.07%,#fff600 18.17%,#ffa600 18.96%,#ff8900 19.65%,#ff8f00 23.6%,#ff6000 27.56%,#ed4400 30.42%,#da2700 35.56%)"></i><i style="inset:69.72px;background:conic-gradient(from 26.0deg,#00efbd 0%,#00fffe 1.98%,#409fff 5.04%,#4086ff 6.32%,#407eff 7.51%,#4090ff 8.69%,#3fa2ff 8.99%,#01feff 10.07%,#00e07f 11.16%,#00c104 11.95%,#0ac200 12.05%,#25c700 12.35%,#56d100 14.22%,#61d300 15.51%,#5bd200 17.09%,#6ed600 17.38%,#a0e000 17.78%,#f6fc00 18.07%,#fff800 18.17%,#ffa700 18.96%,#ff8900 19.65%,#ff8e00 23.6%,#ff6100 27.46%,#ec4300 30.52%,#da2800 35.56%)"></i><i style="inset:70.72px;background:conic-gradient(from 26.0deg,#00efbe 0%,#00feff 1.98%,#40a0ff 4.94%,#4084ff 6.22%,#407cff 7.51%,#408eff 8.89%,#3ca6ff 9.28%,#00fffe 10.37%,#00df7b 11.46%,#00c103 12.25%,#38cb00 14.62%,#38cb00 16.99%,#4fd000 17.38%,#86db00 17.78%,#ceef00 17.98%,#fffc00 18.17%,#ffa700 18.96%,#ff8700 19.65%,#ff8c00 23.6%,#ff6000 27.46%,#ec4300 30.52%,#db2800 35.56%)"></i><i style="inset:71.71px;background:conic-gradient(from 26.0deg,#00efbe 0%,#01feff 1.98%,#3fa1ff 4.84%,#4083ff 6.22%,#407aff 7.51%,#408dff 9.09%,#3ea3ff 9.48%,#04f9ff 10.57%,#00e185 11.65%,#00cb2b 12.25%,#01c000 13.63%,#19c500 15.21%,#15c400 16.99%,#2dc900 17.38%,#6ad500 17.78%,#ddf400 18.07%,#fafd00 18.17%,#fff200 18.27%,#ffa000 19.06%,#ff8500 19.75%,#ff8a00 23.6%,#ff6000 27.36%,#ec4200 30.62%,#db2800 35.56%)"></i><i style="inset:72.71px;background:conic-gradient(from 26.0deg,#00efbe 0%,#01fdff 1.98%,#40a0ff 4.84%,#4081ff 6.22%,#4079ff 7.51%,#408eff 9.28%,#3ba7ff 9.78%,#02fcff 10.86%,#00d555 12.25%,#00c617 14.42%,#00c30c 15.6%,#00c411 16.99%,#00c000 17.28%,#4ccf00 17.78%,#ccee00 18.07%,#fff800 18.27%,#ffa000 19.06%,#ff8300 19.75%,#ff8700 23.6%,#ff6000 27.26%,#ec4200 30.62%,#db2900 35.56%)"></i><i style="inset:73.7px;background:conic-gradient(from 26.0deg,#00efbf 0%,#02fdff 1.98%,#409fff 4.84%,#4081ff 6.22%,#4078ff 7.51%,#4094ff 9.58%,#38abff 10.07%,#05f7ff 11.06%,#00fffe 11.16%,#00e28a 12.15%,#00df7c 12.35%,#00d03e 14.62%,#00ce39 16.99%,#00cc30 17.19%,#00c30a 17.48%,#07c100 17.58%,#2ec900 17.78%,#90dd00 17.98%,#ddf400 18.17%,#fdff00 18.27%,#ffed00 18.37%,#ff9f00 19.06%,#ff8100 19.75%,#ff8500 23.6%,#ff6000 27.16%,#eb4100 30.72%,#db2900 35.56%)"></i><i style="inset:74.7px;background:conic-gradient(from 26.0deg,#00efbf 0%,#02fdff 1.98%,#409fff 4.84%,#4081ff 6.22%,#4078ff 7.51%,#409aff 9.88%,#2cbdff 10.57%,#02fcff 11.36%,#00e79c 12.35%,#00d965 14.81%,#00d75e 17.09%,#00d03f 17.38%,#00c206 17.68%,#10c300 17.78%,#77d800 17.98%,#ccee00 18.17%,#f0fa00 18.27%,#fff400 18.37%,#ffc500 18.67%,#ffa700 18.96%,#ff8000 19.65%,#ff8200 23.6%,#ff6000 27.06%,#ea4000 30.81%,#dc2900 35.56%)"></i><i style="inset:75.7px;background:conic-gradient(from 26.0deg,#00efbf 0%,#01fdff 1.98%,#40a0ff 4.84%,#4081ff 6.22%,#4078ff 7.51%,#4083ff 8.79%,#3fa1ff 10.17%,#28c3ff 10.86%,#05f8ff 11.56%,#00efbd 12.25%,#00e9a3 13.23%,#00e288 15.01%,#00e183 17.09%,#00d963 17.38%,#00c30d 17.78%,#28c800 17.88%,#bae800 18.17%,#fffc00 18.37%,#ffaf00 18.86%,#ff7f00 19.65%,#ff7f00 23.6%,#ff6000 26.86%,#ea4000 30.81%,#dc2a00 35.56%)"></i><i style="inset:76.69px;background:conic-gradient(from 26.0deg,#00efbe 0%,#01feff 1.98%,#3fa1ff 4.84%,#4083ff 6.22%,#407aff 7.51%,#4086ff 8.89%,#3aa9ff 10.47%,#24caff 11.16%,#01feff 11.85%,#00f6d9 12.25%,#00edb5 13.73%,#00e8a2 15.21%,#00e79d 17.09%,#00e184 17.38%,#00ca29 17.78%,#0ec300 17.88%,#d0f000 18.27%,#f6fc00 18.37%,#ffef00 18.47%,#ffae00 18.86%,#ff7e00 19.56%,#ff7b00 23.7%,#ff6000 26.77%,#ea3f00 30.91%,#dc2a00 35.56%)"></i><i style="inset:77.69px;background:conic-gradient(from 26.0deg,#00efbe 0%,#00feff 1.98%,#40a0ff 4.94%,#4084ff 6.22%,#407bff 7.51%,#4088ff 8.89%,#34b2ff 10.77%,#23ccff 11.36%,#02fbff 12.05%,#00f9e7 12.64%,#00f1c5 14.22%,#00edb5 17.09%,#00e699 17.38%,#00de78 17.58%,#00d142 17.78%,#00c30b 17.88%,#2ac800 17.98%,#bfea00 18.27%,#e7f700 18.37%,#fff700 18.47%,#ffaf00 18.86%,#ff8000 19.46%,#ff7900 23.51%,#ff6000 26.57%,#dc2a00 35.56%)"></i><i style="inset:78.68px;background:conic-gradient(from 26.0deg,#00efbd 0%,#00fffe 1.98%,#409fff 5.04%,#4085ff 6.32%,#407eff 7.51%,#40a0ff 9.98%,#29c2ff 11.26%,#00fffe 12.54%,#00f5d5 14.62%,#00f2c8 17.09%,#00eeb8 17.28%,#00e38b 17.58%,#00d657 17.78%,#00c922 17.88%,#14c400 17.98%,#aee500 18.27%,#ffff00 18.47%,#ffa300 18.96%,#ff8100 19.46%,#ff6000 26.27%,#dd2b00 35.56%)"></i><i style="inset:79.68px;background:conic-gradient(from 26.0deg,#00efbc 0%,#01feff 2.07%,#409fff 5.14%,#4081ff 7.51%,#40a1ff 9.88%,#00ffff 13.14%,#00f7e0 15.01%,#00f6da 16.99%,#00f1c6 17.28%,#00e183 17.68%,#00da66 17.78%,#01c000 17.98%,#caee00 18.37%,#f2fb00 18.47%,#ffee00 18.57%,#ff9800 19.06%,#ff8600 19.26%,#ff8000 19.65%,#ff6000 25.98%,#dd2b00 35.56%)"></i><i style="inset:80.68px;background:conic-gradient(from 26.0deg,#00eebb 0%,#00fffe 2.07%,#40a0ff 5.23%,#4085ff 7.51%,#409fff 9.68%,#00ffff 13.63%,#00fae8 15.21%,#00f8e3 16.99%,#00f3cf 17.28%,#00e38a 17.68%,#00dc6f 17.78%,#00c410 17.98%,#24c700 18.07%,#e5f700 18.47%,#fff600 18.57%,#ffb600 18.86%,#ff8d00 19.16%,#ff7f00 19.85%,#ff6000 25.68%,#dd2c00 35.56%)"></i><i style="inset:81.67px;background:conic-gradient(from 26.0deg,#00eeba 0%,#00feff 2.17%,#3fa2ff 5.33%,#4089ff 7.51%,#3fa1ff 9.58%,#01feff 13.73%,#00f8e2 17.09%,#00f0c3 17.38%,#00e38c 17.68%,#00dc70 17.78%,#00c71b 17.98%,#16c400 18.07%,#ade400 18.37%,#fffd00 18.57%,#ffb900 18.86%,#ff9000 19.16%,#ff7c00 20.25%,#ff6000 25.28%,#dd2c00 35.56%)"></i><i style="inset:82.67px;background:conic-gradient(from 26.0deg,#00eeb9 0%,#01feff 2.27%,#3fa2ff 5.53%,#408dff 7.51%,#3fa1ff 9.38%,#01feff 13.83%,#00faeb 15.01%,#00f7df 17.09%,#00f0c0 17.38%,#00e288 17.68%,#00c821 17.98%,#0dc300 18.07%,#f7fd00 18.57%,#ffea00 18.67%,#ff9a00 19.06%,#ff7700 20.74%,#ff6000 24.79%,#dd2c00 35.56%)"></i><i style="inset:83.66px;background:conic-gradient(from 26.0deg,#00eeb7 0%,#01fdff 2.37%,#39aaff 5.33%,#4093ff 7.51%,#40a1ff 9.09%,#0fe8ff 12.35%,#16deff 13.33%,#03fbff 14.12%,#00faeb 14.72%,#00f6db 17.09%,#00efbc 17.38%,#00e184 17.68%,#09c200 18.07%,#eef900 18.57%,#fff000 18.67%,#ffac00 18.96%,#ffa300 19.06%,#ff7300 21.04%,#de2d00 35.56%)"></i><i style="inset:84.66px;background:conic-gradient(from 26.0deg,#00edb6 0%,#01fdff 2.47%,#37adff 5.43%,#4098ff 7.51%,#3aa9ff 9.28%,#14e1ff 11.85%,#2ac0ff 12.64%,#2cbdff 13.33%,#20d0ff 13.93%,#01feff 14.62%,#00f9e5 14.91%,#00f6db 16.99%,#00f3d0 17.19%,#00eeb8 17.38%,#00e07f 17.68%,#00c61a 17.98%,#0bc200 18.07%,#e5f700 18.57%,#fff500 18.67%,#ffc400 18.86%,#ffad00 19.06%,#ff8700 20.05%,#ff7000 21.23%,#de2d00 35.56%)"></i><i style="inset:85.66px;background:conic-gradient(from 26.0deg,#00edb4 0%,#01fdff 2.57%,#34b2ff 5.43%,#409eff 7.51%,#38adff 9.19%,#16deff 11.56%,#36afff 12.44%,#3ba7ff 13.33%,#2cbeff 14.02%,#05f8ff 14.81%,#00f7df 15.21%,#00f5d6 16.99%,#00f2cc 17.19%,#00e490 17.58%,#00de79 17.68%,#00c513 17.98%,#11c300 18.07%,#fff900 18.67%,#ffc700 18.86%,#ffa200 19.46%,#ff8300 20.35%,#ff6b00 21.63%,#de2d00 35.56%)"></i><i style="inset:86.65px;background:conic-gradient(from 26.0deg,#00ecb2 0%,#01feff 2.67%,#2dbcff 5.23%,#3da5ff 7.11%,#36afff 8.99%,#16deff 11.36%,#3ba7ff 12.25%,#4096ff 13.04%,#36afff 14.02%,#05f7ff 15.01%,#00f6d9 15.41%,#00f4d2 16.99%,#00f1c7 17.19%,#00e38c 17.58%,#00c30d 17.98%,#17c500 18.07%,#fffd00 18.67%,#ffce00 18.86%,#ffa100 19.65%,#ff7d00 20.74%,#ff6600 22.02%,#de2d00 35.56%)"></i><i style="inset:87.65px;background:conic-gradient(from 26.0deg,#00ecb1 0%,#00ffff 2.77%,#2ac1ff 5.23%,#38acff 7.01%,#33b3ff 8.79%,#18dbff 11.06%,#3ea4ff 11.75%,#4092ff 12.05%,#4079ff 13.04%,#4085ff 13.73%,#3ea4ff 14.32%,#04f8ff 15.31%,#00f4d3 15.7%,#00f3ce 16.99%,#00f0c3 17.19%,#00e287 17.58%,#00c207 17.98%,#1dc600 18.07%,#ffff00 18.67%,#ffdb00 18.86%,#ff9d00 19.95%,#ff7800 21.04%,#ff6100 22.32%,#de2e00 35.56%)"></i><i style="inset:88.64px;background:conic-gradient(from 26.0deg,#00ebaf 0%,#01fdff 2.96%,#26c7ff 5.23%,#34b2ff 7.01%,#30b8ff 8.69%,#19daff 10.86%,#3da5ff 11.46%,#4084ff 11.95%,#4068ff 13.04%,#4077ff 13.83%,#409eff 14.52%,#03faff 15.51%,#00f3ce 15.9%,#00f2ca 16.99%,#00efbf 17.19%,#00e183 17.58%,#00c001 17.98%,#ffff00 18.67%,#ffc800 19.36%,#ff9800 20.25%,#ff7600 21.23%,#ff6000 22.42%,#df2e00 35.56%)"></i><i style="inset:89.64px;background:conic-gradient(from 26.0deg,#00ebad 0%,#00ffff 3.06%,#23ccff 5.33%,#2fb9ff 7.01%,#2bbfff 8.69%,#16deff 10.67%,#3ea2ff 11.36%,#407cff 11.95%,#4062ff 13.14%,#4073ff 13.93%,#409dff 14.62%,#05f8ff 15.6%,#00f2c9 16.1%,#00f1c6 16.99%,#00eeba 17.19%,#00e07e 17.58%,#05c100 17.98%,#dff500 18.57%,#fffa00 18.86%,#ff9600 20.44%,#ff6000 22.42%,#df2e00 35.56%)"></i><i style="inset:90.64px;background:conic-gradient(from 26.0deg,#00eaab 0%,#00ffff 3.26%,#1ed2ff 5.33%,#2ac1ff 6.91%,#28c4ff 8.49%,#16deff 10.37%,#409fff 11.06%,#406dff 11.75%,#4054ff 12.35%,#404aff 13.04%,#4056ff 13.73%,#4077ff 14.42%,#3da5ff 15.01%,#00ffff 15.9%,#00f2c8 16.3%,#00f0c1 16.99%,#00ebac 17.28%,#00de78 17.58%,#0bc200 17.98%,#bce900 18.47%,#ffff00 18.96%,#ff9900 20.54%,#ff5f00 22.52%,#df2e00 35.56%)"></i><i style="inset:91.63px;background:conic-gradient(from 26.0deg,#00eaa9 0%,#00ffff 3.46%,#1ad9ff 5.33%,#25c8ff 6.91%,#24caff 8.4%,#14e1ff 10.17%,#40a0ff 10.86%,#4059ff 11.85%,#4042ff 12.54%,#4040ff 13.33%,#405cff 14.22%,#409dff 15.11%,#04f9ff 16%,#00efbf 16.49%,#00efbd 16.99%,#00eaa7 17.28%,#00dd72 17.58%,#00c513 17.88%,#10c300 17.98%,#7fd900 18.27%,#95de00 18.37%,#fffd00 19.16%,#ff9800 20.74%,#fe5f00 22.62%,#f14a00 25.78%,#df2e00 35.56%)"></i><i style="inset:92.63px;background:conic-gradient(from 26.0deg,#00e9a7 0%,#00ffff 3.65%,#20cfff 6.91%,#13e3ff 10.07%,#409eff 10.77%,#4053ff 11.85%,#4040ff 12.44%,#4040fe 13.53%,#405cff 14.32%,#409dff 15.21%,#05f7ff 16.1%,#00eeba 16.69%,#00edb5 17.09%,#00e9a3 17.28%,#00db6d 17.58%,#00c30e 17.88%,#16c400 17.98%,#56d100 18.17%,#89db00 18.47%,#fffb00 19.36%,#ff9200 21.04%,#fc5c00 22.91%,#ee4600 26.27%,#df2f00 35.56%)"></i><i style="inset:93.62px;background:conic-gradient(from 26.0deg,#00e9a5 0%,#00feff 3.95%,#1bd6ff 6.91%,#10e7ff 9.88%,#3fa2ff 10.57%,#406aff 11.26%,#4049ff 11.85%,#4040f5 12.94%,#4040fe 13.83%,#4064ff 14.62%,#3ea3ff 15.41%,#01feff 16.3%,#00efbc 16.79%,#00ecb1 17.09%,#00e491 17.38%,#00da67 17.58%,#00c208 17.88%,#15c400 17.98%,#9ee000 18.77%,#fcfe00 19.46%,#fff900 19.56%,#ff8f00 21.23%,#fc5b00 23.11%,#ed4400 26.47%,#df2f00 35.56%)"></i><i style="inset:94.62px;background:conic-gradient(from 26.0deg,#00e8a2 0%,#01feff 4.25%,#17ddff 7.01%,#0decff 9.68%,#409bff 10.47%,#4062ff 11.16%,#4041ff 11.75%,#4040ee 12.94%,#4040fd 14.12%,#405eff 14.72%,#409eff 15.51%,#04faff 16.4%,#00e38e 17.38%,#00cb2b 17.78%,#00c105 17.98%,#0dc300 18.07%,#a6e200 18.96%,#fffd00 19.65%,#ff9800 21.23%,#ff6f00 22.32%,#fb5a00 23.31%,#ec4300 26.57%,#df2f00 35.56%)"></i><i style="inset:95.62px;background:conic-gradient(from 26.0deg,#00e8a0 0%,#00ffff 4.54%,#12e5ff 7.01%,#09f1ff 9.48%,#3ea4ff 10.27%,#4069ff 10.96%,#4041ff 11.65%,#4040ed 12.94%,#4040fe 14.22%,#405fff 14.81%,#409fff 15.6%,#04f9ff 16.49%,#00e07e 17.48%,#06c100 18.17%,#9cdf00 19.06%,#fffc00 19.85%,#ff9000 21.63%,#ff6900 22.72%,#fa5800 23.6%,#eb4100 26.96%,#df2f00 35.56%)"></i><i style="inset:96.61px;background:conic-gradient(from 26.0deg,#00e79e 0%,#00ffff 4.94%,#0decff 7.11%,#06f6ff 9.28%,#3fa2ff 10.17%,#4069ff 10.86%,#4040ff 11.56%,#4040eb 12.94%,#4040fe 14.32%,#4060ff 14.91%,#409fff 15.7%,#05f7ff 16.59%,#00fefc 16.69%,#00e184 17.58%,#00c104 18.27%,#0dc300 18.37%,#9fe000 19.26%,#fffc00 20.05%,#ff9300 21.73%,#ff6b00 22.81%,#fa5800 23.7%,#ea3f00 27.16%,#df2f00 35.56%)"></i><i style="inset:97.61px;background:conic-gradient(from 26.0deg,#00e79c 0%,#00ffff 5.43%,#08f3ff 7.21%,#03faff 9.09%,#40a0ff 10.07%,#4043ff 11.36%,#4040e8 12.94%,#4040fe 14.42%,#4060ff 15.01%,#409fff 15.8%,#00ffff 16.79%,#00df7b 17.78%,#04c100 18.47%,#a4e100 19.46%,#fcfe00 20.15%,#fff900 20.25%,#ff9200 21.93%,#ff6500 23.21%,#f85600 24.1%,#e93e00 27.56%,#df2f00 35.56%)"></i><i style="inset:98.6px;background:conic-gradient(from 26.0deg,#00e69a 0%,#00fefb 5.73%,#00fffe 8.99%,#40a0ff 9.98%,#4040ff 11.36%,#4040e8 12.94%,#4040fc 14.42%,#405cff 15.01%,#3fa1ff 15.9%,#06f5ff 16.79%,#00fffe 16.89%,#00df7e 17.88%,#00c001 18.57%,#9ee000 19.56%,#ffff00 20.35%,#ff9100 22.22%,#ff6600 23.41%,#f85600 24.3%,#e83c00 27.75%,#df2f00 35.56%)"></i><i style="inset:99.6px;background:conic-gradient(from 26.0deg,#00e698 0%,#00fcf1 5.53%,#01fdff 8.89%,#40a1ff 9.88%,#4042ff 11.26%,#4040e8 12.94%,#4040fe 14.52%,#4066ff 15.21%,#3ea3ff 16%,#00ffff 16.99%,#00e183 17.98%,#05c100 18.77%,#9bdf00 19.75%,#fffb00 20.64%,#ff8e00 22.52%,#ff6200 23.8%,#f75400 24.59%,#e73b00 28.05%,#df2f00 35.56%)"></i><i style="inset:100.6px;background:conic-gradient(from 26.0deg,#00e596 0%,#00f9e7 5.33%,#00fbf1 8.59%,#00fefb 8.69%,#40a0ff 9.78%,#4040ff 11.26%,#4040e8 12.94%,#4040fd 14.52%,#4062ff 15.21%,#409cff 16%,#02fcff 17.09%,#00e07f 18.17%,#06c100 18.96%,#9bdf00 19.95%,#fffb00 20.84%,#ff8f00 22.72%,#ff6700 23.8%,#f95600 24.69%,#e73b00 28.25%,#df2f00 35.56%)"></i><i style="inset:101.59px;background:conic-gradient(from 26.0deg,#00e595 0%,#00f8e2 5.53%,#00faea 8.4%,#00fefc 8.59%,#3fa2ff 9.68%,#4043ff 11.16%,#4040e9 12.94%,#4040fd 14.52%,#4060ff 15.21%,#409eff 16.1%,#01fdff 17.19%,#00e080 18.27%,#03c100 19.06%,#a3e100 20.15%,#ffff00 20.94%,#ff9200 22.91%,#ff6600 24.2%,#f85500 25.09%,#e73a00 28.54%,#df2f00 35.56%)"></i><i style="inset:102.59px;background:conic-gradient(from 26.0deg,#00e593 0%,#00f6da 5.43%,#00f8e3 8.2%,#00ffff 8.49%,#3ea3ff 9.58%,#4042ff 11.16%,#4040eb 12.94%,#4040fd 14.52%,#4064ff 15.31%,#3fa1ff 16.2%,#02fcff 17.28%,#00e186 18.37%,#05c100 19.26%,#a7e200 20.44%,#fdff00 21.23%,#fff900 21.33%,#ff8f00 23.31%,#f85500 25.38%,#e63a00 28.74%,#df2f00 35.56%)"></i><i style="inset:103.58px;background:conic-gradient(from 26.0deg,#00e491 0%,#00f4d3 5.33%,#00f7dc 8%,#00fefb 8.3%,#3ea3ff 9.48%,#4042ff 11.16%,#4040ec 12.94%,#4040fe 14.52%,#4062ff 15.31%,#3ea2ff 16.3%,#04f9ff 17.38%,#00e186 18.57%,#00c000 19.46%,#a2e100 20.64%,#fffd00 21.53%,#ff9200 23.51%,#f95600 25.58%,#e63a00 29.14%,#df2f00 35.56%)"></i><i style="inset:104.58px;background:conic-gradient(from 26.0deg,#00e48f 0%,#00f2cb 5.23%,#00f5d6 7.8%,#00fefc 8.2%,#409dff 9.48%,#4043ff 11.16%,#4040ee 12.94%,#4040ff 14.52%,#4066ff 15.41%,#409eff 16.3%,#04f9ff 17.48%,#00df7e 18.77%,#06c100 19.65%,#a4e100 20.84%,#fffd00 21.73%,#ff9600 23.7%,#fa5800 25.88%,#e63a00 29.43%,#df2f00 35.56%)"></i><i style="inset:105.58px;background:conic-gradient(from 26.0deg,#00e38e 0%,#00f1c5 5.23%,#00f3cf 7.6%,#00ffff 8.1%,#409fff 9.38%,#4065ff 10.37%,#4041ff 11.26%,#4040f1 12.84%,#4040fe 14.42%,#4061ff 15.31%,#40a0ff 16.4%,#05f8ff 17.58%,#00fffe 17.68%,#00e183 18.86%,#04c100 19.85%,#a4e100 21.14%,#fffb00 22.12%,#ff9600 24.1%,#fb5a00 26.17%,#e63a00 29.73%,#df2f00 35.56%)"></i><i style="inset:106.57px;background:conic-gradient(from 26.0deg,#00e38c 0%,#00efbe 5.04%,#00f2c8 7.31%,#00ffff 7.9%,#409fff 9.28%,#4046ff 11.16%,#4040f3 12.84%,#4040fe 14.32%,#4060ff 15.31%,#40a0ff 16.49%,#04faff 17.78%,#00e080 19.16%,#07c100 20.15%,#a4e100 21.43%,#fffc00 22.42%,#ff9c00 24.3%,#fc5b00 26.47%,#e73b00 29.93%,#df2f00 35.56%)"></i><i style="inset:107.57px;background:conic-gradient(from 26.0deg,#00e38b 0%,#00f0c2 7.11%,#00ffff 7.8%,#3fa1ff 9.19%,#404aff 11.06%,#4040f6 12.84%,#4040fe 14.22%,#4060ff 15.31%,#409dff 16.49%,#03faff 17.88%,#00e184 19.26%,#00c103 20.25%,#0ac200 20.35%,#a2e100 21.63%,#ffff00 22.62%,#ff9f00 24.59%,#ff6000 26.67%,#e83d00 30.22%,#e02f00 35.56%)"></i><i style="inset:108.56px;background:conic-gradient(from 26.0deg,#00e28a 0%,#00efbc 6.81%,#00fefb 7.6%,#3fa2ff 9.09%,#404fff 10.96%,#4040fe 11.65%,#4040ff 14.12%,#4060ff 15.31%,#409eff 16.59%,#01fdff 18.07%,#00e07f 19.56%,#07c100 20.64%,#a3e100 22.02%,#fffc00 23.11%,#ff9f00 25.09%,#fe5f00 27.26%,#e93d00 30.62%,#e03000 35.56%)"></i><i style="inset:109.56px;background:conic-gradient(from 26.0deg,#00e288 0%,#00edb5 6.52%,#00fffe 7.41%,#40a0ff 8.99%,#4055ff 10.77%,#4040ff 11.75%,#4040ff 13.93%,#4060ff 15.31%,#409dff 16.69%,#02fcff 18.27%,#00e185 19.75%,#08c200 20.94%,#9fe000 22.32%,#fffb00 23.51%,#ffa000 25.48%,#fe5f00 27.75%,#e93f00 31.01%,#e03000 35.56%)"></i><i style="inset:110.56px;background:conic-gradient(from 26.0deg,#00e287 0%,#00ecb1 6.42%,#00ffff 7.41%,#3fa2ff 8.99%,#4066ff 10.37%,#4046ff 11.75%,#4040ff 13.23%,#404dff 14.42%,#406eff 15.6%,#3ea3ff 16.79%,#03fbff 18.27%,#00e286 19.85%,#00c002 21.04%,#09c200 21.14%,#a2e100 22.62%,#fffc00 23.8%,#ff9e00 25.98%,#ff5f00 28.25%,#ea4000 31.41%,#e13100 35.56%)"></i><i style="inset:111.55px;background:conic-gradient(from 26.0deg,#00e186 0%,#00eaaa 6.02%,#00fefc 7.11%,#3fa1ff 8.89%,#406aff 10.27%,#404cff 11.65%,#4044ff 13.04%,#4050ff 14.42%,#4070ff 15.7%,#40a1ff 16.89%,#03fbff 18.57%,#00e183 20.25%,#00c001 21.43%,#9ee000 23.01%,#fffc00 24.3%,#ffa000 26.47%,#ff6000 28.84%,#ec4200 31.8%,#e23300 35.56%)"></i><i style="inset:112.55px;background:conic-gradient(from 26.0deg,#00e185 0%,#00e9a5 5.83%,#00feff 7.11%,#3fa2ff 8.99%,#4070ff 10.37%,#4055ff 11.65%,#404eff 13.14%,#4062ff 14.91%,#409eff 16.69%,#00feff 18.67%,#00e07f 20.44%,#06c100 21.73%,#a4e100 23.41%,#fffc00 24.69%,#ffa100 26.96%,#ff6100 29.43%,#ee4600 32.1%,#e43600 35.56%)"></i><i style="inset:113.54px;background:conic-gradient(from 26.0deg,#00e184 0%,#00e8a0 5.63%,#00fffe 7.01%,#3ea2ff 8.99%,#407aff 10.17%,#405dff 11.56%,#4055ff 13.14%,#4068ff 15.01%,#409eff 16.79%,#00ffff 18.86%,#00e183 20.64%,#06c100 22.02%,#a0e000 23.7%,#feff00 24.99%,#ff9f00 27.46%,#ff6100 30.02%,#e53800 35.56%)"></i><i style="inset:114.54px;background:conic-gradient(from 26.0deg,#00e183 0%,#00e79c 5.43%,#00fffd 7.01%,#3ea2ff 9.28%,#4080ff 10.47%,#4069ff 11.75%,#4063ff 13.23%,#4073ff 14.91%,#409fff 16.49%,#03fbff 18.77%,#00e080 20.84%,#01c000 22.22%,#a1e000 24.1%,#ffff00 25.48%,#ffa100 28.05%,#ff6800 30.42%,#e83c00 35.56%)"></i><i style="inset:115.54px;background:conic-gradient(from 26.0deg,#00e082 0%,#00e698 5.33%,#01fdff 7.11%,#3fa1ff 9.48%,#408bff 10.27%,#4072ff 11.75%,#406cff 13.23%,#4079ff 14.91%,#40a0ff 16.59%,#02fdff 18.96%,#00e182 21.04%,#03c100 22.52%,#a0e000 24.4%,#fffd00 25.88%,#ffa800 28.35%,#ff7000 30.72%,#fa5800 32.4%,#eb4100 35.56%)"></i><i style="inset:116.53px;background:conic-gradient(from 26.0deg,#00e081 0%,#00e595 5.33%,#00fefc 7.31%,#35b0ff 9.58%,#4095ff 10.67%,#4081ff 11.95%,#407dff 13.43%,#4087ff 14.91%,#3fa2ff 16.3%,#01feff 18.96%,#00e081 21.14%,#03c100 22.72%,#a0e000 24.79%,#ffff00 26.37%,#ffac00 28.84%,#ff7800 31.01%,#ff5f00 32.49%,#ef4800 35.56%)"></i><i style="inset:117.53px;background:conic-gradient(from 26.0deg,#00e080 0%,#00e492 5.23%,#00ffff 7.41%,#26c6ff 9.09%,#409eff 10.86%,#408aff 13.63%,#3ba8ff 16.2%,#01fdff 18.96%,#00e081 21.43%,#02c000 23.11%,#a1e000 25.28%,#ffff00 26.86%,#ffbd00 28.84%,#ff8900 31.01%,#ff6100 33.38%,#f44f00 35.56%)"></i><i style="inset:118.52px;background:conic-gradient(from 26.0deg,#00e080 0%,#00e48f 5.23%,#00fffd 7.51%,#38abff 10.67%,#4095ff 13.73%,#35b0ff 16.49%,#02fcff 19.26%,#00e081 21.93%,#04c100 23.7%,#9ddf00 25.88%,#fffd00 27.65%,#ff9700 31.31%,#fa5800 35.56%)"></i><i style="inset:119.52px;background:conic-gradient(from 26.0deg,#00e07f 0%,#00e38d 5.23%,#00fffe 7.8%,#33b4ff 10.96%,#3fa2ff 14.12%,#2ebaff 16.89%,#01feff 19.65%,#00e07f 22.72%,#00c001 24.59%,#a1e000 27.16%,#fffe00 29.04%,#ffa300 32.4%,#ff6a00 35.56%)"></i><i style="inset:120.52px;background:conic-gradient(from 26.0deg,#00e07e 0%,#00e289 4.35%,#00ffff 7.7%,#28c4ff 10.86%,#34b2ff 13.93%,#27c5ff 16.99%,#00feff 20.05%,#00e081 23.6%,#00c001 25.88%,#9fe000 28.84%,#fdfe00 31.01%,#ff9b00 35.56%)"></i><i style="inset:121.51px;background:conic-gradient(from 26.0deg,#00df7d 0%,#00e28a 5.63%,#00f0c3 8.2%,#00f9e7 10.57%,#00fdf8 12.94%,#00fdf7 15.21%,#00f6da 18.17%,#00e8a0 21.23%,#00df7d 22.62%,#00c102 25.78%,#a1e000 29.93%,#feff00 32.79%,#ffcc00 35.56%)"></i><i style="inset:122.51px;background:conic-gradient(from 26.0deg,#00df7d 0%,#00e288 7.51%,#00de7a 16.89%,#00db6b 17.19%,#00cd34 17.48%,#00cb2d 17.58%,#00c001 21.14%,#ffff00 34.07%,#ffed00 35.56%)"></i><i style="inset:123.5px;background:conic-gradient(from 26.0deg,#00df7c 0%,#00e287 7.51%,#00de79 16.89%,#00db6a 17.19%,#00c61a 17.58%,#03c100 17.68%,#aae300 18.17%,#c1eb00 18.27%,#ffff00 32.1%,#fff100 35.56%)"></i></div></div>
<svg style="position:absolute;left:0;top:0" width="960" height="600" viewBox="0 0 960 600"><circle cx="202" cy="184" r="73.2" fill="none" stroke="#000" stroke-opacity="0.5" stroke-width="0.8"/><circle cx="202" cy="447.5" r="73.2" fill="none" stroke="#000" stroke-opacity="0.5" stroke-width="0.8"/><path d="M 394.000000 121.646171 A 72 72 0 0 1 394.000000 246.353829" fill="none" stroke="#000" stroke-opacity="0.5" stroke-width="0.8"/><path d="M 394.000000 384.646171 A 72 72 0 0 1 394.000000 509.353829" fill="none" stroke="#000" stroke-opacity="0.5" stroke-width="0.8"/><circle cx="202" cy="184" r="7" fill="#000"/><circle cx="202" cy="184" r="4.2" fill="#ffee00"/><circle cx="358" cy="184" r="7" fill="#000"/><circle cx="358" cy="184" r="4.2" fill="#ffee00"/><circle cx="273.2" cy="184" r="3.15" fill="#80e080" stroke="#000" stroke-width="1.3"/><circle cx="246.6" cy="128.6" r="3.15" fill="#f07070" stroke="#000" stroke-width="1.3"/><circle cx="429" cy="188.7" r="2.95" fill="#80e0a0" stroke="#000" stroke-width="1.3"/><circle cx="202" cy="447.5" r="7" fill="#000"/><circle cx="202" cy="447.5" r="4.2" fill="#ffee00"/><circle cx="358" cy="447.5" r="7" fill="#000"/><circle cx="358" cy="447.5" r="4.2" fill="#ffee00"/><circle cx="273.2" cy="447.5" r="3.15" fill="#80e080" stroke="#000" stroke-width="1.3"/><circle cx="246.6" cy="392.1" r="3.15" fill="#f07070" stroke="#000" stroke-width="1.3"/><circle cx="429" cy="452.2" r="2.95" fill="#80e0a0" stroke="#000" stroke-width="1.3"/><defs><linearGradient id="g0" x1="0" y1="0" x2="0" y2="1"><stop offset="0.000" stop-color="rgb(16,16,16)"/><stop offset="0.493" stop-color="rgb(255,255,255)"/><stop offset="0.522" stop-color="rgb(255,176,255)"/><stop offset="0.555" stop-color="rgb(255,128,255)"/><stop offset="0.590" stop-color="rgb(224,48,112)"/><stop offset="0.617" stop-color="rgb(192,0,0)"/><stop offset="0.650" stop-color="rgb(224,48,0)"/><stop offset="0.680" stop-color="rgb(255,96,0)"/><stop offset="0.707" stop-color="rgb(255,160,0)"/><stop offset="0.745" stop-color="rgb(255,255,0)"/><stop offset="0.770" stop-color="rgb(160,224,0)"/><stop offset="0.807" stop-color="rgb(0,192,0)"/><stop offset="0.835" stop-color="rgb(0,224,128)"/><stop offset="0.873" stop-color="rgb(0,255,255)"/><stop offset="0.907" stop-color="rgb(64,160,255)"/><stop offset="0.940" stop-color="rgb(64,64,255)"/><stop offset="0.973" stop-color="rgb(64,64,192)"/><stop offset="1.000" stop-color="rgb(60,60,140)"/></linearGradient></defs><rect x="31" y="103" width="9" height="162" fill="url(#g0)"/><rect x="30.5" y="102.5" width="10" height="163" fill="none" stroke="#fff" stroke-width="1"/><defs><linearGradient id="g264" x1="0" y1="0" x2="0" y2="1"><stop offset="0.000" stop-color="rgb(16,16,16)"/><stop offset="0.493" stop-color="rgb(255,255,255)"/><stop offset="0.522" stop-color="rgb(255,176,255)"/><stop offset="0.555" stop-color="rgb(255,128,255)"/><stop offset="0.590" stop-color="rgb(224,48,112)"/><stop offset="0.617" stop-color="rgb(192,0,0)"/><stop offset="0.650" stop-color="rgb(224,48,0)"/><stop offset="0.680" stop-color="rgb(255,96,0)"/><stop offset="0.707" stop-color="rgb(255,160,0)"/><stop offset="0.745" stop-color="rgb(255,255,0)"/><stop offset="0.770" stop-color="rgb(160,224,0)"/><stop offset="0.807" stop-color="rgb(0,192,0)"/><stop offset="0.835" stop-color="rgb(0,224,128)"/><stop offset="0.873" stop-color="rgb(0,255,255)"/><stop offset="0.907" stop-color="rgb(64,160,255)"/><stop offset="0.940" stop-color="rgb(64,64,255)"/><stop offset="0.973" stop-color="rgb(64,64,192)"/><stop offset="1.000" stop-color="rgb(60,60,140)"/></linearGradient></defs><rect x="31" y="367" width="9" height="162" fill="url(#g264)"/><rect x="30.5" y="366.5" width="10" height="163" fill="none" stroke="#fff" stroke-width="1"/><rect x="41.5" y="326" width="9.5" height="1.2" fill="#d8d8d8"/><rect x="532.5" y="91.5" width="407" height="90" fill="none" stroke="#fff" stroke-width="1"/><line x1="590.8" y1="181" x2="590.8" y2="176" stroke="#fff" stroke-width="1"/><line x1="649.1" y1="181" x2="649.1" y2="176" stroke="#fff" stroke-width="1"/><line x1="707.4" y1="181" x2="707.4" y2="176" stroke="#fff" stroke-width="1"/><line x1="765.6" y1="181" x2="765.6" y2="176" stroke="#fff" stroke-width="1"/><line x1="823.9" y1="181" x2="823.9" y2="176" stroke="#fff" stroke-width="1"/><line x1="882.2" y1="181" x2="882.2" y2="176" stroke="#fff" stroke-width="1"/><rect x="532.5" y="193.5" width="407" height="90" fill="none" stroke="#fff" stroke-width="1"/><line x1="590.8" y1="283" x2="590.8" y2="278" stroke="#fff" stroke-width="1"/><line x1="649.1" y1="283" x2="649.1" y2="278" stroke="#fff" stroke-width="1"/><line x1="707.4" y1="283" x2="707.4" y2="278" stroke="#fff" stroke-width="1"/><line x1="765.6" y1="283" x2="765.6" y2="278" stroke="#fff" stroke-width="1"/><line x1="823.9" y1="283" x2="823.9" y2="278" stroke="#fff" stroke-width="1"/><line x1="882.2" y1="283" x2="882.2" y2="278" stroke="#fff" stroke-width="1"/><rect x="532.5" y="354.5" width="407" height="90" fill="none" stroke="#fff" stroke-width="1"/><line x1="590.8" y1="444" x2="590.8" y2="439" stroke="#fff" stroke-width="1"/><line x1="649.1" y1="444" x2="649.1" y2="439" stroke="#fff" stroke-width="1"/><line x1="707.4" y1="444" x2="707.4" y2="439" stroke="#fff" stroke-width="1"/><line x1="765.6" y1="444" x2="765.6" y2="439" stroke="#fff" stroke-width="1"/><line x1="823.9" y1="444" x2="823.9" y2="439" stroke="#fff" stroke-width="1"/><line x1="882.2" y1="444" x2="882.2" y2="439" stroke="#fff" stroke-width="1"/><rect x="532.5" y="456.5" width="407" height="90" fill="none" stroke="#fff" stroke-width="1"/><line x1="590.8" y1="546" x2="590.8" y2="541" stroke="#fff" stroke-width="1"/><line x1="649.1" y1="546" x2="649.1" y2="541" stroke="#fff" stroke-width="1"/><line x1="707.4" y1="546" x2="707.4" y2="541" stroke="#fff" stroke-width="1"/><line x1="765.6" y1="546" x2="765.6" y2="541" stroke="#fff" stroke-width="1"/><line x1="823.9" y1="546" x2="823.9" y2="541" stroke="#fff" stroke-width="1"/><line x1="882.2" y1="546" x2="882.2" y2="541" stroke="#fff" stroke-width="1"/><line x1="533" y1="159.0" x2="538" y2="159.0" stroke="#fff"/><line x1="935" y1="159.0" x2="940" y2="159.0" stroke="#fff"/><line x1="533" y1="136.5" x2="538" y2="136.5" stroke="#fff"/><line x1="935" y1="136.5" x2="940" y2="136.5" stroke="#fff"/><line x1="533" y1="114.0" x2="538" y2="114.0" stroke="#fff"/><line x1="935" y1="114.0" x2="940" y2="114.0" stroke="#fff"/><line x1="533" y1="261.0" x2="538" y2="261.0" stroke="#fff"/><line x1="935" y1="261.0" x2="940" y2="261.0" stroke="#fff"/><line x1="533" y1="238.5" x2="538" y2="238.5" stroke="#fff"/><line x1="935" y1="238.5" x2="940" y2="238.5" stroke="#fff"/><line x1="533" y1="216.0" x2="538" y2="216.0" stroke="#fff"/><line x1="935" y1="216.0" x2="940" y2="216.0" stroke="#fff"/><line x1="533" y1="429.5" x2="538" y2="429.5" stroke="#fff"/><line x1="935" y1="429.5" x2="940" y2="429.5" stroke="#fff"/><line x1="533" y1="414.5" x2="538" y2="414.5" stroke="#fff"/><line x1="935" y1="414.5" x2="940" y2="414.5" stroke="#fff"/><line x1="533" y1="399.5" x2="538" y2="399.5" stroke="#fff"/><line x1="935" y1="399.5" x2="940" y2="399.5" stroke="#fff"/><line x1="533" y1="384.5" x2="538" y2="384.5" stroke="#fff"/><line x1="935" y1="384.5" x2="940" y2="384.5" stroke="#fff"/><line x1="533" y1="369.5" x2="538" y2="369.5" stroke="#fff"/><line x1="935" y1="369.5" x2="940" y2="369.5" stroke="#fff"/><line x1="533" y1="531.5" x2="538" y2="531.5" stroke="#fff"/><line x1="935" y1="531.5" x2="940" y2="531.5" stroke="#fff"/><line x1="533" y1="516.5" x2="538" y2="516.5" stroke="#fff"/><line x1="935" y1="516.5" x2="940" y2="516.5" stroke="#fff"/><line x1="533" y1="501.5" x2="538" y2="501.5" stroke="#fff"/><line x1="935" y1="501.5" x2="940" y2="501.5" stroke="#fff"/><line x1="533" y1="486.5" x2="538" y2="486.5" stroke="#fff"/><line x1="935" y1="486.5" x2="940" y2="486.5" stroke="#fff"/><line x1="533" y1="471.5" x2="538" y2="471.5" stroke="#fff"/><line x1="935" y1="471.5" x2="940" y2="471.5" stroke="#fff"/><polyline points="532.6,152.5 534.0,152.8 535.4,153.1 536.9,153.5 538.8,154.2 541.1,155.5 543.8,157.1 546.7,158.8 549.7,160.1 552.6,160.9 555.6,161.4 558.9,161.8 562.8,162.5 567.5,163.5 572.8,164.7 578.6,165.9 584.7,166.9 591.1,167.6 597.9,168.2 605.2,168.6 613.1,169.1 621.9,169.6 631.4,170.2 641.1,170.7 650.3,171.1 658.3,171.3 665.6,171.5 673.5,171.6 683.1,171.7 695.2,171.9 708.9,172.1 723.3,172.3 737.2,172.4 751.5,172.4 766.3,172.4 779.7,172.4 789.7,172.4 794.5,172.5 795.6,172.6 795.9,172.6 798.4,172.4 804.1,171.9 811.4,171.2 819.3,170.3 826.9,169.5 833.9,168.7 840.8,168.0 847.9,167.2 855.3,166.3 863.2,165.3 871.4,164.3 879.8,163.2 888.1,161.9 896.7,160.4 905.4,158.6 913.8,156.9 921.0,155.3 926.6,153.9 931.1,152.7 935.2,151.5 939.5,150.3" fill="none" stroke="#b0f4b0" stroke-width="1.1"/><polyline points="532.6,259.2 537.4,258.7 542.1,258.2 546.9,257.6 551.9,257.0 557.2,256.3 562.7,255.6 568.3,254.8 573.8,253.8 579.3,252.7 584.7,251.4 590.1,249.9 595.6,248.3 601.1,246.4 606.5,244.3 612.0,242.1 617.5,240.0 623.0,238.0 628.5,235.9 633.9,233.9 639.4,231.9 645.1,229.7 651.0,227.4 656.6,225.3 661.3,223.8 664.8,223.0 667.4,222.6 669.7,222.6 672.2,222.5 674.9,222.3 677.6,222.2 680.4,222.3 683.1,222.5 685.6,222.8 687.9,223.3 690.6,224.0 694.1,225.3 698.8,227.3 704.4,229.9 710.3,232.7 716.0,235.2 721.6,237.4 727.3,239.6 732.6,241.6 737.2,243.3 740.5,244.5 743.0,245.4 745.3,246.3 748.1,247.6 751.6,249.4 755.5,251.6 759.5,253.9 763.4,255.9 767.1,257.6 770.7,259.2 774.5,260.7 778.8,262.1 783.8,263.5 789.3,265.0 795.0,266.2 800.6,267.3 805.8,268.1 810.9,268.6 816.3,269.0 822.5,269.5 829.9,270.1 838.2,270.7 846.8,271.2 855.3,271.7 863.4,272.1 871.4,272.5 879.6,272.8 888.1,273.0 897.6,273.1 907.9,273.2 917.5,273.3 925.3,273.4 930.5,273.6 933.8,273.9 936.5,274.2 939.5,274.5" fill="none" stroke="#f4a4a4" stroke-width="1.1"/><polyline points="532.6,403.3 534.5,401.9 536.2,400.6 538.2,399.1 540.9,397.2 544.4,394.8 548.5,392.1 553.2,389.2 558.4,386.3 564.4,383.2 571.0,379.9 577.9,376.7 584.7,374.2 591.2,372.4 597.7,371.0 604.2,370.1 610.9,369.4 617.8,369.0 624.7,368.9 631.9,369.1 639.4,369.4 647.3,369.8 655.5,370.4 663.9,371.2 672.2,372.0 680.4,372.9 688.6,373.9 696.8,375.1 705.0,376.4 713.4,378.1 721.9,380.0 730.0,381.9 737.2,383.6 742.7,384.8 747.0,385.6 751.3,386.7 756.9,388.4 764.2,391.2 772.5,394.7 781.2,398.3 789.7,401.6 797.9,404.4 806.1,407.0 814.3,409.3 822.5,411.4 830.7,413.2 838.9,414.7 847.1,416.0 855.3,417.3 863.5,418.5 871.7,419.5 879.9,420.4 888.1,421.3 896.7,422.2 905.4,423.1 913.8,423.9 921.0,424.5 926.6,424.9 931.1,425.0 935.2,425.1 939.5,425.2" fill="none" stroke="#b0f4b0" stroke-width="1.1"/><polyline points="532.6,526.7 537.1,527.1 541.4,527.5 546.1,528.0 551.9,528.5 559.2,529.1 567.5,529.8 576.2,530.5 584.7,531.1 592.6,531.7 600.4,532.4 608.5,532.9 617.5,533.3 628.2,533.5 640.1,533.7 651.6,533.6 661.3,533.3 668.3,532.7 673.6,531.8 678.2,530.8 683.1,529.6 688.3,528.3 693.4,526.8 698.8,525.2 705.0,523.4 712.7,521.3 721.5,519.0 730.1,516.7 737.2,514.7 742.2,513.2 745.9,512.0 749.1,510.8 752.5,509.2 756.3,507.1 760.0,504.8 763.8,502.2 767.8,499.4 772.0,496.3 776.3,492.8 780.7,489.4 785.3,486.3 790.0,483.6 794.9,481.2 799.9,479.0 805.0,477.1 809.9,475.5 814.7,474.2 820.1,473.2 826.9,472.5 835.7,472.1 845.9,472.0 856.5,472.2 866.3,472.5 875.2,473.0 883.8,473.8 891.8,474.6 899.1,475.3 905.4,475.9 910.9,476.3 916.0,476.8 921.0,477.5 925.9,478.4 930.5,479.3 935.0,480.4 939.5,481.4" fill="none" stroke="#f4a4a4" stroke-width="1.1"/><rect x="736" y="91" width="2" height="90" fill="#ffff80"/><rect x="736" y="193" width="2" height="90" fill="#ffff80"/><rect x="736" y="354" width="2" height="90" fill="#ffff80"/><rect x="736" y="456" width="2" height="90" fill="#ffff80"/><circle cx="737" cy="172.4" r="2.3" fill="#d0f060"/><circle cx="737" cy="243.3" r="2.3" fill="#f0e060"/><circle cx="737" cy="383.6" r="2.3" fill="#d0f060"/><circle cx="737" cy="514.7" r="2.3" fill="#f0e060"/></svg>
<div class="t" style="left:666.6px;top:71.3px;font-size:14.2px;color:#d8d8d8;">Plasma Density (/cm<sup style="font-size:9px;vertical-align:7px">3</sup>)</div>
<div class="t" style="left:666.6px;top:334.4px;font-size:14.2px;color:#d8d8d8;">Radial Velocity (km/s)</div>
<div class="t" style="left:542.7px;top:96.3px;font-size:14px;color:#d8d8d8;">EARTH</div>
<div class="t" style="left:542.7px;top:359.3px;font-size:14px;color:#d8d8d8;">EARTH</div>
<div class="t" style="left:542.7px;top:198.3px;font-size:14px;color:#d8d8d8;">STEREO A</div>
<div class="t" style="left:542.7px;top:461.3px;font-size:14px;color:#d8d8d8;">STEREO A</div>
<div class="t" style="right:437px;top:151.0px;font-size:14px">5</div>
<div class="t" style="right:437px;top:106.0px;font-size:14px">15</div>
<div class="t" style="right:437px;top:253.0px;font-size:14px">5</div>
<div class="t" style="right:437px;top:208.0px;font-size:14px">15</div>
<div class="t" style="right:437px;top:421.5px;font-size:14px">300</div>
<div class="t" style="right:437px;top:391.5px;font-size:14px">500</div>
<div class="t" style="right:437px;top:361.5px;font-size:14px">700</div>
<div class="t" style="right:437px;top:523.5px;font-size:14px">300</div>
<div class="t" style="right:437px;top:493.5px;font-size:14px">500</div>
<div class="t" style="right:437px;top:463.5px;font-size:14px">700</div>
<div class="t" style="left:532.5px;top:288px;font-size:14px;width:40px;margin-left:-20px;text-align:center">20</div>
<div class="t" style="left:590.8px;top:288px;font-size:14px;width:40px;margin-left:-20px;text-align:center">21</div>
<div class="t" style="left:649.1px;top:288px;font-size:14px;width:40px;margin-left:-20px;text-align:center">22</div>
<div class="t" style="left:707.4px;top:288px;font-size:14px;width:40px;margin-left:-20px;text-align:center">23</div>
<div class="t" style="left:765.6px;top:288px;font-size:14px;width:40px;margin-left:-20px;text-align:center">24</div>
<div class="t" style="left:823.9px;top:288px;font-size:14px;width:40px;margin-left:-20px;text-align:center">25</div>
<div class="t" style="left:882.2px;top:288px;font-size:14px;width:40px;margin-left:-20px;text-align:center">26</div>
<div class="t" style="left:940.5px;top:288px;font-size:14px;width:40px;margin-left:-20px;text-align:center">27</div>
<div class="t" style="left:532.5px;top:551px;font-size:14px;width:40px;margin-left:-20px;text-align:center">20</div>
<div class="t" style="left:590.8px;top:551px;font-size:14px;width:40px;margin-left:-20px;text-align:center">21</div>
<div class="t" style="left:649.1px;top:551px;font-size:14px;width:40px;margin-left:-20px;text-align:center">22</div>
<div class="t" style="left:707.4px;top:551px;font-size:14px;width:40px;margin-left:-20px;text-align:center">23</div>
<div class="t" style="left:765.6px;top:551px;font-size:14px;width:40px;margin-left:-20px;text-align:center">24</div>
<div class="t" style="left:823.9px;top:551px;font-size:14px;width:40px;margin-left:-20px;text-align:center">25</div>
<div class="t" style="left:882.2px;top:551px;font-size:14px;width:40px;margin-left:-20px;text-align:center">26</div>
<div class="t" style="left:940.5px;top:551px;font-size:14px;width:40px;margin-left:-20px;text-align:center">27</div>
<div class="t" style="left:47px;top:96.0px;font-size:14px">60</div>
<div class="t" style="left:47px;top:136.5px;font-size:14px">45</div>
<div class="t" style="left:47px;top:177.0px;font-size:14px">30</div>
<div class="t" style="left:47px;top:217.5px;font-size:14px">15</div>
<div class="t" style="left:47px;top:258.0px;font-size:14px">0</div>
<div class="t" style="left:44.5px;top:360.0px;font-size:14px">1600</div>
<div class="t" style="left:44.5px;top:400.5px;font-size:14px">1250</div>
<div class="t" style="left:45.8px;top:441.0px;font-size:14px">900</div>
<div class="t" style="left:45.8px;top:481.5px;font-size:14px">550</div>
<div class="t" style="left:45.8px;top:522.0px;font-size:14px">200</div>
<div class="t" style="left:12.5px;top:265px;font-size:14px;transform-origin:0 0;transform:rotate(-90deg)">Plasma Density (r<sup style="font-size:8.5px;vertical-align:7px">2</sup>N/cm<sup style="font-size:8.5px;vertical-align:7px">3</sup>)</div>
<div class="t" style="left:12.5px;top:529px;font-size:14px;transform-origin:0 0;transform:rotate(-90deg)">Radial Velocity (km/s)</div>
<div class="t" style="left:3.1px;top:583.1px;font-size:14.35px;color:#d8d8d8;">Space Weather Prediction Center</div>
<div class="t" style="left:375.9px;top:583.1px;font-size:14.3px;color:#d8d8d8;">Run Time: 2026-01-22 00:00Z</div>
<div class="t" style="left:575.2px;top:583.1px;font-size:14.3px;color:#d8d8d8;">Mode: Ambient</div>
<div class="t" style="left:733.6px;top:583.1px;font-size:14.3px;color:#d8d8d8;">Image Created: 2026-01-22 01:26Z</div></body></html>
